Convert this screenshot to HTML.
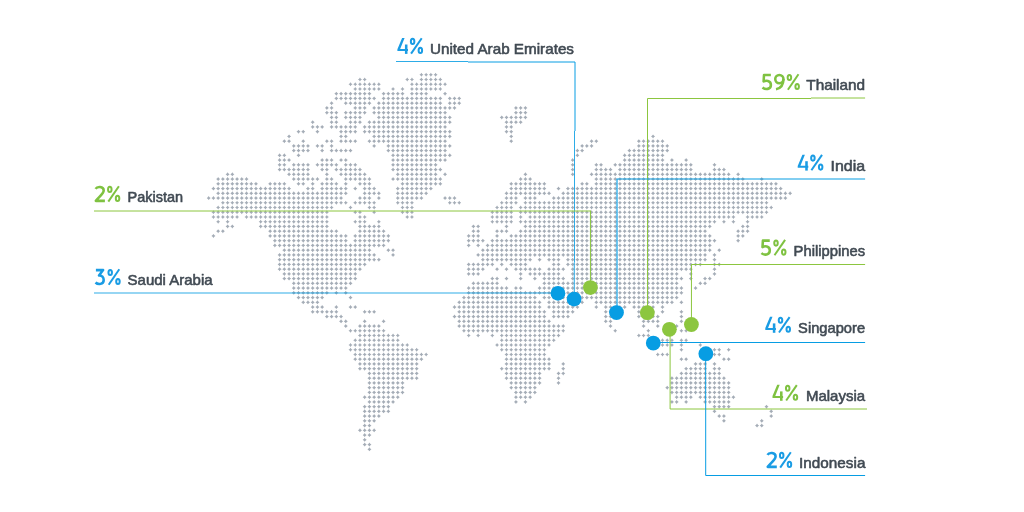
<!DOCTYPE html>
<html><head><meta charset="utf-8"><title>Map</title>
<style>
html,body{margin:0;padding:0;background:#fff;}
body{width:1024px;height:512px;overflow:hidden;font-family:"Liberation Sans",sans-serif;}
svg{display:block;font-family:"Liberation Sans",sans-serif;will-change:transform;}
</style></head><body>
<svg width="1024" height="512" viewBox="0 0 1024 512">
<rect width="1024" height="512" fill="#fff"/>
<path fill="#a5adb7" d="M421.41 74.76m-2 0 1.15-.85.85-1.15.85 1.15 1.15.85-1.15.85-.85 1.15-.85-1.15zM426.14 74.76m-2 0 1.15-.85.85-1.15.85 1.15 1.15.85-1.15.85-.85 1.15-.85-1.15zM430.87 74.76m-2 0 1.15-.85.85-1.15.85 1.15 1.15.85-1.15.85-.85 1.15-.85-1.15zM435.60 74.76m-2 0 1.15-.85.85-1.15.85 1.15 1.15.85-1.15.85-.85 1.15-.85-1.15zM359.96 79.50m-2 0 1.15-.85.85-1.15.85 1.15 1.15.85-1.15.85-.85 1.15-.85-1.15zM364.69 79.50m-2 0 1.15-.85.85-1.15.85 1.15 1.15.85-1.15.85-.85 1.15-.85-1.15zM407.23 79.50m-2 0 1.15-.85.85-1.15.85 1.15 1.15.85-1.15.85-.85 1.15-.85-1.15zM411.96 79.50m-2 0 1.15-.85.85-1.15.85 1.15 1.15.85-1.15.85-.85 1.15-.85-1.15zM421.41 79.50m-2 0 1.15-.85.85-1.15.85 1.15 1.15.85-1.15.85-.85 1.15-.85-1.15zM426.14 79.50m-2 0 1.15-.85.85-1.15.85 1.15 1.15.85-1.15.85-.85 1.15-.85-1.15zM430.87 79.50m-2 0 1.15-.85.85-1.15.85 1.15 1.15.85-1.15.85-.85 1.15-.85-1.15zM435.60 79.50m-2 0 1.15-.85.85-1.15.85 1.15 1.15.85-1.15.85-.85 1.15-.85-1.15zM440.32 79.50m-2 0 1.15-.85.85-1.15.85 1.15 1.15.85-1.15.85-.85 1.15-.85-1.15zM350.51 84.24m-2 0 1.15-.85.85-1.15.85 1.15 1.15.85-1.15.85-.85 1.15-.85-1.15zM355.24 84.24m-2 0 1.15-.85.85-1.15.85 1.15 1.15.85-1.15.85-.85 1.15-.85-1.15zM359.96 84.24m-2 0 1.15-.85.85-1.15.85 1.15 1.15.85-1.15.85-.85 1.15-.85-1.15zM364.69 84.24m-2 0 1.15-.85.85-1.15.85 1.15 1.15.85-1.15.85-.85 1.15-.85-1.15zM369.42 84.24m-2 0 1.15-.85.85-1.15.85 1.15 1.15.85-1.15.85-.85 1.15-.85-1.15zM374.14 84.24m-2 0 1.15-.85.85-1.15.85 1.15 1.15.85-1.15.85-.85 1.15-.85-1.15zM378.87 84.24m-2 0 1.15-.85.85-1.15.85 1.15 1.15.85-1.15.85-.85 1.15-.85-1.15zM411.96 84.24m-2 0 1.15-.85.85-1.15.85 1.15 1.15.85-1.15.85-.85 1.15-.85-1.15zM416.69 84.24m-2 0 1.15-.85.85-1.15.85 1.15 1.15.85-1.15.85-.85 1.15-.85-1.15zM421.41 84.24m-2 0 1.15-.85.85-1.15.85 1.15 1.15.85-1.15.85-.85 1.15-.85-1.15zM426.14 84.24m-2 0 1.15-.85.85-1.15.85 1.15 1.15.85-1.15.85-.85 1.15-.85-1.15zM430.87 84.24m-2 0 1.15-.85.85-1.15.85 1.15 1.15.85-1.15.85-.85 1.15-.85-1.15zM435.60 84.24m-2 0 1.15-.85.85-1.15.85 1.15 1.15.85-1.15.85-.85 1.15-.85-1.15zM440.32 84.24m-2 0 1.15-.85.85-1.15.85 1.15 1.15.85-1.15.85-.85 1.15-.85-1.15zM445.05 84.24m-2 0 1.15-.85.85-1.15.85 1.15 1.15.85-1.15.85-.85 1.15-.85-1.15zM355.24 88.98m-2 0 1.15-.85.85-1.15.85 1.15 1.15.85-1.15.85-.85 1.15-.85-1.15zM359.96 88.98m-2 0 1.15-.85.85-1.15.85 1.15 1.15.85-1.15.85-.85 1.15-.85-1.15zM364.69 88.98m-2 0 1.15-.85.85-1.15.85 1.15 1.15.85-1.15.85-.85 1.15-.85-1.15zM369.42 88.98m-2 0 1.15-.85.85-1.15.85 1.15 1.15.85-1.15.85-.85 1.15-.85-1.15zM374.14 88.98m-2 0 1.15-.85.85-1.15.85 1.15 1.15.85-1.15.85-.85 1.15-.85-1.15zM378.87 88.98m-2 0 1.15-.85.85-1.15.85 1.15 1.15.85-1.15.85-.85 1.15-.85-1.15zM393.05 88.98m-2 0 1.15-.85.85-1.15.85 1.15 1.15.85-1.15.85-.85 1.15-.85-1.15zM402.51 88.98m-2 0 1.15-.85.85-1.15.85 1.15 1.15.85-1.15.85-.85 1.15-.85-1.15zM411.96 88.98m-2 0 1.15-.85.85-1.15.85 1.15 1.15.85-1.15.85-.85 1.15-.85-1.15zM416.69 88.98m-2 0 1.15-.85.85-1.15.85 1.15 1.15.85-1.15.85-.85 1.15-.85-1.15zM421.41 88.98m-2 0 1.15-.85.85-1.15.85 1.15 1.15.85-1.15.85-.85 1.15-.85-1.15zM426.14 88.98m-2 0 1.15-.85.85-1.15.85 1.15 1.15.85-1.15.85-.85 1.15-.85-1.15zM430.87 88.98m-2 0 1.15-.85.85-1.15.85 1.15 1.15.85-1.15.85-.85 1.15-.85-1.15zM435.60 88.98m-2 0 1.15-.85.85-1.15.85 1.15 1.15.85-1.15.85-.85 1.15-.85-1.15zM440.32 88.98m-2 0 1.15-.85.85-1.15.85 1.15 1.15.85-1.15.85-.85 1.15-.85-1.15zM336.33 93.72m-2 0 1.15-.85.85-1.15.85 1.15 1.15.85-1.15.85-.85 1.15-.85-1.15zM341.06 93.72m-2 0 1.15-.85.85-1.15.85 1.15 1.15.85-1.15.85-.85 1.15-.85-1.15zM345.78 93.72m-2 0 1.15-.85.85-1.15.85 1.15 1.15.85-1.15.85-.85 1.15-.85-1.15zM350.51 93.72m-2 0 1.15-.85.85-1.15.85 1.15 1.15.85-1.15.85-.85 1.15-.85-1.15zM355.24 93.72m-2 0 1.15-.85.85-1.15.85 1.15 1.15.85-1.15.85-.85 1.15-.85-1.15zM359.96 93.72m-2 0 1.15-.85.85-1.15.85 1.15 1.15.85-1.15.85-.85 1.15-.85-1.15zM364.69 93.72m-2 0 1.15-.85.85-1.15.85 1.15 1.15.85-1.15.85-.85 1.15-.85-1.15zM369.42 93.72m-2 0 1.15-.85.85-1.15.85 1.15 1.15.85-1.15.85-.85 1.15-.85-1.15zM383.60 93.72m-2 0 1.15-.85.85-1.15.85 1.15 1.15.85-1.15.85-.85 1.15-.85-1.15zM388.33 93.72m-2 0 1.15-.85.85-1.15.85 1.15 1.15.85-1.15.85-.85 1.15-.85-1.15zM393.05 93.72m-2 0 1.15-.85.85-1.15.85 1.15 1.15.85-1.15.85-.85 1.15-.85-1.15zM397.78 93.72m-2 0 1.15-.85.85-1.15.85 1.15 1.15.85-1.15.85-.85 1.15-.85-1.15zM402.51 93.72m-2 0 1.15-.85.85-1.15.85 1.15 1.15.85-1.15.85-.85 1.15-.85-1.15zM411.96 93.72m-2 0 1.15-.85.85-1.15.85 1.15 1.15.85-1.15.85-.85 1.15-.85-1.15zM416.69 93.72m-2 0 1.15-.85.85-1.15.85 1.15 1.15.85-1.15.85-.85 1.15-.85-1.15zM421.41 93.72m-2 0 1.15-.85.85-1.15.85 1.15 1.15.85-1.15.85-.85 1.15-.85-1.15zM426.14 93.72m-2 0 1.15-.85.85-1.15.85 1.15 1.15.85-1.15.85-.85 1.15-.85-1.15zM445.05 93.72m-2 0 1.15-.85.85-1.15.85 1.15 1.15.85-1.15.85-.85 1.15-.85-1.15zM336.33 98.47m-2 0 1.15-.85.85-1.15.85 1.15 1.15.85-1.15.85-.85 1.15-.85-1.15zM341.06 98.47m-2 0 1.15-.85.85-1.15.85 1.15 1.15.85-1.15.85-.85 1.15-.85-1.15zM345.78 98.47m-2 0 1.15-.85.85-1.15.85 1.15 1.15.85-1.15.85-.85 1.15-.85-1.15zM350.51 98.47m-2 0 1.15-.85.85-1.15.85 1.15 1.15.85-1.15.85-.85 1.15-.85-1.15zM355.24 98.47m-2 0 1.15-.85.85-1.15.85 1.15 1.15.85-1.15.85-.85 1.15-.85-1.15zM359.96 98.47m-2 0 1.15-.85.85-1.15.85 1.15 1.15.85-1.15.85-.85 1.15-.85-1.15zM364.69 98.47m-2 0 1.15-.85.85-1.15.85 1.15 1.15.85-1.15.85-.85 1.15-.85-1.15zM369.42 98.47m-2 0 1.15-.85.85-1.15.85 1.15 1.15.85-1.15.85-.85 1.15-.85-1.15zM374.14 98.47m-2 0 1.15-.85.85-1.15.85 1.15 1.15.85-1.15.85-.85 1.15-.85-1.15zM383.60 98.47m-2 0 1.15-.85.85-1.15.85 1.15 1.15.85-1.15.85-.85 1.15-.85-1.15zM388.33 98.47m-2 0 1.15-.85.85-1.15.85 1.15 1.15.85-1.15.85-.85 1.15-.85-1.15zM393.05 98.47m-2 0 1.15-.85.85-1.15.85 1.15 1.15.85-1.15.85-.85 1.15-.85-1.15zM397.78 98.47m-2 0 1.15-.85.85-1.15.85 1.15 1.15.85-1.15.85-.85 1.15-.85-1.15zM402.51 98.47m-2 0 1.15-.85.85-1.15.85 1.15 1.15.85-1.15.85-.85 1.15-.85-1.15zM407.23 98.47m-2 0 1.15-.85.85-1.15.85 1.15 1.15.85-1.15.85-.85 1.15-.85-1.15zM411.96 98.47m-2 0 1.15-.85.85-1.15.85 1.15 1.15.85-1.15.85-.85 1.15-.85-1.15zM416.69 98.47m-2 0 1.15-.85.85-1.15.85 1.15 1.15.85-1.15.85-.85 1.15-.85-1.15zM421.41 98.47m-2 0 1.15-.85.85-1.15.85 1.15 1.15.85-1.15.85-.85 1.15-.85-1.15zM426.14 98.47m-2 0 1.15-.85.85-1.15.85 1.15 1.15.85-1.15.85-.85 1.15-.85-1.15zM430.87 98.47m-2 0 1.15-.85.85-1.15.85 1.15 1.15.85-1.15.85-.85 1.15-.85-1.15zM435.60 98.47m-2 0 1.15-.85.85-1.15.85 1.15 1.15.85-1.15.85-.85 1.15-.85-1.15zM440.32 98.47m-2 0 1.15-.85.85-1.15.85 1.15 1.15.85-1.15.85-.85 1.15-.85-1.15zM449.78 98.47m-2 0 1.15-.85.85-1.15.85 1.15 1.15.85-1.15.85-.85 1.15-.85-1.15zM454.50 98.47m-2 0 1.15-.85.85-1.15.85 1.15 1.15.85-1.15.85-.85 1.15-.85-1.15zM459.23 98.47m-2 0 1.15-.85.85-1.15.85 1.15 1.15.85-1.15.85-.85 1.15-.85-1.15zM331.60 103.21m-2 0 1.15-.85.85-1.15.85 1.15 1.15.85-1.15.85-.85 1.15-.85-1.15zM345.78 103.21m-2 0 1.15-.85.85-1.15.85 1.15 1.15.85-1.15.85-.85 1.15-.85-1.15zM350.51 103.21m-2 0 1.15-.85.85-1.15.85 1.15 1.15.85-1.15.85-.85 1.15-.85-1.15zM355.24 103.21m-2 0 1.15-.85.85-1.15.85 1.15 1.15.85-1.15.85-.85 1.15-.85-1.15zM359.96 103.21m-2 0 1.15-.85.85-1.15.85 1.15 1.15.85-1.15.85-.85 1.15-.85-1.15zM364.69 103.21m-2 0 1.15-.85.85-1.15.85 1.15 1.15.85-1.15.85-.85 1.15-.85-1.15zM369.42 103.21m-2 0 1.15-.85.85-1.15.85 1.15 1.15.85-1.15.85-.85 1.15-.85-1.15zM378.87 103.21m-2 0 1.15-.85.85-1.15.85 1.15 1.15.85-1.15.85-.85 1.15-.85-1.15zM383.60 103.21m-2 0 1.15-.85.85-1.15.85 1.15 1.15.85-1.15.85-.85 1.15-.85-1.15zM388.33 103.21m-2 0 1.15-.85.85-1.15.85 1.15 1.15.85-1.15.85-.85 1.15-.85-1.15zM393.05 103.21m-2 0 1.15-.85.85-1.15.85 1.15 1.15.85-1.15.85-.85 1.15-.85-1.15zM397.78 103.21m-2 0 1.15-.85.85-1.15.85 1.15 1.15.85-1.15.85-.85 1.15-.85-1.15zM402.51 103.21m-2 0 1.15-.85.85-1.15.85 1.15 1.15.85-1.15.85-.85 1.15-.85-1.15zM407.23 103.21m-2 0 1.15-.85.85-1.15.85 1.15 1.15.85-1.15.85-.85 1.15-.85-1.15zM411.96 103.21m-2 0 1.15-.85.85-1.15.85 1.15 1.15.85-1.15.85-.85 1.15-.85-1.15zM416.69 103.21m-2 0 1.15-.85.85-1.15.85 1.15 1.15.85-1.15.85-.85 1.15-.85-1.15zM421.41 103.21m-2 0 1.15-.85.85-1.15.85 1.15 1.15.85-1.15.85-.85 1.15-.85-1.15zM426.14 103.21m-2 0 1.15-.85.85-1.15.85 1.15 1.15.85-1.15.85-.85 1.15-.85-1.15zM430.87 103.21m-2 0 1.15-.85.85-1.15.85 1.15 1.15.85-1.15.85-.85 1.15-.85-1.15zM435.60 103.21m-2 0 1.15-.85.85-1.15.85 1.15 1.15.85-1.15.85-.85 1.15-.85-1.15zM440.32 103.21m-2 0 1.15-.85.85-1.15.85 1.15 1.15.85-1.15.85-.85 1.15-.85-1.15zM449.78 103.21m-2 0 1.15-.85.85-1.15.85 1.15 1.15.85-1.15.85-.85 1.15-.85-1.15zM454.50 103.21m-2 0 1.15-.85.85-1.15.85 1.15 1.15.85-1.15.85-.85 1.15-.85-1.15zM459.23 103.21m-2 0 1.15-.85.85-1.15.85 1.15 1.15.85-1.15.85-.85 1.15-.85-1.15zM326.88 107.95m-2 0 1.15-.85.85-1.15.85 1.15 1.15.85-1.15.85-.85 1.15-.85-1.15zM331.60 107.95m-2 0 1.15-.85.85-1.15.85 1.15 1.15.85-1.15.85-.85 1.15-.85-1.15zM355.24 107.95m-2 0 1.15-.85.85-1.15.85 1.15 1.15.85-1.15.85-.85 1.15-.85-1.15zM359.96 107.95m-2 0 1.15-.85.85-1.15.85 1.15 1.15.85-1.15.85-.85 1.15-.85-1.15zM364.69 107.95m-2 0 1.15-.85.85-1.15.85 1.15 1.15.85-1.15.85-.85 1.15-.85-1.15zM374.14 107.95m-2 0 1.15-.85.85-1.15.85 1.15 1.15.85-1.15.85-.85 1.15-.85-1.15zM378.87 107.95m-2 0 1.15-.85.85-1.15.85 1.15 1.15.85-1.15.85-.85 1.15-.85-1.15zM383.60 107.95m-2 0 1.15-.85.85-1.15.85 1.15 1.15.85-1.15.85-.85 1.15-.85-1.15zM388.33 107.95m-2 0 1.15-.85.85-1.15.85 1.15 1.15.85-1.15.85-.85 1.15-.85-1.15zM393.05 107.95m-2 0 1.15-.85.85-1.15.85 1.15 1.15.85-1.15.85-.85 1.15-.85-1.15zM397.78 107.95m-2 0 1.15-.85.85-1.15.85 1.15 1.15.85-1.15.85-.85 1.15-.85-1.15zM402.51 107.95m-2 0 1.15-.85.85-1.15.85 1.15 1.15.85-1.15.85-.85 1.15-.85-1.15zM407.23 107.95m-2 0 1.15-.85.85-1.15.85 1.15 1.15.85-1.15.85-.85 1.15-.85-1.15zM411.96 107.95m-2 0 1.15-.85.85-1.15.85 1.15 1.15.85-1.15.85-.85 1.15-.85-1.15zM416.69 107.95m-2 0 1.15-.85.85-1.15.85 1.15 1.15.85-1.15.85-.85 1.15-.85-1.15zM421.41 107.95m-2 0 1.15-.85.85-1.15.85 1.15 1.15.85-1.15.85-.85 1.15-.85-1.15zM426.14 107.95m-2 0 1.15-.85.85-1.15.85 1.15 1.15.85-1.15.85-.85 1.15-.85-1.15zM430.87 107.95m-2 0 1.15-.85.85-1.15.85 1.15 1.15.85-1.15.85-.85 1.15-.85-1.15zM435.60 107.95m-2 0 1.15-.85.85-1.15.85 1.15 1.15.85-1.15.85-.85 1.15-.85-1.15zM440.32 107.95m-2 0 1.15-.85.85-1.15.85 1.15 1.15.85-1.15.85-.85 1.15-.85-1.15zM445.05 107.95m-2 0 1.15-.85.85-1.15.85 1.15 1.15.85-1.15.85-.85 1.15-.85-1.15zM449.78 107.95m-2 0 1.15-.85.85-1.15.85 1.15 1.15.85-1.15.85-.85 1.15-.85-1.15zM454.50 107.95m-2 0 1.15-.85.85-1.15.85 1.15 1.15.85-1.15.85-.85 1.15-.85-1.15zM515.95 107.95m-2 0 1.15-.85.85-1.15.85 1.15 1.15.85-1.15.85-.85 1.15-.85-1.15zM520.68 107.95m-2 0 1.15-.85.85-1.15.85 1.15 1.15.85-1.15.85-.85 1.15-.85-1.15zM525.41 107.95m-2 0 1.15-.85.85-1.15.85 1.15 1.15.85-1.15.85-.85 1.15-.85-1.15zM326.88 112.69m-2 0 1.15-.85.85-1.15.85 1.15 1.15.85-1.15.85-.85 1.15-.85-1.15zM331.60 112.69m-2 0 1.15-.85.85-1.15.85 1.15 1.15.85-1.15.85-.85 1.15-.85-1.15zM336.33 112.69m-2 0 1.15-.85.85-1.15.85 1.15 1.15.85-1.15.85-.85 1.15-.85-1.15zM345.78 112.69m-2 0 1.15-.85.85-1.15.85 1.15 1.15.85-1.15.85-.85 1.15-.85-1.15zM350.51 112.69m-2 0 1.15-.85.85-1.15.85 1.15 1.15.85-1.15.85-.85 1.15-.85-1.15zM355.24 112.69m-2 0 1.15-.85.85-1.15.85 1.15 1.15.85-1.15.85-.85 1.15-.85-1.15zM359.96 112.69m-2 0 1.15-.85.85-1.15.85 1.15 1.15.85-1.15.85-.85 1.15-.85-1.15zM364.69 112.69m-2 0 1.15-.85.85-1.15.85 1.15 1.15.85-1.15.85-.85 1.15-.85-1.15zM374.14 112.69m-2 0 1.15-.85.85-1.15.85 1.15 1.15.85-1.15.85-.85 1.15-.85-1.15zM378.87 112.69m-2 0 1.15-.85.85-1.15.85 1.15 1.15.85-1.15.85-.85 1.15-.85-1.15zM383.60 112.69m-2 0 1.15-.85.85-1.15.85 1.15 1.15.85-1.15.85-.85 1.15-.85-1.15zM388.33 112.69m-2 0 1.15-.85.85-1.15.85 1.15 1.15.85-1.15.85-.85 1.15-.85-1.15zM393.05 112.69m-2 0 1.15-.85.85-1.15.85 1.15 1.15.85-1.15.85-.85 1.15-.85-1.15zM397.78 112.69m-2 0 1.15-.85.85-1.15.85 1.15 1.15.85-1.15.85-.85 1.15-.85-1.15zM402.51 112.69m-2 0 1.15-.85.85-1.15.85 1.15 1.15.85-1.15.85-.85 1.15-.85-1.15zM407.23 112.69m-2 0 1.15-.85.85-1.15.85 1.15 1.15.85-1.15.85-.85 1.15-.85-1.15zM411.96 112.69m-2 0 1.15-.85.85-1.15.85 1.15 1.15.85-1.15.85-.85 1.15-.85-1.15zM416.69 112.69m-2 0 1.15-.85.85-1.15.85 1.15 1.15.85-1.15.85-.85 1.15-.85-1.15zM421.41 112.69m-2 0 1.15-.85.85-1.15.85 1.15 1.15.85-1.15.85-.85 1.15-.85-1.15zM426.14 112.69m-2 0 1.15-.85.85-1.15.85 1.15 1.15.85-1.15.85-.85 1.15-.85-1.15zM430.87 112.69m-2 0 1.15-.85.85-1.15.85 1.15 1.15.85-1.15.85-.85 1.15-.85-1.15zM435.60 112.69m-2 0 1.15-.85.85-1.15.85 1.15 1.15.85-1.15.85-.85 1.15-.85-1.15zM440.32 112.69m-2 0 1.15-.85.85-1.15.85 1.15 1.15.85-1.15.85-.85 1.15-.85-1.15zM445.05 112.69m-2 0 1.15-.85.85-1.15.85 1.15 1.15.85-1.15.85-.85 1.15-.85-1.15zM515.95 112.69m-2 0 1.15-.85.85-1.15.85 1.15 1.15.85-1.15.85-.85 1.15-.85-1.15zM520.68 112.69m-2 0 1.15-.85.85-1.15.85 1.15 1.15.85-1.15.85-.85 1.15-.85-1.15zM525.41 112.69m-2 0 1.15-.85.85-1.15.85 1.15 1.15.85-1.15.85-.85 1.15-.85-1.15zM331.60 117.43m-2 0 1.15-.85.85-1.15.85 1.15 1.15.85-1.15.85-.85 1.15-.85-1.15zM336.33 117.43m-2 0 1.15-.85.85-1.15.85 1.15 1.15.85-1.15.85-.85 1.15-.85-1.15zM345.78 117.43m-2 0 1.15-.85.85-1.15.85 1.15 1.15.85-1.15.85-.85 1.15-.85-1.15zM350.51 117.43m-2 0 1.15-.85.85-1.15.85 1.15 1.15.85-1.15.85-.85 1.15-.85-1.15zM355.24 117.43m-2 0 1.15-.85.85-1.15.85 1.15 1.15.85-1.15.85-.85 1.15-.85-1.15zM359.96 117.43m-2 0 1.15-.85.85-1.15.85 1.15 1.15.85-1.15.85-.85 1.15-.85-1.15zM378.87 117.43m-2 0 1.15-.85.85-1.15.85 1.15 1.15.85-1.15.85-.85 1.15-.85-1.15zM383.60 117.43m-2 0 1.15-.85.85-1.15.85 1.15 1.15.85-1.15.85-.85 1.15-.85-1.15zM388.33 117.43m-2 0 1.15-.85.85-1.15.85 1.15 1.15.85-1.15.85-.85 1.15-.85-1.15zM393.05 117.43m-2 0 1.15-.85.85-1.15.85 1.15 1.15.85-1.15.85-.85 1.15-.85-1.15zM397.78 117.43m-2 0 1.15-.85.85-1.15.85 1.15 1.15.85-1.15.85-.85 1.15-.85-1.15zM402.51 117.43m-2 0 1.15-.85.85-1.15.85 1.15 1.15.85-1.15.85-.85 1.15-.85-1.15zM407.23 117.43m-2 0 1.15-.85.85-1.15.85 1.15 1.15.85-1.15.85-.85 1.15-.85-1.15zM411.96 117.43m-2 0 1.15-.85.85-1.15.85 1.15 1.15.85-1.15.85-.85 1.15-.85-1.15zM416.69 117.43m-2 0 1.15-.85.85-1.15.85 1.15 1.15.85-1.15.85-.85 1.15-.85-1.15zM421.41 117.43m-2 0 1.15-.85.85-1.15.85 1.15 1.15.85-1.15.85-.85 1.15-.85-1.15zM426.14 117.43m-2 0 1.15-.85.85-1.15.85 1.15 1.15.85-1.15.85-.85 1.15-.85-1.15zM430.87 117.43m-2 0 1.15-.85.85-1.15.85 1.15 1.15.85-1.15.85-.85 1.15-.85-1.15zM435.60 117.43m-2 0 1.15-.85.85-1.15.85 1.15 1.15.85-1.15.85-.85 1.15-.85-1.15zM440.32 117.43m-2 0 1.15-.85.85-1.15.85 1.15 1.15.85-1.15.85-.85 1.15-.85-1.15zM445.05 117.43m-2 0 1.15-.85.85-1.15.85 1.15 1.15.85-1.15.85-.85 1.15-.85-1.15zM449.78 117.43m-2 0 1.15-.85.85-1.15.85 1.15 1.15.85-1.15.85-.85 1.15-.85-1.15zM501.77 117.43m-2 0 1.15-.85.85-1.15.85 1.15 1.15.85-1.15.85-.85 1.15-.85-1.15zM506.50 117.43m-2 0 1.15-.85.85-1.15.85 1.15 1.15.85-1.15.85-.85 1.15-.85-1.15zM511.23 117.43m-2 0 1.15-.85.85-1.15.85 1.15 1.15.85-1.15.85-.85 1.15-.85-1.15zM515.95 117.43m-2 0 1.15-.85.85-1.15.85 1.15 1.15.85-1.15.85-.85 1.15-.85-1.15zM520.68 117.43m-2 0 1.15-.85.85-1.15.85 1.15 1.15.85-1.15.85-.85 1.15-.85-1.15zM525.41 117.43m-2 0 1.15-.85.85-1.15.85 1.15 1.15.85-1.15.85-.85 1.15-.85-1.15zM312.69 122.17m-2 0 1.15-.85.85-1.15.85 1.15 1.15.85-1.15.85-.85 1.15-.85-1.15zM331.60 122.17m-2 0 1.15-.85.85-1.15.85 1.15 1.15.85-1.15.85-.85 1.15-.85-1.15zM336.33 122.17m-2 0 1.15-.85.85-1.15.85 1.15 1.15.85-1.15.85-.85 1.15-.85-1.15zM350.51 122.17m-2 0 1.15-.85.85-1.15.85 1.15 1.15.85-1.15.85-.85 1.15-.85-1.15zM355.24 122.17m-2 0 1.15-.85.85-1.15.85 1.15 1.15.85-1.15.85-.85 1.15-.85-1.15zM359.96 122.17m-2 0 1.15-.85.85-1.15.85 1.15 1.15.85-1.15.85-.85 1.15-.85-1.15zM369.42 122.17m-2 0 1.15-.85.85-1.15.85 1.15 1.15.85-1.15.85-.85 1.15-.85-1.15zM374.14 122.17m-2 0 1.15-.85.85-1.15.85 1.15 1.15.85-1.15.85-.85 1.15-.85-1.15zM378.87 122.17m-2 0 1.15-.85.85-1.15.85 1.15 1.15.85-1.15.85-.85 1.15-.85-1.15zM383.60 122.17m-2 0 1.15-.85.85-1.15.85 1.15 1.15.85-1.15.85-.85 1.15-.85-1.15zM388.33 122.17m-2 0 1.15-.85.85-1.15.85 1.15 1.15.85-1.15.85-.85 1.15-.85-1.15zM393.05 122.17m-2 0 1.15-.85.85-1.15.85 1.15 1.15.85-1.15.85-.85 1.15-.85-1.15zM397.78 122.17m-2 0 1.15-.85.85-1.15.85 1.15 1.15.85-1.15.85-.85 1.15-.85-1.15zM402.51 122.17m-2 0 1.15-.85.85-1.15.85 1.15 1.15.85-1.15.85-.85 1.15-.85-1.15zM407.23 122.17m-2 0 1.15-.85.85-1.15.85 1.15 1.15.85-1.15.85-.85 1.15-.85-1.15zM411.96 122.17m-2 0 1.15-.85.85-1.15.85 1.15 1.15.85-1.15.85-.85 1.15-.85-1.15zM416.69 122.17m-2 0 1.15-.85.85-1.15.85 1.15 1.15.85-1.15.85-.85 1.15-.85-1.15zM421.41 122.17m-2 0 1.15-.85.85-1.15.85 1.15 1.15.85-1.15.85-.85 1.15-.85-1.15zM426.14 122.17m-2 0 1.15-.85.85-1.15.85 1.15 1.15.85-1.15.85-.85 1.15-.85-1.15zM430.87 122.17m-2 0 1.15-.85.85-1.15.85 1.15 1.15.85-1.15.85-.85 1.15-.85-1.15zM435.60 122.17m-2 0 1.15-.85.85-1.15.85 1.15 1.15.85-1.15.85-.85 1.15-.85-1.15zM440.32 122.17m-2 0 1.15-.85.85-1.15.85 1.15 1.15.85-1.15.85-.85 1.15-.85-1.15zM445.05 122.17m-2 0 1.15-.85.85-1.15.85 1.15 1.15.85-1.15.85-.85 1.15-.85-1.15zM449.78 122.17m-2 0 1.15-.85.85-1.15.85 1.15 1.15.85-1.15.85-.85 1.15-.85-1.15zM506.50 122.17m-2 0 1.15-.85.85-1.15.85 1.15 1.15.85-1.15.85-.85 1.15-.85-1.15zM511.23 122.17m-2 0 1.15-.85.85-1.15.85 1.15 1.15.85-1.15.85-.85 1.15-.85-1.15zM515.95 122.17m-2 0 1.15-.85.85-1.15.85 1.15 1.15.85-1.15.85-.85 1.15-.85-1.15zM520.68 122.17m-2 0 1.15-.85.85-1.15.85 1.15 1.15.85-1.15.85-.85 1.15-.85-1.15zM312.69 126.91m-2 0 1.15-.85.85-1.15.85 1.15 1.15.85-1.15.85-.85 1.15-.85-1.15zM317.42 126.91m-2 0 1.15-.85.85-1.15.85 1.15 1.15.85-1.15.85-.85 1.15-.85-1.15zM322.15 126.91m-2 0 1.15-.85.85-1.15.85 1.15 1.15.85-1.15.85-.85 1.15-.85-1.15zM331.60 126.91m-2 0 1.15-.85.85-1.15.85 1.15 1.15.85-1.15.85-.85 1.15-.85-1.15zM336.33 126.91m-2 0 1.15-.85.85-1.15.85 1.15 1.15.85-1.15.85-.85 1.15-.85-1.15zM341.06 126.91m-2 0 1.15-.85.85-1.15.85 1.15 1.15.85-1.15.85-.85 1.15-.85-1.15zM345.78 126.91m-2 0 1.15-.85.85-1.15.85 1.15 1.15.85-1.15.85-.85 1.15-.85-1.15zM350.51 126.91m-2 0 1.15-.85.85-1.15.85 1.15 1.15.85-1.15.85-.85 1.15-.85-1.15zM355.24 126.91m-2 0 1.15-.85.85-1.15.85 1.15 1.15.85-1.15.85-.85 1.15-.85-1.15zM364.69 126.91m-2 0 1.15-.85.85-1.15.85 1.15 1.15.85-1.15.85-.85 1.15-.85-1.15zM369.42 126.91m-2 0 1.15-.85.85-1.15.85 1.15 1.15.85-1.15.85-.85 1.15-.85-1.15zM374.14 126.91m-2 0 1.15-.85.85-1.15.85 1.15 1.15.85-1.15.85-.85 1.15-.85-1.15zM378.87 126.91m-2 0 1.15-.85.85-1.15.85 1.15 1.15.85-1.15.85-.85 1.15-.85-1.15zM383.60 126.91m-2 0 1.15-.85.85-1.15.85 1.15 1.15.85-1.15.85-.85 1.15-.85-1.15zM388.33 126.91m-2 0 1.15-.85.85-1.15.85 1.15 1.15.85-1.15.85-.85 1.15-.85-1.15zM393.05 126.91m-2 0 1.15-.85.85-1.15.85 1.15 1.15.85-1.15.85-.85 1.15-.85-1.15zM397.78 126.91m-2 0 1.15-.85.85-1.15.85 1.15 1.15.85-1.15.85-.85 1.15-.85-1.15zM402.51 126.91m-2 0 1.15-.85.85-1.15.85 1.15 1.15.85-1.15.85-.85 1.15-.85-1.15zM407.23 126.91m-2 0 1.15-.85.85-1.15.85 1.15 1.15.85-1.15.85-.85 1.15-.85-1.15zM411.96 126.91m-2 0 1.15-.85.85-1.15.85 1.15 1.15.85-1.15.85-.85 1.15-.85-1.15zM416.69 126.91m-2 0 1.15-.85.85-1.15.85 1.15 1.15.85-1.15.85-.85 1.15-.85-1.15zM421.41 126.91m-2 0 1.15-.85.85-1.15.85 1.15 1.15.85-1.15.85-.85 1.15-.85-1.15zM426.14 126.91m-2 0 1.15-.85.85-1.15.85 1.15 1.15.85-1.15.85-.85 1.15-.85-1.15zM430.87 126.91m-2 0 1.15-.85.85-1.15.85 1.15 1.15.85-1.15.85-.85 1.15-.85-1.15zM435.60 126.91m-2 0 1.15-.85.85-1.15.85 1.15 1.15.85-1.15.85-.85 1.15-.85-1.15zM440.32 126.91m-2 0 1.15-.85.85-1.15.85 1.15 1.15.85-1.15.85-.85 1.15-.85-1.15zM445.05 126.91m-2 0 1.15-.85.85-1.15.85 1.15 1.15.85-1.15.85-.85 1.15-.85-1.15zM506.50 126.91m-2 0 1.15-.85.85-1.15.85 1.15 1.15.85-1.15.85-.85 1.15-.85-1.15zM511.23 126.91m-2 0 1.15-.85.85-1.15.85 1.15 1.15.85-1.15.85-.85 1.15-.85-1.15zM298.51 131.65m-2 0 1.15-.85.85-1.15.85 1.15 1.15.85-1.15.85-.85 1.15-.85-1.15zM303.24 131.65m-2 0 1.15-.85.85-1.15.85 1.15 1.15.85-1.15.85-.85 1.15-.85-1.15zM317.42 131.65m-2 0 1.15-.85.85-1.15.85 1.15 1.15.85-1.15.85-.85 1.15-.85-1.15zM341.06 131.65m-2 0 1.15-.85.85-1.15.85 1.15 1.15.85-1.15.85-.85 1.15-.85-1.15zM345.78 131.65m-2 0 1.15-.85.85-1.15.85 1.15 1.15.85-1.15.85-.85 1.15-.85-1.15zM350.51 131.65m-2 0 1.15-.85.85-1.15.85 1.15 1.15.85-1.15.85-.85 1.15-.85-1.15zM355.24 131.65m-2 0 1.15-.85.85-1.15.85 1.15 1.15.85-1.15.85-.85 1.15-.85-1.15zM364.69 131.65m-2 0 1.15-.85.85-1.15.85 1.15 1.15.85-1.15.85-.85 1.15-.85-1.15zM369.42 131.65m-2 0 1.15-.85.85-1.15.85 1.15 1.15.85-1.15.85-.85 1.15-.85-1.15zM374.14 131.65m-2 0 1.15-.85.85-1.15.85 1.15 1.15.85-1.15.85-.85 1.15-.85-1.15zM378.87 131.65m-2 0 1.15-.85.85-1.15.85 1.15 1.15.85-1.15.85-.85 1.15-.85-1.15zM383.60 131.65m-2 0 1.15-.85.85-1.15.85 1.15 1.15.85-1.15.85-.85 1.15-.85-1.15zM388.33 131.65m-2 0 1.15-.85.85-1.15.85 1.15 1.15.85-1.15.85-.85 1.15-.85-1.15zM393.05 131.65m-2 0 1.15-.85.85-1.15.85 1.15 1.15.85-1.15.85-.85 1.15-.85-1.15zM397.78 131.65m-2 0 1.15-.85.85-1.15.85 1.15 1.15.85-1.15.85-.85 1.15-.85-1.15zM402.51 131.65m-2 0 1.15-.85.85-1.15.85 1.15 1.15.85-1.15.85-.85 1.15-.85-1.15zM407.23 131.65m-2 0 1.15-.85.85-1.15.85 1.15 1.15.85-1.15.85-.85 1.15-.85-1.15zM411.96 131.65m-2 0 1.15-.85.85-1.15.85 1.15 1.15.85-1.15.85-.85 1.15-.85-1.15zM416.69 131.65m-2 0 1.15-.85.85-1.15.85 1.15 1.15.85-1.15.85-.85 1.15-.85-1.15zM421.41 131.65m-2 0 1.15-.85.85-1.15.85 1.15 1.15.85-1.15.85-.85 1.15-.85-1.15zM426.14 131.65m-2 0 1.15-.85.85-1.15.85 1.15 1.15.85-1.15.85-.85 1.15-.85-1.15zM430.87 131.65m-2 0 1.15-.85.85-1.15.85 1.15 1.15.85-1.15.85-.85 1.15-.85-1.15zM435.60 131.65m-2 0 1.15-.85.85-1.15.85 1.15 1.15.85-1.15.85-.85 1.15-.85-1.15zM440.32 131.65m-2 0 1.15-.85.85-1.15.85 1.15 1.15.85-1.15.85-.85 1.15-.85-1.15zM445.05 131.65m-2 0 1.15-.85.85-1.15.85 1.15 1.15.85-1.15.85-.85 1.15-.85-1.15zM449.78 131.65m-2 0 1.15-.85.85-1.15.85 1.15 1.15.85-1.15.85-.85 1.15-.85-1.15zM506.50 131.65m-2 0 1.15-.85.85-1.15.85 1.15 1.15.85-1.15.85-.85 1.15-.85-1.15zM511.23 131.65m-2 0 1.15-.85.85-1.15.85 1.15 1.15.85-1.15.85-.85 1.15-.85-1.15zM289.06 136.39m-2 0 1.15-.85.85-1.15.85 1.15 1.15.85-1.15.85-.85 1.15-.85-1.15zM341.06 136.39m-2 0 1.15-.85.85-1.15.85 1.15 1.15.85-1.15.85-.85 1.15-.85-1.15zM345.78 136.39m-2 0 1.15-.85.85-1.15.85 1.15 1.15.85-1.15.85-.85 1.15-.85-1.15zM374.14 136.39m-2 0 1.15-.85.85-1.15.85 1.15 1.15.85-1.15.85-.85 1.15-.85-1.15zM378.87 136.39m-2 0 1.15-.85.85-1.15.85 1.15 1.15.85-1.15.85-.85 1.15-.85-1.15zM383.60 136.39m-2 0 1.15-.85.85-1.15.85 1.15 1.15.85-1.15.85-.85 1.15-.85-1.15zM388.33 136.39m-2 0 1.15-.85.85-1.15.85 1.15 1.15.85-1.15.85-.85 1.15-.85-1.15zM393.05 136.39m-2 0 1.15-.85.85-1.15.85 1.15 1.15.85-1.15.85-.85 1.15-.85-1.15zM397.78 136.39m-2 0 1.15-.85.85-1.15.85 1.15 1.15.85-1.15.85-.85 1.15-.85-1.15zM402.51 136.39m-2 0 1.15-.85.85-1.15.85 1.15 1.15.85-1.15.85-.85 1.15-.85-1.15zM407.23 136.39m-2 0 1.15-.85.85-1.15.85 1.15 1.15.85-1.15.85-.85 1.15-.85-1.15zM411.96 136.39m-2 0 1.15-.85.85-1.15.85 1.15 1.15.85-1.15.85-.85 1.15-.85-1.15zM416.69 136.39m-2 0 1.15-.85.85-1.15.85 1.15 1.15.85-1.15.85-.85 1.15-.85-1.15zM421.41 136.39m-2 0 1.15-.85.85-1.15.85 1.15 1.15.85-1.15.85-.85 1.15-.85-1.15zM426.14 136.39m-2 0 1.15-.85.85-1.15.85 1.15 1.15.85-1.15.85-.85 1.15-.85-1.15zM430.87 136.39m-2 0 1.15-.85.85-1.15.85 1.15 1.15.85-1.15.85-.85 1.15-.85-1.15zM435.60 136.39m-2 0 1.15-.85.85-1.15.85 1.15 1.15.85-1.15.85-.85 1.15-.85-1.15zM440.32 136.39m-2 0 1.15-.85.85-1.15.85 1.15 1.15.85-1.15.85-.85 1.15-.85-1.15zM445.05 136.39m-2 0 1.15-.85.85-1.15.85 1.15 1.15.85-1.15.85-.85 1.15-.85-1.15zM449.78 136.39m-2 0 1.15-.85.85-1.15.85 1.15 1.15.85-1.15.85-.85 1.15-.85-1.15zM511.23 136.39m-2 0 1.15-.85.85-1.15.85 1.15 1.15.85-1.15.85-.85 1.15-.85-1.15zM653.04 136.39m-2 0 1.15-.85.85-1.15.85 1.15 1.15.85-1.15.85-.85 1.15-.85-1.15zM284.33 141.13m-2 0 1.15-.85.85-1.15.85 1.15 1.15.85-1.15.85-.85 1.15-.85-1.15zM289.06 141.13m-2 0 1.15-.85.85-1.15.85 1.15 1.15.85-1.15.85-.85 1.15-.85-1.15zM303.24 141.13m-2 0 1.15-.85.85-1.15.85 1.15 1.15.85-1.15.85-.85 1.15-.85-1.15zM326.88 141.13m-2 0 1.15-.85.85-1.15.85 1.15 1.15.85-1.15.85-.85 1.15-.85-1.15zM331.60 141.13m-2 0 1.15-.85.85-1.15.85 1.15 1.15.85-1.15.85-.85 1.15-.85-1.15zM341.06 141.13m-2 0 1.15-.85.85-1.15.85 1.15 1.15.85-1.15.85-.85 1.15-.85-1.15zM345.78 141.13m-2 0 1.15-.85.85-1.15.85 1.15 1.15.85-1.15.85-.85 1.15-.85-1.15zM350.51 141.13m-2 0 1.15-.85.85-1.15.85 1.15 1.15.85-1.15.85-.85 1.15-.85-1.15zM355.24 141.13m-2 0 1.15-.85.85-1.15.85 1.15 1.15.85-1.15.85-.85 1.15-.85-1.15zM369.42 141.13m-2 0 1.15-.85.85-1.15.85 1.15 1.15.85-1.15.85-.85 1.15-.85-1.15zM374.14 141.13m-2 0 1.15-.85.85-1.15.85 1.15 1.15.85-1.15.85-.85 1.15-.85-1.15zM378.87 141.13m-2 0 1.15-.85.85-1.15.85 1.15 1.15.85-1.15.85-.85 1.15-.85-1.15zM383.60 141.13m-2 0 1.15-.85.85-1.15.85 1.15 1.15.85-1.15.85-.85 1.15-.85-1.15zM388.33 141.13m-2 0 1.15-.85.85-1.15.85 1.15 1.15.85-1.15.85-.85 1.15-.85-1.15zM393.05 141.13m-2 0 1.15-.85.85-1.15.85 1.15 1.15.85-1.15.85-.85 1.15-.85-1.15zM397.78 141.13m-2 0 1.15-.85.85-1.15.85 1.15 1.15.85-1.15.85-.85 1.15-.85-1.15zM402.51 141.13m-2 0 1.15-.85.85-1.15.85 1.15 1.15.85-1.15.85-.85 1.15-.85-1.15zM407.23 141.13m-2 0 1.15-.85.85-1.15.85 1.15 1.15.85-1.15.85-.85 1.15-.85-1.15zM411.96 141.13m-2 0 1.15-.85.85-1.15.85 1.15 1.15.85-1.15.85-.85 1.15-.85-1.15zM416.69 141.13m-2 0 1.15-.85.85-1.15.85 1.15 1.15.85-1.15.85-.85 1.15-.85-1.15zM421.41 141.13m-2 0 1.15-.85.85-1.15.85 1.15 1.15.85-1.15.85-.85 1.15-.85-1.15zM426.14 141.13m-2 0 1.15-.85.85-1.15.85 1.15 1.15.85-1.15.85-.85 1.15-.85-1.15zM430.87 141.13m-2 0 1.15-.85.85-1.15.85 1.15 1.15.85-1.15.85-.85 1.15-.85-1.15zM435.60 141.13m-2 0 1.15-.85.85-1.15.85 1.15 1.15.85-1.15.85-.85 1.15-.85-1.15zM440.32 141.13m-2 0 1.15-.85.85-1.15.85 1.15 1.15.85-1.15.85-.85 1.15-.85-1.15zM445.05 141.13m-2 0 1.15-.85.85-1.15.85 1.15 1.15.85-1.15.85-.85 1.15-.85-1.15zM511.23 141.13m-2 0 1.15-.85.85-1.15.85 1.15 1.15.85-1.15.85-.85 1.15-.85-1.15zM591.59 141.13m-2 0 1.15-.85.85-1.15.85 1.15 1.15.85-1.15.85-.85 1.15-.85-1.15zM596.31 141.13m-2 0 1.15-.85.85-1.15.85 1.15 1.15.85-1.15.85-.85 1.15-.85-1.15zM638.86 141.13m-2 0 1.15-.85.85-1.15.85 1.15 1.15.85-1.15.85-.85 1.15-.85-1.15zM643.58 141.13m-2 0 1.15-.85.85-1.15.85 1.15 1.15.85-1.15.85-.85 1.15-.85-1.15zM648.31 141.13m-2 0 1.15-.85.85-1.15.85 1.15 1.15.85-1.15.85-.85 1.15-.85-1.15zM653.04 141.13m-2 0 1.15-.85.85-1.15.85 1.15 1.15.85-1.15.85-.85 1.15-.85-1.15zM657.77 141.13m-2 0 1.15-.85.85-1.15.85 1.15 1.15.85-1.15.85-.85 1.15-.85-1.15zM662.49 141.13m-2 0 1.15-.85.85-1.15.85 1.15 1.15.85-1.15.85-.85 1.15-.85-1.15zM293.79 145.88m-2 0 1.15-.85.85-1.15.85 1.15 1.15.85-1.15.85-.85 1.15-.85-1.15zM298.51 145.88m-2 0 1.15-.85.85-1.15.85 1.15 1.15.85-1.15.85-.85 1.15-.85-1.15zM303.24 145.88m-2 0 1.15-.85.85-1.15.85 1.15 1.15.85-1.15.85-.85 1.15-.85-1.15zM307.97 145.88m-2 0 1.15-.85.85-1.15.85 1.15 1.15.85-1.15.85-.85 1.15-.85-1.15zM317.42 145.88m-2 0 1.15-.85.85-1.15.85 1.15 1.15.85-1.15.85-.85 1.15-.85-1.15zM322.15 145.88m-2 0 1.15-.85.85-1.15.85 1.15 1.15.85-1.15.85-.85 1.15-.85-1.15zM331.60 145.88m-2 0 1.15-.85.85-1.15.85 1.15 1.15.85-1.15.85-.85 1.15-.85-1.15zM374.14 145.88m-2 0 1.15-.85.85-1.15.85 1.15 1.15.85-1.15.85-.85 1.15-.85-1.15zM388.33 145.88m-2 0 1.15-.85.85-1.15.85 1.15 1.15.85-1.15.85-.85 1.15-.85-1.15zM393.05 145.88m-2 0 1.15-.85.85-1.15.85 1.15 1.15.85-1.15.85-.85 1.15-.85-1.15zM397.78 145.88m-2 0 1.15-.85.85-1.15.85 1.15 1.15.85-1.15.85-.85 1.15-.85-1.15zM402.51 145.88m-2 0 1.15-.85.85-1.15.85 1.15 1.15.85-1.15.85-.85 1.15-.85-1.15zM407.23 145.88m-2 0 1.15-.85.85-1.15.85 1.15 1.15.85-1.15.85-.85 1.15-.85-1.15zM411.96 145.88m-2 0 1.15-.85.85-1.15.85 1.15 1.15.85-1.15.85-.85 1.15-.85-1.15zM416.69 145.88m-2 0 1.15-.85.85-1.15.85 1.15 1.15.85-1.15.85-.85 1.15-.85-1.15zM421.41 145.88m-2 0 1.15-.85.85-1.15.85 1.15 1.15.85-1.15.85-.85 1.15-.85-1.15zM426.14 145.88m-2 0 1.15-.85.85-1.15.85 1.15 1.15.85-1.15.85-.85 1.15-.85-1.15zM430.87 145.88m-2 0 1.15-.85.85-1.15.85 1.15 1.15.85-1.15.85-.85 1.15-.85-1.15zM435.60 145.88m-2 0 1.15-.85.85-1.15.85 1.15 1.15.85-1.15.85-.85 1.15-.85-1.15zM440.32 145.88m-2 0 1.15-.85.85-1.15.85 1.15 1.15.85-1.15.85-.85 1.15-.85-1.15zM445.05 145.88m-2 0 1.15-.85.85-1.15.85 1.15 1.15.85-1.15.85-.85 1.15-.85-1.15zM449.78 145.88m-2 0 1.15-.85.85-1.15.85 1.15 1.15.85-1.15.85-.85 1.15-.85-1.15zM582.13 145.88m-2 0 1.15-.85.85-1.15.85 1.15 1.15.85-1.15.85-.85 1.15-.85-1.15zM586.86 145.88m-2 0 1.15-.85.85-1.15.85 1.15 1.15.85-1.15.85-.85 1.15-.85-1.15zM591.59 145.88m-2 0 1.15-.85.85-1.15.85 1.15 1.15.85-1.15.85-.85 1.15-.85-1.15zM638.86 145.88m-2 0 1.15-.85.85-1.15.85 1.15 1.15.85-1.15.85-.85 1.15-.85-1.15zM643.58 145.88m-2 0 1.15-.85.85-1.15.85 1.15 1.15.85-1.15.85-.85 1.15-.85-1.15zM648.31 145.88m-2 0 1.15-.85.85-1.15.85 1.15 1.15.85-1.15.85-.85 1.15-.85-1.15zM653.04 145.88m-2 0 1.15-.85.85-1.15.85 1.15 1.15.85-1.15.85-.85 1.15-.85-1.15zM657.77 145.88m-2 0 1.15-.85.85-1.15.85 1.15 1.15.85-1.15.85-.85 1.15-.85-1.15zM662.49 145.88m-2 0 1.15-.85.85-1.15.85 1.15 1.15.85-1.15.85-.85 1.15-.85-1.15zM667.22 145.88m-2 0 1.15-.85.85-1.15.85 1.15 1.15.85-1.15.85-.85 1.15-.85-1.15zM293.79 150.62m-2 0 1.15-.85.85-1.15.85 1.15 1.15.85-1.15.85-.85 1.15-.85-1.15zM298.51 150.62m-2 0 1.15-.85.85-1.15.85 1.15 1.15.85-1.15.85-.85 1.15-.85-1.15zM303.24 150.62m-2 0 1.15-.85.85-1.15.85 1.15 1.15.85-1.15.85-.85 1.15-.85-1.15zM307.97 150.62m-2 0 1.15-.85.85-1.15.85 1.15 1.15.85-1.15.85-.85 1.15-.85-1.15zM322.15 150.62m-2 0 1.15-.85.85-1.15.85 1.15 1.15.85-1.15.85-.85 1.15-.85-1.15zM331.60 150.62m-2 0 1.15-.85.85-1.15.85 1.15 1.15.85-1.15.85-.85 1.15-.85-1.15zM336.33 150.62m-2 0 1.15-.85.85-1.15.85 1.15 1.15.85-1.15.85-.85 1.15-.85-1.15zM341.06 150.62m-2 0 1.15-.85.85-1.15.85 1.15 1.15.85-1.15.85-.85 1.15-.85-1.15zM345.78 150.62m-2 0 1.15-.85.85-1.15.85 1.15 1.15.85-1.15.85-.85 1.15-.85-1.15zM350.51 150.62m-2 0 1.15-.85.85-1.15.85 1.15 1.15.85-1.15.85-.85 1.15-.85-1.15zM388.33 150.62m-2 0 1.15-.85.85-1.15.85 1.15 1.15.85-1.15.85-.85 1.15-.85-1.15zM393.05 150.62m-2 0 1.15-.85.85-1.15.85 1.15 1.15.85-1.15.85-.85 1.15-.85-1.15zM397.78 150.62m-2 0 1.15-.85.85-1.15.85 1.15 1.15.85-1.15.85-.85 1.15-.85-1.15zM402.51 150.62m-2 0 1.15-.85.85-1.15.85 1.15 1.15.85-1.15.85-.85 1.15-.85-1.15zM407.23 150.62m-2 0 1.15-.85.85-1.15.85 1.15 1.15.85-1.15.85-.85 1.15-.85-1.15zM411.96 150.62m-2 0 1.15-.85.85-1.15.85 1.15 1.15.85-1.15.85-.85 1.15-.85-1.15zM416.69 150.62m-2 0 1.15-.85.85-1.15.85 1.15 1.15.85-1.15.85-.85 1.15-.85-1.15zM421.41 150.62m-2 0 1.15-.85.85-1.15.85 1.15 1.15.85-1.15.85-.85 1.15-.85-1.15zM426.14 150.62m-2 0 1.15-.85.85-1.15.85 1.15 1.15.85-1.15.85-.85 1.15-.85-1.15zM430.87 150.62m-2 0 1.15-.85.85-1.15.85 1.15 1.15.85-1.15.85-.85 1.15-.85-1.15zM435.60 150.62m-2 0 1.15-.85.85-1.15.85 1.15 1.15.85-1.15.85-.85 1.15-.85-1.15zM440.32 150.62m-2 0 1.15-.85.85-1.15.85 1.15 1.15.85-1.15.85-.85 1.15-.85-1.15zM445.05 150.62m-2 0 1.15-.85.85-1.15.85 1.15 1.15.85-1.15.85-.85 1.15-.85-1.15zM577.41 150.62m-2 0 1.15-.85.85-1.15.85 1.15 1.15.85-1.15.85-.85 1.15-.85-1.15zM582.13 150.62m-2 0 1.15-.85.85-1.15.85 1.15 1.15.85-1.15.85-.85 1.15-.85-1.15zM629.40 150.62m-2 0 1.15-.85.85-1.15.85 1.15 1.15.85-1.15.85-.85 1.15-.85-1.15zM634.13 150.62m-2 0 1.15-.85.85-1.15.85 1.15 1.15.85-1.15.85-.85 1.15-.85-1.15zM638.86 150.62m-2 0 1.15-.85.85-1.15.85 1.15 1.15.85-1.15.85-.85 1.15-.85-1.15zM643.58 150.62m-2 0 1.15-.85.85-1.15.85 1.15 1.15.85-1.15.85-.85 1.15-.85-1.15zM648.31 150.62m-2 0 1.15-.85.85-1.15.85 1.15 1.15.85-1.15.85-.85 1.15-.85-1.15zM653.04 150.62m-2 0 1.15-.85.85-1.15.85 1.15 1.15.85-1.15.85-.85 1.15-.85-1.15zM657.77 150.62m-2 0 1.15-.85.85-1.15.85 1.15 1.15.85-1.15.85-.85 1.15-.85-1.15zM662.49 150.62m-2 0 1.15-.85.85-1.15.85 1.15 1.15.85-1.15.85-.85 1.15-.85-1.15zM667.22 150.62m-2 0 1.15-.85.85-1.15.85 1.15 1.15.85-1.15.85-.85 1.15-.85-1.15zM279.61 155.36m-2 0 1.15-.85.85-1.15.85 1.15 1.15.85-1.15.85-.85 1.15-.85-1.15zM284.33 155.36m-2 0 1.15-.85.85-1.15.85 1.15 1.15.85-1.15.85-.85 1.15-.85-1.15zM298.51 155.36m-2 0 1.15-.85.85-1.15.85 1.15 1.15.85-1.15.85-.85 1.15-.85-1.15zM393.05 155.36m-2 0 1.15-.85.85-1.15.85 1.15 1.15.85-1.15.85-.85 1.15-.85-1.15zM397.78 155.36m-2 0 1.15-.85.85-1.15.85 1.15 1.15.85-1.15.85-.85 1.15-.85-1.15zM402.51 155.36m-2 0 1.15-.85.85-1.15.85 1.15 1.15.85-1.15.85-.85 1.15-.85-1.15zM407.23 155.36m-2 0 1.15-.85.85-1.15.85 1.15 1.15.85-1.15.85-.85 1.15-.85-1.15zM411.96 155.36m-2 0 1.15-.85.85-1.15.85 1.15 1.15.85-1.15.85-.85 1.15-.85-1.15zM416.69 155.36m-2 0 1.15-.85.85-1.15.85 1.15 1.15.85-1.15.85-.85 1.15-.85-1.15zM421.41 155.36m-2 0 1.15-.85.85-1.15.85 1.15 1.15.85-1.15.85-.85 1.15-.85-1.15zM426.14 155.36m-2 0 1.15-.85.85-1.15.85 1.15 1.15.85-1.15.85-.85 1.15-.85-1.15zM430.87 155.36m-2 0 1.15-.85.85-1.15.85 1.15 1.15.85-1.15.85-.85 1.15-.85-1.15zM435.60 155.36m-2 0 1.15-.85.85-1.15.85 1.15 1.15.85-1.15.85-.85 1.15-.85-1.15zM440.32 155.36m-2 0 1.15-.85.85-1.15.85 1.15 1.15.85-1.15.85-.85 1.15-.85-1.15zM445.05 155.36m-2 0 1.15-.85.85-1.15.85 1.15 1.15.85-1.15.85-.85 1.15-.85-1.15zM449.78 155.36m-2 0 1.15-.85.85-1.15.85 1.15 1.15.85-1.15.85-.85 1.15-.85-1.15zM577.41 155.36m-2 0 1.15-.85.85-1.15.85 1.15 1.15.85-1.15.85-.85 1.15-.85-1.15zM624.68 155.36m-2 0 1.15-.85.85-1.15.85 1.15 1.15.85-1.15.85-.85 1.15-.85-1.15zM629.40 155.36m-2 0 1.15-.85.85-1.15.85 1.15 1.15.85-1.15.85-.85 1.15-.85-1.15zM634.13 155.36m-2 0 1.15-.85.85-1.15.85 1.15 1.15.85-1.15.85-.85 1.15-.85-1.15zM638.86 155.36m-2 0 1.15-.85.85-1.15.85 1.15 1.15.85-1.15.85-.85 1.15-.85-1.15zM643.58 155.36m-2 0 1.15-.85.85-1.15.85 1.15 1.15.85-1.15.85-.85 1.15-.85-1.15zM648.31 155.36m-2 0 1.15-.85.85-1.15.85 1.15 1.15.85-1.15.85-.85 1.15-.85-1.15zM653.04 155.36m-2 0 1.15-.85.85-1.15.85 1.15 1.15.85-1.15.85-.85 1.15-.85-1.15zM657.77 155.36m-2 0 1.15-.85.85-1.15.85 1.15 1.15.85-1.15.85-.85 1.15-.85-1.15zM662.49 155.36m-2 0 1.15-.85.85-1.15.85 1.15 1.15.85-1.15.85-.85 1.15-.85-1.15zM279.61 160.10m-2 0 1.15-.85.85-1.15.85 1.15 1.15.85-1.15.85-.85 1.15-.85-1.15zM284.33 160.10m-2 0 1.15-.85.85-1.15.85 1.15 1.15.85-1.15.85-.85 1.15-.85-1.15zM289.06 160.10m-2 0 1.15-.85.85-1.15.85 1.15 1.15.85-1.15.85-.85 1.15-.85-1.15zM322.15 160.10m-2 0 1.15-.85.85-1.15.85 1.15 1.15.85-1.15.85-.85 1.15-.85-1.15zM326.88 160.10m-2 0 1.15-.85.85-1.15.85 1.15 1.15.85-1.15.85-.85 1.15-.85-1.15zM331.60 160.10m-2 0 1.15-.85.85-1.15.85 1.15 1.15.85-1.15.85-.85 1.15-.85-1.15zM341.06 160.10m-2 0 1.15-.85.85-1.15.85 1.15 1.15.85-1.15.85-.85 1.15-.85-1.15zM345.78 160.10m-2 0 1.15-.85.85-1.15.85 1.15 1.15.85-1.15.85-.85 1.15-.85-1.15zM393.05 160.10m-2 0 1.15-.85.85-1.15.85 1.15 1.15.85-1.15.85-.85 1.15-.85-1.15zM397.78 160.10m-2 0 1.15-.85.85-1.15.85 1.15 1.15.85-1.15.85-.85 1.15-.85-1.15zM402.51 160.10m-2 0 1.15-.85.85-1.15.85 1.15 1.15.85-1.15.85-.85 1.15-.85-1.15zM407.23 160.10m-2 0 1.15-.85.85-1.15.85 1.15 1.15.85-1.15.85-.85 1.15-.85-1.15zM411.96 160.10m-2 0 1.15-.85.85-1.15.85 1.15 1.15.85-1.15.85-.85 1.15-.85-1.15zM416.69 160.10m-2 0 1.15-.85.85-1.15.85 1.15 1.15.85-1.15.85-.85 1.15-.85-1.15zM421.41 160.10m-2 0 1.15-.85.85-1.15.85 1.15 1.15.85-1.15.85-.85 1.15-.85-1.15zM426.14 160.10m-2 0 1.15-.85.85-1.15.85 1.15 1.15.85-1.15.85-.85 1.15-.85-1.15zM430.87 160.10m-2 0 1.15-.85.85-1.15.85 1.15 1.15.85-1.15.85-.85 1.15-.85-1.15zM435.60 160.10m-2 0 1.15-.85.85-1.15.85 1.15 1.15.85-1.15.85-.85 1.15-.85-1.15zM440.32 160.10m-2 0 1.15-.85.85-1.15.85 1.15 1.15.85-1.15.85-.85 1.15-.85-1.15zM445.05 160.10m-2 0 1.15-.85.85-1.15.85 1.15 1.15.85-1.15.85-.85 1.15-.85-1.15zM572.68 160.10m-2 0 1.15-.85.85-1.15.85 1.15 1.15.85-1.15.85-.85 1.15-.85-1.15zM624.68 160.10m-2 0 1.15-.85.85-1.15.85 1.15 1.15.85-1.15.85-.85 1.15-.85-1.15zM629.40 160.10m-2 0 1.15-.85.85-1.15.85 1.15 1.15.85-1.15.85-.85 1.15-.85-1.15zM634.13 160.10m-2 0 1.15-.85.85-1.15.85 1.15 1.15.85-1.15.85-.85 1.15-.85-1.15zM638.86 160.10m-2 0 1.15-.85.85-1.15.85 1.15 1.15.85-1.15.85-.85 1.15-.85-1.15zM643.58 160.10m-2 0 1.15-.85.85-1.15.85 1.15 1.15.85-1.15.85-.85 1.15-.85-1.15zM648.31 160.10m-2 0 1.15-.85.85-1.15.85 1.15 1.15.85-1.15.85-.85 1.15-.85-1.15zM653.04 160.10m-2 0 1.15-.85.85-1.15.85 1.15 1.15.85-1.15.85-.85 1.15-.85-1.15zM657.77 160.10m-2 0 1.15-.85.85-1.15.85 1.15 1.15.85-1.15.85-.85 1.15-.85-1.15zM662.49 160.10m-2 0 1.15-.85.85-1.15.85 1.15 1.15.85-1.15.85-.85 1.15-.85-1.15zM671.95 160.10m-2 0 1.15-.85.85-1.15.85 1.15 1.15.85-1.15.85-.85 1.15-.85-1.15zM686.13 160.10m-2 0 1.15-.85.85-1.15.85 1.15 1.15.85-1.15.85-.85 1.15-.85-1.15zM279.61 164.84m-2 0 1.15-.85.85-1.15.85 1.15 1.15.85-1.15.85-.85 1.15-.85-1.15zM284.33 164.84m-2 0 1.15-.85.85-1.15.85 1.15 1.15.85-1.15.85-.85 1.15-.85-1.15zM293.79 164.84m-2 0 1.15-.85.85-1.15.85 1.15 1.15.85-1.15.85-.85 1.15-.85-1.15zM298.51 164.84m-2 0 1.15-.85.85-1.15.85 1.15 1.15.85-1.15.85-.85 1.15-.85-1.15zM303.24 164.84m-2 0 1.15-.85.85-1.15.85 1.15 1.15.85-1.15.85-.85 1.15-.85-1.15zM307.97 164.84m-2 0 1.15-.85.85-1.15.85 1.15 1.15.85-1.15.85-.85 1.15-.85-1.15zM317.42 164.84m-2 0 1.15-.85.85-1.15.85 1.15 1.15.85-1.15.85-.85 1.15-.85-1.15zM322.15 164.84m-2 0 1.15-.85.85-1.15.85 1.15 1.15.85-1.15.85-.85 1.15-.85-1.15zM326.88 164.84m-2 0 1.15-.85.85-1.15.85 1.15 1.15.85-1.15.85-.85 1.15-.85-1.15zM331.60 164.84m-2 0 1.15-.85.85-1.15.85 1.15 1.15.85-1.15.85-.85 1.15-.85-1.15zM336.33 164.84m-2 0 1.15-.85.85-1.15.85 1.15 1.15.85-1.15.85-.85 1.15-.85-1.15zM345.78 164.84m-2 0 1.15-.85.85-1.15.85 1.15 1.15.85-1.15.85-.85 1.15-.85-1.15zM350.51 164.84m-2 0 1.15-.85.85-1.15.85 1.15 1.15.85-1.15.85-.85 1.15-.85-1.15zM355.24 164.84m-2 0 1.15-.85.85-1.15.85 1.15 1.15.85-1.15.85-.85 1.15-.85-1.15zM393.05 164.84m-2 0 1.15-.85.85-1.15.85 1.15 1.15.85-1.15.85-.85 1.15-.85-1.15zM397.78 164.84m-2 0 1.15-.85.85-1.15.85 1.15 1.15.85-1.15.85-.85 1.15-.85-1.15zM402.51 164.84m-2 0 1.15-.85.85-1.15.85 1.15 1.15.85-1.15.85-.85 1.15-.85-1.15zM407.23 164.84m-2 0 1.15-.85.85-1.15.85 1.15 1.15.85-1.15.85-.85 1.15-.85-1.15zM411.96 164.84m-2 0 1.15-.85.85-1.15.85 1.15 1.15.85-1.15.85-.85 1.15-.85-1.15zM416.69 164.84m-2 0 1.15-.85.85-1.15.85 1.15 1.15.85-1.15.85-.85 1.15-.85-1.15zM421.41 164.84m-2 0 1.15-.85.85-1.15.85 1.15 1.15.85-1.15.85-.85 1.15-.85-1.15zM426.14 164.84m-2 0 1.15-.85.85-1.15.85 1.15 1.15.85-1.15.85-.85 1.15-.85-1.15zM430.87 164.84m-2 0 1.15-.85.85-1.15.85 1.15 1.15.85-1.15.85-.85 1.15-.85-1.15zM435.60 164.84m-2 0 1.15-.85.85-1.15.85 1.15 1.15.85-1.15.85-.85 1.15-.85-1.15zM572.68 164.84m-2 0 1.15-.85.85-1.15.85 1.15 1.15.85-1.15.85-.85 1.15-.85-1.15zM596.31 164.84m-2 0 1.15-.85.85-1.15.85 1.15 1.15.85-1.15.85-.85 1.15-.85-1.15zM601.04 164.84m-2 0 1.15-.85.85-1.15.85 1.15 1.15.85-1.15.85-.85 1.15-.85-1.15zM615.22 164.84m-2 0 1.15-.85.85-1.15.85 1.15 1.15.85-1.15.85-.85 1.15-.85-1.15zM619.95 164.84m-2 0 1.15-.85.85-1.15.85 1.15 1.15.85-1.15.85-.85 1.15-.85-1.15zM624.68 164.84m-2 0 1.15-.85.85-1.15.85 1.15 1.15.85-1.15.85-.85 1.15-.85-1.15zM629.40 164.84m-2 0 1.15-.85.85-1.15.85 1.15 1.15.85-1.15.85-.85 1.15-.85-1.15zM634.13 164.84m-2 0 1.15-.85.85-1.15.85 1.15 1.15.85-1.15.85-.85 1.15-.85-1.15zM638.86 164.84m-2 0 1.15-.85.85-1.15.85 1.15 1.15.85-1.15.85-.85 1.15-.85-1.15zM643.58 164.84m-2 0 1.15-.85.85-1.15.85 1.15 1.15.85-1.15.85-.85 1.15-.85-1.15zM648.31 164.84m-2 0 1.15-.85.85-1.15.85 1.15 1.15.85-1.15.85-.85 1.15-.85-1.15zM653.04 164.84m-2 0 1.15-.85.85-1.15.85 1.15 1.15.85-1.15.85-.85 1.15-.85-1.15zM657.77 164.84m-2 0 1.15-.85.85-1.15.85 1.15 1.15.85-1.15.85-.85 1.15-.85-1.15zM662.49 164.84m-2 0 1.15-.85.85-1.15.85 1.15 1.15.85-1.15.85-.85 1.15-.85-1.15zM667.22 164.84m-2 0 1.15-.85.85-1.15.85 1.15 1.15.85-1.15.85-.85 1.15-.85-1.15zM671.95 164.84m-2 0 1.15-.85.85-1.15.85 1.15 1.15.85-1.15.85-.85 1.15-.85-1.15zM676.67 164.84m-2 0 1.15-.85.85-1.15.85 1.15 1.15.85-1.15.85-.85 1.15-.85-1.15zM681.40 164.84m-2 0 1.15-.85.85-1.15.85 1.15 1.15.85-1.15.85-.85 1.15-.85-1.15zM686.13 164.84m-2 0 1.15-.85.85-1.15.85 1.15 1.15.85-1.15.85-.85 1.15-.85-1.15zM690.85 164.84m-2 0 1.15-.85.85-1.15.85 1.15 1.15.85-1.15.85-.85 1.15-.85-1.15zM714.49 164.84m-2 0 1.15-.85.85-1.15.85 1.15 1.15.85-1.15.85-.85 1.15-.85-1.15zM279.61 169.58m-2 0 1.15-.85.85-1.15.85 1.15 1.15.85-1.15.85-.85 1.15-.85-1.15zM284.33 169.58m-2 0 1.15-.85.85-1.15.85 1.15 1.15.85-1.15.85-.85 1.15-.85-1.15zM289.06 169.58m-2 0 1.15-.85.85-1.15.85 1.15 1.15.85-1.15.85-.85 1.15-.85-1.15zM293.79 169.58m-2 0 1.15-.85.85-1.15.85 1.15 1.15.85-1.15.85-.85 1.15-.85-1.15zM298.51 169.58m-2 0 1.15-.85.85-1.15.85 1.15 1.15.85-1.15.85-.85 1.15-.85-1.15zM303.24 169.58m-2 0 1.15-.85.85-1.15.85 1.15 1.15.85-1.15.85-.85 1.15-.85-1.15zM307.97 169.58m-2 0 1.15-.85.85-1.15.85 1.15 1.15.85-1.15.85-.85 1.15-.85-1.15zM322.15 169.58m-2 0 1.15-.85.85-1.15.85 1.15 1.15.85-1.15.85-.85 1.15-.85-1.15zM326.88 169.58m-2 0 1.15-.85.85-1.15.85 1.15 1.15.85-1.15.85-.85 1.15-.85-1.15zM336.33 169.58m-2 0 1.15-.85.85-1.15.85 1.15 1.15.85-1.15.85-.85 1.15-.85-1.15zM341.06 169.58m-2 0 1.15-.85.85-1.15.85 1.15 1.15.85-1.15.85-.85 1.15-.85-1.15zM345.78 169.58m-2 0 1.15-.85.85-1.15.85 1.15 1.15.85-1.15.85-.85 1.15-.85-1.15zM350.51 169.58m-2 0 1.15-.85.85-1.15.85 1.15 1.15.85-1.15.85-.85 1.15-.85-1.15zM355.24 169.58m-2 0 1.15-.85.85-1.15.85 1.15 1.15.85-1.15.85-.85 1.15-.85-1.15zM359.96 169.58m-2 0 1.15-.85.85-1.15.85 1.15 1.15.85-1.15.85-.85 1.15-.85-1.15zM393.05 169.58m-2 0 1.15-.85.85-1.15.85 1.15 1.15.85-1.15.85-.85 1.15-.85-1.15zM397.78 169.58m-2 0 1.15-.85.85-1.15.85 1.15 1.15.85-1.15.85-.85 1.15-.85-1.15zM402.51 169.58m-2 0 1.15-.85.85-1.15.85 1.15 1.15.85-1.15.85-.85 1.15-.85-1.15zM407.23 169.58m-2 0 1.15-.85.85-1.15.85 1.15 1.15.85-1.15.85-.85 1.15-.85-1.15zM411.96 169.58m-2 0 1.15-.85.85-1.15.85 1.15 1.15.85-1.15.85-.85 1.15-.85-1.15zM416.69 169.58m-2 0 1.15-.85.85-1.15.85 1.15 1.15.85-1.15.85-.85 1.15-.85-1.15zM421.41 169.58m-2 0 1.15-.85.85-1.15.85 1.15 1.15.85-1.15.85-.85 1.15-.85-1.15zM426.14 169.58m-2 0 1.15-.85.85-1.15.85 1.15 1.15.85-1.15.85-.85 1.15-.85-1.15zM430.87 169.58m-2 0 1.15-.85.85-1.15.85 1.15 1.15.85-1.15.85-.85 1.15-.85-1.15zM435.60 169.58m-2 0 1.15-.85.85-1.15.85 1.15 1.15.85-1.15.85-.85 1.15-.85-1.15zM440.32 169.58m-2 0 1.15-.85.85-1.15.85 1.15 1.15.85-1.15.85-.85 1.15-.85-1.15zM572.68 169.58m-2 0 1.15-.85.85-1.15.85 1.15 1.15.85-1.15.85-.85 1.15-.85-1.15zM596.31 169.58m-2 0 1.15-.85.85-1.15.85 1.15 1.15.85-1.15.85-.85 1.15-.85-1.15zM601.04 169.58m-2 0 1.15-.85.85-1.15.85 1.15 1.15.85-1.15.85-.85 1.15-.85-1.15zM605.77 169.58m-2 0 1.15-.85.85-1.15.85 1.15 1.15.85-1.15.85-.85 1.15-.85-1.15zM610.50 169.58m-2 0 1.15-.85.85-1.15.85 1.15 1.15.85-1.15.85-.85 1.15-.85-1.15zM619.95 169.58m-2 0 1.15-.85.85-1.15.85 1.15 1.15.85-1.15.85-.85 1.15-.85-1.15zM624.68 169.58m-2 0 1.15-.85.85-1.15.85 1.15 1.15.85-1.15.85-.85 1.15-.85-1.15zM629.40 169.58m-2 0 1.15-.85.85-1.15.85 1.15 1.15.85-1.15.85-.85 1.15-.85-1.15zM634.13 169.58m-2 0 1.15-.85.85-1.15.85 1.15 1.15.85-1.15.85-.85 1.15-.85-1.15zM638.86 169.58m-2 0 1.15-.85.85-1.15.85 1.15 1.15.85-1.15.85-.85 1.15-.85-1.15zM643.58 169.58m-2 0 1.15-.85.85-1.15.85 1.15 1.15.85-1.15.85-.85 1.15-.85-1.15zM648.31 169.58m-2 0 1.15-.85.85-1.15.85 1.15 1.15.85-1.15.85-.85 1.15-.85-1.15zM653.04 169.58m-2 0 1.15-.85.85-1.15.85 1.15 1.15.85-1.15.85-.85 1.15-.85-1.15zM657.77 169.58m-2 0 1.15-.85.85-1.15.85 1.15 1.15.85-1.15.85-.85 1.15-.85-1.15zM662.49 169.58m-2 0 1.15-.85.85-1.15.85 1.15 1.15.85-1.15.85-.85 1.15-.85-1.15zM667.22 169.58m-2 0 1.15-.85.85-1.15.85 1.15 1.15.85-1.15.85-.85 1.15-.85-1.15zM671.95 169.58m-2 0 1.15-.85.85-1.15.85 1.15 1.15.85-1.15.85-.85 1.15-.85-1.15zM676.67 169.58m-2 0 1.15-.85.85-1.15.85 1.15 1.15.85-1.15.85-.85 1.15-.85-1.15zM681.40 169.58m-2 0 1.15-.85.85-1.15.85 1.15 1.15.85-1.15.85-.85 1.15-.85-1.15zM686.13 169.58m-2 0 1.15-.85.85-1.15.85 1.15 1.15.85-1.15.85-.85 1.15-.85-1.15zM690.85 169.58m-2 0 1.15-.85.85-1.15.85 1.15 1.15.85-1.15.85-.85 1.15-.85-1.15zM714.49 169.58m-2 0 1.15-.85.85-1.15.85 1.15 1.15.85-1.15.85-.85 1.15-.85-1.15zM719.22 169.58m-2 0 1.15-.85.85-1.15.85 1.15 1.15.85-1.15.85-.85 1.15-.85-1.15zM723.94 169.58m-2 0 1.15-.85.85-1.15.85 1.15 1.15.85-1.15.85-.85 1.15-.85-1.15zM227.61 174.32m-2 0 1.15-.85.85-1.15.85 1.15 1.15.85-1.15.85-.85 1.15-.85-1.15zM232.33 174.32m-2 0 1.15-.85.85-1.15.85 1.15 1.15.85-1.15.85-.85 1.15-.85-1.15zM289.06 174.32m-2 0 1.15-.85.85-1.15.85 1.15 1.15.85-1.15.85-.85 1.15-.85-1.15zM293.79 174.32m-2 0 1.15-.85.85-1.15.85 1.15 1.15.85-1.15.85-.85 1.15-.85-1.15zM298.51 174.32m-2 0 1.15-.85.85-1.15.85 1.15 1.15.85-1.15.85-.85 1.15-.85-1.15zM303.24 174.32m-2 0 1.15-.85.85-1.15.85 1.15 1.15.85-1.15.85-.85 1.15-.85-1.15zM307.97 174.32m-2 0 1.15-.85.85-1.15.85 1.15 1.15.85-1.15.85-.85 1.15-.85-1.15zM326.88 174.32m-2 0 1.15-.85.85-1.15.85 1.15 1.15.85-1.15.85-.85 1.15-.85-1.15zM341.06 174.32m-2 0 1.15-.85.85-1.15.85 1.15 1.15.85-1.15.85-.85 1.15-.85-1.15zM345.78 174.32m-2 0 1.15-.85.85-1.15.85 1.15 1.15.85-1.15.85-.85 1.15-.85-1.15zM350.51 174.32m-2 0 1.15-.85.85-1.15.85 1.15 1.15.85-1.15.85-.85 1.15-.85-1.15zM355.24 174.32m-2 0 1.15-.85.85-1.15.85 1.15 1.15.85-1.15.85-.85 1.15-.85-1.15zM359.96 174.32m-2 0 1.15-.85.85-1.15.85 1.15 1.15.85-1.15.85-.85 1.15-.85-1.15zM364.69 174.32m-2 0 1.15-.85.85-1.15.85 1.15 1.15.85-1.15.85-.85 1.15-.85-1.15zM397.78 174.32m-2 0 1.15-.85.85-1.15.85 1.15 1.15.85-1.15.85-.85 1.15-.85-1.15zM402.51 174.32m-2 0 1.15-.85.85-1.15.85 1.15 1.15.85-1.15.85-.85 1.15-.85-1.15zM407.23 174.32m-2 0 1.15-.85.85-1.15.85 1.15 1.15.85-1.15.85-.85 1.15-.85-1.15zM411.96 174.32m-2 0 1.15-.85.85-1.15.85 1.15 1.15.85-1.15.85-.85 1.15-.85-1.15zM416.69 174.32m-2 0 1.15-.85.85-1.15.85 1.15 1.15.85-1.15.85-.85 1.15-.85-1.15zM421.41 174.32m-2 0 1.15-.85.85-1.15.85 1.15 1.15.85-1.15.85-.85 1.15-.85-1.15zM426.14 174.32m-2 0 1.15-.85.85-1.15.85 1.15 1.15.85-1.15.85-.85 1.15-.85-1.15zM430.87 174.32m-2 0 1.15-.85.85-1.15.85 1.15 1.15.85-1.15.85-.85 1.15-.85-1.15zM435.60 174.32m-2 0 1.15-.85.85-1.15.85 1.15 1.15.85-1.15.85-.85 1.15-.85-1.15zM445.05 174.32m-2 0 1.15-.85.85-1.15.85 1.15 1.15.85-1.15.85-.85 1.15-.85-1.15zM525.41 174.32m-2 0 1.15-.85.85-1.15.85 1.15 1.15.85-1.15.85-.85 1.15-.85-1.15zM572.68 174.32m-2 0 1.15-.85.85-1.15.85 1.15 1.15.85-1.15.85-.85 1.15-.85-1.15zM591.59 174.32m-2 0 1.15-.85.85-1.15.85 1.15 1.15.85-1.15.85-.85 1.15-.85-1.15zM596.31 174.32m-2 0 1.15-.85.85-1.15.85 1.15 1.15.85-1.15.85-.85 1.15-.85-1.15zM601.04 174.32m-2 0 1.15-.85.85-1.15.85 1.15 1.15.85-1.15.85-.85 1.15-.85-1.15zM605.77 174.32m-2 0 1.15-.85.85-1.15.85 1.15 1.15.85-1.15.85-.85 1.15-.85-1.15zM610.50 174.32m-2 0 1.15-.85.85-1.15.85 1.15 1.15.85-1.15.85-.85 1.15-.85-1.15zM615.22 174.32m-2 0 1.15-.85.85-1.15.85 1.15 1.15.85-1.15.85-.85 1.15-.85-1.15zM619.95 174.32m-2 0 1.15-.85.85-1.15.85 1.15 1.15.85-1.15.85-.85 1.15-.85-1.15zM624.68 174.32m-2 0 1.15-.85.85-1.15.85 1.15 1.15.85-1.15.85-.85 1.15-.85-1.15zM629.40 174.32m-2 0 1.15-.85.85-1.15.85 1.15 1.15.85-1.15.85-.85 1.15-.85-1.15zM634.13 174.32m-2 0 1.15-.85.85-1.15.85 1.15 1.15.85-1.15.85-.85 1.15-.85-1.15zM638.86 174.32m-2 0 1.15-.85.85-1.15.85 1.15 1.15.85-1.15.85-.85 1.15-.85-1.15zM643.58 174.32m-2 0 1.15-.85.85-1.15.85 1.15 1.15.85-1.15.85-.85 1.15-.85-1.15zM648.31 174.32m-2 0 1.15-.85.85-1.15.85 1.15 1.15.85-1.15.85-.85 1.15-.85-1.15zM653.04 174.32m-2 0 1.15-.85.85-1.15.85 1.15 1.15.85-1.15.85-.85 1.15-.85-1.15zM657.77 174.32m-2 0 1.15-.85.85-1.15.85 1.15 1.15.85-1.15.85-.85 1.15-.85-1.15zM662.49 174.32m-2 0 1.15-.85.85-1.15.85 1.15 1.15.85-1.15.85-.85 1.15-.85-1.15zM667.22 174.32m-2 0 1.15-.85.85-1.15.85 1.15 1.15.85-1.15.85-.85 1.15-.85-1.15zM671.95 174.32m-2 0 1.15-.85.85-1.15.85 1.15 1.15.85-1.15.85-.85 1.15-.85-1.15zM676.67 174.32m-2 0 1.15-.85.85-1.15.85 1.15 1.15.85-1.15.85-.85 1.15-.85-1.15zM681.40 174.32m-2 0 1.15-.85.85-1.15.85 1.15 1.15.85-1.15.85-.85 1.15-.85-1.15zM686.13 174.32m-2 0 1.15-.85.85-1.15.85 1.15 1.15.85-1.15.85-.85 1.15-.85-1.15zM690.85 174.32m-2 0 1.15-.85.85-1.15.85 1.15 1.15.85-1.15.85-.85 1.15-.85-1.15zM695.58 174.32m-2 0 1.15-.85.85-1.15.85 1.15 1.15.85-1.15.85-.85 1.15-.85-1.15zM700.31 174.32m-2 0 1.15-.85.85-1.15.85 1.15 1.15.85-1.15.85-.85 1.15-.85-1.15zM705.04 174.32m-2 0 1.15-.85.85-1.15.85 1.15 1.15.85-1.15.85-.85 1.15-.85-1.15zM709.76 174.32m-2 0 1.15-.85.85-1.15.85 1.15 1.15.85-1.15.85-.85 1.15-.85-1.15zM714.49 174.32m-2 0 1.15-.85.85-1.15.85 1.15 1.15.85-1.15.85-.85 1.15-.85-1.15zM719.22 174.32m-2 0 1.15-.85.85-1.15.85 1.15 1.15.85-1.15.85-.85 1.15-.85-1.15zM723.94 174.32m-2 0 1.15-.85.85-1.15.85 1.15 1.15.85-1.15.85-.85 1.15-.85-1.15zM728.67 174.32m-2 0 1.15-.85.85-1.15.85 1.15 1.15.85-1.15.85-.85 1.15-.85-1.15zM738.12 174.32m-2 0 1.15-.85.85-1.15.85 1.15 1.15.85-1.15.85-.85 1.15-.85-1.15zM218.15 179.06m-2 0 1.15-.85.85-1.15.85 1.15 1.15.85-1.15.85-.85 1.15-.85-1.15zM222.88 179.06m-2 0 1.15-.85.85-1.15.85 1.15 1.15.85-1.15.85-.85 1.15-.85-1.15zM227.61 179.06m-2 0 1.15-.85.85-1.15.85 1.15 1.15.85-1.15.85-.85 1.15-.85-1.15zM232.33 179.06m-2 0 1.15-.85.85-1.15.85 1.15 1.15.85-1.15.85-.85 1.15-.85-1.15zM237.06 179.06m-2 0 1.15-.85.85-1.15.85 1.15 1.15.85-1.15.85-.85 1.15-.85-1.15zM241.79 179.06m-2 0 1.15-.85.85-1.15.85 1.15 1.15.85-1.15.85-.85 1.15-.85-1.15zM246.52 179.06m-2 0 1.15-.85.85-1.15.85 1.15 1.15.85-1.15.85-.85 1.15-.85-1.15zM293.79 179.06m-2 0 1.15-.85.85-1.15.85 1.15 1.15.85-1.15.85-.85 1.15-.85-1.15zM298.51 179.06m-2 0 1.15-.85.85-1.15.85 1.15 1.15.85-1.15.85-.85 1.15-.85-1.15zM303.24 179.06m-2 0 1.15-.85.85-1.15.85 1.15 1.15.85-1.15.85-.85 1.15-.85-1.15zM307.97 179.06m-2 0 1.15-.85.85-1.15.85 1.15 1.15.85-1.15.85-.85 1.15-.85-1.15zM312.69 179.06m-2 0 1.15-.85.85-1.15.85 1.15 1.15.85-1.15.85-.85 1.15-.85-1.15zM317.42 179.06m-2 0 1.15-.85.85-1.15.85 1.15 1.15.85-1.15.85-.85 1.15-.85-1.15zM326.88 179.06m-2 0 1.15-.85.85-1.15.85 1.15 1.15.85-1.15.85-.85 1.15-.85-1.15zM331.60 179.06m-2 0 1.15-.85.85-1.15.85 1.15 1.15.85-1.15.85-.85 1.15-.85-1.15zM345.78 179.06m-2 0 1.15-.85.85-1.15.85 1.15 1.15.85-1.15.85-.85 1.15-.85-1.15zM350.51 179.06m-2 0 1.15-.85.85-1.15.85 1.15 1.15.85-1.15.85-.85 1.15-.85-1.15zM355.24 179.06m-2 0 1.15-.85.85-1.15.85 1.15 1.15.85-1.15.85-.85 1.15-.85-1.15zM359.96 179.06m-2 0 1.15-.85.85-1.15.85 1.15 1.15.85-1.15.85-.85 1.15-.85-1.15zM364.69 179.06m-2 0 1.15-.85.85-1.15.85 1.15 1.15.85-1.15.85-.85 1.15-.85-1.15zM369.42 179.06m-2 0 1.15-.85.85-1.15.85 1.15 1.15.85-1.15.85-.85 1.15-.85-1.15zM393.05 179.06m-2 0 1.15-.85.85-1.15.85 1.15 1.15.85-1.15.85-.85 1.15-.85-1.15zM397.78 179.06m-2 0 1.15-.85.85-1.15.85 1.15 1.15.85-1.15.85-.85 1.15-.85-1.15zM402.51 179.06m-2 0 1.15-.85.85-1.15.85 1.15 1.15.85-1.15.85-.85 1.15-.85-1.15zM407.23 179.06m-2 0 1.15-.85.85-1.15.85 1.15 1.15.85-1.15.85-.85 1.15-.85-1.15zM411.96 179.06m-2 0 1.15-.85.85-1.15.85 1.15 1.15.85-1.15.85-.85 1.15-.85-1.15zM416.69 179.06m-2 0 1.15-.85.85-1.15.85 1.15 1.15.85-1.15.85-.85 1.15-.85-1.15zM421.41 179.06m-2 0 1.15-.85.85-1.15.85 1.15 1.15.85-1.15.85-.85 1.15-.85-1.15zM426.14 179.06m-2 0 1.15-.85.85-1.15.85 1.15 1.15.85-1.15.85-.85 1.15-.85-1.15zM430.87 179.06m-2 0 1.15-.85.85-1.15.85 1.15 1.15.85-1.15.85-.85 1.15-.85-1.15zM435.60 179.06m-2 0 1.15-.85.85-1.15.85 1.15 1.15.85-1.15.85-.85 1.15-.85-1.15zM440.32 179.06m-2 0 1.15-.85.85-1.15.85 1.15 1.15.85-1.15.85-.85 1.15-.85-1.15zM520.68 179.06m-2 0 1.15-.85.85-1.15.85 1.15 1.15.85-1.15.85-.85 1.15-.85-1.15zM525.41 179.06m-2 0 1.15-.85.85-1.15.85 1.15 1.15.85-1.15.85-.85 1.15-.85-1.15zM530.14 179.06m-2 0 1.15-.85.85-1.15.85 1.15 1.15.85-1.15.85-.85 1.15-.85-1.15zM596.31 179.06m-2 0 1.15-.85.85-1.15.85 1.15 1.15.85-1.15.85-.85 1.15-.85-1.15zM601.04 179.06m-2 0 1.15-.85.85-1.15.85 1.15 1.15.85-1.15.85-.85 1.15-.85-1.15zM605.77 179.06m-2 0 1.15-.85.85-1.15.85 1.15 1.15.85-1.15.85-.85 1.15-.85-1.15zM610.50 179.06m-2 0 1.15-.85.85-1.15.85 1.15 1.15.85-1.15.85-.85 1.15-.85-1.15zM615.22 179.06m-2 0 1.15-.85.85-1.15.85 1.15 1.15.85-1.15.85-.85 1.15-.85-1.15zM619.95 179.06m-2 0 1.15-.85.85-1.15.85 1.15 1.15.85-1.15.85-.85 1.15-.85-1.15zM624.68 179.06m-2 0 1.15-.85.85-1.15.85 1.15 1.15.85-1.15.85-.85 1.15-.85-1.15zM629.40 179.06m-2 0 1.15-.85.85-1.15.85 1.15 1.15.85-1.15.85-.85 1.15-.85-1.15zM634.13 179.06m-2 0 1.15-.85.85-1.15.85 1.15 1.15.85-1.15.85-.85 1.15-.85-1.15zM638.86 179.06m-2 0 1.15-.85.85-1.15.85 1.15 1.15.85-1.15.85-.85 1.15-.85-1.15zM643.58 179.06m-2 0 1.15-.85.85-1.15.85 1.15 1.15.85-1.15.85-.85 1.15-.85-1.15zM648.31 179.06m-2 0 1.15-.85.85-1.15.85 1.15 1.15.85-1.15.85-.85 1.15-.85-1.15zM653.04 179.06m-2 0 1.15-.85.85-1.15.85 1.15 1.15.85-1.15.85-.85 1.15-.85-1.15zM657.77 179.06m-2 0 1.15-.85.85-1.15.85 1.15 1.15.85-1.15.85-.85 1.15-.85-1.15zM662.49 179.06m-2 0 1.15-.85.85-1.15.85 1.15 1.15.85-1.15.85-.85 1.15-.85-1.15zM667.22 179.06m-2 0 1.15-.85.85-1.15.85 1.15 1.15.85-1.15.85-.85 1.15-.85-1.15zM671.95 179.06m-2 0 1.15-.85.85-1.15.85 1.15 1.15.85-1.15.85-.85 1.15-.85-1.15zM676.67 179.06m-2 0 1.15-.85.85-1.15.85 1.15 1.15.85-1.15.85-.85 1.15-.85-1.15zM681.40 179.06m-2 0 1.15-.85.85-1.15.85 1.15 1.15.85-1.15.85-.85 1.15-.85-1.15zM686.13 179.06m-2 0 1.15-.85.85-1.15.85 1.15 1.15.85-1.15.85-.85 1.15-.85-1.15zM690.85 179.06m-2 0 1.15-.85.85-1.15.85 1.15 1.15.85-1.15.85-.85 1.15-.85-1.15zM695.58 179.06m-2 0 1.15-.85.85-1.15.85 1.15 1.15.85-1.15.85-.85 1.15-.85-1.15zM700.31 179.06m-2 0 1.15-.85.85-1.15.85 1.15 1.15.85-1.15.85-.85 1.15-.85-1.15zM705.04 179.06m-2 0 1.15-.85.85-1.15.85 1.15 1.15.85-1.15.85-.85 1.15-.85-1.15zM709.76 179.06m-2 0 1.15-.85.85-1.15.85 1.15 1.15.85-1.15.85-.85 1.15-.85-1.15zM714.49 179.06m-2 0 1.15-.85.85-1.15.85 1.15 1.15.85-1.15.85-.85 1.15-.85-1.15zM719.22 179.06m-2 0 1.15-.85.85-1.15.85 1.15 1.15.85-1.15.85-.85 1.15-.85-1.15zM723.94 179.06m-2 0 1.15-.85.85-1.15.85 1.15 1.15.85-1.15.85-.85 1.15-.85-1.15zM728.67 179.06m-2 0 1.15-.85.85-1.15.85 1.15 1.15.85-1.15.85-.85 1.15-.85-1.15zM733.40 179.06m-2 0 1.15-.85.85-1.15.85 1.15 1.15.85-1.15.85-.85 1.15-.85-1.15zM738.12 179.06m-2 0 1.15-.85.85-1.15.85 1.15 1.15.85-1.15.85-.85 1.15-.85-1.15zM742.85 179.06m-2 0 1.15-.85.85-1.15.85 1.15 1.15.85-1.15.85-.85 1.15-.85-1.15zM761.76 179.06m-2 0 1.15-.85.85-1.15.85 1.15 1.15.85-1.15.85-.85 1.15-.85-1.15zM218.15 183.80m-2 0 1.15-.85.85-1.15.85 1.15 1.15.85-1.15.85-.85 1.15-.85-1.15zM222.88 183.80m-2 0 1.15-.85.85-1.15.85 1.15 1.15.85-1.15.85-.85 1.15-.85-1.15zM227.61 183.80m-2 0 1.15-.85.85-1.15.85 1.15 1.15.85-1.15.85-.85 1.15-.85-1.15zM232.33 183.80m-2 0 1.15-.85.85-1.15.85 1.15 1.15.85-1.15.85-.85 1.15-.85-1.15zM237.06 183.80m-2 0 1.15-.85.85-1.15.85 1.15 1.15.85-1.15.85-.85 1.15-.85-1.15zM241.79 183.80m-2 0 1.15-.85.85-1.15.85 1.15 1.15.85-1.15.85-.85 1.15-.85-1.15zM246.52 183.80m-2 0 1.15-.85.85-1.15.85 1.15 1.15.85-1.15.85-.85 1.15-.85-1.15zM251.24 183.80m-2 0 1.15-.85.85-1.15.85 1.15 1.15.85-1.15.85-.85 1.15-.85-1.15zM255.97 183.80m-2 0 1.15-.85.85-1.15.85 1.15 1.15.85-1.15.85-.85 1.15-.85-1.15zM270.15 183.80m-2 0 1.15-.85.85-1.15.85 1.15 1.15.85-1.15.85-.85 1.15-.85-1.15zM274.88 183.80m-2 0 1.15-.85.85-1.15.85 1.15 1.15.85-1.15.85-.85 1.15-.85-1.15zM279.61 183.80m-2 0 1.15-.85.85-1.15.85 1.15 1.15.85-1.15.85-.85 1.15-.85-1.15zM284.33 183.80m-2 0 1.15-.85.85-1.15.85 1.15 1.15.85-1.15.85-.85 1.15-.85-1.15zM298.51 183.80m-2 0 1.15-.85.85-1.15.85 1.15 1.15.85-1.15.85-.85 1.15-.85-1.15zM303.24 183.80m-2 0 1.15-.85.85-1.15.85 1.15 1.15.85-1.15.85-.85 1.15-.85-1.15zM312.69 183.80m-2 0 1.15-.85.85-1.15.85 1.15 1.15.85-1.15.85-.85 1.15-.85-1.15zM322.15 183.80m-2 0 1.15-.85.85-1.15.85 1.15 1.15.85-1.15.85-.85 1.15-.85-1.15zM326.88 183.80m-2 0 1.15-.85.85-1.15.85 1.15 1.15.85-1.15.85-.85 1.15-.85-1.15zM331.60 183.80m-2 0 1.15-.85.85-1.15.85 1.15 1.15.85-1.15.85-.85 1.15-.85-1.15zM336.33 183.80m-2 0 1.15-.85.85-1.15.85 1.15 1.15.85-1.15.85-.85 1.15-.85-1.15zM345.78 183.80m-2 0 1.15-.85.85-1.15.85 1.15 1.15.85-1.15.85-.85 1.15-.85-1.15zM359.96 183.80m-2 0 1.15-.85.85-1.15.85 1.15 1.15.85-1.15.85-.85 1.15-.85-1.15zM364.69 183.80m-2 0 1.15-.85.85-1.15.85 1.15 1.15.85-1.15.85-.85 1.15-.85-1.15zM369.42 183.80m-2 0 1.15-.85.85-1.15.85 1.15 1.15.85-1.15.85-.85 1.15-.85-1.15zM402.51 183.80m-2 0 1.15-.85.85-1.15.85 1.15 1.15.85-1.15.85-.85 1.15-.85-1.15zM407.23 183.80m-2 0 1.15-.85.85-1.15.85 1.15 1.15.85-1.15.85-.85 1.15-.85-1.15zM411.96 183.80m-2 0 1.15-.85.85-1.15.85 1.15 1.15.85-1.15.85-.85 1.15-.85-1.15zM416.69 183.80m-2 0 1.15-.85.85-1.15.85 1.15 1.15.85-1.15.85-.85 1.15-.85-1.15zM421.41 183.80m-2 0 1.15-.85.85-1.15.85 1.15 1.15.85-1.15.85-.85 1.15-.85-1.15zM426.14 183.80m-2 0 1.15-.85.85-1.15.85 1.15 1.15.85-1.15.85-.85 1.15-.85-1.15zM430.87 183.80m-2 0 1.15-.85.85-1.15.85 1.15 1.15.85-1.15.85-.85 1.15-.85-1.15zM435.60 183.80m-2 0 1.15-.85.85-1.15.85 1.15 1.15.85-1.15.85-.85 1.15-.85-1.15zM440.32 183.80m-2 0 1.15-.85.85-1.15.85 1.15 1.15.85-1.15.85-.85 1.15-.85-1.15zM511.23 183.80m-2 0 1.15-.85.85-1.15.85 1.15 1.15.85-1.15.85-.85 1.15-.85-1.15zM515.95 183.80m-2 0 1.15-.85.85-1.15.85 1.15 1.15.85-1.15.85-.85 1.15-.85-1.15zM520.68 183.80m-2 0 1.15-.85.85-1.15.85 1.15 1.15.85-1.15.85-.85 1.15-.85-1.15zM525.41 183.80m-2 0 1.15-.85.85-1.15.85 1.15 1.15.85-1.15.85-.85 1.15-.85-1.15zM530.14 183.80m-2 0 1.15-.85.85-1.15.85 1.15 1.15.85-1.15.85-.85 1.15-.85-1.15zM534.86 183.80m-2 0 1.15-.85.85-1.15.85 1.15 1.15.85-1.15.85-.85 1.15-.85-1.15zM539.59 183.80m-2 0 1.15-.85.85-1.15.85 1.15 1.15.85-1.15.85-.85 1.15-.85-1.15zM544.32 183.80m-2 0 1.15-.85.85-1.15.85 1.15 1.15.85-1.15.85-.85 1.15-.85-1.15zM582.13 183.80m-2 0 1.15-.85.85-1.15.85 1.15 1.15.85-1.15.85-.85 1.15-.85-1.15zM586.86 183.80m-2 0 1.15-.85.85-1.15.85 1.15 1.15.85-1.15.85-.85 1.15-.85-1.15zM596.31 183.80m-2 0 1.15-.85.85-1.15.85 1.15 1.15.85-1.15.85-.85 1.15-.85-1.15zM601.04 183.80m-2 0 1.15-.85.85-1.15.85 1.15 1.15.85-1.15.85-.85 1.15-.85-1.15zM605.77 183.80m-2 0 1.15-.85.85-1.15.85 1.15 1.15.85-1.15.85-.85 1.15-.85-1.15zM610.50 183.80m-2 0 1.15-.85.85-1.15.85 1.15 1.15.85-1.15.85-.85 1.15-.85-1.15zM615.22 183.80m-2 0 1.15-.85.85-1.15.85 1.15 1.15.85-1.15.85-.85 1.15-.85-1.15zM619.95 183.80m-2 0 1.15-.85.85-1.15.85 1.15 1.15.85-1.15.85-.85 1.15-.85-1.15zM624.68 183.80m-2 0 1.15-.85.85-1.15.85 1.15 1.15.85-1.15.85-.85 1.15-.85-1.15zM629.40 183.80m-2 0 1.15-.85.85-1.15.85 1.15 1.15.85-1.15.85-.85 1.15-.85-1.15zM634.13 183.80m-2 0 1.15-.85.85-1.15.85 1.15 1.15.85-1.15.85-.85 1.15-.85-1.15zM638.86 183.80m-2 0 1.15-.85.85-1.15.85 1.15 1.15.85-1.15.85-.85 1.15-.85-1.15zM643.58 183.80m-2 0 1.15-.85.85-1.15.85 1.15 1.15.85-1.15.85-.85 1.15-.85-1.15zM648.31 183.80m-2 0 1.15-.85.85-1.15.85 1.15 1.15.85-1.15.85-.85 1.15-.85-1.15zM653.04 183.80m-2 0 1.15-.85.85-1.15.85 1.15 1.15.85-1.15.85-.85 1.15-.85-1.15zM657.77 183.80m-2 0 1.15-.85.85-1.15.85 1.15 1.15.85-1.15.85-.85 1.15-.85-1.15zM662.49 183.80m-2 0 1.15-.85.85-1.15.85 1.15 1.15.85-1.15.85-.85 1.15-.85-1.15zM667.22 183.80m-2 0 1.15-.85.85-1.15.85 1.15 1.15.85-1.15.85-.85 1.15-.85-1.15zM671.95 183.80m-2 0 1.15-.85.85-1.15.85 1.15 1.15.85-1.15.85-.85 1.15-.85-1.15zM676.67 183.80m-2 0 1.15-.85.85-1.15.85 1.15 1.15.85-1.15.85-.85 1.15-.85-1.15zM681.40 183.80m-2 0 1.15-.85.85-1.15.85 1.15 1.15.85-1.15.85-.85 1.15-.85-1.15zM686.13 183.80m-2 0 1.15-.85.85-1.15.85 1.15 1.15.85-1.15.85-.85 1.15-.85-1.15zM690.85 183.80m-2 0 1.15-.85.85-1.15.85 1.15 1.15.85-1.15.85-.85 1.15-.85-1.15zM695.58 183.80m-2 0 1.15-.85.85-1.15.85 1.15 1.15.85-1.15.85-.85 1.15-.85-1.15zM700.31 183.80m-2 0 1.15-.85.85-1.15.85 1.15 1.15.85-1.15.85-.85 1.15-.85-1.15zM705.04 183.80m-2 0 1.15-.85.85-1.15.85 1.15 1.15.85-1.15.85-.85 1.15-.85-1.15zM709.76 183.80m-2 0 1.15-.85.85-1.15.85 1.15 1.15.85-1.15.85-.85 1.15-.85-1.15zM714.49 183.80m-2 0 1.15-.85.85-1.15.85 1.15 1.15.85-1.15.85-.85 1.15-.85-1.15zM719.22 183.80m-2 0 1.15-.85.85-1.15.85 1.15 1.15.85-1.15.85-.85 1.15-.85-1.15zM723.94 183.80m-2 0 1.15-.85.85-1.15.85 1.15 1.15.85-1.15.85-.85 1.15-.85-1.15zM728.67 183.80m-2 0 1.15-.85.85-1.15.85 1.15 1.15.85-1.15.85-.85 1.15-.85-1.15zM733.40 183.80m-2 0 1.15-.85.85-1.15.85 1.15 1.15.85-1.15.85-.85 1.15-.85-1.15zM738.12 183.80m-2 0 1.15-.85.85-1.15.85 1.15 1.15.85-1.15.85-.85 1.15-.85-1.15zM742.85 183.80m-2 0 1.15-.85.85-1.15.85 1.15 1.15.85-1.15.85-.85 1.15-.85-1.15zM747.58 183.80m-2 0 1.15-.85.85-1.15.85 1.15 1.15.85-1.15.85-.85 1.15-.85-1.15zM752.31 183.80m-2 0 1.15-.85.85-1.15.85 1.15 1.15.85-1.15.85-.85 1.15-.85-1.15zM757.03 183.80m-2 0 1.15-.85.85-1.15.85 1.15 1.15.85-1.15.85-.85 1.15-.85-1.15zM761.76 183.80m-2 0 1.15-.85.85-1.15.85 1.15 1.15.85-1.15.85-.85 1.15-.85-1.15zM766.49 183.80m-2 0 1.15-.85.85-1.15.85 1.15 1.15.85-1.15.85-.85 1.15-.85-1.15zM771.21 183.80m-2 0 1.15-.85.85-1.15.85 1.15 1.15.85-1.15.85-.85 1.15-.85-1.15zM775.94 183.80m-2 0 1.15-.85.85-1.15.85 1.15 1.15.85-1.15.85-.85 1.15-.85-1.15zM213.43 188.54m-2 0 1.15-.85.85-1.15.85 1.15 1.15.85-1.15.85-.85 1.15-.85-1.15zM218.15 188.54m-2 0 1.15-.85.85-1.15.85 1.15 1.15.85-1.15.85-.85 1.15-.85-1.15zM222.88 188.54m-2 0 1.15-.85.85-1.15.85 1.15 1.15.85-1.15.85-.85 1.15-.85-1.15zM227.61 188.54m-2 0 1.15-.85.85-1.15.85 1.15 1.15.85-1.15.85-.85 1.15-.85-1.15zM232.33 188.54m-2 0 1.15-.85.85-1.15.85 1.15 1.15.85-1.15.85-.85 1.15-.85-1.15zM237.06 188.54m-2 0 1.15-.85.85-1.15.85 1.15 1.15.85-1.15.85-.85 1.15-.85-1.15zM241.79 188.54m-2 0 1.15-.85.85-1.15.85 1.15 1.15.85-1.15.85-.85 1.15-.85-1.15zM246.52 188.54m-2 0 1.15-.85.85-1.15.85 1.15 1.15.85-1.15.85-.85 1.15-.85-1.15zM251.24 188.54m-2 0 1.15-.85.85-1.15.85 1.15 1.15.85-1.15.85-.85 1.15-.85-1.15zM255.97 188.54m-2 0 1.15-.85.85-1.15.85 1.15 1.15.85-1.15.85-.85 1.15-.85-1.15zM260.70 188.54m-2 0 1.15-.85.85-1.15.85 1.15 1.15.85-1.15.85-.85 1.15-.85-1.15zM265.42 188.54m-2 0 1.15-.85.85-1.15.85 1.15 1.15.85-1.15.85-.85 1.15-.85-1.15zM270.15 188.54m-2 0 1.15-.85.85-1.15.85 1.15 1.15.85-1.15.85-.85 1.15-.85-1.15zM274.88 188.54m-2 0 1.15-.85.85-1.15.85 1.15 1.15.85-1.15.85-.85 1.15-.85-1.15zM279.61 188.54m-2 0 1.15-.85.85-1.15.85 1.15 1.15.85-1.15.85-.85 1.15-.85-1.15zM284.33 188.54m-2 0 1.15-.85.85-1.15.85 1.15 1.15.85-1.15.85-.85 1.15-.85-1.15zM289.06 188.54m-2 0 1.15-.85.85-1.15.85 1.15 1.15.85-1.15.85-.85 1.15-.85-1.15zM307.97 188.54m-2 0 1.15-.85.85-1.15.85 1.15 1.15.85-1.15.85-.85 1.15-.85-1.15zM312.69 188.54m-2 0 1.15-.85.85-1.15.85 1.15 1.15.85-1.15.85-.85 1.15-.85-1.15zM322.15 188.54m-2 0 1.15-.85.85-1.15.85 1.15 1.15.85-1.15.85-.85 1.15-.85-1.15zM326.88 188.54m-2 0 1.15-.85.85-1.15.85 1.15 1.15.85-1.15.85-.85 1.15-.85-1.15zM331.60 188.54m-2 0 1.15-.85.85-1.15.85 1.15 1.15.85-1.15.85-.85 1.15-.85-1.15zM336.33 188.54m-2 0 1.15-.85.85-1.15.85 1.15 1.15.85-1.15.85-.85 1.15-.85-1.15zM341.06 188.54m-2 0 1.15-.85.85-1.15.85 1.15 1.15.85-1.15.85-.85 1.15-.85-1.15zM345.78 188.54m-2 0 1.15-.85.85-1.15.85 1.15 1.15.85-1.15.85-.85 1.15-.85-1.15zM355.24 188.54m-2 0 1.15-.85.85-1.15.85 1.15 1.15.85-1.15.85-.85 1.15-.85-1.15zM364.69 188.54m-2 0 1.15-.85.85-1.15.85 1.15 1.15.85-1.15.85-.85 1.15-.85-1.15zM369.42 188.54m-2 0 1.15-.85.85-1.15.85 1.15 1.15.85-1.15.85-.85 1.15-.85-1.15zM374.14 188.54m-2 0 1.15-.85.85-1.15.85 1.15 1.15.85-1.15.85-.85 1.15-.85-1.15zM397.78 188.54m-2 0 1.15-.85.85-1.15.85 1.15 1.15.85-1.15.85-.85 1.15-.85-1.15zM402.51 188.54m-2 0 1.15-.85.85-1.15.85 1.15 1.15.85-1.15.85-.85 1.15-.85-1.15zM407.23 188.54m-2 0 1.15-.85.85-1.15.85 1.15 1.15.85-1.15.85-.85 1.15-.85-1.15zM411.96 188.54m-2 0 1.15-.85.85-1.15.85 1.15 1.15.85-1.15.85-.85 1.15-.85-1.15zM416.69 188.54m-2 0 1.15-.85.85-1.15.85 1.15 1.15.85-1.15.85-.85 1.15-.85-1.15zM421.41 188.54m-2 0 1.15-.85.85-1.15.85 1.15 1.15.85-1.15.85-.85 1.15-.85-1.15zM426.14 188.54m-2 0 1.15-.85.85-1.15.85 1.15 1.15.85-1.15.85-.85 1.15-.85-1.15zM430.87 188.54m-2 0 1.15-.85.85-1.15.85 1.15 1.15.85-1.15.85-.85 1.15-.85-1.15zM511.23 188.54m-2 0 1.15-.85.85-1.15.85 1.15 1.15.85-1.15.85-.85 1.15-.85-1.15zM515.95 188.54m-2 0 1.15-.85.85-1.15.85 1.15 1.15.85-1.15.85-.85 1.15-.85-1.15zM520.68 188.54m-2 0 1.15-.85.85-1.15.85 1.15 1.15.85-1.15.85-.85 1.15-.85-1.15zM525.41 188.54m-2 0 1.15-.85.85-1.15.85 1.15 1.15.85-1.15.85-.85 1.15-.85-1.15zM530.14 188.54m-2 0 1.15-.85.85-1.15.85 1.15 1.15.85-1.15.85-.85 1.15-.85-1.15zM534.86 188.54m-2 0 1.15-.85.85-1.15.85 1.15 1.15.85-1.15.85-.85 1.15-.85-1.15zM539.59 188.54m-2 0 1.15-.85.85-1.15.85 1.15 1.15.85-1.15.85-.85 1.15-.85-1.15zM544.32 188.54m-2 0 1.15-.85.85-1.15.85 1.15 1.15.85-1.15.85-.85 1.15-.85-1.15zM558.50 188.54m-2 0 1.15-.85.85-1.15.85 1.15 1.15.85-1.15.85-.85 1.15-.85-1.15zM567.95 188.54m-2 0 1.15-.85.85-1.15.85 1.15 1.15.85-1.15.85-.85 1.15-.85-1.15zM572.68 188.54m-2 0 1.15-.85.85-1.15.85 1.15 1.15.85-1.15.85-.85 1.15-.85-1.15zM577.41 188.54m-2 0 1.15-.85.85-1.15.85 1.15 1.15.85-1.15.85-.85 1.15-.85-1.15zM582.13 188.54m-2 0 1.15-.85.85-1.15.85 1.15 1.15.85-1.15.85-.85 1.15-.85-1.15zM586.86 188.54m-2 0 1.15-.85.85-1.15.85 1.15 1.15.85-1.15.85-.85 1.15-.85-1.15zM591.59 188.54m-2 0 1.15-.85.85-1.15.85 1.15 1.15.85-1.15.85-.85 1.15-.85-1.15zM596.31 188.54m-2 0 1.15-.85.85-1.15.85 1.15 1.15.85-1.15.85-.85 1.15-.85-1.15zM601.04 188.54m-2 0 1.15-.85.85-1.15.85 1.15 1.15.85-1.15.85-.85 1.15-.85-1.15zM605.77 188.54m-2 0 1.15-.85.85-1.15.85 1.15 1.15.85-1.15.85-.85 1.15-.85-1.15zM610.50 188.54m-2 0 1.15-.85.85-1.15.85 1.15 1.15.85-1.15.85-.85 1.15-.85-1.15zM615.22 188.54m-2 0 1.15-.85.85-1.15.85 1.15 1.15.85-1.15.85-.85 1.15-.85-1.15zM619.95 188.54m-2 0 1.15-.85.85-1.15.85 1.15 1.15.85-1.15.85-.85 1.15-.85-1.15zM624.68 188.54m-2 0 1.15-.85.85-1.15.85 1.15 1.15.85-1.15.85-.85 1.15-.85-1.15zM629.40 188.54m-2 0 1.15-.85.85-1.15.85 1.15 1.15.85-1.15.85-.85 1.15-.85-1.15zM634.13 188.54m-2 0 1.15-.85.85-1.15.85 1.15 1.15.85-1.15.85-.85 1.15-.85-1.15zM638.86 188.54m-2 0 1.15-.85.85-1.15.85 1.15 1.15.85-1.15.85-.85 1.15-.85-1.15zM643.58 188.54m-2 0 1.15-.85.85-1.15.85 1.15 1.15.85-1.15.85-.85 1.15-.85-1.15zM648.31 188.54m-2 0 1.15-.85.85-1.15.85 1.15 1.15.85-1.15.85-.85 1.15-.85-1.15zM653.04 188.54m-2 0 1.15-.85.85-1.15.85 1.15 1.15.85-1.15.85-.85 1.15-.85-1.15zM657.77 188.54m-2 0 1.15-.85.85-1.15.85 1.15 1.15.85-1.15.85-.85 1.15-.85-1.15zM662.49 188.54m-2 0 1.15-.85.85-1.15.85 1.15 1.15.85-1.15.85-.85 1.15-.85-1.15zM667.22 188.54m-2 0 1.15-.85.85-1.15.85 1.15 1.15.85-1.15.85-.85 1.15-.85-1.15zM671.95 188.54m-2 0 1.15-.85.85-1.15.85 1.15 1.15.85-1.15.85-.85 1.15-.85-1.15zM676.67 188.54m-2 0 1.15-.85.85-1.15.85 1.15 1.15.85-1.15.85-.85 1.15-.85-1.15zM681.40 188.54m-2 0 1.15-.85.85-1.15.85 1.15 1.15.85-1.15.85-.85 1.15-.85-1.15zM686.13 188.54m-2 0 1.15-.85.85-1.15.85 1.15 1.15.85-1.15.85-.85 1.15-.85-1.15zM690.85 188.54m-2 0 1.15-.85.85-1.15.85 1.15 1.15.85-1.15.85-.85 1.15-.85-1.15zM695.58 188.54m-2 0 1.15-.85.85-1.15.85 1.15 1.15.85-1.15.85-.85 1.15-.85-1.15zM700.31 188.54m-2 0 1.15-.85.85-1.15.85 1.15 1.15.85-1.15.85-.85 1.15-.85-1.15zM705.04 188.54m-2 0 1.15-.85.85-1.15.85 1.15 1.15.85-1.15.85-.85 1.15-.85-1.15zM709.76 188.54m-2 0 1.15-.85.85-1.15.85 1.15 1.15.85-1.15.85-.85 1.15-.85-1.15zM714.49 188.54m-2 0 1.15-.85.85-1.15.85 1.15 1.15.85-1.15.85-.85 1.15-.85-1.15zM719.22 188.54m-2 0 1.15-.85.85-1.15.85 1.15 1.15.85-1.15.85-.85 1.15-.85-1.15zM723.94 188.54m-2 0 1.15-.85.85-1.15.85 1.15 1.15.85-1.15.85-.85 1.15-.85-1.15zM728.67 188.54m-2 0 1.15-.85.85-1.15.85 1.15 1.15.85-1.15.85-.85 1.15-.85-1.15zM733.40 188.54m-2 0 1.15-.85.85-1.15.85 1.15 1.15.85-1.15.85-.85 1.15-.85-1.15zM738.12 188.54m-2 0 1.15-.85.85-1.15.85 1.15 1.15.85-1.15.85-.85 1.15-.85-1.15zM742.85 188.54m-2 0 1.15-.85.85-1.15.85 1.15 1.15.85-1.15.85-.85 1.15-.85-1.15zM747.58 188.54m-2 0 1.15-.85.85-1.15.85 1.15 1.15.85-1.15.85-.85 1.15-.85-1.15zM752.31 188.54m-2 0 1.15-.85.85-1.15.85 1.15 1.15.85-1.15.85-.85 1.15-.85-1.15zM757.03 188.54m-2 0 1.15-.85.85-1.15.85 1.15 1.15.85-1.15.85-.85 1.15-.85-1.15zM761.76 188.54m-2 0 1.15-.85.85-1.15.85 1.15 1.15.85-1.15.85-.85 1.15-.85-1.15zM766.49 188.54m-2 0 1.15-.85.85-1.15.85 1.15 1.15.85-1.15.85-.85 1.15-.85-1.15zM771.21 188.54m-2 0 1.15-.85.85-1.15.85 1.15 1.15.85-1.15.85-.85 1.15-.85-1.15zM775.94 188.54m-2 0 1.15-.85.85-1.15.85 1.15 1.15.85-1.15.85-.85 1.15-.85-1.15zM780.67 188.54m-2 0 1.15-.85.85-1.15.85 1.15 1.15.85-1.15.85-.85 1.15-.85-1.15zM218.15 193.28m-2 0 1.15-.85.85-1.15.85 1.15 1.15.85-1.15.85-.85 1.15-.85-1.15zM222.88 193.28m-2 0 1.15-.85.85-1.15.85 1.15 1.15.85-1.15.85-.85 1.15-.85-1.15zM227.61 193.28m-2 0 1.15-.85.85-1.15.85 1.15 1.15.85-1.15.85-.85 1.15-.85-1.15zM232.33 193.28m-2 0 1.15-.85.85-1.15.85 1.15 1.15.85-1.15.85-.85 1.15-.85-1.15zM237.06 193.28m-2 0 1.15-.85.85-1.15.85 1.15 1.15.85-1.15.85-.85 1.15-.85-1.15zM241.79 193.28m-2 0 1.15-.85.85-1.15.85 1.15 1.15.85-1.15.85-.85 1.15-.85-1.15zM246.52 193.28m-2 0 1.15-.85.85-1.15.85 1.15 1.15.85-1.15.85-.85 1.15-.85-1.15zM251.24 193.28m-2 0 1.15-.85.85-1.15.85 1.15 1.15.85-1.15.85-.85 1.15-.85-1.15zM255.97 193.28m-2 0 1.15-.85.85-1.15.85 1.15 1.15.85-1.15.85-.85 1.15-.85-1.15zM260.70 193.28m-2 0 1.15-.85.85-1.15.85 1.15 1.15.85-1.15.85-.85 1.15-.85-1.15zM265.42 193.28m-2 0 1.15-.85.85-1.15.85 1.15 1.15.85-1.15.85-.85 1.15-.85-1.15zM270.15 193.28m-2 0 1.15-.85.85-1.15.85 1.15 1.15.85-1.15.85-.85 1.15-.85-1.15zM274.88 193.28m-2 0 1.15-.85.85-1.15.85 1.15 1.15.85-1.15.85-.85 1.15-.85-1.15zM279.61 193.28m-2 0 1.15-.85.85-1.15.85 1.15 1.15.85-1.15.85-.85 1.15-.85-1.15zM284.33 193.28m-2 0 1.15-.85.85-1.15.85 1.15 1.15.85-1.15.85-.85 1.15-.85-1.15zM289.06 193.28m-2 0 1.15-.85.85-1.15.85 1.15 1.15.85-1.15.85-.85 1.15-.85-1.15zM293.79 193.28m-2 0 1.15-.85.85-1.15.85 1.15 1.15.85-1.15.85-.85 1.15-.85-1.15zM298.51 193.28m-2 0 1.15-.85.85-1.15.85 1.15 1.15.85-1.15.85-.85 1.15-.85-1.15zM303.24 193.28m-2 0 1.15-.85.85-1.15.85 1.15 1.15.85-1.15.85-.85 1.15-.85-1.15zM307.97 193.28m-2 0 1.15-.85.85-1.15.85 1.15 1.15.85-1.15.85-.85 1.15-.85-1.15zM312.69 193.28m-2 0 1.15-.85.85-1.15.85 1.15 1.15.85-1.15.85-.85 1.15-.85-1.15zM317.42 193.28m-2 0 1.15-.85.85-1.15.85 1.15 1.15.85-1.15.85-.85 1.15-.85-1.15zM322.15 193.28m-2 0 1.15-.85.85-1.15.85 1.15 1.15.85-1.15.85-.85 1.15-.85-1.15zM326.88 193.28m-2 0 1.15-.85.85-1.15.85 1.15 1.15.85-1.15.85-.85 1.15-.85-1.15zM331.60 193.28m-2 0 1.15-.85.85-1.15.85 1.15 1.15.85-1.15.85-.85 1.15-.85-1.15zM336.33 193.28m-2 0 1.15-.85.85-1.15.85 1.15 1.15.85-1.15.85-.85 1.15-.85-1.15zM341.06 193.28m-2 0 1.15-.85.85-1.15.85 1.15 1.15.85-1.15.85-.85 1.15-.85-1.15zM345.78 193.28m-2 0 1.15-.85.85-1.15.85 1.15 1.15.85-1.15.85-.85 1.15-.85-1.15zM364.69 193.28m-2 0 1.15-.85.85-1.15.85 1.15 1.15.85-1.15.85-.85 1.15-.85-1.15zM369.42 193.28m-2 0 1.15-.85.85-1.15.85 1.15 1.15.85-1.15.85-.85 1.15-.85-1.15zM374.14 193.28m-2 0 1.15-.85.85-1.15.85 1.15 1.15.85-1.15.85-.85 1.15-.85-1.15zM378.87 193.28m-2 0 1.15-.85.85-1.15.85 1.15 1.15.85-1.15.85-.85 1.15-.85-1.15zM397.78 193.28m-2 0 1.15-.85.85-1.15.85 1.15 1.15.85-1.15.85-.85 1.15-.85-1.15zM402.51 193.28m-2 0 1.15-.85.85-1.15.85 1.15 1.15.85-1.15.85-.85 1.15-.85-1.15zM407.23 193.28m-2 0 1.15-.85.85-1.15.85 1.15 1.15.85-1.15.85-.85 1.15-.85-1.15zM411.96 193.28m-2 0 1.15-.85.85-1.15.85 1.15 1.15.85-1.15.85-.85 1.15-.85-1.15zM416.69 193.28m-2 0 1.15-.85.85-1.15.85 1.15 1.15.85-1.15.85-.85 1.15-.85-1.15zM421.41 193.28m-2 0 1.15-.85.85-1.15.85 1.15 1.15.85-1.15.85-.85 1.15-.85-1.15zM426.14 193.28m-2 0 1.15-.85.85-1.15.85 1.15 1.15.85-1.15.85-.85 1.15-.85-1.15zM506.50 193.28m-2 0 1.15-.85.85-1.15.85 1.15 1.15.85-1.15.85-.85 1.15-.85-1.15zM511.23 193.28m-2 0 1.15-.85.85-1.15.85 1.15 1.15.85-1.15.85-.85 1.15-.85-1.15zM515.95 193.28m-2 0 1.15-.85.85-1.15.85 1.15 1.15.85-1.15.85-.85 1.15-.85-1.15zM520.68 193.28m-2 0 1.15-.85.85-1.15.85 1.15 1.15.85-1.15.85-.85 1.15-.85-1.15zM525.41 193.28m-2 0 1.15-.85.85-1.15.85 1.15 1.15.85-1.15.85-.85 1.15-.85-1.15zM530.14 193.28m-2 0 1.15-.85.85-1.15.85 1.15 1.15.85-1.15.85-.85 1.15-.85-1.15zM534.86 193.28m-2 0 1.15-.85.85-1.15.85 1.15 1.15.85-1.15.85-.85 1.15-.85-1.15zM539.59 193.28m-2 0 1.15-.85.85-1.15.85 1.15 1.15.85-1.15.85-.85 1.15-.85-1.15zM544.32 193.28m-2 0 1.15-.85.85-1.15.85 1.15 1.15.85-1.15.85-.85 1.15-.85-1.15zM549.04 193.28m-2 0 1.15-.85.85-1.15.85 1.15 1.15.85-1.15.85-.85 1.15-.85-1.15zM563.23 193.28m-2 0 1.15-.85.85-1.15.85 1.15 1.15.85-1.15.85-.85 1.15-.85-1.15zM567.95 193.28m-2 0 1.15-.85.85-1.15.85 1.15 1.15.85-1.15.85-.85 1.15-.85-1.15zM572.68 193.28m-2 0 1.15-.85.85-1.15.85 1.15 1.15.85-1.15.85-.85 1.15-.85-1.15zM577.41 193.28m-2 0 1.15-.85.85-1.15.85 1.15 1.15.85-1.15.85-.85 1.15-.85-1.15zM582.13 193.28m-2 0 1.15-.85.85-1.15.85 1.15 1.15.85-1.15.85-.85 1.15-.85-1.15zM586.86 193.28m-2 0 1.15-.85.85-1.15.85 1.15 1.15.85-1.15.85-.85 1.15-.85-1.15zM591.59 193.28m-2 0 1.15-.85.85-1.15.85 1.15 1.15.85-1.15.85-.85 1.15-.85-1.15zM596.31 193.28m-2 0 1.15-.85.85-1.15.85 1.15 1.15.85-1.15.85-.85 1.15-.85-1.15zM601.04 193.28m-2 0 1.15-.85.85-1.15.85 1.15 1.15.85-1.15.85-.85 1.15-.85-1.15zM605.77 193.28m-2 0 1.15-.85.85-1.15.85 1.15 1.15.85-1.15.85-.85 1.15-.85-1.15zM610.50 193.28m-2 0 1.15-.85.85-1.15.85 1.15 1.15.85-1.15.85-.85 1.15-.85-1.15zM615.22 193.28m-2 0 1.15-.85.85-1.15.85 1.15 1.15.85-1.15.85-.85 1.15-.85-1.15zM619.95 193.28m-2 0 1.15-.85.85-1.15.85 1.15 1.15.85-1.15.85-.85 1.15-.85-1.15zM624.68 193.28m-2 0 1.15-.85.85-1.15.85 1.15 1.15.85-1.15.85-.85 1.15-.85-1.15zM629.40 193.28m-2 0 1.15-.85.85-1.15.85 1.15 1.15.85-1.15.85-.85 1.15-.85-1.15zM634.13 193.28m-2 0 1.15-.85.85-1.15.85 1.15 1.15.85-1.15.85-.85 1.15-.85-1.15zM638.86 193.28m-2 0 1.15-.85.85-1.15.85 1.15 1.15.85-1.15.85-.85 1.15-.85-1.15zM643.58 193.28m-2 0 1.15-.85.85-1.15.85 1.15 1.15.85-1.15.85-.85 1.15-.85-1.15zM648.31 193.28m-2 0 1.15-.85.85-1.15.85 1.15 1.15.85-1.15.85-.85 1.15-.85-1.15zM653.04 193.28m-2 0 1.15-.85.85-1.15.85 1.15 1.15.85-1.15.85-.85 1.15-.85-1.15zM657.77 193.28m-2 0 1.15-.85.85-1.15.85 1.15 1.15.85-1.15.85-.85 1.15-.85-1.15zM662.49 193.28m-2 0 1.15-.85.85-1.15.85 1.15 1.15.85-1.15.85-.85 1.15-.85-1.15zM667.22 193.28m-2 0 1.15-.85.85-1.15.85 1.15 1.15.85-1.15.85-.85 1.15-.85-1.15zM671.95 193.28m-2 0 1.15-.85.85-1.15.85 1.15 1.15.85-1.15.85-.85 1.15-.85-1.15zM676.67 193.28m-2 0 1.15-.85.85-1.15.85 1.15 1.15.85-1.15.85-.85 1.15-.85-1.15zM681.40 193.28m-2 0 1.15-.85.85-1.15.85 1.15 1.15.85-1.15.85-.85 1.15-.85-1.15zM686.13 193.28m-2 0 1.15-.85.85-1.15.85 1.15 1.15.85-1.15.85-.85 1.15-.85-1.15zM690.85 193.28m-2 0 1.15-.85.85-1.15.85 1.15 1.15.85-1.15.85-.85 1.15-.85-1.15zM695.58 193.28m-2 0 1.15-.85.85-1.15.85 1.15 1.15.85-1.15.85-.85 1.15-.85-1.15zM700.31 193.28m-2 0 1.15-.85.85-1.15.85 1.15 1.15.85-1.15.85-.85 1.15-.85-1.15zM705.04 193.28m-2 0 1.15-.85.85-1.15.85 1.15 1.15.85-1.15.85-.85 1.15-.85-1.15zM709.76 193.28m-2 0 1.15-.85.85-1.15.85 1.15 1.15.85-1.15.85-.85 1.15-.85-1.15zM714.49 193.28m-2 0 1.15-.85.85-1.15.85 1.15 1.15.85-1.15.85-.85 1.15-.85-1.15zM719.22 193.28m-2 0 1.15-.85.85-1.15.85 1.15 1.15.85-1.15.85-.85 1.15-.85-1.15zM723.94 193.28m-2 0 1.15-.85.85-1.15.85 1.15 1.15.85-1.15.85-.85 1.15-.85-1.15zM728.67 193.28m-2 0 1.15-.85.85-1.15.85 1.15 1.15.85-1.15.85-.85 1.15-.85-1.15zM733.40 193.28m-2 0 1.15-.85.85-1.15.85 1.15 1.15.85-1.15.85-.85 1.15-.85-1.15zM738.12 193.28m-2 0 1.15-.85.85-1.15.85 1.15 1.15.85-1.15.85-.85 1.15-.85-1.15zM742.85 193.28m-2 0 1.15-.85.85-1.15.85 1.15 1.15.85-1.15.85-.85 1.15-.85-1.15zM747.58 193.28m-2 0 1.15-.85.85-1.15.85 1.15 1.15.85-1.15.85-.85 1.15-.85-1.15zM752.31 193.28m-2 0 1.15-.85.85-1.15.85 1.15 1.15.85-1.15.85-.85 1.15-.85-1.15zM757.03 193.28m-2 0 1.15-.85.85-1.15.85 1.15 1.15.85-1.15.85-.85 1.15-.85-1.15zM761.76 193.28m-2 0 1.15-.85.85-1.15.85 1.15 1.15.85-1.15.85-.85 1.15-.85-1.15zM766.49 193.28m-2 0 1.15-.85.85-1.15.85 1.15 1.15.85-1.15.85-.85 1.15-.85-1.15zM771.21 193.28m-2 0 1.15-.85.85-1.15.85 1.15 1.15.85-1.15.85-.85 1.15-.85-1.15zM775.94 193.28m-2 0 1.15-.85.85-1.15.85 1.15 1.15.85-1.15.85-.85 1.15-.85-1.15zM780.67 193.28m-2 0 1.15-.85.85-1.15.85 1.15 1.15.85-1.15.85-.85 1.15-.85-1.15zM785.39 193.28m-2 0 1.15-.85.85-1.15.85 1.15 1.15.85-1.15.85-.85 1.15-.85-1.15zM790.12 193.28m-2 0 1.15-.85.85-1.15.85 1.15 1.15.85-1.15.85-.85 1.15-.85-1.15zM208.70 198.03m-2 0 1.15-.85.85-1.15.85 1.15 1.15.85-1.15.85-.85 1.15-.85-1.15zM213.43 198.03m-2 0 1.15-.85.85-1.15.85 1.15 1.15.85-1.15.85-.85 1.15-.85-1.15zM218.15 198.03m-2 0 1.15-.85.85-1.15.85 1.15 1.15.85-1.15.85-.85 1.15-.85-1.15zM222.88 198.03m-2 0 1.15-.85.85-1.15.85 1.15 1.15.85-1.15.85-.85 1.15-.85-1.15zM227.61 198.03m-2 0 1.15-.85.85-1.15.85 1.15 1.15.85-1.15.85-.85 1.15-.85-1.15zM232.33 198.03m-2 0 1.15-.85.85-1.15.85 1.15 1.15.85-1.15.85-.85 1.15-.85-1.15zM237.06 198.03m-2 0 1.15-.85.85-1.15.85 1.15 1.15.85-1.15.85-.85 1.15-.85-1.15zM241.79 198.03m-2 0 1.15-.85.85-1.15.85 1.15 1.15.85-1.15.85-.85 1.15-.85-1.15zM246.52 198.03m-2 0 1.15-.85.85-1.15.85 1.15 1.15.85-1.15.85-.85 1.15-.85-1.15zM251.24 198.03m-2 0 1.15-.85.85-1.15.85 1.15 1.15.85-1.15.85-.85 1.15-.85-1.15zM255.97 198.03m-2 0 1.15-.85.85-1.15.85 1.15 1.15.85-1.15.85-.85 1.15-.85-1.15zM260.70 198.03m-2 0 1.15-.85.85-1.15.85 1.15 1.15.85-1.15.85-.85 1.15-.85-1.15zM265.42 198.03m-2 0 1.15-.85.85-1.15.85 1.15 1.15.85-1.15.85-.85 1.15-.85-1.15zM270.15 198.03m-2 0 1.15-.85.85-1.15.85 1.15 1.15.85-1.15.85-.85 1.15-.85-1.15zM274.88 198.03m-2 0 1.15-.85.85-1.15.85 1.15 1.15.85-1.15.85-.85 1.15-.85-1.15zM279.61 198.03m-2 0 1.15-.85.85-1.15.85 1.15 1.15.85-1.15.85-.85 1.15-.85-1.15zM284.33 198.03m-2 0 1.15-.85.85-1.15.85 1.15 1.15.85-1.15.85-.85 1.15-.85-1.15zM289.06 198.03m-2 0 1.15-.85.85-1.15.85 1.15 1.15.85-1.15.85-.85 1.15-.85-1.15zM293.79 198.03m-2 0 1.15-.85.85-1.15.85 1.15 1.15.85-1.15.85-.85 1.15-.85-1.15zM298.51 198.03m-2 0 1.15-.85.85-1.15.85 1.15 1.15.85-1.15.85-.85 1.15-.85-1.15zM303.24 198.03m-2 0 1.15-.85.85-1.15.85 1.15 1.15.85-1.15.85-.85 1.15-.85-1.15zM307.97 198.03m-2 0 1.15-.85.85-1.15.85 1.15 1.15.85-1.15.85-.85 1.15-.85-1.15zM312.69 198.03m-2 0 1.15-.85.85-1.15.85 1.15 1.15.85-1.15.85-.85 1.15-.85-1.15zM317.42 198.03m-2 0 1.15-.85.85-1.15.85 1.15 1.15.85-1.15.85-.85 1.15-.85-1.15zM322.15 198.03m-2 0 1.15-.85.85-1.15.85 1.15 1.15.85-1.15.85-.85 1.15-.85-1.15zM326.88 198.03m-2 0 1.15-.85.85-1.15.85 1.15 1.15.85-1.15.85-.85 1.15-.85-1.15zM331.60 198.03m-2 0 1.15-.85.85-1.15.85 1.15 1.15.85-1.15.85-.85 1.15-.85-1.15zM336.33 198.03m-2 0 1.15-.85.85-1.15.85 1.15 1.15.85-1.15.85-.85 1.15-.85-1.15zM341.06 198.03m-2 0 1.15-.85.85-1.15.85 1.15 1.15.85-1.15.85-.85 1.15-.85-1.15zM359.96 198.03m-2 0 1.15-.85.85-1.15.85 1.15 1.15.85-1.15.85-.85 1.15-.85-1.15zM364.69 198.03m-2 0 1.15-.85.85-1.15.85 1.15 1.15.85-1.15.85-.85 1.15-.85-1.15zM369.42 198.03m-2 0 1.15-.85.85-1.15.85 1.15 1.15.85-1.15.85-.85 1.15-.85-1.15zM378.87 198.03m-2 0 1.15-.85.85-1.15.85 1.15 1.15.85-1.15.85-.85 1.15-.85-1.15zM397.78 198.03m-2 0 1.15-.85.85-1.15.85 1.15 1.15.85-1.15.85-.85 1.15-.85-1.15zM402.51 198.03m-2 0 1.15-.85.85-1.15.85 1.15 1.15.85-1.15.85-.85 1.15-.85-1.15zM407.23 198.03m-2 0 1.15-.85.85-1.15.85 1.15 1.15.85-1.15.85-.85 1.15-.85-1.15zM411.96 198.03m-2 0 1.15-.85.85-1.15.85 1.15 1.15.85-1.15.85-.85 1.15-.85-1.15zM416.69 198.03m-2 0 1.15-.85.85-1.15.85 1.15 1.15.85-1.15.85-.85 1.15-.85-1.15zM421.41 198.03m-2 0 1.15-.85.85-1.15.85 1.15 1.15.85-1.15.85-.85 1.15-.85-1.15zM445.05 198.03m-2 0 1.15-.85.85-1.15.85 1.15 1.15.85-1.15.85-.85 1.15-.85-1.15zM449.78 198.03m-2 0 1.15-.85.85-1.15.85 1.15 1.15.85-1.15.85-.85 1.15-.85-1.15zM454.50 198.03m-2 0 1.15-.85.85-1.15.85 1.15 1.15.85-1.15.85-.85 1.15-.85-1.15zM506.50 198.03m-2 0 1.15-.85.85-1.15.85 1.15 1.15.85-1.15.85-.85 1.15-.85-1.15zM511.23 198.03m-2 0 1.15-.85.85-1.15.85 1.15 1.15.85-1.15.85-.85 1.15-.85-1.15zM515.95 198.03m-2 0 1.15-.85.85-1.15.85 1.15 1.15.85-1.15.85-.85 1.15-.85-1.15zM525.41 198.03m-2 0 1.15-.85.85-1.15.85 1.15 1.15.85-1.15.85-.85 1.15-.85-1.15zM530.14 198.03m-2 0 1.15-.85.85-1.15.85 1.15 1.15.85-1.15.85-.85 1.15-.85-1.15zM534.86 198.03m-2 0 1.15-.85.85-1.15.85 1.15 1.15.85-1.15.85-.85 1.15-.85-1.15zM553.77 198.03m-2 0 1.15-.85.85-1.15.85 1.15 1.15.85-1.15.85-.85 1.15-.85-1.15zM558.50 198.03m-2 0 1.15-.85.85-1.15.85 1.15 1.15.85-1.15.85-.85 1.15-.85-1.15zM563.23 198.03m-2 0 1.15-.85.85-1.15.85 1.15 1.15.85-1.15.85-.85 1.15-.85-1.15zM567.95 198.03m-2 0 1.15-.85.85-1.15.85 1.15 1.15.85-1.15.85-.85 1.15-.85-1.15zM572.68 198.03m-2 0 1.15-.85.85-1.15.85 1.15 1.15.85-1.15.85-.85 1.15-.85-1.15zM577.41 198.03m-2 0 1.15-.85.85-1.15.85 1.15 1.15.85-1.15.85-.85 1.15-.85-1.15zM582.13 198.03m-2 0 1.15-.85.85-1.15.85 1.15 1.15.85-1.15.85-.85 1.15-.85-1.15zM586.86 198.03m-2 0 1.15-.85.85-1.15.85 1.15 1.15.85-1.15.85-.85 1.15-.85-1.15zM591.59 198.03m-2 0 1.15-.85.85-1.15.85 1.15 1.15.85-1.15.85-.85 1.15-.85-1.15zM596.31 198.03m-2 0 1.15-.85.85-1.15.85 1.15 1.15.85-1.15.85-.85 1.15-.85-1.15zM601.04 198.03m-2 0 1.15-.85.85-1.15.85 1.15 1.15.85-1.15.85-.85 1.15-.85-1.15zM605.77 198.03m-2 0 1.15-.85.85-1.15.85 1.15 1.15.85-1.15.85-.85 1.15-.85-1.15zM610.50 198.03m-2 0 1.15-.85.85-1.15.85 1.15 1.15.85-1.15.85-.85 1.15-.85-1.15zM615.22 198.03m-2 0 1.15-.85.85-1.15.85 1.15 1.15.85-1.15.85-.85 1.15-.85-1.15zM619.95 198.03m-2 0 1.15-.85.85-1.15.85 1.15 1.15.85-1.15.85-.85 1.15-.85-1.15zM624.68 198.03m-2 0 1.15-.85.85-1.15.85 1.15 1.15.85-1.15.85-.85 1.15-.85-1.15zM629.40 198.03m-2 0 1.15-.85.85-1.15.85 1.15 1.15.85-1.15.85-.85 1.15-.85-1.15zM634.13 198.03m-2 0 1.15-.85.85-1.15.85 1.15 1.15.85-1.15.85-.85 1.15-.85-1.15zM638.86 198.03m-2 0 1.15-.85.85-1.15.85 1.15 1.15.85-1.15.85-.85 1.15-.85-1.15zM643.58 198.03m-2 0 1.15-.85.85-1.15.85 1.15 1.15.85-1.15.85-.85 1.15-.85-1.15zM648.31 198.03m-2 0 1.15-.85.85-1.15.85 1.15 1.15.85-1.15.85-.85 1.15-.85-1.15zM653.04 198.03m-2 0 1.15-.85.85-1.15.85 1.15 1.15.85-1.15.85-.85 1.15-.85-1.15zM657.77 198.03m-2 0 1.15-.85.85-1.15.85 1.15 1.15.85-1.15.85-.85 1.15-.85-1.15zM662.49 198.03m-2 0 1.15-.85.85-1.15.85 1.15 1.15.85-1.15.85-.85 1.15-.85-1.15zM667.22 198.03m-2 0 1.15-.85.85-1.15.85 1.15 1.15.85-1.15.85-.85 1.15-.85-1.15zM671.95 198.03m-2 0 1.15-.85.85-1.15.85 1.15 1.15.85-1.15.85-.85 1.15-.85-1.15zM676.67 198.03m-2 0 1.15-.85.85-1.15.85 1.15 1.15.85-1.15.85-.85 1.15-.85-1.15zM681.40 198.03m-2 0 1.15-.85.85-1.15.85 1.15 1.15.85-1.15.85-.85 1.15-.85-1.15zM686.13 198.03m-2 0 1.15-.85.85-1.15.85 1.15 1.15.85-1.15.85-.85 1.15-.85-1.15zM690.85 198.03m-2 0 1.15-.85.85-1.15.85 1.15 1.15.85-1.15.85-.85 1.15-.85-1.15zM695.58 198.03m-2 0 1.15-.85.85-1.15.85 1.15 1.15.85-1.15.85-.85 1.15-.85-1.15zM700.31 198.03m-2 0 1.15-.85.85-1.15.85 1.15 1.15.85-1.15.85-.85 1.15-.85-1.15zM705.04 198.03m-2 0 1.15-.85.85-1.15.85 1.15 1.15.85-1.15.85-.85 1.15-.85-1.15zM709.76 198.03m-2 0 1.15-.85.85-1.15.85 1.15 1.15.85-1.15.85-.85 1.15-.85-1.15zM714.49 198.03m-2 0 1.15-.85.85-1.15.85 1.15 1.15.85-1.15.85-.85 1.15-.85-1.15zM719.22 198.03m-2 0 1.15-.85.85-1.15.85 1.15 1.15.85-1.15.85-.85 1.15-.85-1.15zM723.94 198.03m-2 0 1.15-.85.85-1.15.85 1.15 1.15.85-1.15.85-.85 1.15-.85-1.15zM728.67 198.03m-2 0 1.15-.85.85-1.15.85 1.15 1.15.85-1.15.85-.85 1.15-.85-1.15zM733.40 198.03m-2 0 1.15-.85.85-1.15.85 1.15 1.15.85-1.15.85-.85 1.15-.85-1.15zM738.12 198.03m-2 0 1.15-.85.85-1.15.85 1.15 1.15.85-1.15.85-.85 1.15-.85-1.15zM742.85 198.03m-2 0 1.15-.85.85-1.15.85 1.15 1.15.85-1.15.85-.85 1.15-.85-1.15zM747.58 198.03m-2 0 1.15-.85.85-1.15.85 1.15 1.15.85-1.15.85-.85 1.15-.85-1.15zM752.31 198.03m-2 0 1.15-.85.85-1.15.85 1.15 1.15.85-1.15.85-.85 1.15-.85-1.15zM757.03 198.03m-2 0 1.15-.85.85-1.15.85 1.15 1.15.85-1.15.85-.85 1.15-.85-1.15zM761.76 198.03m-2 0 1.15-.85.85-1.15.85 1.15 1.15.85-1.15.85-.85 1.15-.85-1.15zM766.49 198.03m-2 0 1.15-.85.85-1.15.85 1.15 1.15.85-1.15.85-.85 1.15-.85-1.15zM771.21 198.03m-2 0 1.15-.85.85-1.15.85 1.15 1.15.85-1.15.85-.85 1.15-.85-1.15zM775.94 198.03m-2 0 1.15-.85.85-1.15.85 1.15 1.15.85-1.15.85-.85 1.15-.85-1.15zM780.67 198.03m-2 0 1.15-.85.85-1.15.85 1.15 1.15.85-1.15.85-.85 1.15-.85-1.15zM785.39 198.03m-2 0 1.15-.85.85-1.15.85 1.15 1.15.85-1.15.85-.85 1.15-.85-1.15zM222.88 202.77m-2 0 1.15-.85.85-1.15.85 1.15 1.15.85-1.15.85-.85 1.15-.85-1.15zM227.61 202.77m-2 0 1.15-.85.85-1.15.85 1.15 1.15.85-1.15.85-.85 1.15-.85-1.15zM232.33 202.77m-2 0 1.15-.85.85-1.15.85 1.15 1.15.85-1.15.85-.85 1.15-.85-1.15zM237.06 202.77m-2 0 1.15-.85.85-1.15.85 1.15 1.15.85-1.15.85-.85 1.15-.85-1.15zM241.79 202.77m-2 0 1.15-.85.85-1.15.85 1.15 1.15.85-1.15.85-.85 1.15-.85-1.15zM246.52 202.77m-2 0 1.15-.85.85-1.15.85 1.15 1.15.85-1.15.85-.85 1.15-.85-1.15zM251.24 202.77m-2 0 1.15-.85.85-1.15.85 1.15 1.15.85-1.15.85-.85 1.15-.85-1.15zM255.97 202.77m-2 0 1.15-.85.85-1.15.85 1.15 1.15.85-1.15.85-.85 1.15-.85-1.15zM260.70 202.77m-2 0 1.15-.85.85-1.15.85 1.15 1.15.85-1.15.85-.85 1.15-.85-1.15zM265.42 202.77m-2 0 1.15-.85.85-1.15.85 1.15 1.15.85-1.15.85-.85 1.15-.85-1.15zM270.15 202.77m-2 0 1.15-.85.85-1.15.85 1.15 1.15.85-1.15.85-.85 1.15-.85-1.15zM274.88 202.77m-2 0 1.15-.85.85-1.15.85 1.15 1.15.85-1.15.85-.85 1.15-.85-1.15zM279.61 202.77m-2 0 1.15-.85.85-1.15.85 1.15 1.15.85-1.15.85-.85 1.15-.85-1.15zM284.33 202.77m-2 0 1.15-.85.85-1.15.85 1.15 1.15.85-1.15.85-.85 1.15-.85-1.15zM289.06 202.77m-2 0 1.15-.85.85-1.15.85 1.15 1.15.85-1.15.85-.85 1.15-.85-1.15zM293.79 202.77m-2 0 1.15-.85.85-1.15.85 1.15 1.15.85-1.15.85-.85 1.15-.85-1.15zM298.51 202.77m-2 0 1.15-.85.85-1.15.85 1.15 1.15.85-1.15.85-.85 1.15-.85-1.15zM303.24 202.77m-2 0 1.15-.85.85-1.15.85 1.15 1.15.85-1.15.85-.85 1.15-.85-1.15zM307.97 202.77m-2 0 1.15-.85.85-1.15.85 1.15 1.15.85-1.15.85-.85 1.15-.85-1.15zM312.69 202.77m-2 0 1.15-.85.85-1.15.85 1.15 1.15.85-1.15.85-.85 1.15-.85-1.15zM317.42 202.77m-2 0 1.15-.85.85-1.15.85 1.15 1.15.85-1.15.85-.85 1.15-.85-1.15zM322.15 202.77m-2 0 1.15-.85.85-1.15.85 1.15 1.15.85-1.15.85-.85 1.15-.85-1.15zM326.88 202.77m-2 0 1.15-.85.85-1.15.85 1.15 1.15.85-1.15.85-.85 1.15-.85-1.15zM331.60 202.77m-2 0 1.15-.85.85-1.15.85 1.15 1.15.85-1.15.85-.85 1.15-.85-1.15zM336.33 202.77m-2 0 1.15-.85.85-1.15.85 1.15 1.15.85-1.15.85-.85 1.15-.85-1.15zM341.06 202.77m-2 0 1.15-.85.85-1.15.85 1.15 1.15.85-1.15.85-.85 1.15-.85-1.15zM345.78 202.77m-2 0 1.15-.85.85-1.15.85 1.15 1.15.85-1.15.85-.85 1.15-.85-1.15zM355.24 202.77m-2 0 1.15-.85.85-1.15.85 1.15 1.15.85-1.15.85-.85 1.15-.85-1.15zM359.96 202.77m-2 0 1.15-.85.85-1.15.85 1.15 1.15.85-1.15.85-.85 1.15-.85-1.15zM364.69 202.77m-2 0 1.15-.85.85-1.15.85 1.15 1.15.85-1.15.85-.85 1.15-.85-1.15zM369.42 202.77m-2 0 1.15-.85.85-1.15.85 1.15 1.15.85-1.15.85-.85 1.15-.85-1.15zM374.14 202.77m-2 0 1.15-.85.85-1.15.85 1.15 1.15.85-1.15.85-.85 1.15-.85-1.15zM397.78 202.77m-2 0 1.15-.85.85-1.15.85 1.15 1.15.85-1.15.85-.85 1.15-.85-1.15zM402.51 202.77m-2 0 1.15-.85.85-1.15.85 1.15 1.15.85-1.15.85-.85 1.15-.85-1.15zM407.23 202.77m-2 0 1.15-.85.85-1.15.85 1.15 1.15.85-1.15.85-.85 1.15-.85-1.15zM411.96 202.77m-2 0 1.15-.85.85-1.15.85 1.15 1.15.85-1.15.85-.85 1.15-.85-1.15zM449.78 202.77m-2 0 1.15-.85.85-1.15.85 1.15 1.15.85-1.15.85-.85 1.15-.85-1.15zM454.50 202.77m-2 0 1.15-.85.85-1.15.85 1.15 1.15.85-1.15.85-.85 1.15-.85-1.15zM459.23 202.77m-2 0 1.15-.85.85-1.15.85 1.15 1.15.85-1.15.85-.85 1.15-.85-1.15zM501.77 202.77m-2 0 1.15-.85.85-1.15.85 1.15 1.15.85-1.15.85-.85 1.15-.85-1.15zM506.50 202.77m-2 0 1.15-.85.85-1.15.85 1.15 1.15.85-1.15.85-.85 1.15-.85-1.15zM511.23 202.77m-2 0 1.15-.85.85-1.15.85 1.15 1.15.85-1.15.85-.85 1.15-.85-1.15zM515.95 202.77m-2 0 1.15-.85.85-1.15.85 1.15 1.15.85-1.15.85-.85 1.15-.85-1.15zM525.41 202.77m-2 0 1.15-.85.85-1.15.85 1.15 1.15.85-1.15.85-.85 1.15-.85-1.15zM530.14 202.77m-2 0 1.15-.85.85-1.15.85 1.15 1.15.85-1.15.85-.85 1.15-.85-1.15zM534.86 202.77m-2 0 1.15-.85.85-1.15.85 1.15 1.15.85-1.15.85-.85 1.15-.85-1.15zM539.59 202.77m-2 0 1.15-.85.85-1.15.85 1.15 1.15.85-1.15.85-.85 1.15-.85-1.15zM544.32 202.77m-2 0 1.15-.85.85-1.15.85 1.15 1.15.85-1.15.85-.85 1.15-.85-1.15zM549.04 202.77m-2 0 1.15-.85.85-1.15.85 1.15 1.15.85-1.15.85-.85 1.15-.85-1.15zM553.77 202.77m-2 0 1.15-.85.85-1.15.85 1.15 1.15.85-1.15.85-.85 1.15-.85-1.15zM558.50 202.77m-2 0 1.15-.85.85-1.15.85 1.15 1.15.85-1.15.85-.85 1.15-.85-1.15zM563.23 202.77m-2 0 1.15-.85.85-1.15.85 1.15 1.15.85-1.15.85-.85 1.15-.85-1.15zM567.95 202.77m-2 0 1.15-.85.85-1.15.85 1.15 1.15.85-1.15.85-.85 1.15-.85-1.15zM572.68 202.77m-2 0 1.15-.85.85-1.15.85 1.15 1.15.85-1.15.85-.85 1.15-.85-1.15zM577.41 202.77m-2 0 1.15-.85.85-1.15.85 1.15 1.15.85-1.15.85-.85 1.15-.85-1.15zM582.13 202.77m-2 0 1.15-.85.85-1.15.85 1.15 1.15.85-1.15.85-.85 1.15-.85-1.15zM586.86 202.77m-2 0 1.15-.85.85-1.15.85 1.15 1.15.85-1.15.85-.85 1.15-.85-1.15zM591.59 202.77m-2 0 1.15-.85.85-1.15.85 1.15 1.15.85-1.15.85-.85 1.15-.85-1.15zM596.31 202.77m-2 0 1.15-.85.85-1.15.85 1.15 1.15.85-1.15.85-.85 1.15-.85-1.15zM601.04 202.77m-2 0 1.15-.85.85-1.15.85 1.15 1.15.85-1.15.85-.85 1.15-.85-1.15zM605.77 202.77m-2 0 1.15-.85.85-1.15.85 1.15 1.15.85-1.15.85-.85 1.15-.85-1.15zM610.50 202.77m-2 0 1.15-.85.85-1.15.85 1.15 1.15.85-1.15.85-.85 1.15-.85-1.15zM615.22 202.77m-2 0 1.15-.85.85-1.15.85 1.15 1.15.85-1.15.85-.85 1.15-.85-1.15zM619.95 202.77m-2 0 1.15-.85.85-1.15.85 1.15 1.15.85-1.15.85-.85 1.15-.85-1.15zM624.68 202.77m-2 0 1.15-.85.85-1.15.85 1.15 1.15.85-1.15.85-.85 1.15-.85-1.15zM629.40 202.77m-2 0 1.15-.85.85-1.15.85 1.15 1.15.85-1.15.85-.85 1.15-.85-1.15zM634.13 202.77m-2 0 1.15-.85.85-1.15.85 1.15 1.15.85-1.15.85-.85 1.15-.85-1.15zM638.86 202.77m-2 0 1.15-.85.85-1.15.85 1.15 1.15.85-1.15.85-.85 1.15-.85-1.15zM643.58 202.77m-2 0 1.15-.85.85-1.15.85 1.15 1.15.85-1.15.85-.85 1.15-.85-1.15zM648.31 202.77m-2 0 1.15-.85.85-1.15.85 1.15 1.15.85-1.15.85-.85 1.15-.85-1.15zM653.04 202.77m-2 0 1.15-.85.85-1.15.85 1.15 1.15.85-1.15.85-.85 1.15-.85-1.15zM657.77 202.77m-2 0 1.15-.85.85-1.15.85 1.15 1.15.85-1.15.85-.85 1.15-.85-1.15zM662.49 202.77m-2 0 1.15-.85.85-1.15.85 1.15 1.15.85-1.15.85-.85 1.15-.85-1.15zM667.22 202.77m-2 0 1.15-.85.85-1.15.85 1.15 1.15.85-1.15.85-.85 1.15-.85-1.15zM671.95 202.77m-2 0 1.15-.85.85-1.15.85 1.15 1.15.85-1.15.85-.85 1.15-.85-1.15zM676.67 202.77m-2 0 1.15-.85.85-1.15.85 1.15 1.15.85-1.15.85-.85 1.15-.85-1.15zM681.40 202.77m-2 0 1.15-.85.85-1.15.85 1.15 1.15.85-1.15.85-.85 1.15-.85-1.15zM686.13 202.77m-2 0 1.15-.85.85-1.15.85 1.15 1.15.85-1.15.85-.85 1.15-.85-1.15zM690.85 202.77m-2 0 1.15-.85.85-1.15.85 1.15 1.15.85-1.15.85-.85 1.15-.85-1.15zM695.58 202.77m-2 0 1.15-.85.85-1.15.85 1.15 1.15.85-1.15.85-.85 1.15-.85-1.15zM700.31 202.77m-2 0 1.15-.85.85-1.15.85 1.15 1.15.85-1.15.85-.85 1.15-.85-1.15zM705.04 202.77m-2 0 1.15-.85.85-1.15.85 1.15 1.15.85-1.15.85-.85 1.15-.85-1.15zM709.76 202.77m-2 0 1.15-.85.85-1.15.85 1.15 1.15.85-1.15.85-.85 1.15-.85-1.15zM714.49 202.77m-2 0 1.15-.85.85-1.15.85 1.15 1.15.85-1.15.85-.85 1.15-.85-1.15zM719.22 202.77m-2 0 1.15-.85.85-1.15.85 1.15 1.15.85-1.15.85-.85 1.15-.85-1.15zM723.94 202.77m-2 0 1.15-.85.85-1.15.85 1.15 1.15.85-1.15.85-.85 1.15-.85-1.15zM728.67 202.77m-2 0 1.15-.85.85-1.15.85 1.15 1.15.85-1.15.85-.85 1.15-.85-1.15zM733.40 202.77m-2 0 1.15-.85.85-1.15.85 1.15 1.15.85-1.15.85-.85 1.15-.85-1.15zM738.12 202.77m-2 0 1.15-.85.85-1.15.85 1.15 1.15.85-1.15.85-.85 1.15-.85-1.15zM742.85 202.77m-2 0 1.15-.85.85-1.15.85 1.15 1.15.85-1.15.85-.85 1.15-.85-1.15zM747.58 202.77m-2 0 1.15-.85.85-1.15.85 1.15 1.15.85-1.15.85-.85 1.15-.85-1.15zM752.31 202.77m-2 0 1.15-.85.85-1.15.85 1.15 1.15.85-1.15.85-.85 1.15-.85-1.15zM757.03 202.77m-2 0 1.15-.85.85-1.15.85 1.15 1.15.85-1.15.85-.85 1.15-.85-1.15zM761.76 202.77m-2 0 1.15-.85.85-1.15.85 1.15 1.15.85-1.15.85-.85 1.15-.85-1.15zM766.49 202.77m-2 0 1.15-.85.85-1.15.85 1.15 1.15.85-1.15.85-.85 1.15-.85-1.15zM218.15 207.51m-2 0 1.15-.85.85-1.15.85 1.15 1.15.85-1.15.85-.85 1.15-.85-1.15zM222.88 207.51m-2 0 1.15-.85.85-1.15.85 1.15 1.15.85-1.15.85-.85 1.15-.85-1.15zM227.61 207.51m-2 0 1.15-.85.85-1.15.85 1.15 1.15.85-1.15.85-.85 1.15-.85-1.15zM232.33 207.51m-2 0 1.15-.85.85-1.15.85 1.15 1.15.85-1.15.85-.85 1.15-.85-1.15zM237.06 207.51m-2 0 1.15-.85.85-1.15.85 1.15 1.15.85-1.15.85-.85 1.15-.85-1.15zM241.79 207.51m-2 0 1.15-.85.85-1.15.85 1.15 1.15.85-1.15.85-.85 1.15-.85-1.15zM246.52 207.51m-2 0 1.15-.85.85-1.15.85 1.15 1.15.85-1.15.85-.85 1.15-.85-1.15zM251.24 207.51m-2 0 1.15-.85.85-1.15.85 1.15 1.15.85-1.15.85-.85 1.15-.85-1.15zM255.97 207.51m-2 0 1.15-.85.85-1.15.85 1.15 1.15.85-1.15.85-.85 1.15-.85-1.15zM260.70 207.51m-2 0 1.15-.85.85-1.15.85 1.15 1.15.85-1.15.85-.85 1.15-.85-1.15zM265.42 207.51m-2 0 1.15-.85.85-1.15.85 1.15 1.15.85-1.15.85-.85 1.15-.85-1.15zM270.15 207.51m-2 0 1.15-.85.85-1.15.85 1.15 1.15.85-1.15.85-.85 1.15-.85-1.15zM274.88 207.51m-2 0 1.15-.85.85-1.15.85 1.15 1.15.85-1.15.85-.85 1.15-.85-1.15zM279.61 207.51m-2 0 1.15-.85.85-1.15.85 1.15 1.15.85-1.15.85-.85 1.15-.85-1.15zM284.33 207.51m-2 0 1.15-.85.85-1.15.85 1.15 1.15.85-1.15.85-.85 1.15-.85-1.15zM289.06 207.51m-2 0 1.15-.85.85-1.15.85 1.15 1.15.85-1.15.85-.85 1.15-.85-1.15zM293.79 207.51m-2 0 1.15-.85.85-1.15.85 1.15 1.15.85-1.15.85-.85 1.15-.85-1.15zM298.51 207.51m-2 0 1.15-.85.85-1.15.85 1.15 1.15.85-1.15.85-.85 1.15-.85-1.15zM303.24 207.51m-2 0 1.15-.85.85-1.15.85 1.15 1.15.85-1.15.85-.85 1.15-.85-1.15zM307.97 207.51m-2 0 1.15-.85.85-1.15.85 1.15 1.15.85-1.15.85-.85 1.15-.85-1.15zM312.69 207.51m-2 0 1.15-.85.85-1.15.85 1.15 1.15.85-1.15.85-.85 1.15-.85-1.15zM317.42 207.51m-2 0 1.15-.85.85-1.15.85 1.15 1.15.85-1.15.85-.85 1.15-.85-1.15zM322.15 207.51m-2 0 1.15-.85.85-1.15.85 1.15 1.15.85-1.15.85-.85 1.15-.85-1.15zM326.88 207.51m-2 0 1.15-.85.85-1.15.85 1.15 1.15.85-1.15.85-.85 1.15-.85-1.15zM331.60 207.51m-2 0 1.15-.85.85-1.15.85 1.15 1.15.85-1.15.85-.85 1.15-.85-1.15zM350.51 207.51m-2 0 1.15-.85.85-1.15.85 1.15 1.15.85-1.15.85-.85 1.15-.85-1.15zM369.42 207.51m-2 0 1.15-.85.85-1.15.85 1.15 1.15.85-1.15.85-.85 1.15-.85-1.15zM374.14 207.51m-2 0 1.15-.85.85-1.15.85 1.15 1.15.85-1.15.85-.85 1.15-.85-1.15zM402.51 207.51m-2 0 1.15-.85.85-1.15.85 1.15 1.15.85-1.15.85-.85 1.15-.85-1.15zM407.23 207.51m-2 0 1.15-.85.85-1.15.85 1.15 1.15.85-1.15.85-.85 1.15-.85-1.15zM411.96 207.51m-2 0 1.15-.85.85-1.15.85 1.15 1.15.85-1.15.85-.85 1.15-.85-1.15zM497.05 207.51m-2 0 1.15-.85.85-1.15.85 1.15 1.15.85-1.15.85-.85 1.15-.85-1.15zM501.77 207.51m-2 0 1.15-.85.85-1.15.85 1.15 1.15.85-1.15.85-.85 1.15-.85-1.15zM506.50 207.51m-2 0 1.15-.85.85-1.15.85 1.15 1.15.85-1.15.85-.85 1.15-.85-1.15zM511.23 207.51m-2 0 1.15-.85.85-1.15.85 1.15 1.15.85-1.15.85-.85 1.15-.85-1.15zM520.68 207.51m-2 0 1.15-.85.85-1.15.85 1.15 1.15.85-1.15.85-.85 1.15-.85-1.15zM525.41 207.51m-2 0 1.15-.85.85-1.15.85 1.15 1.15.85-1.15.85-.85 1.15-.85-1.15zM530.14 207.51m-2 0 1.15-.85.85-1.15.85 1.15 1.15.85-1.15.85-.85 1.15-.85-1.15zM534.86 207.51m-2 0 1.15-.85.85-1.15.85 1.15 1.15.85-1.15.85-.85 1.15-.85-1.15zM539.59 207.51m-2 0 1.15-.85.85-1.15.85 1.15 1.15.85-1.15.85-.85 1.15-.85-1.15zM544.32 207.51m-2 0 1.15-.85.85-1.15.85 1.15 1.15.85-1.15.85-.85 1.15-.85-1.15zM549.04 207.51m-2 0 1.15-.85.85-1.15.85 1.15 1.15.85-1.15.85-.85 1.15-.85-1.15zM553.77 207.51m-2 0 1.15-.85.85-1.15.85 1.15 1.15.85-1.15.85-.85 1.15-.85-1.15zM558.50 207.51m-2 0 1.15-.85.85-1.15.85 1.15 1.15.85-1.15.85-.85 1.15-.85-1.15zM563.23 207.51m-2 0 1.15-.85.85-1.15.85 1.15 1.15.85-1.15.85-.85 1.15-.85-1.15zM567.95 207.51m-2 0 1.15-.85.85-1.15.85 1.15 1.15.85-1.15.85-.85 1.15-.85-1.15zM572.68 207.51m-2 0 1.15-.85.85-1.15.85 1.15 1.15.85-1.15.85-.85 1.15-.85-1.15zM577.41 207.51m-2 0 1.15-.85.85-1.15.85 1.15 1.15.85-1.15.85-.85 1.15-.85-1.15zM582.13 207.51m-2 0 1.15-.85.85-1.15.85 1.15 1.15.85-1.15.85-.85 1.15-.85-1.15zM586.86 207.51m-2 0 1.15-.85.85-1.15.85 1.15 1.15.85-1.15.85-.85 1.15-.85-1.15zM591.59 207.51m-2 0 1.15-.85.85-1.15.85 1.15 1.15.85-1.15.85-.85 1.15-.85-1.15zM596.31 207.51m-2 0 1.15-.85.85-1.15.85 1.15 1.15.85-1.15.85-.85 1.15-.85-1.15zM601.04 207.51m-2 0 1.15-.85.85-1.15.85 1.15 1.15.85-1.15.85-.85 1.15-.85-1.15zM605.77 207.51m-2 0 1.15-.85.85-1.15.85 1.15 1.15.85-1.15.85-.85 1.15-.85-1.15zM610.50 207.51m-2 0 1.15-.85.85-1.15.85 1.15 1.15.85-1.15.85-.85 1.15-.85-1.15zM615.22 207.51m-2 0 1.15-.85.85-1.15.85 1.15 1.15.85-1.15.85-.85 1.15-.85-1.15zM619.95 207.51m-2 0 1.15-.85.85-1.15.85 1.15 1.15.85-1.15.85-.85 1.15-.85-1.15zM624.68 207.51m-2 0 1.15-.85.85-1.15.85 1.15 1.15.85-1.15.85-.85 1.15-.85-1.15zM629.40 207.51m-2 0 1.15-.85.85-1.15.85 1.15 1.15.85-1.15.85-.85 1.15-.85-1.15zM634.13 207.51m-2 0 1.15-.85.85-1.15.85 1.15 1.15.85-1.15.85-.85 1.15-.85-1.15zM638.86 207.51m-2 0 1.15-.85.85-1.15.85 1.15 1.15.85-1.15.85-.85 1.15-.85-1.15zM643.58 207.51m-2 0 1.15-.85.85-1.15.85 1.15 1.15.85-1.15.85-.85 1.15-.85-1.15zM648.31 207.51m-2 0 1.15-.85.85-1.15.85 1.15 1.15.85-1.15.85-.85 1.15-.85-1.15zM653.04 207.51m-2 0 1.15-.85.85-1.15.85 1.15 1.15.85-1.15.85-.85 1.15-.85-1.15zM657.77 207.51m-2 0 1.15-.85.85-1.15.85 1.15 1.15.85-1.15.85-.85 1.15-.85-1.15zM662.49 207.51m-2 0 1.15-.85.85-1.15.85 1.15 1.15.85-1.15.85-.85 1.15-.85-1.15zM667.22 207.51m-2 0 1.15-.85.85-1.15.85 1.15 1.15.85-1.15.85-.85 1.15-.85-1.15zM671.95 207.51m-2 0 1.15-.85.85-1.15.85 1.15 1.15.85-1.15.85-.85 1.15-.85-1.15zM676.67 207.51m-2 0 1.15-.85.85-1.15.85 1.15 1.15.85-1.15.85-.85 1.15-.85-1.15zM681.40 207.51m-2 0 1.15-.85.85-1.15.85 1.15 1.15.85-1.15.85-.85 1.15-.85-1.15zM686.13 207.51m-2 0 1.15-.85.85-1.15.85 1.15 1.15.85-1.15.85-.85 1.15-.85-1.15zM690.85 207.51m-2 0 1.15-.85.85-1.15.85 1.15 1.15.85-1.15.85-.85 1.15-.85-1.15zM695.58 207.51m-2 0 1.15-.85.85-1.15.85 1.15 1.15.85-1.15.85-.85 1.15-.85-1.15zM700.31 207.51m-2 0 1.15-.85.85-1.15.85 1.15 1.15.85-1.15.85-.85 1.15-.85-1.15zM705.04 207.51m-2 0 1.15-.85.85-1.15.85 1.15 1.15.85-1.15.85-.85 1.15-.85-1.15zM709.76 207.51m-2 0 1.15-.85.85-1.15.85 1.15 1.15.85-1.15.85-.85 1.15-.85-1.15zM714.49 207.51m-2 0 1.15-.85.85-1.15.85 1.15 1.15.85-1.15.85-.85 1.15-.85-1.15zM719.22 207.51m-2 0 1.15-.85.85-1.15.85 1.15 1.15.85-1.15.85-.85 1.15-.85-1.15zM723.94 207.51m-2 0 1.15-.85.85-1.15.85 1.15 1.15.85-1.15.85-.85 1.15-.85-1.15zM728.67 207.51m-2 0 1.15-.85.85-1.15.85 1.15 1.15.85-1.15.85-.85 1.15-.85-1.15zM733.40 207.51m-2 0 1.15-.85.85-1.15.85 1.15 1.15.85-1.15.85-.85 1.15-.85-1.15zM738.12 207.51m-2 0 1.15-.85.85-1.15.85 1.15 1.15.85-1.15.85-.85 1.15-.85-1.15zM742.85 207.51m-2 0 1.15-.85.85-1.15.85 1.15 1.15.85-1.15.85-.85 1.15-.85-1.15zM747.58 207.51m-2 0 1.15-.85.85-1.15.85 1.15 1.15.85-1.15.85-.85 1.15-.85-1.15zM752.31 207.51m-2 0 1.15-.85.85-1.15.85 1.15 1.15.85-1.15.85-.85 1.15-.85-1.15zM757.03 207.51m-2 0 1.15-.85.85-1.15.85 1.15 1.15.85-1.15.85-.85 1.15-.85-1.15zM761.76 207.51m-2 0 1.15-.85.85-1.15.85 1.15 1.15.85-1.15.85-.85 1.15-.85-1.15zM766.49 207.51m-2 0 1.15-.85.85-1.15.85 1.15 1.15.85-1.15.85-.85 1.15-.85-1.15zM771.21 207.51m-2 0 1.15-.85.85-1.15.85 1.15 1.15.85-1.15.85-.85 1.15-.85-1.15zM213.43 212.25m-2 0 1.15-.85.85-1.15.85 1.15 1.15.85-1.15.85-.85 1.15-.85-1.15zM218.15 212.25m-2 0 1.15-.85.85-1.15.85 1.15 1.15.85-1.15.85-.85 1.15-.85-1.15zM222.88 212.25m-2 0 1.15-.85.85-1.15.85 1.15 1.15.85-1.15.85-.85 1.15-.85-1.15zM227.61 212.25m-2 0 1.15-.85.85-1.15.85 1.15 1.15.85-1.15.85-.85 1.15-.85-1.15zM232.33 212.25m-2 0 1.15-.85.85-1.15.85 1.15 1.15.85-1.15.85-.85 1.15-.85-1.15zM237.06 212.25m-2 0 1.15-.85.85-1.15.85 1.15 1.15.85-1.15.85-.85 1.15-.85-1.15zM241.79 212.25m-2 0 1.15-.85.85-1.15.85 1.15 1.15.85-1.15.85-.85 1.15-.85-1.15zM246.52 212.25m-2 0 1.15-.85.85-1.15.85 1.15 1.15.85-1.15.85-.85 1.15-.85-1.15zM251.24 212.25m-2 0 1.15-.85.85-1.15.85 1.15 1.15.85-1.15.85-.85 1.15-.85-1.15zM255.97 212.25m-2 0 1.15-.85.85-1.15.85 1.15 1.15.85-1.15.85-.85 1.15-.85-1.15zM260.70 212.25m-2 0 1.15-.85.85-1.15.85 1.15 1.15.85-1.15.85-.85 1.15-.85-1.15zM265.42 212.25m-2 0 1.15-.85.85-1.15.85 1.15 1.15.85-1.15.85-.85 1.15-.85-1.15zM270.15 212.25m-2 0 1.15-.85.85-1.15.85 1.15 1.15.85-1.15.85-.85 1.15-.85-1.15zM274.88 212.25m-2 0 1.15-.85.85-1.15.85 1.15 1.15.85-1.15.85-.85 1.15-.85-1.15zM279.61 212.25m-2 0 1.15-.85.85-1.15.85 1.15 1.15.85-1.15.85-.85 1.15-.85-1.15zM284.33 212.25m-2 0 1.15-.85.85-1.15.85 1.15 1.15.85-1.15.85-.85 1.15-.85-1.15zM289.06 212.25m-2 0 1.15-.85.85-1.15.85 1.15 1.15.85-1.15.85-.85 1.15-.85-1.15zM293.79 212.25m-2 0 1.15-.85.85-1.15.85 1.15 1.15.85-1.15.85-.85 1.15-.85-1.15zM298.51 212.25m-2 0 1.15-.85.85-1.15.85 1.15 1.15.85-1.15.85-.85 1.15-.85-1.15zM303.24 212.25m-2 0 1.15-.85.85-1.15.85 1.15 1.15.85-1.15.85-.85 1.15-.85-1.15zM307.97 212.25m-2 0 1.15-.85.85-1.15.85 1.15 1.15.85-1.15.85-.85 1.15-.85-1.15zM312.69 212.25m-2 0 1.15-.85.85-1.15.85 1.15 1.15.85-1.15.85-.85 1.15-.85-1.15zM317.42 212.25m-2 0 1.15-.85.85-1.15.85 1.15 1.15.85-1.15.85-.85 1.15-.85-1.15zM322.15 212.25m-2 0 1.15-.85.85-1.15.85 1.15 1.15.85-1.15.85-.85 1.15-.85-1.15zM326.88 212.25m-2 0 1.15-.85.85-1.15.85 1.15 1.15.85-1.15.85-.85 1.15-.85-1.15zM355.24 212.25m-2 0 1.15-.85.85-1.15.85 1.15 1.15.85-1.15.85-.85 1.15-.85-1.15zM359.96 212.25m-2 0 1.15-.85.85-1.15.85 1.15 1.15.85-1.15.85-.85 1.15-.85-1.15zM374.14 212.25m-2 0 1.15-.85.85-1.15.85 1.15 1.15.85-1.15.85-.85 1.15-.85-1.15zM402.51 212.25m-2 0 1.15-.85.85-1.15.85 1.15 1.15.85-1.15.85-.85 1.15-.85-1.15zM407.23 212.25m-2 0 1.15-.85.85-1.15.85 1.15 1.15.85-1.15.85-.85 1.15-.85-1.15zM411.96 212.25m-2 0 1.15-.85.85-1.15.85 1.15 1.15.85-1.15.85-.85 1.15-.85-1.15zM492.32 212.25m-2 0 1.15-.85.85-1.15.85 1.15 1.15.85-1.15.85-.85 1.15-.85-1.15zM497.05 212.25m-2 0 1.15-.85.85-1.15.85 1.15 1.15.85-1.15.85-.85 1.15-.85-1.15zM501.77 212.25m-2 0 1.15-.85.85-1.15.85 1.15 1.15.85-1.15.85-.85 1.15-.85-1.15zM506.50 212.25m-2 0 1.15-.85.85-1.15.85 1.15 1.15.85-1.15.85-.85 1.15-.85-1.15zM511.23 212.25m-2 0 1.15-.85.85-1.15.85 1.15 1.15.85-1.15.85-.85 1.15-.85-1.15zM520.68 212.25m-2 0 1.15-.85.85-1.15.85 1.15 1.15.85-1.15.85-.85 1.15-.85-1.15zM525.41 212.25m-2 0 1.15-.85.85-1.15.85 1.15 1.15.85-1.15.85-.85 1.15-.85-1.15zM530.14 212.25m-2 0 1.15-.85.85-1.15.85 1.15 1.15.85-1.15.85-.85 1.15-.85-1.15zM534.86 212.25m-2 0 1.15-.85.85-1.15.85 1.15 1.15.85-1.15.85-.85 1.15-.85-1.15zM539.59 212.25m-2 0 1.15-.85.85-1.15.85 1.15 1.15.85-1.15.85-.85 1.15-.85-1.15zM544.32 212.25m-2 0 1.15-.85.85-1.15.85 1.15 1.15.85-1.15.85-.85 1.15-.85-1.15zM549.04 212.25m-2 0 1.15-.85.85-1.15.85 1.15 1.15.85-1.15.85-.85 1.15-.85-1.15zM553.77 212.25m-2 0 1.15-.85.85-1.15.85 1.15 1.15.85-1.15.85-.85 1.15-.85-1.15zM558.50 212.25m-2 0 1.15-.85.85-1.15.85 1.15 1.15.85-1.15.85-.85 1.15-.85-1.15zM563.23 212.25m-2 0 1.15-.85.85-1.15.85 1.15 1.15.85-1.15.85-.85 1.15-.85-1.15zM567.95 212.25m-2 0 1.15-.85.85-1.15.85 1.15 1.15.85-1.15.85-.85 1.15-.85-1.15zM572.68 212.25m-2 0 1.15-.85.85-1.15.85 1.15 1.15.85-1.15.85-.85 1.15-.85-1.15zM577.41 212.25m-2 0 1.15-.85.85-1.15.85 1.15 1.15.85-1.15.85-.85 1.15-.85-1.15zM582.13 212.25m-2 0 1.15-.85.85-1.15.85 1.15 1.15.85-1.15.85-.85 1.15-.85-1.15zM586.86 212.25m-2 0 1.15-.85.85-1.15.85 1.15 1.15.85-1.15.85-.85 1.15-.85-1.15zM591.59 212.25m-2 0 1.15-.85.85-1.15.85 1.15 1.15.85-1.15.85-.85 1.15-.85-1.15zM596.31 212.25m-2 0 1.15-.85.85-1.15.85 1.15 1.15.85-1.15.85-.85 1.15-.85-1.15zM601.04 212.25m-2 0 1.15-.85.85-1.15.85 1.15 1.15.85-1.15.85-.85 1.15-.85-1.15zM605.77 212.25m-2 0 1.15-.85.85-1.15.85 1.15 1.15.85-1.15.85-.85 1.15-.85-1.15zM610.50 212.25m-2 0 1.15-.85.85-1.15.85 1.15 1.15.85-1.15.85-.85 1.15-.85-1.15zM615.22 212.25m-2 0 1.15-.85.85-1.15.85 1.15 1.15.85-1.15.85-.85 1.15-.85-1.15zM619.95 212.25m-2 0 1.15-.85.85-1.15.85 1.15 1.15.85-1.15.85-.85 1.15-.85-1.15zM624.68 212.25m-2 0 1.15-.85.85-1.15.85 1.15 1.15.85-1.15.85-.85 1.15-.85-1.15zM629.40 212.25m-2 0 1.15-.85.85-1.15.85 1.15 1.15.85-1.15.85-.85 1.15-.85-1.15zM634.13 212.25m-2 0 1.15-.85.85-1.15.85 1.15 1.15.85-1.15.85-.85 1.15-.85-1.15zM638.86 212.25m-2 0 1.15-.85.85-1.15.85 1.15 1.15.85-1.15.85-.85 1.15-.85-1.15zM643.58 212.25m-2 0 1.15-.85.85-1.15.85 1.15 1.15.85-1.15.85-.85 1.15-.85-1.15zM648.31 212.25m-2 0 1.15-.85.85-1.15.85 1.15 1.15.85-1.15.85-.85 1.15-.85-1.15zM653.04 212.25m-2 0 1.15-.85.85-1.15.85 1.15 1.15.85-1.15.85-.85 1.15-.85-1.15zM657.77 212.25m-2 0 1.15-.85.85-1.15.85 1.15 1.15.85-1.15.85-.85 1.15-.85-1.15zM662.49 212.25m-2 0 1.15-.85.85-1.15.85 1.15 1.15.85-1.15.85-.85 1.15-.85-1.15zM667.22 212.25m-2 0 1.15-.85.85-1.15.85 1.15 1.15.85-1.15.85-.85 1.15-.85-1.15zM671.95 212.25m-2 0 1.15-.85.85-1.15.85 1.15 1.15.85-1.15.85-.85 1.15-.85-1.15zM676.67 212.25m-2 0 1.15-.85.85-1.15.85 1.15 1.15.85-1.15.85-.85 1.15-.85-1.15zM681.40 212.25m-2 0 1.15-.85.85-1.15.85 1.15 1.15.85-1.15.85-.85 1.15-.85-1.15zM686.13 212.25m-2 0 1.15-.85.85-1.15.85 1.15 1.15.85-1.15.85-.85 1.15-.85-1.15zM690.85 212.25m-2 0 1.15-.85.85-1.15.85 1.15 1.15.85-1.15.85-.85 1.15-.85-1.15zM695.58 212.25m-2 0 1.15-.85.85-1.15.85 1.15 1.15.85-1.15.85-.85 1.15-.85-1.15zM700.31 212.25m-2 0 1.15-.85.85-1.15.85 1.15 1.15.85-1.15.85-.85 1.15-.85-1.15zM705.04 212.25m-2 0 1.15-.85.85-1.15.85 1.15 1.15.85-1.15.85-.85 1.15-.85-1.15zM709.76 212.25m-2 0 1.15-.85.85-1.15.85 1.15 1.15.85-1.15.85-.85 1.15-.85-1.15zM714.49 212.25m-2 0 1.15-.85.85-1.15.85 1.15 1.15.85-1.15.85-.85 1.15-.85-1.15zM719.22 212.25m-2 0 1.15-.85.85-1.15.85 1.15 1.15.85-1.15.85-.85 1.15-.85-1.15zM723.94 212.25m-2 0 1.15-.85.85-1.15.85 1.15 1.15.85-1.15.85-.85 1.15-.85-1.15zM728.67 212.25m-2 0 1.15-.85.85-1.15.85 1.15 1.15.85-1.15.85-.85 1.15-.85-1.15zM733.40 212.25m-2 0 1.15-.85.85-1.15.85 1.15 1.15.85-1.15.85-.85 1.15-.85-1.15zM738.12 212.25m-2 0 1.15-.85.85-1.15.85 1.15 1.15.85-1.15.85-.85 1.15-.85-1.15zM742.85 212.25m-2 0 1.15-.85.85-1.15.85 1.15 1.15.85-1.15.85-.85 1.15-.85-1.15zM747.58 212.25m-2 0 1.15-.85.85-1.15.85 1.15 1.15.85-1.15.85-.85 1.15-.85-1.15zM752.31 212.25m-2 0 1.15-.85.85-1.15.85 1.15 1.15.85-1.15.85-.85 1.15-.85-1.15zM757.03 212.25m-2 0 1.15-.85.85-1.15.85 1.15 1.15.85-1.15.85-.85 1.15-.85-1.15zM761.76 212.25m-2 0 1.15-.85.85-1.15.85 1.15 1.15.85-1.15.85-.85 1.15-.85-1.15zM766.49 212.25m-2 0 1.15-.85.85-1.15.85 1.15 1.15.85-1.15.85-.85 1.15-.85-1.15zM213.43 216.99m-2 0 1.15-.85.85-1.15.85 1.15 1.15.85-1.15.85-.85 1.15-.85-1.15zM218.15 216.99m-2 0 1.15-.85.85-1.15.85 1.15 1.15.85-1.15.85-.85 1.15-.85-1.15zM222.88 216.99m-2 0 1.15-.85.85-1.15.85 1.15 1.15.85-1.15.85-.85 1.15-.85-1.15zM227.61 216.99m-2 0 1.15-.85.85-1.15.85 1.15 1.15.85-1.15.85-.85 1.15-.85-1.15zM232.33 216.99m-2 0 1.15-.85.85-1.15.85 1.15 1.15.85-1.15.85-.85 1.15-.85-1.15zM237.06 216.99m-2 0 1.15-.85.85-1.15.85 1.15 1.15.85-1.15.85-.85 1.15-.85-1.15zM246.52 216.99m-2 0 1.15-.85.85-1.15.85 1.15 1.15.85-1.15.85-.85 1.15-.85-1.15zM251.24 216.99m-2 0 1.15-.85.85-1.15.85 1.15 1.15.85-1.15.85-.85 1.15-.85-1.15zM255.97 216.99m-2 0 1.15-.85.85-1.15.85 1.15 1.15.85-1.15.85-.85 1.15-.85-1.15zM260.70 216.99m-2 0 1.15-.85.85-1.15.85 1.15 1.15.85-1.15.85-.85 1.15-.85-1.15zM265.42 216.99m-2 0 1.15-.85.85-1.15.85 1.15 1.15.85-1.15.85-.85 1.15-.85-1.15zM270.15 216.99m-2 0 1.15-.85.85-1.15.85 1.15 1.15.85-1.15.85-.85 1.15-.85-1.15zM274.88 216.99m-2 0 1.15-.85.85-1.15.85 1.15 1.15.85-1.15.85-.85 1.15-.85-1.15zM279.61 216.99m-2 0 1.15-.85.85-1.15.85 1.15 1.15.85-1.15.85-.85 1.15-.85-1.15zM284.33 216.99m-2 0 1.15-.85.85-1.15.85 1.15 1.15.85-1.15.85-.85 1.15-.85-1.15zM289.06 216.99m-2 0 1.15-.85.85-1.15.85 1.15 1.15.85-1.15.85-.85 1.15-.85-1.15zM293.79 216.99m-2 0 1.15-.85.85-1.15.85 1.15 1.15.85-1.15.85-.85 1.15-.85-1.15zM298.51 216.99m-2 0 1.15-.85.85-1.15.85 1.15 1.15.85-1.15.85-.85 1.15-.85-1.15zM303.24 216.99m-2 0 1.15-.85.85-1.15.85 1.15 1.15.85-1.15.85-.85 1.15-.85-1.15zM307.97 216.99m-2 0 1.15-.85.85-1.15.85 1.15 1.15.85-1.15.85-.85 1.15-.85-1.15zM312.69 216.99m-2 0 1.15-.85.85-1.15.85 1.15 1.15.85-1.15.85-.85 1.15-.85-1.15zM317.42 216.99m-2 0 1.15-.85.85-1.15.85 1.15 1.15.85-1.15.85-.85 1.15-.85-1.15zM322.15 216.99m-2 0 1.15-.85.85-1.15.85 1.15 1.15.85-1.15.85-.85 1.15-.85-1.15zM326.88 216.99m-2 0 1.15-.85.85-1.15.85 1.15 1.15.85-1.15.85-.85 1.15-.85-1.15zM359.96 216.99m-2 0 1.15-.85.85-1.15.85 1.15 1.15.85-1.15.85-.85 1.15-.85-1.15zM364.69 216.99m-2 0 1.15-.85.85-1.15.85 1.15 1.15.85-1.15.85-.85 1.15-.85-1.15zM407.23 216.99m-2 0 1.15-.85.85-1.15.85 1.15 1.15.85-1.15.85-.85 1.15-.85-1.15zM411.96 216.99m-2 0 1.15-.85.85-1.15.85 1.15 1.15.85-1.15.85-.85 1.15-.85-1.15zM492.32 216.99m-2 0 1.15-.85.85-1.15.85 1.15 1.15.85-1.15.85-.85 1.15-.85-1.15zM497.05 216.99m-2 0 1.15-.85.85-1.15.85 1.15 1.15.85-1.15.85-.85 1.15-.85-1.15zM501.77 216.99m-2 0 1.15-.85.85-1.15.85 1.15 1.15.85-1.15.85-.85 1.15-.85-1.15zM506.50 216.99m-2 0 1.15-.85.85-1.15.85 1.15 1.15.85-1.15.85-.85 1.15-.85-1.15zM511.23 216.99m-2 0 1.15-.85.85-1.15.85 1.15 1.15.85-1.15.85-.85 1.15-.85-1.15zM520.68 216.99m-2 0 1.15-.85.85-1.15.85 1.15 1.15.85-1.15.85-.85 1.15-.85-1.15zM530.14 216.99m-2 0 1.15-.85.85-1.15.85 1.15 1.15.85-1.15.85-.85 1.15-.85-1.15zM534.86 216.99m-2 0 1.15-.85.85-1.15.85 1.15 1.15.85-1.15.85-.85 1.15-.85-1.15zM539.59 216.99m-2 0 1.15-.85.85-1.15.85 1.15 1.15.85-1.15.85-.85 1.15-.85-1.15zM544.32 216.99m-2 0 1.15-.85.85-1.15.85 1.15 1.15.85-1.15.85-.85 1.15-.85-1.15zM549.04 216.99m-2 0 1.15-.85.85-1.15.85 1.15 1.15.85-1.15.85-.85 1.15-.85-1.15zM553.77 216.99m-2 0 1.15-.85.85-1.15.85 1.15 1.15.85-1.15.85-.85 1.15-.85-1.15zM558.50 216.99m-2 0 1.15-.85.85-1.15.85 1.15 1.15.85-1.15.85-.85 1.15-.85-1.15zM563.23 216.99m-2 0 1.15-.85.85-1.15.85 1.15 1.15.85-1.15.85-.85 1.15-.85-1.15zM567.95 216.99m-2 0 1.15-.85.85-1.15.85 1.15 1.15.85-1.15.85-.85 1.15-.85-1.15zM572.68 216.99m-2 0 1.15-.85.85-1.15.85 1.15 1.15.85-1.15.85-.85 1.15-.85-1.15zM577.41 216.99m-2 0 1.15-.85.85-1.15.85 1.15 1.15.85-1.15.85-.85 1.15-.85-1.15zM582.13 216.99m-2 0 1.15-.85.85-1.15.85 1.15 1.15.85-1.15.85-.85 1.15-.85-1.15zM586.86 216.99m-2 0 1.15-.85.85-1.15.85 1.15 1.15.85-1.15.85-.85 1.15-.85-1.15zM591.59 216.99m-2 0 1.15-.85.85-1.15.85 1.15 1.15.85-1.15.85-.85 1.15-.85-1.15zM596.31 216.99m-2 0 1.15-.85.85-1.15.85 1.15 1.15.85-1.15.85-.85 1.15-.85-1.15zM601.04 216.99m-2 0 1.15-.85.85-1.15.85 1.15 1.15.85-1.15.85-.85 1.15-.85-1.15zM605.77 216.99m-2 0 1.15-.85.85-1.15.85 1.15 1.15.85-1.15.85-.85 1.15-.85-1.15zM610.50 216.99m-2 0 1.15-.85.85-1.15.85 1.15 1.15.85-1.15.85-.85 1.15-.85-1.15zM615.22 216.99m-2 0 1.15-.85.85-1.15.85 1.15 1.15.85-1.15.85-.85 1.15-.85-1.15zM619.95 216.99m-2 0 1.15-.85.85-1.15.85 1.15 1.15.85-1.15.85-.85 1.15-.85-1.15zM624.68 216.99m-2 0 1.15-.85.85-1.15.85 1.15 1.15.85-1.15.85-.85 1.15-.85-1.15zM629.40 216.99m-2 0 1.15-.85.85-1.15.85 1.15 1.15.85-1.15.85-.85 1.15-.85-1.15zM634.13 216.99m-2 0 1.15-.85.85-1.15.85 1.15 1.15.85-1.15.85-.85 1.15-.85-1.15zM638.86 216.99m-2 0 1.15-.85.85-1.15.85 1.15 1.15.85-1.15.85-.85 1.15-.85-1.15zM643.58 216.99m-2 0 1.15-.85.85-1.15.85 1.15 1.15.85-1.15.85-.85 1.15-.85-1.15zM648.31 216.99m-2 0 1.15-.85.85-1.15.85 1.15 1.15.85-1.15.85-.85 1.15-.85-1.15zM653.04 216.99m-2 0 1.15-.85.85-1.15.85 1.15 1.15.85-1.15.85-.85 1.15-.85-1.15zM657.77 216.99m-2 0 1.15-.85.85-1.15.85 1.15 1.15.85-1.15.85-.85 1.15-.85-1.15zM662.49 216.99m-2 0 1.15-.85.85-1.15.85 1.15 1.15.85-1.15.85-.85 1.15-.85-1.15zM667.22 216.99m-2 0 1.15-.85.85-1.15.85 1.15 1.15.85-1.15.85-.85 1.15-.85-1.15zM671.95 216.99m-2 0 1.15-.85.85-1.15.85 1.15 1.15.85-1.15.85-.85 1.15-.85-1.15zM676.67 216.99m-2 0 1.15-.85.85-1.15.85 1.15 1.15.85-1.15.85-.85 1.15-.85-1.15zM681.40 216.99m-2 0 1.15-.85.85-1.15.85 1.15 1.15.85-1.15.85-.85 1.15-.85-1.15zM686.13 216.99m-2 0 1.15-.85.85-1.15.85 1.15 1.15.85-1.15.85-.85 1.15-.85-1.15zM690.85 216.99m-2 0 1.15-.85.85-1.15.85 1.15 1.15.85-1.15.85-.85 1.15-.85-1.15zM695.58 216.99m-2 0 1.15-.85.85-1.15.85 1.15 1.15.85-1.15.85-.85 1.15-.85-1.15zM700.31 216.99m-2 0 1.15-.85.85-1.15.85 1.15 1.15.85-1.15.85-.85 1.15-.85-1.15zM705.04 216.99m-2 0 1.15-.85.85-1.15.85 1.15 1.15.85-1.15.85-.85 1.15-.85-1.15zM709.76 216.99m-2 0 1.15-.85.85-1.15.85 1.15 1.15.85-1.15.85-.85 1.15-.85-1.15zM714.49 216.99m-2 0 1.15-.85.85-1.15.85 1.15 1.15.85-1.15.85-.85 1.15-.85-1.15zM719.22 216.99m-2 0 1.15-.85.85-1.15.85 1.15 1.15.85-1.15.85-.85 1.15-.85-1.15zM723.94 216.99m-2 0 1.15-.85.85-1.15.85 1.15 1.15.85-1.15.85-.85 1.15-.85-1.15zM728.67 216.99m-2 0 1.15-.85.85-1.15.85 1.15 1.15.85-1.15.85-.85 1.15-.85-1.15zM733.40 216.99m-2 0 1.15-.85.85-1.15.85 1.15 1.15.85-1.15.85-.85 1.15-.85-1.15zM747.58 216.99m-2 0 1.15-.85.85-1.15.85 1.15 1.15.85-1.15.85-.85 1.15-.85-1.15zM752.31 216.99m-2 0 1.15-.85.85-1.15.85 1.15 1.15.85-1.15.85-.85 1.15-.85-1.15zM757.03 216.99m-2 0 1.15-.85.85-1.15.85 1.15 1.15.85-1.15.85-.85 1.15-.85-1.15zM761.76 216.99m-2 0 1.15-.85.85-1.15.85 1.15 1.15.85-1.15.85-.85 1.15-.85-1.15zM218.15 221.73m-2 0 1.15-.85.85-1.15.85 1.15 1.15.85-1.15.85-.85 1.15-.85-1.15zM227.61 221.73m-2 0 1.15-.85.85-1.15.85 1.15 1.15.85-1.15.85-.85 1.15-.85-1.15zM260.70 221.73m-2 0 1.15-.85.85-1.15.85 1.15 1.15.85-1.15.85-.85 1.15-.85-1.15zM265.42 221.73m-2 0 1.15-.85.85-1.15.85 1.15 1.15.85-1.15.85-.85 1.15-.85-1.15zM270.15 221.73m-2 0 1.15-.85.85-1.15.85 1.15 1.15.85-1.15.85-.85 1.15-.85-1.15zM274.88 221.73m-2 0 1.15-.85.85-1.15.85 1.15 1.15.85-1.15.85-.85 1.15-.85-1.15zM279.61 221.73m-2 0 1.15-.85.85-1.15.85 1.15 1.15.85-1.15.85-.85 1.15-.85-1.15zM284.33 221.73m-2 0 1.15-.85.85-1.15.85 1.15 1.15.85-1.15.85-.85 1.15-.85-1.15zM289.06 221.73m-2 0 1.15-.85.85-1.15.85 1.15 1.15.85-1.15.85-.85 1.15-.85-1.15zM293.79 221.73m-2 0 1.15-.85.85-1.15.85 1.15 1.15.85-1.15.85-.85 1.15-.85-1.15zM298.51 221.73m-2 0 1.15-.85.85-1.15.85 1.15 1.15.85-1.15.85-.85 1.15-.85-1.15zM303.24 221.73m-2 0 1.15-.85.85-1.15.85 1.15 1.15.85-1.15.85-.85 1.15-.85-1.15zM307.97 221.73m-2 0 1.15-.85.85-1.15.85 1.15 1.15.85-1.15.85-.85 1.15-.85-1.15zM312.69 221.73m-2 0 1.15-.85.85-1.15.85 1.15 1.15.85-1.15.85-.85 1.15-.85-1.15zM317.42 221.73m-2 0 1.15-.85.85-1.15.85 1.15 1.15.85-1.15.85-.85 1.15-.85-1.15zM322.15 221.73m-2 0 1.15-.85.85-1.15.85 1.15 1.15.85-1.15.85-.85 1.15-.85-1.15zM326.88 221.73m-2 0 1.15-.85.85-1.15.85 1.15 1.15.85-1.15.85-.85 1.15-.85-1.15zM355.24 221.73m-2 0 1.15-.85.85-1.15.85 1.15 1.15.85-1.15.85-.85 1.15-.85-1.15zM359.96 221.73m-2 0 1.15-.85.85-1.15.85 1.15 1.15.85-1.15.85-.85 1.15-.85-1.15zM364.69 221.73m-2 0 1.15-.85.85-1.15.85 1.15 1.15.85-1.15.85-.85 1.15-.85-1.15zM378.87 221.73m-2 0 1.15-.85.85-1.15.85 1.15 1.15.85-1.15.85-.85 1.15-.85-1.15zM492.32 221.73m-2 0 1.15-.85.85-1.15.85 1.15 1.15.85-1.15.85-.85 1.15-.85-1.15zM497.05 221.73m-2 0 1.15-.85.85-1.15.85 1.15 1.15.85-1.15.85-.85 1.15-.85-1.15zM501.77 221.73m-2 0 1.15-.85.85-1.15.85 1.15 1.15.85-1.15.85-.85 1.15-.85-1.15zM506.50 221.73m-2 0 1.15-.85.85-1.15.85 1.15 1.15.85-1.15.85-.85 1.15-.85-1.15zM511.23 221.73m-2 0 1.15-.85.85-1.15.85 1.15 1.15.85-1.15.85-.85 1.15-.85-1.15zM520.68 221.73m-2 0 1.15-.85.85-1.15.85 1.15 1.15.85-1.15.85-.85 1.15-.85-1.15zM525.41 221.73m-2 0 1.15-.85.85-1.15.85 1.15 1.15.85-1.15.85-.85 1.15-.85-1.15zM530.14 221.73m-2 0 1.15-.85.85-1.15.85 1.15 1.15.85-1.15.85-.85 1.15-.85-1.15zM534.86 221.73m-2 0 1.15-.85.85-1.15.85 1.15 1.15.85-1.15.85-.85 1.15-.85-1.15zM539.59 221.73m-2 0 1.15-.85.85-1.15.85 1.15 1.15.85-1.15.85-.85 1.15-.85-1.15zM544.32 221.73m-2 0 1.15-.85.85-1.15.85 1.15 1.15.85-1.15.85-.85 1.15-.85-1.15zM549.04 221.73m-2 0 1.15-.85.85-1.15.85 1.15 1.15.85-1.15.85-.85 1.15-.85-1.15zM553.77 221.73m-2 0 1.15-.85.85-1.15.85 1.15 1.15.85-1.15.85-.85 1.15-.85-1.15zM558.50 221.73m-2 0 1.15-.85.85-1.15.85 1.15 1.15.85-1.15.85-.85 1.15-.85-1.15zM563.23 221.73m-2 0 1.15-.85.85-1.15.85 1.15 1.15.85-1.15.85-.85 1.15-.85-1.15zM567.95 221.73m-2 0 1.15-.85.85-1.15.85 1.15 1.15.85-1.15.85-.85 1.15-.85-1.15zM572.68 221.73m-2 0 1.15-.85.85-1.15.85 1.15 1.15.85-1.15.85-.85 1.15-.85-1.15zM577.41 221.73m-2 0 1.15-.85.85-1.15.85 1.15 1.15.85-1.15.85-.85 1.15-.85-1.15zM582.13 221.73m-2 0 1.15-.85.85-1.15.85 1.15 1.15.85-1.15.85-.85 1.15-.85-1.15zM586.86 221.73m-2 0 1.15-.85.85-1.15.85 1.15 1.15.85-1.15.85-.85 1.15-.85-1.15zM591.59 221.73m-2 0 1.15-.85.85-1.15.85 1.15 1.15.85-1.15.85-.85 1.15-.85-1.15zM596.31 221.73m-2 0 1.15-.85.85-1.15.85 1.15 1.15.85-1.15.85-.85 1.15-.85-1.15zM601.04 221.73m-2 0 1.15-.85.85-1.15.85 1.15 1.15.85-1.15.85-.85 1.15-.85-1.15zM605.77 221.73m-2 0 1.15-.85.85-1.15.85 1.15 1.15.85-1.15.85-.85 1.15-.85-1.15zM610.50 221.73m-2 0 1.15-.85.85-1.15.85 1.15 1.15.85-1.15.85-.85 1.15-.85-1.15zM615.22 221.73m-2 0 1.15-.85.85-1.15.85 1.15 1.15.85-1.15.85-.85 1.15-.85-1.15zM619.95 221.73m-2 0 1.15-.85.85-1.15.85 1.15 1.15.85-1.15.85-.85 1.15-.85-1.15zM624.68 221.73m-2 0 1.15-.85.85-1.15.85 1.15 1.15.85-1.15.85-.85 1.15-.85-1.15zM629.40 221.73m-2 0 1.15-.85.85-1.15.85 1.15 1.15.85-1.15.85-.85 1.15-.85-1.15zM634.13 221.73m-2 0 1.15-.85.85-1.15.85 1.15 1.15.85-1.15.85-.85 1.15-.85-1.15zM638.86 221.73m-2 0 1.15-.85.85-1.15.85 1.15 1.15.85-1.15.85-.85 1.15-.85-1.15zM643.58 221.73m-2 0 1.15-.85.85-1.15.85 1.15 1.15.85-1.15.85-.85 1.15-.85-1.15zM648.31 221.73m-2 0 1.15-.85.85-1.15.85 1.15 1.15.85-1.15.85-.85 1.15-.85-1.15zM653.04 221.73m-2 0 1.15-.85.85-1.15.85 1.15 1.15.85-1.15.85-.85 1.15-.85-1.15zM657.77 221.73m-2 0 1.15-.85.85-1.15.85 1.15 1.15.85-1.15.85-.85 1.15-.85-1.15zM662.49 221.73m-2 0 1.15-.85.85-1.15.85 1.15 1.15.85-1.15.85-.85 1.15-.85-1.15zM667.22 221.73m-2 0 1.15-.85.85-1.15.85 1.15 1.15.85-1.15.85-.85 1.15-.85-1.15zM671.95 221.73m-2 0 1.15-.85.85-1.15.85 1.15 1.15.85-1.15.85-.85 1.15-.85-1.15zM676.67 221.73m-2 0 1.15-.85.85-1.15.85 1.15 1.15.85-1.15.85-.85 1.15-.85-1.15zM681.40 221.73m-2 0 1.15-.85.85-1.15.85 1.15 1.15.85-1.15.85-.85 1.15-.85-1.15zM686.13 221.73m-2 0 1.15-.85.85-1.15.85 1.15 1.15.85-1.15.85-.85 1.15-.85-1.15zM690.85 221.73m-2 0 1.15-.85.85-1.15.85 1.15 1.15.85-1.15.85-.85 1.15-.85-1.15zM695.58 221.73m-2 0 1.15-.85.85-1.15.85 1.15 1.15.85-1.15.85-.85 1.15-.85-1.15zM700.31 221.73m-2 0 1.15-.85.85-1.15.85 1.15 1.15.85-1.15.85-.85 1.15-.85-1.15zM705.04 221.73m-2 0 1.15-.85.85-1.15.85 1.15 1.15.85-1.15.85-.85 1.15-.85-1.15zM709.76 221.73m-2 0 1.15-.85.85-1.15.85 1.15 1.15.85-1.15.85-.85 1.15-.85-1.15zM714.49 221.73m-2 0 1.15-.85.85-1.15.85 1.15 1.15.85-1.15.85-.85 1.15-.85-1.15zM723.94 221.73m-2 0 1.15-.85.85-1.15.85 1.15 1.15.85-1.15.85-.85 1.15-.85-1.15zM733.40 221.73m-2 0 1.15-.85.85-1.15.85 1.15 1.15.85-1.15.85-.85 1.15-.85-1.15zM747.58 221.73m-2 0 1.15-.85.85-1.15.85 1.15 1.15.85-1.15.85-.85 1.15-.85-1.15zM227.61 226.47m-2 0 1.15-.85.85-1.15.85 1.15 1.15.85-1.15.85-.85 1.15-.85-1.15zM232.33 226.47m-2 0 1.15-.85.85-1.15.85 1.15 1.15.85-1.15.85-.85 1.15-.85-1.15zM260.70 226.47m-2 0 1.15-.85.85-1.15.85 1.15 1.15.85-1.15.85-.85 1.15-.85-1.15zM265.42 226.47m-2 0 1.15-.85.85-1.15.85 1.15 1.15.85-1.15.85-.85 1.15-.85-1.15zM270.15 226.47m-2 0 1.15-.85.85-1.15.85 1.15 1.15.85-1.15.85-.85 1.15-.85-1.15zM274.88 226.47m-2 0 1.15-.85.85-1.15.85 1.15 1.15.85-1.15.85-.85 1.15-.85-1.15zM279.61 226.47m-2 0 1.15-.85.85-1.15.85 1.15 1.15.85-1.15.85-.85 1.15-.85-1.15zM284.33 226.47m-2 0 1.15-.85.85-1.15.85 1.15 1.15.85-1.15.85-.85 1.15-.85-1.15zM289.06 226.47m-2 0 1.15-.85.85-1.15.85 1.15 1.15.85-1.15.85-.85 1.15-.85-1.15zM293.79 226.47m-2 0 1.15-.85.85-1.15.85 1.15 1.15.85-1.15.85-.85 1.15-.85-1.15zM298.51 226.47m-2 0 1.15-.85.85-1.15.85 1.15 1.15.85-1.15.85-.85 1.15-.85-1.15zM303.24 226.47m-2 0 1.15-.85.85-1.15.85 1.15 1.15.85-1.15.85-.85 1.15-.85-1.15zM307.97 226.47m-2 0 1.15-.85.85-1.15.85 1.15 1.15.85-1.15.85-.85 1.15-.85-1.15zM312.69 226.47m-2 0 1.15-.85.85-1.15.85 1.15 1.15.85-1.15.85-.85 1.15-.85-1.15zM317.42 226.47m-2 0 1.15-.85.85-1.15.85 1.15 1.15.85-1.15.85-.85 1.15-.85-1.15zM322.15 226.47m-2 0 1.15-.85.85-1.15.85 1.15 1.15.85-1.15.85-.85 1.15-.85-1.15zM326.88 226.47m-2 0 1.15-.85.85-1.15.85 1.15 1.15.85-1.15.85-.85 1.15-.85-1.15zM359.96 226.47m-2 0 1.15-.85.85-1.15.85 1.15 1.15.85-1.15.85-.85 1.15-.85-1.15zM364.69 226.47m-2 0 1.15-.85.85-1.15.85 1.15 1.15.85-1.15.85-.85 1.15-.85-1.15zM369.42 226.47m-2 0 1.15-.85.85-1.15.85 1.15 1.15.85-1.15.85-.85 1.15-.85-1.15zM374.14 226.47m-2 0 1.15-.85.85-1.15.85 1.15 1.15.85-1.15.85-.85 1.15-.85-1.15zM378.87 226.47m-2 0 1.15-.85.85-1.15.85 1.15 1.15.85-1.15.85-.85 1.15-.85-1.15zM473.41 226.47m-2 0 1.15-.85.85-1.15.85 1.15 1.15.85-1.15.85-.85 1.15-.85-1.15zM478.14 226.47m-2 0 1.15-.85.85-1.15.85 1.15 1.15.85-1.15.85-.85 1.15-.85-1.15zM506.50 226.47m-2 0 1.15-.85.85-1.15.85 1.15 1.15.85-1.15.85-.85 1.15-.85-1.15zM525.41 226.47m-2 0 1.15-.85.85-1.15.85 1.15 1.15.85-1.15.85-.85 1.15-.85-1.15zM530.14 226.47m-2 0 1.15-.85.85-1.15.85 1.15 1.15.85-1.15.85-.85 1.15-.85-1.15zM534.86 226.47m-2 0 1.15-.85.85-1.15.85 1.15 1.15.85-1.15.85-.85 1.15-.85-1.15zM539.59 226.47m-2 0 1.15-.85.85-1.15.85 1.15 1.15.85-1.15.85-.85 1.15-.85-1.15zM544.32 226.47m-2 0 1.15-.85.85-1.15.85 1.15 1.15.85-1.15.85-.85 1.15-.85-1.15zM549.04 226.47m-2 0 1.15-.85.85-1.15.85 1.15 1.15.85-1.15.85-.85 1.15-.85-1.15zM553.77 226.47m-2 0 1.15-.85.85-1.15.85 1.15 1.15.85-1.15.85-.85 1.15-.85-1.15zM558.50 226.47m-2 0 1.15-.85.85-1.15.85 1.15 1.15.85-1.15.85-.85 1.15-.85-1.15zM563.23 226.47m-2 0 1.15-.85.85-1.15.85 1.15 1.15.85-1.15.85-.85 1.15-.85-1.15zM567.95 226.47m-2 0 1.15-.85.85-1.15.85 1.15 1.15.85-1.15.85-.85 1.15-.85-1.15zM572.68 226.47m-2 0 1.15-.85.85-1.15.85 1.15 1.15.85-1.15.85-.85 1.15-.85-1.15zM577.41 226.47m-2 0 1.15-.85.85-1.15.85 1.15 1.15.85-1.15.85-.85 1.15-.85-1.15zM582.13 226.47m-2 0 1.15-.85.85-1.15.85 1.15 1.15.85-1.15.85-.85 1.15-.85-1.15zM586.86 226.47m-2 0 1.15-.85.85-1.15.85 1.15 1.15.85-1.15.85-.85 1.15-.85-1.15zM591.59 226.47m-2 0 1.15-.85.85-1.15.85 1.15 1.15.85-1.15.85-.85 1.15-.85-1.15zM596.31 226.47m-2 0 1.15-.85.85-1.15.85 1.15 1.15.85-1.15.85-.85 1.15-.85-1.15zM601.04 226.47m-2 0 1.15-.85.85-1.15.85 1.15 1.15.85-1.15.85-.85 1.15-.85-1.15zM605.77 226.47m-2 0 1.15-.85.85-1.15.85 1.15 1.15.85-1.15.85-.85 1.15-.85-1.15zM610.50 226.47m-2 0 1.15-.85.85-1.15.85 1.15 1.15.85-1.15.85-.85 1.15-.85-1.15zM615.22 226.47m-2 0 1.15-.85.85-1.15.85 1.15 1.15.85-1.15.85-.85 1.15-.85-1.15zM619.95 226.47m-2 0 1.15-.85.85-1.15.85 1.15 1.15.85-1.15.85-.85 1.15-.85-1.15zM624.68 226.47m-2 0 1.15-.85.85-1.15.85 1.15 1.15.85-1.15.85-.85 1.15-.85-1.15zM629.40 226.47m-2 0 1.15-.85.85-1.15.85 1.15 1.15.85-1.15.85-.85 1.15-.85-1.15zM634.13 226.47m-2 0 1.15-.85.85-1.15.85 1.15 1.15.85-1.15.85-.85 1.15-.85-1.15zM638.86 226.47m-2 0 1.15-.85.85-1.15.85 1.15 1.15.85-1.15.85-.85 1.15-.85-1.15zM643.58 226.47m-2 0 1.15-.85.85-1.15.85 1.15 1.15.85-1.15.85-.85 1.15-.85-1.15zM648.31 226.47m-2 0 1.15-.85.85-1.15.85 1.15 1.15.85-1.15.85-.85 1.15-.85-1.15zM653.04 226.47m-2 0 1.15-.85.85-1.15.85 1.15 1.15.85-1.15.85-.85 1.15-.85-1.15zM657.77 226.47m-2 0 1.15-.85.85-1.15.85 1.15 1.15.85-1.15.85-.85 1.15-.85-1.15zM662.49 226.47m-2 0 1.15-.85.85-1.15.85 1.15 1.15.85-1.15.85-.85 1.15-.85-1.15zM667.22 226.47m-2 0 1.15-.85.85-1.15.85 1.15 1.15.85-1.15.85-.85 1.15-.85-1.15zM671.95 226.47m-2 0 1.15-.85.85-1.15.85 1.15 1.15.85-1.15.85-.85 1.15-.85-1.15zM676.67 226.47m-2 0 1.15-.85.85-1.15.85 1.15 1.15.85-1.15.85-.85 1.15-.85-1.15zM681.40 226.47m-2 0 1.15-.85.85-1.15.85 1.15 1.15.85-1.15.85-.85 1.15-.85-1.15zM686.13 226.47m-2 0 1.15-.85.85-1.15.85 1.15 1.15.85-1.15.85-.85 1.15-.85-1.15zM690.85 226.47m-2 0 1.15-.85.85-1.15.85 1.15 1.15.85-1.15.85-.85 1.15-.85-1.15zM695.58 226.47m-2 0 1.15-.85.85-1.15.85 1.15 1.15.85-1.15.85-.85 1.15-.85-1.15zM700.31 226.47m-2 0 1.15-.85.85-1.15.85 1.15 1.15.85-1.15.85-.85 1.15-.85-1.15zM705.04 226.47m-2 0 1.15-.85.85-1.15.85 1.15 1.15.85-1.15.85-.85 1.15-.85-1.15zM709.76 226.47m-2 0 1.15-.85.85-1.15.85 1.15 1.15.85-1.15.85-.85 1.15-.85-1.15zM742.85 226.47m-2 0 1.15-.85.85-1.15.85 1.15 1.15.85-1.15.85-.85 1.15-.85-1.15zM747.58 226.47m-2 0 1.15-.85.85-1.15.85 1.15 1.15.85-1.15.85-.85 1.15-.85-1.15zM218.15 231.21m-2 0 1.15-.85.85-1.15.85 1.15 1.15.85-1.15.85-.85 1.15-.85-1.15zM222.88 231.21m-2 0 1.15-.85.85-1.15.85 1.15 1.15.85-1.15.85-.85 1.15-.85-1.15zM270.15 231.21m-2 0 1.15-.85.85-1.15.85 1.15 1.15.85-1.15.85-.85 1.15-.85-1.15zM274.88 231.21m-2 0 1.15-.85.85-1.15.85 1.15 1.15.85-1.15.85-.85 1.15-.85-1.15zM279.61 231.21m-2 0 1.15-.85.85-1.15.85 1.15 1.15.85-1.15.85-.85 1.15-.85-1.15zM284.33 231.21m-2 0 1.15-.85.85-1.15.85 1.15 1.15.85-1.15.85-.85 1.15-.85-1.15zM289.06 231.21m-2 0 1.15-.85.85-1.15.85 1.15 1.15.85-1.15.85-.85 1.15-.85-1.15zM293.79 231.21m-2 0 1.15-.85.85-1.15.85 1.15 1.15.85-1.15.85-.85 1.15-.85-1.15zM298.51 231.21m-2 0 1.15-.85.85-1.15.85 1.15 1.15.85-1.15.85-.85 1.15-.85-1.15zM303.24 231.21m-2 0 1.15-.85.85-1.15.85 1.15 1.15.85-1.15.85-.85 1.15-.85-1.15zM307.97 231.21m-2 0 1.15-.85.85-1.15.85 1.15 1.15.85-1.15.85-.85 1.15-.85-1.15zM312.69 231.21m-2 0 1.15-.85.85-1.15.85 1.15 1.15.85-1.15.85-.85 1.15-.85-1.15zM317.42 231.21m-2 0 1.15-.85.85-1.15.85 1.15 1.15.85-1.15.85-.85 1.15-.85-1.15zM322.15 231.21m-2 0 1.15-.85.85-1.15.85 1.15 1.15.85-1.15.85-.85 1.15-.85-1.15zM326.88 231.21m-2 0 1.15-.85.85-1.15.85 1.15 1.15.85-1.15.85-.85 1.15-.85-1.15zM331.60 231.21m-2 0 1.15-.85.85-1.15.85 1.15 1.15.85-1.15.85-.85 1.15-.85-1.15zM336.33 231.21m-2 0 1.15-.85.85-1.15.85 1.15 1.15.85-1.15.85-.85 1.15-.85-1.15zM359.96 231.21m-2 0 1.15-.85.85-1.15.85 1.15 1.15.85-1.15.85-.85 1.15-.85-1.15zM364.69 231.21m-2 0 1.15-.85.85-1.15.85 1.15 1.15.85-1.15.85-.85 1.15-.85-1.15zM369.42 231.21m-2 0 1.15-.85.85-1.15.85 1.15 1.15.85-1.15.85-.85 1.15-.85-1.15zM374.14 231.21m-2 0 1.15-.85.85-1.15.85 1.15 1.15.85-1.15.85-.85 1.15-.85-1.15zM378.87 231.21m-2 0 1.15-.85.85-1.15.85 1.15 1.15.85-1.15.85-.85 1.15-.85-1.15zM383.60 231.21m-2 0 1.15-.85.85-1.15.85 1.15 1.15.85-1.15.85-.85 1.15-.85-1.15zM473.41 231.21m-2 0 1.15-.85.85-1.15.85 1.15 1.15.85-1.15.85-.85 1.15-.85-1.15zM478.14 231.21m-2 0 1.15-.85.85-1.15.85 1.15 1.15.85-1.15.85-.85 1.15-.85-1.15zM497.05 231.21m-2 0 1.15-.85.85-1.15.85 1.15 1.15.85-1.15.85-.85 1.15-.85-1.15zM501.77 231.21m-2 0 1.15-.85.85-1.15.85 1.15 1.15.85-1.15.85-.85 1.15-.85-1.15zM506.50 231.21m-2 0 1.15-.85.85-1.15.85 1.15 1.15.85-1.15.85-.85 1.15-.85-1.15zM520.68 231.21m-2 0 1.15-.85.85-1.15.85 1.15 1.15.85-1.15.85-.85 1.15-.85-1.15zM525.41 231.21m-2 0 1.15-.85.85-1.15.85 1.15 1.15.85-1.15.85-.85 1.15-.85-1.15zM530.14 231.21m-2 0 1.15-.85.85-1.15.85 1.15 1.15.85-1.15.85-.85 1.15-.85-1.15zM534.86 231.21m-2 0 1.15-.85.85-1.15.85 1.15 1.15.85-1.15.85-.85 1.15-.85-1.15zM539.59 231.21m-2 0 1.15-.85.85-1.15.85 1.15 1.15.85-1.15.85-.85 1.15-.85-1.15zM544.32 231.21m-2 0 1.15-.85.85-1.15.85 1.15 1.15.85-1.15.85-.85 1.15-.85-1.15zM549.04 231.21m-2 0 1.15-.85.85-1.15.85 1.15 1.15.85-1.15.85-.85 1.15-.85-1.15zM553.77 231.21m-2 0 1.15-.85.85-1.15.85 1.15 1.15.85-1.15.85-.85 1.15-.85-1.15zM558.50 231.21m-2 0 1.15-.85.85-1.15.85 1.15 1.15.85-1.15.85-.85 1.15-.85-1.15zM563.23 231.21m-2 0 1.15-.85.85-1.15.85 1.15 1.15.85-1.15.85-.85 1.15-.85-1.15zM567.95 231.21m-2 0 1.15-.85.85-1.15.85 1.15 1.15.85-1.15.85-.85 1.15-.85-1.15zM572.68 231.21m-2 0 1.15-.85.85-1.15.85 1.15 1.15.85-1.15.85-.85 1.15-.85-1.15zM577.41 231.21m-2 0 1.15-.85.85-1.15.85 1.15 1.15.85-1.15.85-.85 1.15-.85-1.15zM582.13 231.21m-2 0 1.15-.85.85-1.15.85 1.15 1.15.85-1.15.85-.85 1.15-.85-1.15zM586.86 231.21m-2 0 1.15-.85.85-1.15.85 1.15 1.15.85-1.15.85-.85 1.15-.85-1.15zM591.59 231.21m-2 0 1.15-.85.85-1.15.85 1.15 1.15.85-1.15.85-.85 1.15-.85-1.15zM596.31 231.21m-2 0 1.15-.85.85-1.15.85 1.15 1.15.85-1.15.85-.85 1.15-.85-1.15zM601.04 231.21m-2 0 1.15-.85.85-1.15.85 1.15 1.15.85-1.15.85-.85 1.15-.85-1.15zM605.77 231.21m-2 0 1.15-.85.85-1.15.85 1.15 1.15.85-1.15.85-.85 1.15-.85-1.15zM610.50 231.21m-2 0 1.15-.85.85-1.15.85 1.15 1.15.85-1.15.85-.85 1.15-.85-1.15zM615.22 231.21m-2 0 1.15-.85.85-1.15.85 1.15 1.15.85-1.15.85-.85 1.15-.85-1.15zM619.95 231.21m-2 0 1.15-.85.85-1.15.85 1.15 1.15.85-1.15.85-.85 1.15-.85-1.15zM624.68 231.21m-2 0 1.15-.85.85-1.15.85 1.15 1.15.85-1.15.85-.85 1.15-.85-1.15zM629.40 231.21m-2 0 1.15-.85.85-1.15.85 1.15 1.15.85-1.15.85-.85 1.15-.85-1.15zM634.13 231.21m-2 0 1.15-.85.85-1.15.85 1.15 1.15.85-1.15.85-.85 1.15-.85-1.15zM638.86 231.21m-2 0 1.15-.85.85-1.15.85 1.15 1.15.85-1.15.85-.85 1.15-.85-1.15zM643.58 231.21m-2 0 1.15-.85.85-1.15.85 1.15 1.15.85-1.15.85-.85 1.15-.85-1.15zM648.31 231.21m-2 0 1.15-.85.85-1.15.85 1.15 1.15.85-1.15.85-.85 1.15-.85-1.15zM653.04 231.21m-2 0 1.15-.85.85-1.15.85 1.15 1.15.85-1.15.85-.85 1.15-.85-1.15zM657.77 231.21m-2 0 1.15-.85.85-1.15.85 1.15 1.15.85-1.15.85-.85 1.15-.85-1.15zM662.49 231.21m-2 0 1.15-.85.85-1.15.85 1.15 1.15.85-1.15.85-.85 1.15-.85-1.15zM667.22 231.21m-2 0 1.15-.85.85-1.15.85 1.15 1.15.85-1.15.85-.85 1.15-.85-1.15zM671.95 231.21m-2 0 1.15-.85.85-1.15.85 1.15 1.15.85-1.15.85-.85 1.15-.85-1.15zM676.67 231.21m-2 0 1.15-.85.85-1.15.85 1.15 1.15.85-1.15.85-.85 1.15-.85-1.15zM681.40 231.21m-2 0 1.15-.85.85-1.15.85 1.15 1.15.85-1.15.85-.85 1.15-.85-1.15zM686.13 231.21m-2 0 1.15-.85.85-1.15.85 1.15 1.15.85-1.15.85-.85 1.15-.85-1.15zM690.85 231.21m-2 0 1.15-.85.85-1.15.85 1.15 1.15.85-1.15.85-.85 1.15-.85-1.15zM695.58 231.21m-2 0 1.15-.85.85-1.15.85 1.15 1.15.85-1.15.85-.85 1.15-.85-1.15zM700.31 231.21m-2 0 1.15-.85.85-1.15.85 1.15 1.15.85-1.15.85-.85 1.15-.85-1.15zM705.04 231.21m-2 0 1.15-.85.85-1.15.85 1.15 1.15.85-1.15.85-.85 1.15-.85-1.15zM738.12 231.21m-2 0 1.15-.85.85-1.15.85 1.15 1.15.85-1.15.85-.85 1.15-.85-1.15zM742.85 231.21m-2 0 1.15-.85.85-1.15.85 1.15 1.15.85-1.15.85-.85 1.15-.85-1.15zM747.58 231.21m-2 0 1.15-.85.85-1.15.85 1.15 1.15.85-1.15.85-.85 1.15-.85-1.15zM213.43 235.95m-2 0 1.15-.85.85-1.15.85 1.15 1.15.85-1.15.85-.85 1.15-.85-1.15zM270.15 235.95m-2 0 1.15-.85.85-1.15.85 1.15 1.15.85-1.15.85-.85 1.15-.85-1.15zM274.88 235.95m-2 0 1.15-.85.85-1.15.85 1.15 1.15.85-1.15.85-.85 1.15-.85-1.15zM279.61 235.95m-2 0 1.15-.85.85-1.15.85 1.15 1.15.85-1.15.85-.85 1.15-.85-1.15zM284.33 235.95m-2 0 1.15-.85.85-1.15.85 1.15 1.15.85-1.15.85-.85 1.15-.85-1.15zM289.06 235.95m-2 0 1.15-.85.85-1.15.85 1.15 1.15.85-1.15.85-.85 1.15-.85-1.15zM293.79 235.95m-2 0 1.15-.85.85-1.15.85 1.15 1.15.85-1.15.85-.85 1.15-.85-1.15zM298.51 235.95m-2 0 1.15-.85.85-1.15.85 1.15 1.15.85-1.15.85-.85 1.15-.85-1.15zM303.24 235.95m-2 0 1.15-.85.85-1.15.85 1.15 1.15.85-1.15.85-.85 1.15-.85-1.15zM307.97 235.95m-2 0 1.15-.85.85-1.15.85 1.15 1.15.85-1.15.85-.85 1.15-.85-1.15zM312.69 235.95m-2 0 1.15-.85.85-1.15.85 1.15 1.15.85-1.15.85-.85 1.15-.85-1.15zM317.42 235.95m-2 0 1.15-.85.85-1.15.85 1.15 1.15.85-1.15.85-.85 1.15-.85-1.15zM322.15 235.95m-2 0 1.15-.85.85-1.15.85 1.15 1.15.85-1.15.85-.85 1.15-.85-1.15zM326.88 235.95m-2 0 1.15-.85.85-1.15.85 1.15 1.15.85-1.15.85-.85 1.15-.85-1.15zM331.60 235.95m-2 0 1.15-.85.85-1.15.85 1.15 1.15.85-1.15.85-.85 1.15-.85-1.15zM336.33 235.95m-2 0 1.15-.85.85-1.15.85 1.15 1.15.85-1.15.85-.85 1.15-.85-1.15zM341.06 235.95m-2 0 1.15-.85.85-1.15.85 1.15 1.15.85-1.15.85-.85 1.15-.85-1.15zM345.78 235.95m-2 0 1.15-.85.85-1.15.85 1.15 1.15.85-1.15.85-.85 1.15-.85-1.15zM355.24 235.95m-2 0 1.15-.85.85-1.15.85 1.15 1.15.85-1.15.85-.85 1.15-.85-1.15zM359.96 235.95m-2 0 1.15-.85.85-1.15.85 1.15 1.15.85-1.15.85-.85 1.15-.85-1.15zM364.69 235.95m-2 0 1.15-.85.85-1.15.85 1.15 1.15.85-1.15.85-.85 1.15-.85-1.15zM369.42 235.95m-2 0 1.15-.85.85-1.15.85 1.15 1.15.85-1.15.85-.85 1.15-.85-1.15zM374.14 235.95m-2 0 1.15-.85.85-1.15.85 1.15 1.15.85-1.15.85-.85 1.15-.85-1.15zM378.87 235.95m-2 0 1.15-.85.85-1.15.85 1.15 1.15.85-1.15.85-.85 1.15-.85-1.15zM383.60 235.95m-2 0 1.15-.85.85-1.15.85 1.15 1.15.85-1.15.85-.85 1.15-.85-1.15zM388.33 235.95m-2 0 1.15-.85.85-1.15.85 1.15 1.15.85-1.15.85-.85 1.15-.85-1.15zM468.69 235.95m-2 0 1.15-.85.85-1.15.85 1.15 1.15.85-1.15.85-.85 1.15-.85-1.15zM473.41 235.95m-2 0 1.15-.85.85-1.15.85 1.15 1.15.85-1.15.85-.85 1.15-.85-1.15zM478.14 235.95m-2 0 1.15-.85.85-1.15.85 1.15 1.15.85-1.15.85-.85 1.15-.85-1.15zM497.05 235.95m-2 0 1.15-.85.85-1.15.85 1.15 1.15.85-1.15.85-.85 1.15-.85-1.15zM511.23 235.95m-2 0 1.15-.85.85-1.15.85 1.15 1.15.85-1.15.85-.85 1.15-.85-1.15zM515.95 235.95m-2 0 1.15-.85.85-1.15.85 1.15 1.15.85-1.15.85-.85 1.15-.85-1.15zM520.68 235.95m-2 0 1.15-.85.85-1.15.85 1.15 1.15.85-1.15.85-.85 1.15-.85-1.15zM525.41 235.95m-2 0 1.15-.85.85-1.15.85 1.15 1.15.85-1.15.85-.85 1.15-.85-1.15zM530.14 235.95m-2 0 1.15-.85.85-1.15.85 1.15 1.15.85-1.15.85-.85 1.15-.85-1.15zM534.86 235.95m-2 0 1.15-.85.85-1.15.85 1.15 1.15.85-1.15.85-.85 1.15-.85-1.15zM539.59 235.95m-2 0 1.15-.85.85-1.15.85 1.15 1.15.85-1.15.85-.85 1.15-.85-1.15zM544.32 235.95m-2 0 1.15-.85.85-1.15.85 1.15 1.15.85-1.15.85-.85 1.15-.85-1.15zM549.04 235.95m-2 0 1.15-.85.85-1.15.85 1.15 1.15.85-1.15.85-.85 1.15-.85-1.15zM553.77 235.95m-2 0 1.15-.85.85-1.15.85 1.15 1.15.85-1.15.85-.85 1.15-.85-1.15zM558.50 235.95m-2 0 1.15-.85.85-1.15.85 1.15 1.15.85-1.15.85-.85 1.15-.85-1.15zM563.23 235.95m-2 0 1.15-.85.85-1.15.85 1.15 1.15.85-1.15.85-.85 1.15-.85-1.15zM567.95 235.95m-2 0 1.15-.85.85-1.15.85 1.15 1.15.85-1.15.85-.85 1.15-.85-1.15zM572.68 235.95m-2 0 1.15-.85.85-1.15.85 1.15 1.15.85-1.15.85-.85 1.15-.85-1.15zM577.41 235.95m-2 0 1.15-.85.85-1.15.85 1.15 1.15.85-1.15.85-.85 1.15-.85-1.15zM582.13 235.95m-2 0 1.15-.85.85-1.15.85 1.15 1.15.85-1.15.85-.85 1.15-.85-1.15zM586.86 235.95m-2 0 1.15-.85.85-1.15.85 1.15 1.15.85-1.15.85-.85 1.15-.85-1.15zM591.59 235.95m-2 0 1.15-.85.85-1.15.85 1.15 1.15.85-1.15.85-.85 1.15-.85-1.15zM596.31 235.95m-2 0 1.15-.85.85-1.15.85 1.15 1.15.85-1.15.85-.85 1.15-.85-1.15zM601.04 235.95m-2 0 1.15-.85.85-1.15.85 1.15 1.15.85-1.15.85-.85 1.15-.85-1.15zM605.77 235.95m-2 0 1.15-.85.85-1.15.85 1.15 1.15.85-1.15.85-.85 1.15-.85-1.15zM610.50 235.95m-2 0 1.15-.85.85-1.15.85 1.15 1.15.85-1.15.85-.85 1.15-.85-1.15zM615.22 235.95m-2 0 1.15-.85.85-1.15.85 1.15 1.15.85-1.15.85-.85 1.15-.85-1.15zM619.95 235.95m-2 0 1.15-.85.85-1.15.85 1.15 1.15.85-1.15.85-.85 1.15-.85-1.15zM624.68 235.95m-2 0 1.15-.85.85-1.15.85 1.15 1.15.85-1.15.85-.85 1.15-.85-1.15zM629.40 235.95m-2 0 1.15-.85.85-1.15.85 1.15 1.15.85-1.15.85-.85 1.15-.85-1.15zM634.13 235.95m-2 0 1.15-.85.85-1.15.85 1.15 1.15.85-1.15.85-.85 1.15-.85-1.15zM638.86 235.95m-2 0 1.15-.85.85-1.15.85 1.15 1.15.85-1.15.85-.85 1.15-.85-1.15zM643.58 235.95m-2 0 1.15-.85.85-1.15.85 1.15 1.15.85-1.15.85-.85 1.15-.85-1.15zM648.31 235.95m-2 0 1.15-.85.85-1.15.85 1.15 1.15.85-1.15.85-.85 1.15-.85-1.15zM653.04 235.95m-2 0 1.15-.85.85-1.15.85 1.15 1.15.85-1.15.85-.85 1.15-.85-1.15zM657.77 235.95m-2 0 1.15-.85.85-1.15.85 1.15 1.15.85-1.15.85-.85 1.15-.85-1.15zM662.49 235.95m-2 0 1.15-.85.85-1.15.85 1.15 1.15.85-1.15.85-.85 1.15-.85-1.15zM667.22 235.95m-2 0 1.15-.85.85-1.15.85 1.15 1.15.85-1.15.85-.85 1.15-.85-1.15zM671.95 235.95m-2 0 1.15-.85.85-1.15.85 1.15 1.15.85-1.15.85-.85 1.15-.85-1.15zM676.67 235.95m-2 0 1.15-.85.85-1.15.85 1.15 1.15.85-1.15.85-.85 1.15-.85-1.15zM681.40 235.95m-2 0 1.15-.85.85-1.15.85 1.15 1.15.85-1.15.85-.85 1.15-.85-1.15zM686.13 235.95m-2 0 1.15-.85.85-1.15.85 1.15 1.15.85-1.15.85-.85 1.15-.85-1.15zM690.85 235.95m-2 0 1.15-.85.85-1.15.85 1.15 1.15.85-1.15.85-.85 1.15-.85-1.15zM695.58 235.95m-2 0 1.15-.85.85-1.15.85 1.15 1.15.85-1.15.85-.85 1.15-.85-1.15zM700.31 235.95m-2 0 1.15-.85.85-1.15.85 1.15 1.15.85-1.15.85-.85 1.15-.85-1.15zM705.04 235.95m-2 0 1.15-.85.85-1.15.85 1.15 1.15.85-1.15.85-.85 1.15-.85-1.15zM709.76 235.95m-2 0 1.15-.85.85-1.15.85 1.15 1.15.85-1.15.85-.85 1.15-.85-1.15zM738.12 235.95m-2 0 1.15-.85.85-1.15.85 1.15 1.15.85-1.15.85-.85 1.15-.85-1.15zM742.85 235.95m-2 0 1.15-.85.85-1.15.85 1.15 1.15.85-1.15.85-.85 1.15-.85-1.15zM274.88 240.69m-2 0 1.15-.85.85-1.15.85 1.15 1.15.85-1.15.85-.85 1.15-.85-1.15zM279.61 240.69m-2 0 1.15-.85.85-1.15.85 1.15 1.15.85-1.15.85-.85 1.15-.85-1.15zM284.33 240.69m-2 0 1.15-.85.85-1.15.85 1.15 1.15.85-1.15.85-.85 1.15-.85-1.15zM289.06 240.69m-2 0 1.15-.85.85-1.15.85 1.15 1.15.85-1.15.85-.85 1.15-.85-1.15zM293.79 240.69m-2 0 1.15-.85.85-1.15.85 1.15 1.15.85-1.15.85-.85 1.15-.85-1.15zM298.51 240.69m-2 0 1.15-.85.85-1.15.85 1.15 1.15.85-1.15.85-.85 1.15-.85-1.15zM303.24 240.69m-2 0 1.15-.85.85-1.15.85 1.15 1.15.85-1.15.85-.85 1.15-.85-1.15zM307.97 240.69m-2 0 1.15-.85.85-1.15.85 1.15 1.15.85-1.15.85-.85 1.15-.85-1.15zM312.69 240.69m-2 0 1.15-.85.85-1.15.85 1.15 1.15.85-1.15.85-.85 1.15-.85-1.15zM317.42 240.69m-2 0 1.15-.85.85-1.15.85 1.15 1.15.85-1.15.85-.85 1.15-.85-1.15zM322.15 240.69m-2 0 1.15-.85.85-1.15.85 1.15 1.15.85-1.15.85-.85 1.15-.85-1.15zM326.88 240.69m-2 0 1.15-.85.85-1.15.85 1.15 1.15.85-1.15.85-.85 1.15-.85-1.15zM331.60 240.69m-2 0 1.15-.85.85-1.15.85 1.15 1.15.85-1.15.85-.85 1.15-.85-1.15zM336.33 240.69m-2 0 1.15-.85.85-1.15.85 1.15 1.15.85-1.15.85-.85 1.15-.85-1.15zM341.06 240.69m-2 0 1.15-.85.85-1.15.85 1.15 1.15.85-1.15.85-.85 1.15-.85-1.15zM345.78 240.69m-2 0 1.15-.85.85-1.15.85 1.15 1.15.85-1.15.85-.85 1.15-.85-1.15zM355.24 240.69m-2 0 1.15-.85.85-1.15.85 1.15 1.15.85-1.15.85-.85 1.15-.85-1.15zM359.96 240.69m-2 0 1.15-.85.85-1.15.85 1.15 1.15.85-1.15.85-.85 1.15-.85-1.15zM364.69 240.69m-2 0 1.15-.85.85-1.15.85 1.15 1.15.85-1.15.85-.85 1.15-.85-1.15zM369.42 240.69m-2 0 1.15-.85.85-1.15.85 1.15 1.15.85-1.15.85-.85 1.15-.85-1.15zM374.14 240.69m-2 0 1.15-.85.85-1.15.85 1.15 1.15.85-1.15.85-.85 1.15-.85-1.15zM378.87 240.69m-2 0 1.15-.85.85-1.15.85 1.15 1.15.85-1.15.85-.85 1.15-.85-1.15zM383.60 240.69m-2 0 1.15-.85.85-1.15.85 1.15 1.15.85-1.15.85-.85 1.15-.85-1.15zM388.33 240.69m-2 0 1.15-.85.85-1.15.85 1.15 1.15.85-1.15.85-.85 1.15-.85-1.15zM468.69 240.69m-2 0 1.15-.85.85-1.15.85 1.15 1.15.85-1.15.85-.85 1.15-.85-1.15zM473.41 240.69m-2 0 1.15-.85.85-1.15.85 1.15 1.15.85-1.15.85-.85 1.15-.85-1.15zM478.14 240.69m-2 0 1.15-.85.85-1.15.85 1.15 1.15.85-1.15.85-.85 1.15-.85-1.15zM482.87 240.69m-2 0 1.15-.85.85-1.15.85 1.15 1.15.85-1.15.85-.85 1.15-.85-1.15zM492.32 240.69m-2 0 1.15-.85.85-1.15.85 1.15 1.15.85-1.15.85-.85 1.15-.85-1.15zM497.05 240.69m-2 0 1.15-.85.85-1.15.85 1.15 1.15.85-1.15.85-.85 1.15-.85-1.15zM501.77 240.69m-2 0 1.15-.85.85-1.15.85 1.15 1.15.85-1.15.85-.85 1.15-.85-1.15zM506.50 240.69m-2 0 1.15-.85.85-1.15.85 1.15 1.15.85-1.15.85-.85 1.15-.85-1.15zM511.23 240.69m-2 0 1.15-.85.85-1.15.85 1.15 1.15.85-1.15.85-.85 1.15-.85-1.15zM515.95 240.69m-2 0 1.15-.85.85-1.15.85 1.15 1.15.85-1.15.85-.85 1.15-.85-1.15zM520.68 240.69m-2 0 1.15-.85.85-1.15.85 1.15 1.15.85-1.15.85-.85 1.15-.85-1.15zM525.41 240.69m-2 0 1.15-.85.85-1.15.85 1.15 1.15.85-1.15.85-.85 1.15-.85-1.15zM530.14 240.69m-2 0 1.15-.85.85-1.15.85 1.15 1.15.85-1.15.85-.85 1.15-.85-1.15zM534.86 240.69m-2 0 1.15-.85.85-1.15.85 1.15 1.15.85-1.15.85-.85 1.15-.85-1.15zM539.59 240.69m-2 0 1.15-.85.85-1.15.85 1.15 1.15.85-1.15.85-.85 1.15-.85-1.15zM544.32 240.69m-2 0 1.15-.85.85-1.15.85 1.15 1.15.85-1.15.85-.85 1.15-.85-1.15zM549.04 240.69m-2 0 1.15-.85.85-1.15.85 1.15 1.15.85-1.15.85-.85 1.15-.85-1.15zM553.77 240.69m-2 0 1.15-.85.85-1.15.85 1.15 1.15.85-1.15.85-.85 1.15-.85-1.15zM558.50 240.69m-2 0 1.15-.85.85-1.15.85 1.15 1.15.85-1.15.85-.85 1.15-.85-1.15zM563.23 240.69m-2 0 1.15-.85.85-1.15.85 1.15 1.15.85-1.15.85-.85 1.15-.85-1.15zM567.95 240.69m-2 0 1.15-.85.85-1.15.85 1.15 1.15.85-1.15.85-.85 1.15-.85-1.15zM572.68 240.69m-2 0 1.15-.85.85-1.15.85 1.15 1.15.85-1.15.85-.85 1.15-.85-1.15zM577.41 240.69m-2 0 1.15-.85.85-1.15.85 1.15 1.15.85-1.15.85-.85 1.15-.85-1.15zM582.13 240.69m-2 0 1.15-.85.85-1.15.85 1.15 1.15.85-1.15.85-.85 1.15-.85-1.15zM586.86 240.69m-2 0 1.15-.85.85-1.15.85 1.15 1.15.85-1.15.85-.85 1.15-.85-1.15zM591.59 240.69m-2 0 1.15-.85.85-1.15.85 1.15 1.15.85-1.15.85-.85 1.15-.85-1.15zM596.31 240.69m-2 0 1.15-.85.85-1.15.85 1.15 1.15.85-1.15.85-.85 1.15-.85-1.15zM601.04 240.69m-2 0 1.15-.85.85-1.15.85 1.15 1.15.85-1.15.85-.85 1.15-.85-1.15zM605.77 240.69m-2 0 1.15-.85.85-1.15.85 1.15 1.15.85-1.15.85-.85 1.15-.85-1.15zM610.50 240.69m-2 0 1.15-.85.85-1.15.85 1.15 1.15.85-1.15.85-.85 1.15-.85-1.15zM615.22 240.69m-2 0 1.15-.85.85-1.15.85 1.15 1.15.85-1.15.85-.85 1.15-.85-1.15zM619.95 240.69m-2 0 1.15-.85.85-1.15.85 1.15 1.15.85-1.15.85-.85 1.15-.85-1.15zM624.68 240.69m-2 0 1.15-.85.85-1.15.85 1.15 1.15.85-1.15.85-.85 1.15-.85-1.15zM629.40 240.69m-2 0 1.15-.85.85-1.15.85 1.15 1.15.85-1.15.85-.85 1.15-.85-1.15zM634.13 240.69m-2 0 1.15-.85.85-1.15.85 1.15 1.15.85-1.15.85-.85 1.15-.85-1.15zM638.86 240.69m-2 0 1.15-.85.85-1.15.85 1.15 1.15.85-1.15.85-.85 1.15-.85-1.15zM643.58 240.69m-2 0 1.15-.85.85-1.15.85 1.15 1.15.85-1.15.85-.85 1.15-.85-1.15zM648.31 240.69m-2 0 1.15-.85.85-1.15.85 1.15 1.15.85-1.15.85-.85 1.15-.85-1.15zM653.04 240.69m-2 0 1.15-.85.85-1.15.85 1.15 1.15.85-1.15.85-.85 1.15-.85-1.15zM657.77 240.69m-2 0 1.15-.85.85-1.15.85 1.15 1.15.85-1.15.85-.85 1.15-.85-1.15zM662.49 240.69m-2 0 1.15-.85.85-1.15.85 1.15 1.15.85-1.15.85-.85 1.15-.85-1.15zM667.22 240.69m-2 0 1.15-.85.85-1.15.85 1.15 1.15.85-1.15.85-.85 1.15-.85-1.15zM671.95 240.69m-2 0 1.15-.85.85-1.15.85 1.15 1.15.85-1.15.85-.85 1.15-.85-1.15zM676.67 240.69m-2 0 1.15-.85.85-1.15.85 1.15 1.15.85-1.15.85-.85 1.15-.85-1.15zM681.40 240.69m-2 0 1.15-.85.85-1.15.85 1.15 1.15.85-1.15.85-.85 1.15-.85-1.15zM686.13 240.69m-2 0 1.15-.85.85-1.15.85 1.15 1.15.85-1.15.85-.85 1.15-.85-1.15zM690.85 240.69m-2 0 1.15-.85.85-1.15.85 1.15 1.15.85-1.15.85-.85 1.15-.85-1.15zM695.58 240.69m-2 0 1.15-.85.85-1.15.85 1.15 1.15.85-1.15.85-.85 1.15-.85-1.15zM700.31 240.69m-2 0 1.15-.85.85-1.15.85 1.15 1.15.85-1.15.85-.85 1.15-.85-1.15zM705.04 240.69m-2 0 1.15-.85.85-1.15.85 1.15 1.15.85-1.15.85-.85 1.15-.85-1.15zM709.76 240.69m-2 0 1.15-.85.85-1.15.85 1.15 1.15.85-1.15.85-.85 1.15-.85-1.15zM714.49 240.69m-2 0 1.15-.85.85-1.15.85 1.15 1.15.85-1.15.85-.85 1.15-.85-1.15zM738.12 240.69m-2 0 1.15-.85.85-1.15.85 1.15 1.15.85-1.15.85-.85 1.15-.85-1.15zM274.88 245.44m-2 0 1.15-.85.85-1.15.85 1.15 1.15.85-1.15.85-.85 1.15-.85-1.15zM279.61 245.44m-2 0 1.15-.85.85-1.15.85 1.15 1.15.85-1.15.85-.85 1.15-.85-1.15zM284.33 245.44m-2 0 1.15-.85.85-1.15.85 1.15 1.15.85-1.15.85-.85 1.15-.85-1.15zM289.06 245.44m-2 0 1.15-.85.85-1.15.85 1.15 1.15.85-1.15.85-.85 1.15-.85-1.15zM293.79 245.44m-2 0 1.15-.85.85-1.15.85 1.15 1.15.85-1.15.85-.85 1.15-.85-1.15zM298.51 245.44m-2 0 1.15-.85.85-1.15.85 1.15 1.15.85-1.15.85-.85 1.15-.85-1.15zM303.24 245.44m-2 0 1.15-.85.85-1.15.85 1.15 1.15.85-1.15.85-.85 1.15-.85-1.15zM307.97 245.44m-2 0 1.15-.85.85-1.15.85 1.15 1.15.85-1.15.85-.85 1.15-.85-1.15zM312.69 245.44m-2 0 1.15-.85.85-1.15.85 1.15 1.15.85-1.15.85-.85 1.15-.85-1.15zM317.42 245.44m-2 0 1.15-.85.85-1.15.85 1.15 1.15.85-1.15.85-.85 1.15-.85-1.15zM322.15 245.44m-2 0 1.15-.85.85-1.15.85 1.15 1.15.85-1.15.85-.85 1.15-.85-1.15zM326.88 245.44m-2 0 1.15-.85.85-1.15.85 1.15 1.15.85-1.15.85-.85 1.15-.85-1.15zM331.60 245.44m-2 0 1.15-.85.85-1.15.85 1.15 1.15.85-1.15.85-.85 1.15-.85-1.15zM336.33 245.44m-2 0 1.15-.85.85-1.15.85 1.15 1.15.85-1.15.85-.85 1.15-.85-1.15zM341.06 245.44m-2 0 1.15-.85.85-1.15.85 1.15 1.15.85-1.15.85-.85 1.15-.85-1.15zM345.78 245.44m-2 0 1.15-.85.85-1.15.85 1.15 1.15.85-1.15.85-.85 1.15-.85-1.15zM350.51 245.44m-2 0 1.15-.85.85-1.15.85 1.15 1.15.85-1.15.85-.85 1.15-.85-1.15zM355.24 245.44m-2 0 1.15-.85.85-1.15.85 1.15 1.15.85-1.15.85-.85 1.15-.85-1.15zM359.96 245.44m-2 0 1.15-.85.85-1.15.85 1.15 1.15.85-1.15.85-.85 1.15-.85-1.15zM364.69 245.44m-2 0 1.15-.85.85-1.15.85 1.15 1.15.85-1.15.85-.85 1.15-.85-1.15zM369.42 245.44m-2 0 1.15-.85.85-1.15.85 1.15 1.15.85-1.15.85-.85 1.15-.85-1.15zM374.14 245.44m-2 0 1.15-.85.85-1.15.85 1.15 1.15.85-1.15.85-.85 1.15-.85-1.15zM378.87 245.44m-2 0 1.15-.85.85-1.15.85 1.15 1.15.85-1.15.85-.85 1.15-.85-1.15zM383.60 245.44m-2 0 1.15-.85.85-1.15.85 1.15 1.15.85-1.15.85-.85 1.15-.85-1.15zM468.69 245.44m-2 0 1.15-.85.85-1.15.85 1.15 1.15.85-1.15.85-.85 1.15-.85-1.15zM478.14 245.44m-2 0 1.15-.85.85-1.15.85 1.15 1.15.85-1.15.85-.85 1.15-.85-1.15zM487.59 245.44m-2 0 1.15-.85.85-1.15.85 1.15 1.15.85-1.15.85-.85 1.15-.85-1.15zM492.32 245.44m-2 0 1.15-.85.85-1.15.85 1.15 1.15.85-1.15.85-.85 1.15-.85-1.15zM497.05 245.44m-2 0 1.15-.85.85-1.15.85 1.15 1.15.85-1.15.85-.85 1.15-.85-1.15zM501.77 245.44m-2 0 1.15-.85.85-1.15.85 1.15 1.15.85-1.15.85-.85 1.15-.85-1.15zM506.50 245.44m-2 0 1.15-.85.85-1.15.85 1.15 1.15.85-1.15.85-.85 1.15-.85-1.15zM511.23 245.44m-2 0 1.15-.85.85-1.15.85 1.15 1.15.85-1.15.85-.85 1.15-.85-1.15zM515.95 245.44m-2 0 1.15-.85.85-1.15.85 1.15 1.15.85-1.15.85-.85 1.15-.85-1.15zM520.68 245.44m-2 0 1.15-.85.85-1.15.85 1.15 1.15.85-1.15.85-.85 1.15-.85-1.15zM525.41 245.44m-2 0 1.15-.85.85-1.15.85 1.15 1.15.85-1.15.85-.85 1.15-.85-1.15zM530.14 245.44m-2 0 1.15-.85.85-1.15.85 1.15 1.15.85-1.15.85-.85 1.15-.85-1.15zM534.86 245.44m-2 0 1.15-.85.85-1.15.85 1.15 1.15.85-1.15.85-.85 1.15-.85-1.15zM539.59 245.44m-2 0 1.15-.85.85-1.15.85 1.15 1.15.85-1.15.85-.85 1.15-.85-1.15zM544.32 245.44m-2 0 1.15-.85.85-1.15.85 1.15 1.15.85-1.15.85-.85 1.15-.85-1.15zM549.04 245.44m-2 0 1.15-.85.85-1.15.85 1.15 1.15.85-1.15.85-.85 1.15-.85-1.15zM553.77 245.44m-2 0 1.15-.85.85-1.15.85 1.15 1.15.85-1.15.85-.85 1.15-.85-1.15zM558.50 245.44m-2 0 1.15-.85.85-1.15.85 1.15 1.15.85-1.15.85-.85 1.15-.85-1.15zM563.23 245.44m-2 0 1.15-.85.85-1.15.85 1.15 1.15.85-1.15.85-.85 1.15-.85-1.15zM567.95 245.44m-2 0 1.15-.85.85-1.15.85 1.15 1.15.85-1.15.85-.85 1.15-.85-1.15zM572.68 245.44m-2 0 1.15-.85.85-1.15.85 1.15 1.15.85-1.15.85-.85 1.15-.85-1.15zM577.41 245.44m-2 0 1.15-.85.85-1.15.85 1.15 1.15.85-1.15.85-.85 1.15-.85-1.15zM582.13 245.44m-2 0 1.15-.85.85-1.15.85 1.15 1.15.85-1.15.85-.85 1.15-.85-1.15zM586.86 245.44m-2 0 1.15-.85.85-1.15.85 1.15 1.15.85-1.15.85-.85 1.15-.85-1.15zM591.59 245.44m-2 0 1.15-.85.85-1.15.85 1.15 1.15.85-1.15.85-.85 1.15-.85-1.15zM596.31 245.44m-2 0 1.15-.85.85-1.15.85 1.15 1.15.85-1.15.85-.85 1.15-.85-1.15zM601.04 245.44m-2 0 1.15-.85.85-1.15.85 1.15 1.15.85-1.15.85-.85 1.15-.85-1.15zM605.77 245.44m-2 0 1.15-.85.85-1.15.85 1.15 1.15.85-1.15.85-.85 1.15-.85-1.15zM610.50 245.44m-2 0 1.15-.85.85-1.15.85 1.15 1.15.85-1.15.85-.85 1.15-.85-1.15zM615.22 245.44m-2 0 1.15-.85.85-1.15.85 1.15 1.15.85-1.15.85-.85 1.15-.85-1.15zM619.95 245.44m-2 0 1.15-.85.85-1.15.85 1.15 1.15.85-1.15.85-.85 1.15-.85-1.15zM624.68 245.44m-2 0 1.15-.85.85-1.15.85 1.15 1.15.85-1.15.85-.85 1.15-.85-1.15zM629.40 245.44m-2 0 1.15-.85.85-1.15.85 1.15 1.15.85-1.15.85-.85 1.15-.85-1.15zM634.13 245.44m-2 0 1.15-.85.85-1.15.85 1.15 1.15.85-1.15.85-.85 1.15-.85-1.15zM638.86 245.44m-2 0 1.15-.85.85-1.15.85 1.15 1.15.85-1.15.85-.85 1.15-.85-1.15zM643.58 245.44m-2 0 1.15-.85.85-1.15.85 1.15 1.15.85-1.15.85-.85 1.15-.85-1.15zM648.31 245.44m-2 0 1.15-.85.85-1.15.85 1.15 1.15.85-1.15.85-.85 1.15-.85-1.15zM653.04 245.44m-2 0 1.15-.85.85-1.15.85 1.15 1.15.85-1.15.85-.85 1.15-.85-1.15zM657.77 245.44m-2 0 1.15-.85.85-1.15.85 1.15 1.15.85-1.15.85-.85 1.15-.85-1.15zM662.49 245.44m-2 0 1.15-.85.85-1.15.85 1.15 1.15.85-1.15.85-.85 1.15-.85-1.15zM667.22 245.44m-2 0 1.15-.85.85-1.15.85 1.15 1.15.85-1.15.85-.85 1.15-.85-1.15zM671.95 245.44m-2 0 1.15-.85.85-1.15.85 1.15 1.15.85-1.15.85-.85 1.15-.85-1.15zM676.67 245.44m-2 0 1.15-.85.85-1.15.85 1.15 1.15.85-1.15.85-.85 1.15-.85-1.15zM681.40 245.44m-2 0 1.15-.85.85-1.15.85 1.15 1.15.85-1.15.85-.85 1.15-.85-1.15zM686.13 245.44m-2 0 1.15-.85.85-1.15.85 1.15 1.15.85-1.15.85-.85 1.15-.85-1.15zM690.85 245.44m-2 0 1.15-.85.85-1.15.85 1.15 1.15.85-1.15.85-.85 1.15-.85-1.15zM695.58 245.44m-2 0 1.15-.85.85-1.15.85 1.15 1.15.85-1.15.85-.85 1.15-.85-1.15zM700.31 245.44m-2 0 1.15-.85.85-1.15.85 1.15 1.15.85-1.15.85-.85 1.15-.85-1.15zM705.04 245.44m-2 0 1.15-.85.85-1.15.85 1.15 1.15.85-1.15.85-.85 1.15-.85-1.15zM709.76 245.44m-2 0 1.15-.85.85-1.15.85 1.15 1.15.85-1.15.85-.85 1.15-.85-1.15zM284.33 250.18m-2 0 1.15-.85.85-1.15.85 1.15 1.15.85-1.15.85-.85 1.15-.85-1.15zM289.06 250.18m-2 0 1.15-.85.85-1.15.85 1.15 1.15.85-1.15.85-.85 1.15-.85-1.15zM293.79 250.18m-2 0 1.15-.85.85-1.15.85 1.15 1.15.85-1.15.85-.85 1.15-.85-1.15zM298.51 250.18m-2 0 1.15-.85.85-1.15.85 1.15 1.15.85-1.15.85-.85 1.15-.85-1.15zM303.24 250.18m-2 0 1.15-.85.85-1.15.85 1.15 1.15.85-1.15.85-.85 1.15-.85-1.15zM307.97 250.18m-2 0 1.15-.85.85-1.15.85 1.15 1.15.85-1.15.85-.85 1.15-.85-1.15zM312.69 250.18m-2 0 1.15-.85.85-1.15.85 1.15 1.15.85-1.15.85-.85 1.15-.85-1.15zM317.42 250.18m-2 0 1.15-.85.85-1.15.85 1.15 1.15.85-1.15.85-.85 1.15-.85-1.15zM322.15 250.18m-2 0 1.15-.85.85-1.15.85 1.15 1.15.85-1.15.85-.85 1.15-.85-1.15zM326.88 250.18m-2 0 1.15-.85.85-1.15.85 1.15 1.15.85-1.15.85-.85 1.15-.85-1.15zM331.60 250.18m-2 0 1.15-.85.85-1.15.85 1.15 1.15.85-1.15.85-.85 1.15-.85-1.15zM336.33 250.18m-2 0 1.15-.85.85-1.15.85 1.15 1.15.85-1.15.85-.85 1.15-.85-1.15zM341.06 250.18m-2 0 1.15-.85.85-1.15.85 1.15 1.15.85-1.15.85-.85 1.15-.85-1.15zM345.78 250.18m-2 0 1.15-.85.85-1.15.85 1.15 1.15.85-1.15.85-.85 1.15-.85-1.15zM350.51 250.18m-2 0 1.15-.85.85-1.15.85 1.15 1.15.85-1.15.85-.85 1.15-.85-1.15zM355.24 250.18m-2 0 1.15-.85.85-1.15.85 1.15 1.15.85-1.15.85-.85 1.15-.85-1.15zM359.96 250.18m-2 0 1.15-.85.85-1.15.85 1.15 1.15.85-1.15.85-.85 1.15-.85-1.15zM364.69 250.18m-2 0 1.15-.85.85-1.15.85 1.15 1.15.85-1.15.85-.85 1.15-.85-1.15zM369.42 250.18m-2 0 1.15-.85.85-1.15.85 1.15 1.15.85-1.15.85-.85 1.15-.85-1.15zM388.33 250.18m-2 0 1.15-.85.85-1.15.85 1.15 1.15.85-1.15.85-.85 1.15-.85-1.15zM393.05 250.18m-2 0 1.15-.85.85-1.15.85 1.15 1.15.85-1.15.85-.85 1.15-.85-1.15zM482.87 250.18m-2 0 1.15-.85.85-1.15.85 1.15 1.15.85-1.15.85-.85 1.15-.85-1.15zM487.59 250.18m-2 0 1.15-.85.85-1.15.85 1.15 1.15.85-1.15.85-.85 1.15-.85-1.15zM492.32 250.18m-2 0 1.15-.85.85-1.15.85 1.15 1.15.85-1.15.85-.85 1.15-.85-1.15zM497.05 250.18m-2 0 1.15-.85.85-1.15.85 1.15 1.15.85-1.15.85-.85 1.15-.85-1.15zM501.77 250.18m-2 0 1.15-.85.85-1.15.85 1.15 1.15.85-1.15.85-.85 1.15-.85-1.15zM506.50 250.18m-2 0 1.15-.85.85-1.15.85 1.15 1.15.85-1.15.85-.85 1.15-.85-1.15zM511.23 250.18m-2 0 1.15-.85.85-1.15.85 1.15 1.15.85-1.15.85-.85 1.15-.85-1.15zM515.95 250.18m-2 0 1.15-.85.85-1.15.85 1.15 1.15.85-1.15.85-.85 1.15-.85-1.15zM520.68 250.18m-2 0 1.15-.85.85-1.15.85 1.15 1.15.85-1.15.85-.85 1.15-.85-1.15zM525.41 250.18m-2 0 1.15-.85.85-1.15.85 1.15 1.15.85-1.15.85-.85 1.15-.85-1.15zM530.14 250.18m-2 0 1.15-.85.85-1.15.85 1.15 1.15.85-1.15.85-.85 1.15-.85-1.15zM534.86 250.18m-2 0 1.15-.85.85-1.15.85 1.15 1.15.85-1.15.85-.85 1.15-.85-1.15zM539.59 250.18m-2 0 1.15-.85.85-1.15.85 1.15 1.15.85-1.15.85-.85 1.15-.85-1.15zM544.32 250.18m-2 0 1.15-.85.85-1.15.85 1.15 1.15.85-1.15.85-.85 1.15-.85-1.15zM549.04 250.18m-2 0 1.15-.85.85-1.15.85 1.15 1.15.85-1.15.85-.85 1.15-.85-1.15zM553.77 250.18m-2 0 1.15-.85.85-1.15.85 1.15 1.15.85-1.15.85-.85 1.15-.85-1.15zM558.50 250.18m-2 0 1.15-.85.85-1.15.85 1.15 1.15.85-1.15.85-.85 1.15-.85-1.15zM563.23 250.18m-2 0 1.15-.85.85-1.15.85 1.15 1.15.85-1.15.85-.85 1.15-.85-1.15zM567.95 250.18m-2 0 1.15-.85.85-1.15.85 1.15 1.15.85-1.15.85-.85 1.15-.85-1.15zM572.68 250.18m-2 0 1.15-.85.85-1.15.85 1.15 1.15.85-1.15.85-.85 1.15-.85-1.15zM577.41 250.18m-2 0 1.15-.85.85-1.15.85 1.15 1.15.85-1.15.85-.85 1.15-.85-1.15zM582.13 250.18m-2 0 1.15-.85.85-1.15.85 1.15 1.15.85-1.15.85-.85 1.15-.85-1.15zM586.86 250.18m-2 0 1.15-.85.85-1.15.85 1.15 1.15.85-1.15.85-.85 1.15-.85-1.15zM591.59 250.18m-2 0 1.15-.85.85-1.15.85 1.15 1.15.85-1.15.85-.85 1.15-.85-1.15zM596.31 250.18m-2 0 1.15-.85.85-1.15.85 1.15 1.15.85-1.15.85-.85 1.15-.85-1.15zM601.04 250.18m-2 0 1.15-.85.85-1.15.85 1.15 1.15.85-1.15.85-.85 1.15-.85-1.15zM605.77 250.18m-2 0 1.15-.85.85-1.15.85 1.15 1.15.85-1.15.85-.85 1.15-.85-1.15zM610.50 250.18m-2 0 1.15-.85.85-1.15.85 1.15 1.15.85-1.15.85-.85 1.15-.85-1.15zM615.22 250.18m-2 0 1.15-.85.85-1.15.85 1.15 1.15.85-1.15.85-.85 1.15-.85-1.15zM619.95 250.18m-2 0 1.15-.85.85-1.15.85 1.15 1.15.85-1.15.85-.85 1.15-.85-1.15zM624.68 250.18m-2 0 1.15-.85.85-1.15.85 1.15 1.15.85-1.15.85-.85 1.15-.85-1.15zM629.40 250.18m-2 0 1.15-.85.85-1.15.85 1.15 1.15.85-1.15.85-.85 1.15-.85-1.15zM634.13 250.18m-2 0 1.15-.85.85-1.15.85 1.15 1.15.85-1.15.85-.85 1.15-.85-1.15zM638.86 250.18m-2 0 1.15-.85.85-1.15.85 1.15 1.15.85-1.15.85-.85 1.15-.85-1.15zM643.58 250.18m-2 0 1.15-.85.85-1.15.85 1.15 1.15.85-1.15.85-.85 1.15-.85-1.15zM648.31 250.18m-2 0 1.15-.85.85-1.15.85 1.15 1.15.85-1.15.85-.85 1.15-.85-1.15zM653.04 250.18m-2 0 1.15-.85.85-1.15.85 1.15 1.15.85-1.15.85-.85 1.15-.85-1.15zM657.77 250.18m-2 0 1.15-.85.85-1.15.85 1.15 1.15.85-1.15.85-.85 1.15-.85-1.15zM662.49 250.18m-2 0 1.15-.85.85-1.15.85 1.15 1.15.85-1.15.85-.85 1.15-.85-1.15zM667.22 250.18m-2 0 1.15-.85.85-1.15.85 1.15 1.15.85-1.15.85-.85 1.15-.85-1.15zM671.95 250.18m-2 0 1.15-.85.85-1.15.85 1.15 1.15.85-1.15.85-.85 1.15-.85-1.15zM676.67 250.18m-2 0 1.15-.85.85-1.15.85 1.15 1.15.85-1.15.85-.85 1.15-.85-1.15zM681.40 250.18m-2 0 1.15-.85.85-1.15.85 1.15 1.15.85-1.15.85-.85 1.15-.85-1.15zM686.13 250.18m-2 0 1.15-.85.85-1.15.85 1.15 1.15.85-1.15.85-.85 1.15-.85-1.15zM690.85 250.18m-2 0 1.15-.85.85-1.15.85 1.15 1.15.85-1.15.85-.85 1.15-.85-1.15zM695.58 250.18m-2 0 1.15-.85.85-1.15.85 1.15 1.15.85-1.15.85-.85 1.15-.85-1.15zM700.31 250.18m-2 0 1.15-.85.85-1.15.85 1.15 1.15.85-1.15.85-.85 1.15-.85-1.15zM705.04 250.18m-2 0 1.15-.85.85-1.15.85 1.15 1.15.85-1.15.85-.85 1.15-.85-1.15zM709.76 250.18m-2 0 1.15-.85.85-1.15.85 1.15 1.15.85-1.15.85-.85 1.15-.85-1.15zM719.22 250.18m-2 0 1.15-.85.85-1.15.85 1.15 1.15.85-1.15.85-.85 1.15-.85-1.15zM279.61 254.92m-2 0 1.15-.85.85-1.15.85 1.15 1.15.85-1.15.85-.85 1.15-.85-1.15zM284.33 254.92m-2 0 1.15-.85.85-1.15.85 1.15 1.15.85-1.15.85-.85 1.15-.85-1.15zM289.06 254.92m-2 0 1.15-.85.85-1.15.85 1.15 1.15.85-1.15.85-.85 1.15-.85-1.15zM293.79 254.92m-2 0 1.15-.85.85-1.15.85 1.15 1.15.85-1.15.85-.85 1.15-.85-1.15zM298.51 254.92m-2 0 1.15-.85.85-1.15.85 1.15 1.15.85-1.15.85-.85 1.15-.85-1.15zM303.24 254.92m-2 0 1.15-.85.85-1.15.85 1.15 1.15.85-1.15.85-.85 1.15-.85-1.15zM307.97 254.92m-2 0 1.15-.85.85-1.15.85 1.15 1.15.85-1.15.85-.85 1.15-.85-1.15zM312.69 254.92m-2 0 1.15-.85.85-1.15.85 1.15 1.15.85-1.15.85-.85 1.15-.85-1.15zM317.42 254.92m-2 0 1.15-.85.85-1.15.85 1.15 1.15.85-1.15.85-.85 1.15-.85-1.15zM322.15 254.92m-2 0 1.15-.85.85-1.15.85 1.15 1.15.85-1.15.85-.85 1.15-.85-1.15zM326.88 254.92m-2 0 1.15-.85.85-1.15.85 1.15 1.15.85-1.15.85-.85 1.15-.85-1.15zM331.60 254.92m-2 0 1.15-.85.85-1.15.85 1.15 1.15.85-1.15.85-.85 1.15-.85-1.15zM336.33 254.92m-2 0 1.15-.85.85-1.15.85 1.15 1.15.85-1.15.85-.85 1.15-.85-1.15zM341.06 254.92m-2 0 1.15-.85.85-1.15.85 1.15 1.15.85-1.15.85-.85 1.15-.85-1.15zM345.78 254.92m-2 0 1.15-.85.85-1.15.85 1.15 1.15.85-1.15.85-.85 1.15-.85-1.15zM350.51 254.92m-2 0 1.15-.85.85-1.15.85 1.15 1.15.85-1.15.85-.85 1.15-.85-1.15zM355.24 254.92m-2 0 1.15-.85.85-1.15.85 1.15 1.15.85-1.15.85-.85 1.15-.85-1.15zM359.96 254.92m-2 0 1.15-.85.85-1.15.85 1.15 1.15.85-1.15.85-.85 1.15-.85-1.15zM364.69 254.92m-2 0 1.15-.85.85-1.15.85 1.15 1.15.85-1.15.85-.85 1.15-.85-1.15zM369.42 254.92m-2 0 1.15-.85.85-1.15.85 1.15 1.15.85-1.15.85-.85 1.15-.85-1.15zM374.14 254.92m-2 0 1.15-.85.85-1.15.85 1.15 1.15.85-1.15.85-.85 1.15-.85-1.15zM393.05 254.92m-2 0 1.15-.85.85-1.15.85 1.15 1.15.85-1.15.85-.85 1.15-.85-1.15zM478.14 254.92m-2 0 1.15-.85.85-1.15.85 1.15 1.15.85-1.15.85-.85 1.15-.85-1.15zM482.87 254.92m-2 0 1.15-.85.85-1.15.85 1.15 1.15.85-1.15.85-.85 1.15-.85-1.15zM487.59 254.92m-2 0 1.15-.85.85-1.15.85 1.15 1.15.85-1.15.85-.85 1.15-.85-1.15zM492.32 254.92m-2 0 1.15-.85.85-1.15.85 1.15 1.15.85-1.15.85-.85 1.15-.85-1.15zM497.05 254.92m-2 0 1.15-.85.85-1.15.85 1.15 1.15.85-1.15.85-.85 1.15-.85-1.15zM501.77 254.92m-2 0 1.15-.85.85-1.15.85 1.15 1.15.85-1.15.85-.85 1.15-.85-1.15zM506.50 254.92m-2 0 1.15-.85.85-1.15.85 1.15 1.15.85-1.15.85-.85 1.15-.85-1.15zM511.23 254.92m-2 0 1.15-.85.85-1.15.85 1.15 1.15.85-1.15.85-.85 1.15-.85-1.15zM515.95 254.92m-2 0 1.15-.85.85-1.15.85 1.15 1.15.85-1.15.85-.85 1.15-.85-1.15zM520.68 254.92m-2 0 1.15-.85.85-1.15.85 1.15 1.15.85-1.15.85-.85 1.15-.85-1.15zM525.41 254.92m-2 0 1.15-.85.85-1.15.85 1.15 1.15.85-1.15.85-.85 1.15-.85-1.15zM530.14 254.92m-2 0 1.15-.85.85-1.15.85 1.15 1.15.85-1.15.85-.85 1.15-.85-1.15zM534.86 254.92m-2 0 1.15-.85.85-1.15.85 1.15 1.15.85-1.15.85-.85 1.15-.85-1.15zM539.59 254.92m-2 0 1.15-.85.85-1.15.85 1.15 1.15.85-1.15.85-.85 1.15-.85-1.15zM544.32 254.92m-2 0 1.15-.85.85-1.15.85 1.15 1.15.85-1.15.85-.85 1.15-.85-1.15zM549.04 254.92m-2 0 1.15-.85.85-1.15.85 1.15 1.15.85-1.15.85-.85 1.15-.85-1.15zM553.77 254.92m-2 0 1.15-.85.85-1.15.85 1.15 1.15.85-1.15.85-.85 1.15-.85-1.15zM558.50 254.92m-2 0 1.15-.85.85-1.15.85 1.15 1.15.85-1.15.85-.85 1.15-.85-1.15zM563.23 254.92m-2 0 1.15-.85.85-1.15.85 1.15 1.15.85-1.15.85-.85 1.15-.85-1.15zM567.95 254.92m-2 0 1.15-.85.85-1.15.85 1.15 1.15.85-1.15.85-.85 1.15-.85-1.15zM572.68 254.92m-2 0 1.15-.85.85-1.15.85 1.15 1.15.85-1.15.85-.85 1.15-.85-1.15zM577.41 254.92m-2 0 1.15-.85.85-1.15.85 1.15 1.15.85-1.15.85-.85 1.15-.85-1.15zM582.13 254.92m-2 0 1.15-.85.85-1.15.85 1.15 1.15.85-1.15.85-.85 1.15-.85-1.15zM586.86 254.92m-2 0 1.15-.85.85-1.15.85 1.15 1.15.85-1.15.85-.85 1.15-.85-1.15zM591.59 254.92m-2 0 1.15-.85.85-1.15.85 1.15 1.15.85-1.15.85-.85 1.15-.85-1.15zM596.31 254.92m-2 0 1.15-.85.85-1.15.85 1.15 1.15.85-1.15.85-.85 1.15-.85-1.15zM601.04 254.92m-2 0 1.15-.85.85-1.15.85 1.15 1.15.85-1.15.85-.85 1.15-.85-1.15zM605.77 254.92m-2 0 1.15-.85.85-1.15.85 1.15 1.15.85-1.15.85-.85 1.15-.85-1.15zM610.50 254.92m-2 0 1.15-.85.85-1.15.85 1.15 1.15.85-1.15.85-.85 1.15-.85-1.15zM615.22 254.92m-2 0 1.15-.85.85-1.15.85 1.15 1.15.85-1.15.85-.85 1.15-.85-1.15zM619.95 254.92m-2 0 1.15-.85.85-1.15.85 1.15 1.15.85-1.15.85-.85 1.15-.85-1.15zM624.68 254.92m-2 0 1.15-.85.85-1.15.85 1.15 1.15.85-1.15.85-.85 1.15-.85-1.15zM629.40 254.92m-2 0 1.15-.85.85-1.15.85 1.15 1.15.85-1.15.85-.85 1.15-.85-1.15zM634.13 254.92m-2 0 1.15-.85.85-1.15.85 1.15 1.15.85-1.15.85-.85 1.15-.85-1.15zM638.86 254.92m-2 0 1.15-.85.85-1.15.85 1.15 1.15.85-1.15.85-.85 1.15-.85-1.15zM643.58 254.92m-2 0 1.15-.85.85-1.15.85 1.15 1.15.85-1.15.85-.85 1.15-.85-1.15zM648.31 254.92m-2 0 1.15-.85.85-1.15.85 1.15 1.15.85-1.15.85-.85 1.15-.85-1.15zM653.04 254.92m-2 0 1.15-.85.85-1.15.85 1.15 1.15.85-1.15.85-.85 1.15-.85-1.15zM657.77 254.92m-2 0 1.15-.85.85-1.15.85 1.15 1.15.85-1.15.85-.85 1.15-.85-1.15zM662.49 254.92m-2 0 1.15-.85.85-1.15.85 1.15 1.15.85-1.15.85-.85 1.15-.85-1.15zM667.22 254.92m-2 0 1.15-.85.85-1.15.85 1.15 1.15.85-1.15.85-.85 1.15-.85-1.15zM671.95 254.92m-2 0 1.15-.85.85-1.15.85 1.15 1.15.85-1.15.85-.85 1.15-.85-1.15zM676.67 254.92m-2 0 1.15-.85.85-1.15.85 1.15 1.15.85-1.15.85-.85 1.15-.85-1.15zM681.40 254.92m-2 0 1.15-.85.85-1.15.85 1.15 1.15.85-1.15.85-.85 1.15-.85-1.15zM686.13 254.92m-2 0 1.15-.85.85-1.15.85 1.15 1.15.85-1.15.85-.85 1.15-.85-1.15zM690.85 254.92m-2 0 1.15-.85.85-1.15.85 1.15 1.15.85-1.15.85-.85 1.15-.85-1.15zM695.58 254.92m-2 0 1.15-.85.85-1.15.85 1.15 1.15.85-1.15.85-.85 1.15-.85-1.15zM700.31 254.92m-2 0 1.15-.85.85-1.15.85 1.15 1.15.85-1.15.85-.85 1.15-.85-1.15zM705.04 254.92m-2 0 1.15-.85.85-1.15.85 1.15 1.15.85-1.15.85-.85 1.15-.85-1.15zM714.49 254.92m-2 0 1.15-.85.85-1.15.85 1.15 1.15.85-1.15.85-.85 1.15-.85-1.15zM279.61 259.66m-2 0 1.15-.85.85-1.15.85 1.15 1.15.85-1.15.85-.85 1.15-.85-1.15zM284.33 259.66m-2 0 1.15-.85.85-1.15.85 1.15 1.15.85-1.15.85-.85 1.15-.85-1.15zM289.06 259.66m-2 0 1.15-.85.85-1.15.85 1.15 1.15.85-1.15.85-.85 1.15-.85-1.15zM293.79 259.66m-2 0 1.15-.85.85-1.15.85 1.15 1.15.85-1.15.85-.85 1.15-.85-1.15zM298.51 259.66m-2 0 1.15-.85.85-1.15.85 1.15 1.15.85-1.15.85-.85 1.15-.85-1.15zM303.24 259.66m-2 0 1.15-.85.85-1.15.85 1.15 1.15.85-1.15.85-.85 1.15-.85-1.15zM307.97 259.66m-2 0 1.15-.85.85-1.15.85 1.15 1.15.85-1.15.85-.85 1.15-.85-1.15zM312.69 259.66m-2 0 1.15-.85.85-1.15.85 1.15 1.15.85-1.15.85-.85 1.15-.85-1.15zM317.42 259.66m-2 0 1.15-.85.85-1.15.85 1.15 1.15.85-1.15.85-.85 1.15-.85-1.15zM322.15 259.66m-2 0 1.15-.85.85-1.15.85 1.15 1.15.85-1.15.85-.85 1.15-.85-1.15zM326.88 259.66m-2 0 1.15-.85.85-1.15.85 1.15 1.15.85-1.15.85-.85 1.15-.85-1.15zM331.60 259.66m-2 0 1.15-.85.85-1.15.85 1.15 1.15.85-1.15.85-.85 1.15-.85-1.15zM336.33 259.66m-2 0 1.15-.85.85-1.15.85 1.15 1.15.85-1.15.85-.85 1.15-.85-1.15zM341.06 259.66m-2 0 1.15-.85.85-1.15.85 1.15 1.15.85-1.15.85-.85 1.15-.85-1.15zM345.78 259.66m-2 0 1.15-.85.85-1.15.85 1.15 1.15.85-1.15.85-.85 1.15-.85-1.15zM350.51 259.66m-2 0 1.15-.85.85-1.15.85 1.15 1.15.85-1.15.85-.85 1.15-.85-1.15zM355.24 259.66m-2 0 1.15-.85.85-1.15.85 1.15 1.15.85-1.15.85-.85 1.15-.85-1.15zM359.96 259.66m-2 0 1.15-.85.85-1.15.85 1.15 1.15.85-1.15.85-.85 1.15-.85-1.15zM364.69 259.66m-2 0 1.15-.85.85-1.15.85 1.15 1.15.85-1.15.85-.85 1.15-.85-1.15zM369.42 259.66m-2 0 1.15-.85.85-1.15.85 1.15 1.15.85-1.15.85-.85 1.15-.85-1.15zM374.14 259.66m-2 0 1.15-.85.85-1.15.85 1.15 1.15.85-1.15.85-.85 1.15-.85-1.15zM378.87 259.66m-2 0 1.15-.85.85-1.15.85 1.15 1.15.85-1.15.85-.85 1.15-.85-1.15zM482.87 259.66m-2 0 1.15-.85.85-1.15.85 1.15 1.15.85-1.15.85-.85 1.15-.85-1.15zM487.59 259.66m-2 0 1.15-.85.85-1.15.85 1.15 1.15.85-1.15.85-.85 1.15-.85-1.15zM492.32 259.66m-2 0 1.15-.85.85-1.15.85 1.15 1.15.85-1.15.85-.85 1.15-.85-1.15zM497.05 259.66m-2 0 1.15-.85.85-1.15.85 1.15 1.15.85-1.15.85-.85 1.15-.85-1.15zM501.77 259.66m-2 0 1.15-.85.85-1.15.85 1.15 1.15.85-1.15.85-.85 1.15-.85-1.15zM506.50 259.66m-2 0 1.15-.85.85-1.15.85 1.15 1.15.85-1.15.85-.85 1.15-.85-1.15zM511.23 259.66m-2 0 1.15-.85.85-1.15.85 1.15 1.15.85-1.15.85-.85 1.15-.85-1.15zM515.95 259.66m-2 0 1.15-.85.85-1.15.85 1.15 1.15.85-1.15.85-.85 1.15-.85-1.15zM520.68 259.66m-2 0 1.15-.85.85-1.15.85 1.15 1.15.85-1.15.85-.85 1.15-.85-1.15zM525.41 259.66m-2 0 1.15-.85.85-1.15.85 1.15 1.15.85-1.15.85-.85 1.15-.85-1.15zM530.14 259.66m-2 0 1.15-.85.85-1.15.85 1.15 1.15.85-1.15.85-.85 1.15-.85-1.15zM539.59 259.66m-2 0 1.15-.85.85-1.15.85 1.15 1.15.85-1.15.85-.85 1.15-.85-1.15zM549.04 259.66m-2 0 1.15-.85.85-1.15.85 1.15 1.15.85-1.15.85-.85 1.15-.85-1.15zM553.77 259.66m-2 0 1.15-.85.85-1.15.85 1.15 1.15.85-1.15.85-.85 1.15-.85-1.15zM558.50 259.66m-2 0 1.15-.85.85-1.15.85 1.15 1.15.85-1.15.85-.85 1.15-.85-1.15zM567.95 259.66m-2 0 1.15-.85.85-1.15.85 1.15 1.15.85-1.15.85-.85 1.15-.85-1.15zM572.68 259.66m-2 0 1.15-.85.85-1.15.85 1.15 1.15.85-1.15.85-.85 1.15-.85-1.15zM577.41 259.66m-2 0 1.15-.85.85-1.15.85 1.15 1.15.85-1.15.85-.85 1.15-.85-1.15zM582.13 259.66m-2 0 1.15-.85.85-1.15.85 1.15 1.15.85-1.15.85-.85 1.15-.85-1.15zM586.86 259.66m-2 0 1.15-.85.85-1.15.85 1.15 1.15.85-1.15.85-.85 1.15-.85-1.15zM591.59 259.66m-2 0 1.15-.85.85-1.15.85 1.15 1.15.85-1.15.85-.85 1.15-.85-1.15zM596.31 259.66m-2 0 1.15-.85.85-1.15.85 1.15 1.15.85-1.15.85-.85 1.15-.85-1.15zM601.04 259.66m-2 0 1.15-.85.85-1.15.85 1.15 1.15.85-1.15.85-.85 1.15-.85-1.15zM605.77 259.66m-2 0 1.15-.85.85-1.15.85 1.15 1.15.85-1.15.85-.85 1.15-.85-1.15zM610.50 259.66m-2 0 1.15-.85.85-1.15.85 1.15 1.15.85-1.15.85-.85 1.15-.85-1.15zM615.22 259.66m-2 0 1.15-.85.85-1.15.85 1.15 1.15.85-1.15.85-.85 1.15-.85-1.15zM619.95 259.66m-2 0 1.15-.85.85-1.15.85 1.15 1.15.85-1.15.85-.85 1.15-.85-1.15zM624.68 259.66m-2 0 1.15-.85.85-1.15.85 1.15 1.15.85-1.15.85-.85 1.15-.85-1.15zM629.40 259.66m-2 0 1.15-.85.85-1.15.85 1.15 1.15.85-1.15.85-.85 1.15-.85-1.15zM634.13 259.66m-2 0 1.15-.85.85-1.15.85 1.15 1.15.85-1.15.85-.85 1.15-.85-1.15zM638.86 259.66m-2 0 1.15-.85.85-1.15.85 1.15 1.15.85-1.15.85-.85 1.15-.85-1.15zM643.58 259.66m-2 0 1.15-.85.85-1.15.85 1.15 1.15.85-1.15.85-.85 1.15-.85-1.15zM648.31 259.66m-2 0 1.15-.85.85-1.15.85 1.15 1.15.85-1.15.85-.85 1.15-.85-1.15zM653.04 259.66m-2 0 1.15-.85.85-1.15.85 1.15 1.15.85-1.15.85-.85 1.15-.85-1.15zM657.77 259.66m-2 0 1.15-.85.85-1.15.85 1.15 1.15.85-1.15.85-.85 1.15-.85-1.15zM662.49 259.66m-2 0 1.15-.85.85-1.15.85 1.15 1.15.85-1.15.85-.85 1.15-.85-1.15zM667.22 259.66m-2 0 1.15-.85.85-1.15.85 1.15 1.15.85-1.15.85-.85 1.15-.85-1.15zM671.95 259.66m-2 0 1.15-.85.85-1.15.85 1.15 1.15.85-1.15.85-.85 1.15-.85-1.15zM676.67 259.66m-2 0 1.15-.85.85-1.15.85 1.15 1.15.85-1.15.85-.85 1.15-.85-1.15zM681.40 259.66m-2 0 1.15-.85.85-1.15.85 1.15 1.15.85-1.15.85-.85 1.15-.85-1.15zM686.13 259.66m-2 0 1.15-.85.85-1.15.85 1.15 1.15.85-1.15.85-.85 1.15-.85-1.15zM690.85 259.66m-2 0 1.15-.85.85-1.15.85 1.15 1.15.85-1.15.85-.85 1.15-.85-1.15zM695.58 259.66m-2 0 1.15-.85.85-1.15.85 1.15 1.15.85-1.15.85-.85 1.15-.85-1.15zM700.31 259.66m-2 0 1.15-.85.85-1.15.85 1.15 1.15.85-1.15.85-.85 1.15-.85-1.15zM705.04 259.66m-2 0 1.15-.85.85-1.15.85 1.15 1.15.85-1.15.85-.85 1.15-.85-1.15zM714.49 259.66m-2 0 1.15-.85.85-1.15.85 1.15 1.15.85-1.15.85-.85 1.15-.85-1.15zM279.61 264.40m-2 0 1.15-.85.85-1.15.85 1.15 1.15.85-1.15.85-.85 1.15-.85-1.15zM284.33 264.40m-2 0 1.15-.85.85-1.15.85 1.15 1.15.85-1.15.85-.85 1.15-.85-1.15zM289.06 264.40m-2 0 1.15-.85.85-1.15.85 1.15 1.15.85-1.15.85-.85 1.15-.85-1.15zM293.79 264.40m-2 0 1.15-.85.85-1.15.85 1.15 1.15.85-1.15.85-.85 1.15-.85-1.15zM298.51 264.40m-2 0 1.15-.85.85-1.15.85 1.15 1.15.85-1.15.85-.85 1.15-.85-1.15zM303.24 264.40m-2 0 1.15-.85.85-1.15.85 1.15 1.15.85-1.15.85-.85 1.15-.85-1.15zM307.97 264.40m-2 0 1.15-.85.85-1.15.85 1.15 1.15.85-1.15.85-.85 1.15-.85-1.15zM312.69 264.40m-2 0 1.15-.85.85-1.15.85 1.15 1.15.85-1.15.85-.85 1.15-.85-1.15zM317.42 264.40m-2 0 1.15-.85.85-1.15.85 1.15 1.15.85-1.15.85-.85 1.15-.85-1.15zM322.15 264.40m-2 0 1.15-.85.85-1.15.85 1.15 1.15.85-1.15.85-.85 1.15-.85-1.15zM326.88 264.40m-2 0 1.15-.85.85-1.15.85 1.15 1.15.85-1.15.85-.85 1.15-.85-1.15zM331.60 264.40m-2 0 1.15-.85.85-1.15.85 1.15 1.15.85-1.15.85-.85 1.15-.85-1.15zM336.33 264.40m-2 0 1.15-.85.85-1.15.85 1.15 1.15.85-1.15.85-.85 1.15-.85-1.15zM341.06 264.40m-2 0 1.15-.85.85-1.15.85 1.15 1.15.85-1.15.85-.85 1.15-.85-1.15zM345.78 264.40m-2 0 1.15-.85.85-1.15.85 1.15 1.15.85-1.15.85-.85 1.15-.85-1.15zM350.51 264.40m-2 0 1.15-.85.85-1.15.85 1.15 1.15.85-1.15.85-.85 1.15-.85-1.15zM355.24 264.40m-2 0 1.15-.85.85-1.15.85 1.15 1.15.85-1.15.85-.85 1.15-.85-1.15zM359.96 264.40m-2 0 1.15-.85.85-1.15.85 1.15 1.15.85-1.15.85-.85 1.15-.85-1.15zM364.69 264.40m-2 0 1.15-.85.85-1.15.85 1.15 1.15.85-1.15.85-.85 1.15-.85-1.15zM468.69 264.40m-2 0 1.15-.85.85-1.15.85 1.15 1.15.85-1.15.85-.85 1.15-.85-1.15zM473.41 264.40m-2 0 1.15-.85.85-1.15.85 1.15 1.15.85-1.15.85-.85 1.15-.85-1.15zM478.14 264.40m-2 0 1.15-.85.85-1.15.85 1.15 1.15.85-1.15.85-.85 1.15-.85-1.15zM482.87 264.40m-2 0 1.15-.85.85-1.15.85 1.15 1.15.85-1.15.85-.85 1.15-.85-1.15zM487.59 264.40m-2 0 1.15-.85.85-1.15.85 1.15 1.15.85-1.15.85-.85 1.15-.85-1.15zM492.32 264.40m-2 0 1.15-.85.85-1.15.85 1.15 1.15.85-1.15.85-.85 1.15-.85-1.15zM501.77 264.40m-2 0 1.15-.85.85-1.15.85 1.15 1.15.85-1.15.85-.85 1.15-.85-1.15zM511.23 264.40m-2 0 1.15-.85.85-1.15.85 1.15 1.15.85-1.15.85-.85 1.15-.85-1.15zM515.95 264.40m-2 0 1.15-.85.85-1.15.85 1.15 1.15.85-1.15.85-.85 1.15-.85-1.15zM520.68 264.40m-2 0 1.15-.85.85-1.15.85 1.15 1.15.85-1.15.85-.85 1.15-.85-1.15zM525.41 264.40m-2 0 1.15-.85.85-1.15.85 1.15 1.15.85-1.15.85-.85 1.15-.85-1.15zM553.77 264.40m-2 0 1.15-.85.85-1.15.85 1.15 1.15.85-1.15.85-.85 1.15-.85-1.15zM558.50 264.40m-2 0 1.15-.85.85-1.15.85 1.15 1.15.85-1.15.85-.85 1.15-.85-1.15zM567.95 264.40m-2 0 1.15-.85.85-1.15.85 1.15 1.15.85-1.15.85-.85 1.15-.85-1.15zM572.68 264.40m-2 0 1.15-.85.85-1.15.85 1.15 1.15.85-1.15.85-.85 1.15-.85-1.15zM577.41 264.40m-2 0 1.15-.85.85-1.15.85 1.15 1.15.85-1.15.85-.85 1.15-.85-1.15zM582.13 264.40m-2 0 1.15-.85.85-1.15.85 1.15 1.15.85-1.15.85-.85 1.15-.85-1.15zM586.86 264.40m-2 0 1.15-.85.85-1.15.85 1.15 1.15.85-1.15.85-.85 1.15-.85-1.15zM591.59 264.40m-2 0 1.15-.85.85-1.15.85 1.15 1.15.85-1.15.85-.85 1.15-.85-1.15zM596.31 264.40m-2 0 1.15-.85.85-1.15.85 1.15 1.15.85-1.15.85-.85 1.15-.85-1.15zM601.04 264.40m-2 0 1.15-.85.85-1.15.85 1.15 1.15.85-1.15.85-.85 1.15-.85-1.15zM605.77 264.40m-2 0 1.15-.85.85-1.15.85 1.15 1.15.85-1.15.85-.85 1.15-.85-1.15zM610.50 264.40m-2 0 1.15-.85.85-1.15.85 1.15 1.15.85-1.15.85-.85 1.15-.85-1.15zM615.22 264.40m-2 0 1.15-.85.85-1.15.85 1.15 1.15.85-1.15.85-.85 1.15-.85-1.15zM619.95 264.40m-2 0 1.15-.85.85-1.15.85 1.15 1.15.85-1.15.85-.85 1.15-.85-1.15zM624.68 264.40m-2 0 1.15-.85.85-1.15.85 1.15 1.15.85-1.15.85-.85 1.15-.85-1.15zM629.40 264.40m-2 0 1.15-.85.85-1.15.85 1.15 1.15.85-1.15.85-.85 1.15-.85-1.15zM634.13 264.40m-2 0 1.15-.85.85-1.15.85 1.15 1.15.85-1.15.85-.85 1.15-.85-1.15zM638.86 264.40m-2 0 1.15-.85.85-1.15.85 1.15 1.15.85-1.15.85-.85 1.15-.85-1.15zM643.58 264.40m-2 0 1.15-.85.85-1.15.85 1.15 1.15.85-1.15.85-.85 1.15-.85-1.15zM648.31 264.40m-2 0 1.15-.85.85-1.15.85 1.15 1.15.85-1.15.85-.85 1.15-.85-1.15zM653.04 264.40m-2 0 1.15-.85.85-1.15.85 1.15 1.15.85-1.15.85-.85 1.15-.85-1.15zM657.77 264.40m-2 0 1.15-.85.85-1.15.85 1.15 1.15.85-1.15.85-.85 1.15-.85-1.15zM662.49 264.40m-2 0 1.15-.85.85-1.15.85 1.15 1.15.85-1.15.85-.85 1.15-.85-1.15zM667.22 264.40m-2 0 1.15-.85.85-1.15.85 1.15 1.15.85-1.15.85-.85 1.15-.85-1.15zM671.95 264.40m-2 0 1.15-.85.85-1.15.85 1.15 1.15.85-1.15.85-.85 1.15-.85-1.15zM676.67 264.40m-2 0 1.15-.85.85-1.15.85 1.15 1.15.85-1.15.85-.85 1.15-.85-1.15zM681.40 264.40m-2 0 1.15-.85.85-1.15.85 1.15 1.15.85-1.15.85-.85 1.15-.85-1.15zM686.13 264.40m-2 0 1.15-.85.85-1.15.85 1.15 1.15.85-1.15.85-.85 1.15-.85-1.15zM690.85 264.40m-2 0 1.15-.85.85-1.15.85 1.15 1.15.85-1.15.85-.85 1.15-.85-1.15zM695.58 264.40m-2 0 1.15-.85.85-1.15.85 1.15 1.15.85-1.15.85-.85 1.15-.85-1.15zM700.31 264.40m-2 0 1.15-.85.85-1.15.85 1.15 1.15.85-1.15.85-.85 1.15-.85-1.15zM714.49 264.40m-2 0 1.15-.85.85-1.15.85 1.15 1.15.85-1.15.85-.85 1.15-.85-1.15zM719.22 264.40m-2 0 1.15-.85.85-1.15.85 1.15 1.15.85-1.15.85-.85 1.15-.85-1.15zM279.61 269.14m-2 0 1.15-.85.85-1.15.85 1.15 1.15.85-1.15.85-.85 1.15-.85-1.15zM284.33 269.14m-2 0 1.15-.85.85-1.15.85 1.15 1.15.85-1.15.85-.85 1.15-.85-1.15zM289.06 269.14m-2 0 1.15-.85.85-1.15.85 1.15 1.15.85-1.15.85-.85 1.15-.85-1.15zM293.79 269.14m-2 0 1.15-.85.85-1.15.85 1.15 1.15.85-1.15.85-.85 1.15-.85-1.15zM298.51 269.14m-2 0 1.15-.85.85-1.15.85 1.15 1.15.85-1.15.85-.85 1.15-.85-1.15zM303.24 269.14m-2 0 1.15-.85.85-1.15.85 1.15 1.15.85-1.15.85-.85 1.15-.85-1.15zM307.97 269.14m-2 0 1.15-.85.85-1.15.85 1.15 1.15.85-1.15.85-.85 1.15-.85-1.15zM312.69 269.14m-2 0 1.15-.85.85-1.15.85 1.15 1.15.85-1.15.85-.85 1.15-.85-1.15zM317.42 269.14m-2 0 1.15-.85.85-1.15.85 1.15 1.15.85-1.15.85-.85 1.15-.85-1.15zM322.15 269.14m-2 0 1.15-.85.85-1.15.85 1.15 1.15.85-1.15.85-.85 1.15-.85-1.15zM326.88 269.14m-2 0 1.15-.85.85-1.15.85 1.15 1.15.85-1.15.85-.85 1.15-.85-1.15zM331.60 269.14m-2 0 1.15-.85.85-1.15.85 1.15 1.15.85-1.15.85-.85 1.15-.85-1.15zM336.33 269.14m-2 0 1.15-.85.85-1.15.85 1.15 1.15.85-1.15.85-.85 1.15-.85-1.15zM341.06 269.14m-2 0 1.15-.85.85-1.15.85 1.15 1.15.85-1.15.85-.85 1.15-.85-1.15zM345.78 269.14m-2 0 1.15-.85.85-1.15.85 1.15 1.15.85-1.15.85-.85 1.15-.85-1.15zM350.51 269.14m-2 0 1.15-.85.85-1.15.85 1.15 1.15.85-1.15.85-.85 1.15-.85-1.15zM355.24 269.14m-2 0 1.15-.85.85-1.15.85 1.15 1.15.85-1.15.85-.85 1.15-.85-1.15zM359.96 269.14m-2 0 1.15-.85.85-1.15.85 1.15 1.15.85-1.15.85-.85 1.15-.85-1.15zM468.69 269.14m-2 0 1.15-.85.85-1.15.85 1.15 1.15.85-1.15.85-.85 1.15-.85-1.15zM473.41 269.14m-2 0 1.15-.85.85-1.15.85 1.15 1.15.85-1.15.85-.85 1.15-.85-1.15zM478.14 269.14m-2 0 1.15-.85.85-1.15.85 1.15 1.15.85-1.15.85-.85 1.15-.85-1.15zM482.87 269.14m-2 0 1.15-.85.85-1.15.85 1.15 1.15.85-1.15.85-.85 1.15-.85-1.15zM497.05 269.14m-2 0 1.15-.85.85-1.15.85 1.15 1.15.85-1.15.85-.85 1.15-.85-1.15zM506.50 269.14m-2 0 1.15-.85.85-1.15.85 1.15 1.15.85-1.15.85-.85 1.15-.85-1.15zM515.95 269.14m-2 0 1.15-.85.85-1.15.85 1.15 1.15.85-1.15.85-.85 1.15-.85-1.15zM520.68 269.14m-2 0 1.15-.85.85-1.15.85 1.15 1.15.85-1.15.85-.85 1.15-.85-1.15zM525.41 269.14m-2 0 1.15-.85.85-1.15.85 1.15 1.15.85-1.15.85-.85 1.15-.85-1.15zM530.14 269.14m-2 0 1.15-.85.85-1.15.85 1.15 1.15.85-1.15.85-.85 1.15-.85-1.15zM534.86 269.14m-2 0 1.15-.85.85-1.15.85 1.15 1.15.85-1.15.85-.85 1.15-.85-1.15zM539.59 269.14m-2 0 1.15-.85.85-1.15.85 1.15 1.15.85-1.15.85-.85 1.15-.85-1.15zM549.04 269.14m-2 0 1.15-.85.85-1.15.85 1.15 1.15.85-1.15.85-.85 1.15-.85-1.15zM553.77 269.14m-2 0 1.15-.85.85-1.15.85 1.15 1.15.85-1.15.85-.85 1.15-.85-1.15zM558.50 269.14m-2 0 1.15-.85.85-1.15.85 1.15 1.15.85-1.15.85-.85 1.15-.85-1.15zM563.23 269.14m-2 0 1.15-.85.85-1.15.85 1.15 1.15.85-1.15.85-.85 1.15-.85-1.15zM572.68 269.14m-2 0 1.15-.85.85-1.15.85 1.15 1.15.85-1.15.85-.85 1.15-.85-1.15zM577.41 269.14m-2 0 1.15-.85.85-1.15.85 1.15 1.15.85-1.15.85-.85 1.15-.85-1.15zM582.13 269.14m-2 0 1.15-.85.85-1.15.85 1.15 1.15.85-1.15.85-.85 1.15-.85-1.15zM586.86 269.14m-2 0 1.15-.85.85-1.15.85 1.15 1.15.85-1.15.85-.85 1.15-.85-1.15zM591.59 269.14m-2 0 1.15-.85.85-1.15.85 1.15 1.15.85-1.15.85-.85 1.15-.85-1.15zM596.31 269.14m-2 0 1.15-.85.85-1.15.85 1.15 1.15.85-1.15.85-.85 1.15-.85-1.15zM601.04 269.14m-2 0 1.15-.85.85-1.15.85 1.15 1.15.85-1.15.85-.85 1.15-.85-1.15zM605.77 269.14m-2 0 1.15-.85.85-1.15.85 1.15 1.15.85-1.15.85-.85 1.15-.85-1.15zM610.50 269.14m-2 0 1.15-.85.85-1.15.85 1.15 1.15.85-1.15.85-.85 1.15-.85-1.15zM615.22 269.14m-2 0 1.15-.85.85-1.15.85 1.15 1.15.85-1.15.85-.85 1.15-.85-1.15zM619.95 269.14m-2 0 1.15-.85.85-1.15.85 1.15 1.15.85-1.15.85-.85 1.15-.85-1.15zM624.68 269.14m-2 0 1.15-.85.85-1.15.85 1.15 1.15.85-1.15.85-.85 1.15-.85-1.15zM629.40 269.14m-2 0 1.15-.85.85-1.15.85 1.15 1.15.85-1.15.85-.85 1.15-.85-1.15zM634.13 269.14m-2 0 1.15-.85.85-1.15.85 1.15 1.15.85-1.15.85-.85 1.15-.85-1.15zM638.86 269.14m-2 0 1.15-.85.85-1.15.85 1.15 1.15.85-1.15.85-.85 1.15-.85-1.15zM643.58 269.14m-2 0 1.15-.85.85-1.15.85 1.15 1.15.85-1.15.85-.85 1.15-.85-1.15zM648.31 269.14m-2 0 1.15-.85.85-1.15.85 1.15 1.15.85-1.15.85-.85 1.15-.85-1.15zM653.04 269.14m-2 0 1.15-.85.85-1.15.85 1.15 1.15.85-1.15.85-.85 1.15-.85-1.15zM657.77 269.14m-2 0 1.15-.85.85-1.15.85 1.15 1.15.85-1.15.85-.85 1.15-.85-1.15zM662.49 269.14m-2 0 1.15-.85.85-1.15.85 1.15 1.15.85-1.15.85-.85 1.15-.85-1.15zM667.22 269.14m-2 0 1.15-.85.85-1.15.85 1.15 1.15.85-1.15.85-.85 1.15-.85-1.15zM671.95 269.14m-2 0 1.15-.85.85-1.15.85 1.15 1.15.85-1.15.85-.85 1.15-.85-1.15zM676.67 269.14m-2 0 1.15-.85.85-1.15.85 1.15 1.15.85-1.15.85-.85 1.15-.85-1.15zM681.40 269.14m-2 0 1.15-.85.85-1.15.85 1.15 1.15.85-1.15.85-.85 1.15-.85-1.15zM686.13 269.14m-2 0 1.15-.85.85-1.15.85 1.15 1.15.85-1.15.85-.85 1.15-.85-1.15zM690.85 269.14m-2 0 1.15-.85.85-1.15.85 1.15 1.15.85-1.15.85-.85 1.15-.85-1.15zM714.49 269.14m-2 0 1.15-.85.85-1.15.85 1.15 1.15.85-1.15.85-.85 1.15-.85-1.15zM284.33 273.88m-2 0 1.15-.85.85-1.15.85 1.15 1.15.85-1.15.85-.85 1.15-.85-1.15zM289.06 273.88m-2 0 1.15-.85.85-1.15.85 1.15 1.15.85-1.15.85-.85 1.15-.85-1.15zM293.79 273.88m-2 0 1.15-.85.85-1.15.85 1.15 1.15.85-1.15.85-.85 1.15-.85-1.15zM298.51 273.88m-2 0 1.15-.85.85-1.15.85 1.15 1.15.85-1.15.85-.85 1.15-.85-1.15zM303.24 273.88m-2 0 1.15-.85.85-1.15.85 1.15 1.15.85-1.15.85-.85 1.15-.85-1.15zM307.97 273.88m-2 0 1.15-.85.85-1.15.85 1.15 1.15.85-1.15.85-.85 1.15-.85-1.15zM312.69 273.88m-2 0 1.15-.85.85-1.15.85 1.15 1.15.85-1.15.85-.85 1.15-.85-1.15zM317.42 273.88m-2 0 1.15-.85.85-1.15.85 1.15 1.15.85-1.15.85-.85 1.15-.85-1.15zM322.15 273.88m-2 0 1.15-.85.85-1.15.85 1.15 1.15.85-1.15.85-.85 1.15-.85-1.15zM326.88 273.88m-2 0 1.15-.85.85-1.15.85 1.15 1.15.85-1.15.85-.85 1.15-.85-1.15zM331.60 273.88m-2 0 1.15-.85.85-1.15.85 1.15 1.15.85-1.15.85-.85 1.15-.85-1.15zM336.33 273.88m-2 0 1.15-.85.85-1.15.85 1.15 1.15.85-1.15.85-.85 1.15-.85-1.15zM341.06 273.88m-2 0 1.15-.85.85-1.15.85 1.15 1.15.85-1.15.85-.85 1.15-.85-1.15zM345.78 273.88m-2 0 1.15-.85.85-1.15.85 1.15 1.15.85-1.15.85-.85 1.15-.85-1.15zM350.51 273.88m-2 0 1.15-.85.85-1.15.85 1.15 1.15.85-1.15.85-.85 1.15-.85-1.15zM355.24 273.88m-2 0 1.15-.85.85-1.15.85 1.15 1.15.85-1.15.85-.85 1.15-.85-1.15zM468.69 273.88m-2 0 1.15-.85.85-1.15.85 1.15 1.15.85-1.15.85-.85 1.15-.85-1.15zM473.41 273.88m-2 0 1.15-.85.85-1.15.85 1.15 1.15.85-1.15.85-.85 1.15-.85-1.15zM478.14 273.88m-2 0 1.15-.85.85-1.15.85 1.15 1.15.85-1.15.85-.85 1.15-.85-1.15zM520.68 273.88m-2 0 1.15-.85.85-1.15.85 1.15 1.15.85-1.15.85-.85 1.15-.85-1.15zM530.14 273.88m-2 0 1.15-.85.85-1.15.85 1.15 1.15.85-1.15.85-.85 1.15-.85-1.15zM534.86 273.88m-2 0 1.15-.85.85-1.15.85 1.15 1.15.85-1.15.85-.85 1.15-.85-1.15zM539.59 273.88m-2 0 1.15-.85.85-1.15.85 1.15 1.15.85-1.15.85-.85 1.15-.85-1.15zM544.32 273.88m-2 0 1.15-.85.85-1.15.85 1.15 1.15.85-1.15.85-.85 1.15-.85-1.15zM549.04 273.88m-2 0 1.15-.85.85-1.15.85 1.15 1.15.85-1.15.85-.85 1.15-.85-1.15zM553.77 273.88m-2 0 1.15-.85.85-1.15.85 1.15 1.15.85-1.15.85-.85 1.15-.85-1.15zM558.50 273.88m-2 0 1.15-.85.85-1.15.85 1.15 1.15.85-1.15.85-.85 1.15-.85-1.15zM572.68 273.88m-2 0 1.15-.85.85-1.15.85 1.15 1.15.85-1.15.85-.85 1.15-.85-1.15zM577.41 273.88m-2 0 1.15-.85.85-1.15.85 1.15 1.15.85-1.15.85-.85 1.15-.85-1.15zM582.13 273.88m-2 0 1.15-.85.85-1.15.85 1.15 1.15.85-1.15.85-.85 1.15-.85-1.15zM586.86 273.88m-2 0 1.15-.85.85-1.15.85 1.15 1.15.85-1.15.85-.85 1.15-.85-1.15zM591.59 273.88m-2 0 1.15-.85.85-1.15.85 1.15 1.15.85-1.15.85-.85 1.15-.85-1.15zM596.31 273.88m-2 0 1.15-.85.85-1.15.85 1.15 1.15.85-1.15.85-.85 1.15-.85-1.15zM601.04 273.88m-2 0 1.15-.85.85-1.15.85 1.15 1.15.85-1.15.85-.85 1.15-.85-1.15zM605.77 273.88m-2 0 1.15-.85.85-1.15.85 1.15 1.15.85-1.15.85-.85 1.15-.85-1.15zM610.50 273.88m-2 0 1.15-.85.85-1.15.85 1.15 1.15.85-1.15.85-.85 1.15-.85-1.15zM615.22 273.88m-2 0 1.15-.85.85-1.15.85 1.15 1.15.85-1.15.85-.85 1.15-.85-1.15zM619.95 273.88m-2 0 1.15-.85.85-1.15.85 1.15 1.15.85-1.15.85-.85 1.15-.85-1.15zM624.68 273.88m-2 0 1.15-.85.85-1.15.85 1.15 1.15.85-1.15.85-.85 1.15-.85-1.15zM629.40 273.88m-2 0 1.15-.85.85-1.15.85 1.15 1.15.85-1.15.85-.85 1.15-.85-1.15zM634.13 273.88m-2 0 1.15-.85.85-1.15.85 1.15 1.15.85-1.15.85-.85 1.15-.85-1.15zM638.86 273.88m-2 0 1.15-.85.85-1.15.85 1.15 1.15.85-1.15.85-.85 1.15-.85-1.15zM643.58 273.88m-2 0 1.15-.85.85-1.15.85 1.15 1.15.85-1.15.85-.85 1.15-.85-1.15zM648.31 273.88m-2 0 1.15-.85.85-1.15.85 1.15 1.15.85-1.15.85-.85 1.15-.85-1.15zM653.04 273.88m-2 0 1.15-.85.85-1.15.85 1.15 1.15.85-1.15.85-.85 1.15-.85-1.15zM657.77 273.88m-2 0 1.15-.85.85-1.15.85 1.15 1.15.85-1.15.85-.85 1.15-.85-1.15zM662.49 273.88m-2 0 1.15-.85.85-1.15.85 1.15 1.15.85-1.15.85-.85 1.15-.85-1.15zM667.22 273.88m-2 0 1.15-.85.85-1.15.85 1.15 1.15.85-1.15.85-.85 1.15-.85-1.15zM671.95 273.88m-2 0 1.15-.85.85-1.15.85 1.15 1.15.85-1.15.85-.85 1.15-.85-1.15zM676.67 273.88m-2 0 1.15-.85.85-1.15.85 1.15 1.15.85-1.15.85-.85 1.15-.85-1.15zM690.85 273.88m-2 0 1.15-.85.85-1.15.85 1.15 1.15.85-1.15.85-.85 1.15-.85-1.15zM714.49 273.88m-2 0 1.15-.85.85-1.15.85 1.15 1.15.85-1.15.85-.85 1.15-.85-1.15zM284.33 278.62m-2 0 1.15-.85.85-1.15.85 1.15 1.15.85-1.15.85-.85 1.15-.85-1.15zM289.06 278.62m-2 0 1.15-.85.85-1.15.85 1.15 1.15.85-1.15.85-.85 1.15-.85-1.15zM293.79 278.62m-2 0 1.15-.85.85-1.15.85 1.15 1.15.85-1.15.85-.85 1.15-.85-1.15zM298.51 278.62m-2 0 1.15-.85.85-1.15.85 1.15 1.15.85-1.15.85-.85 1.15-.85-1.15zM303.24 278.62m-2 0 1.15-.85.85-1.15.85 1.15 1.15.85-1.15.85-.85 1.15-.85-1.15zM307.97 278.62m-2 0 1.15-.85.85-1.15.85 1.15 1.15.85-1.15.85-.85 1.15-.85-1.15zM312.69 278.62m-2 0 1.15-.85.85-1.15.85 1.15 1.15.85-1.15.85-.85 1.15-.85-1.15zM317.42 278.62m-2 0 1.15-.85.85-1.15.85 1.15 1.15.85-1.15.85-.85 1.15-.85-1.15zM322.15 278.62m-2 0 1.15-.85.85-1.15.85 1.15 1.15.85-1.15.85-.85 1.15-.85-1.15zM326.88 278.62m-2 0 1.15-.85.85-1.15.85 1.15 1.15.85-1.15.85-.85 1.15-.85-1.15zM331.60 278.62m-2 0 1.15-.85.85-1.15.85 1.15 1.15.85-1.15.85-.85 1.15-.85-1.15zM336.33 278.62m-2 0 1.15-.85.85-1.15.85 1.15 1.15.85-1.15.85-.85 1.15-.85-1.15zM341.06 278.62m-2 0 1.15-.85.85-1.15.85 1.15 1.15.85-1.15.85-.85 1.15-.85-1.15zM345.78 278.62m-2 0 1.15-.85.85-1.15.85 1.15 1.15.85-1.15.85-.85 1.15-.85-1.15zM350.51 278.62m-2 0 1.15-.85.85-1.15.85 1.15 1.15.85-1.15.85-.85 1.15-.85-1.15zM355.24 278.62m-2 0 1.15-.85.85-1.15.85 1.15 1.15.85-1.15.85-.85 1.15-.85-1.15zM492.32 278.62m-2 0 1.15-.85.85-1.15.85 1.15 1.15.85-1.15.85-.85 1.15-.85-1.15zM497.05 278.62m-2 0 1.15-.85.85-1.15.85 1.15 1.15.85-1.15.85-.85 1.15-.85-1.15zM506.50 278.62m-2 0 1.15-.85.85-1.15.85 1.15 1.15.85-1.15.85-.85 1.15-.85-1.15zM520.68 278.62m-2 0 1.15-.85.85-1.15.85 1.15 1.15.85-1.15.85-.85 1.15-.85-1.15zM534.86 278.62m-2 0 1.15-.85.85-1.15.85 1.15 1.15.85-1.15.85-.85 1.15-.85-1.15zM544.32 278.62m-2 0 1.15-.85.85-1.15.85 1.15 1.15.85-1.15.85-.85 1.15-.85-1.15zM549.04 278.62m-2 0 1.15-.85.85-1.15.85 1.15 1.15.85-1.15.85-.85 1.15-.85-1.15zM553.77 278.62m-2 0 1.15-.85.85-1.15.85 1.15 1.15.85-1.15.85-.85 1.15-.85-1.15zM558.50 278.62m-2 0 1.15-.85.85-1.15.85 1.15 1.15.85-1.15.85-.85 1.15-.85-1.15zM563.23 278.62m-2 0 1.15-.85.85-1.15.85 1.15 1.15.85-1.15.85-.85 1.15-.85-1.15zM572.68 278.62m-2 0 1.15-.85.85-1.15.85 1.15 1.15.85-1.15.85-.85 1.15-.85-1.15zM577.41 278.62m-2 0 1.15-.85.85-1.15.85 1.15 1.15.85-1.15.85-.85 1.15-.85-1.15zM582.13 278.62m-2 0 1.15-.85.85-1.15.85 1.15 1.15.85-1.15.85-.85 1.15-.85-1.15zM586.86 278.62m-2 0 1.15-.85.85-1.15.85 1.15 1.15.85-1.15.85-.85 1.15-.85-1.15zM591.59 278.62m-2 0 1.15-.85.85-1.15.85 1.15 1.15.85-1.15.85-.85 1.15-.85-1.15zM596.31 278.62m-2 0 1.15-.85.85-1.15.85 1.15 1.15.85-1.15.85-.85 1.15-.85-1.15zM601.04 278.62m-2 0 1.15-.85.85-1.15.85 1.15 1.15.85-1.15.85-.85 1.15-.85-1.15zM605.77 278.62m-2 0 1.15-.85.85-1.15.85 1.15 1.15.85-1.15.85-.85 1.15-.85-1.15zM610.50 278.62m-2 0 1.15-.85.85-1.15.85 1.15 1.15.85-1.15.85-.85 1.15-.85-1.15zM615.22 278.62m-2 0 1.15-.85.85-1.15.85 1.15 1.15.85-1.15.85-.85 1.15-.85-1.15zM619.95 278.62m-2 0 1.15-.85.85-1.15.85 1.15 1.15.85-1.15.85-.85 1.15-.85-1.15zM624.68 278.62m-2 0 1.15-.85.85-1.15.85 1.15 1.15.85-1.15.85-.85 1.15-.85-1.15zM629.40 278.62m-2 0 1.15-.85.85-1.15.85 1.15 1.15.85-1.15.85-.85 1.15-.85-1.15zM634.13 278.62m-2 0 1.15-.85.85-1.15.85 1.15 1.15.85-1.15.85-.85 1.15-.85-1.15zM638.86 278.62m-2 0 1.15-.85.85-1.15.85 1.15 1.15.85-1.15.85-.85 1.15-.85-1.15zM643.58 278.62m-2 0 1.15-.85.85-1.15.85 1.15 1.15.85-1.15.85-.85 1.15-.85-1.15zM648.31 278.62m-2 0 1.15-.85.85-1.15.85 1.15 1.15.85-1.15.85-.85 1.15-.85-1.15zM653.04 278.62m-2 0 1.15-.85.85-1.15.85 1.15 1.15.85-1.15.85-.85 1.15-.85-1.15zM657.77 278.62m-2 0 1.15-.85.85-1.15.85 1.15 1.15.85-1.15.85-.85 1.15-.85-1.15zM662.49 278.62m-2 0 1.15-.85.85-1.15.85 1.15 1.15.85-1.15.85-.85 1.15-.85-1.15zM667.22 278.62m-2 0 1.15-.85.85-1.15.85 1.15 1.15.85-1.15.85-.85 1.15-.85-1.15zM671.95 278.62m-2 0 1.15-.85.85-1.15.85 1.15 1.15.85-1.15.85-.85 1.15-.85-1.15zM676.67 278.62m-2 0 1.15-.85.85-1.15.85 1.15 1.15.85-1.15.85-.85 1.15-.85-1.15zM681.40 278.62m-2 0 1.15-.85.85-1.15.85 1.15 1.15.85-1.15.85-.85 1.15-.85-1.15zM690.85 278.62m-2 0 1.15-.85.85-1.15.85 1.15 1.15.85-1.15.85-.85 1.15-.85-1.15zM705.04 278.62m-2 0 1.15-.85.85-1.15.85 1.15 1.15.85-1.15.85-.85 1.15-.85-1.15zM709.76 278.62m-2 0 1.15-.85.85-1.15.85 1.15 1.15.85-1.15.85-.85 1.15-.85-1.15zM293.79 283.36m-2 0 1.15-.85.85-1.15.85 1.15 1.15.85-1.15.85-.85 1.15-.85-1.15zM298.51 283.36m-2 0 1.15-.85.85-1.15.85 1.15 1.15.85-1.15.85-.85 1.15-.85-1.15zM303.24 283.36m-2 0 1.15-.85.85-1.15.85 1.15 1.15.85-1.15.85-.85 1.15-.85-1.15zM307.97 283.36m-2 0 1.15-.85.85-1.15.85 1.15 1.15.85-1.15.85-.85 1.15-.85-1.15zM312.69 283.36m-2 0 1.15-.85.85-1.15.85 1.15 1.15.85-1.15.85-.85 1.15-.85-1.15zM317.42 283.36m-2 0 1.15-.85.85-1.15.85 1.15 1.15.85-1.15.85-.85 1.15-.85-1.15zM322.15 283.36m-2 0 1.15-.85.85-1.15.85 1.15 1.15.85-1.15.85-.85 1.15-.85-1.15zM326.88 283.36m-2 0 1.15-.85.85-1.15.85 1.15 1.15.85-1.15.85-.85 1.15-.85-1.15zM331.60 283.36m-2 0 1.15-.85.85-1.15.85 1.15 1.15.85-1.15.85-.85 1.15-.85-1.15zM336.33 283.36m-2 0 1.15-.85.85-1.15.85 1.15 1.15.85-1.15.85-.85 1.15-.85-1.15zM341.06 283.36m-2 0 1.15-.85.85-1.15.85 1.15 1.15.85-1.15.85-.85 1.15-.85-1.15zM345.78 283.36m-2 0 1.15-.85.85-1.15.85 1.15 1.15.85-1.15.85-.85 1.15-.85-1.15zM350.51 283.36m-2 0 1.15-.85.85-1.15.85 1.15 1.15.85-1.15.85-.85 1.15-.85-1.15zM473.41 283.36m-2 0 1.15-.85.85-1.15.85 1.15 1.15.85-1.15.85-.85 1.15-.85-1.15zM478.14 283.36m-2 0 1.15-.85.85-1.15.85 1.15 1.15.85-1.15.85-.85 1.15-.85-1.15zM482.87 283.36m-2 0 1.15-.85.85-1.15.85 1.15 1.15.85-1.15.85-.85 1.15-.85-1.15zM487.59 283.36m-2 0 1.15-.85.85-1.15.85 1.15 1.15.85-1.15.85-.85 1.15-.85-1.15zM492.32 283.36m-2 0 1.15-.85.85-1.15.85 1.15 1.15.85-1.15.85-.85 1.15-.85-1.15zM497.05 283.36m-2 0 1.15-.85.85-1.15.85 1.15 1.15.85-1.15.85-.85 1.15-.85-1.15zM544.32 283.36m-2 0 1.15-.85.85-1.15.85 1.15 1.15.85-1.15.85-.85 1.15-.85-1.15zM549.04 283.36m-2 0 1.15-.85.85-1.15.85 1.15 1.15.85-1.15.85-.85 1.15-.85-1.15zM553.77 283.36m-2 0 1.15-.85.85-1.15.85 1.15 1.15.85-1.15.85-.85 1.15-.85-1.15zM558.50 283.36m-2 0 1.15-.85.85-1.15.85 1.15 1.15.85-1.15.85-.85 1.15-.85-1.15zM563.23 283.36m-2 0 1.15-.85.85-1.15.85 1.15 1.15.85-1.15.85-.85 1.15-.85-1.15zM567.95 283.36m-2 0 1.15-.85.85-1.15.85 1.15 1.15.85-1.15.85-.85 1.15-.85-1.15zM572.68 283.36m-2 0 1.15-.85.85-1.15.85 1.15 1.15.85-1.15.85-.85 1.15-.85-1.15zM577.41 283.36m-2 0 1.15-.85.85-1.15.85 1.15 1.15.85-1.15.85-.85 1.15-.85-1.15zM582.13 283.36m-2 0 1.15-.85.85-1.15.85 1.15 1.15.85-1.15.85-.85 1.15-.85-1.15zM586.86 283.36m-2 0 1.15-.85.85-1.15.85 1.15 1.15.85-1.15.85-.85 1.15-.85-1.15zM591.59 283.36m-2 0 1.15-.85.85-1.15.85 1.15 1.15.85-1.15.85-.85 1.15-.85-1.15zM596.31 283.36m-2 0 1.15-.85.85-1.15.85 1.15 1.15.85-1.15.85-.85 1.15-.85-1.15zM601.04 283.36m-2 0 1.15-.85.85-1.15.85 1.15 1.15.85-1.15.85-.85 1.15-.85-1.15zM605.77 283.36m-2 0 1.15-.85.85-1.15.85 1.15 1.15.85-1.15.85-.85 1.15-.85-1.15zM610.50 283.36m-2 0 1.15-.85.85-1.15.85 1.15 1.15.85-1.15.85-.85 1.15-.85-1.15zM615.22 283.36m-2 0 1.15-.85.85-1.15.85 1.15 1.15.85-1.15.85-.85 1.15-.85-1.15zM619.95 283.36m-2 0 1.15-.85.85-1.15.85 1.15 1.15.85-1.15.85-.85 1.15-.85-1.15zM624.68 283.36m-2 0 1.15-.85.85-1.15.85 1.15 1.15.85-1.15.85-.85 1.15-.85-1.15zM629.40 283.36m-2 0 1.15-.85.85-1.15.85 1.15 1.15.85-1.15.85-.85 1.15-.85-1.15zM634.13 283.36m-2 0 1.15-.85.85-1.15.85 1.15 1.15.85-1.15.85-.85 1.15-.85-1.15zM638.86 283.36m-2 0 1.15-.85.85-1.15.85 1.15 1.15.85-1.15.85-.85 1.15-.85-1.15zM643.58 283.36m-2 0 1.15-.85.85-1.15.85 1.15 1.15.85-1.15.85-.85 1.15-.85-1.15zM648.31 283.36m-2 0 1.15-.85.85-1.15.85 1.15 1.15.85-1.15.85-.85 1.15-.85-1.15zM653.04 283.36m-2 0 1.15-.85.85-1.15.85 1.15 1.15.85-1.15.85-.85 1.15-.85-1.15zM657.77 283.36m-2 0 1.15-.85.85-1.15.85 1.15 1.15.85-1.15.85-.85 1.15-.85-1.15zM662.49 283.36m-2 0 1.15-.85.85-1.15.85 1.15 1.15.85-1.15.85-.85 1.15-.85-1.15zM667.22 283.36m-2 0 1.15-.85.85-1.15.85 1.15 1.15.85-1.15.85-.85 1.15-.85-1.15zM671.95 283.36m-2 0 1.15-.85.85-1.15.85 1.15 1.15.85-1.15.85-.85 1.15-.85-1.15zM676.67 283.36m-2 0 1.15-.85.85-1.15.85 1.15 1.15.85-1.15.85-.85 1.15-.85-1.15zM700.31 283.36m-2 0 1.15-.85.85-1.15.85 1.15 1.15.85-1.15.85-.85 1.15-.85-1.15zM705.04 283.36m-2 0 1.15-.85.85-1.15.85 1.15 1.15.85-1.15.85-.85 1.15-.85-1.15zM293.79 288.10m-2 0 1.15-.85.85-1.15.85 1.15 1.15.85-1.15.85-.85 1.15-.85-1.15zM298.51 288.10m-2 0 1.15-.85.85-1.15.85 1.15 1.15.85-1.15.85-.85 1.15-.85-1.15zM303.24 288.10m-2 0 1.15-.85.85-1.15.85 1.15 1.15.85-1.15.85-.85 1.15-.85-1.15zM307.97 288.10m-2 0 1.15-.85.85-1.15.85 1.15 1.15.85-1.15.85-.85 1.15-.85-1.15zM312.69 288.10m-2 0 1.15-.85.85-1.15.85 1.15 1.15.85-1.15.85-.85 1.15-.85-1.15zM317.42 288.10m-2 0 1.15-.85.85-1.15.85 1.15 1.15.85-1.15.85-.85 1.15-.85-1.15zM322.15 288.10m-2 0 1.15-.85.85-1.15.85 1.15 1.15.85-1.15.85-.85 1.15-.85-1.15zM326.88 288.10m-2 0 1.15-.85.85-1.15.85 1.15 1.15.85-1.15.85-.85 1.15-.85-1.15zM331.60 288.10m-2 0 1.15-.85.85-1.15.85 1.15 1.15.85-1.15.85-.85 1.15-.85-1.15zM336.33 288.10m-2 0 1.15-.85.85-1.15.85 1.15 1.15.85-1.15.85-.85 1.15-.85-1.15zM341.06 288.10m-2 0 1.15-.85.85-1.15.85 1.15 1.15.85-1.15.85-.85 1.15-.85-1.15zM345.78 288.10m-2 0 1.15-.85.85-1.15.85 1.15 1.15.85-1.15.85-.85 1.15-.85-1.15zM468.69 288.10m-2 0 1.15-.85.85-1.15.85 1.15 1.15.85-1.15.85-.85 1.15-.85-1.15zM473.41 288.10m-2 0 1.15-.85.85-1.15.85 1.15 1.15.85-1.15.85-.85 1.15-.85-1.15zM478.14 288.10m-2 0 1.15-.85.85-1.15.85 1.15 1.15.85-1.15.85-.85 1.15-.85-1.15zM482.87 288.10m-2 0 1.15-.85.85-1.15.85 1.15 1.15.85-1.15.85-.85 1.15-.85-1.15zM487.59 288.10m-2 0 1.15-.85.85-1.15.85 1.15 1.15.85-1.15.85-.85 1.15-.85-1.15zM492.32 288.10m-2 0 1.15-.85.85-1.15.85 1.15 1.15.85-1.15.85-.85 1.15-.85-1.15zM497.05 288.10m-2 0 1.15-.85.85-1.15.85 1.15 1.15.85-1.15.85-.85 1.15-.85-1.15zM501.77 288.10m-2 0 1.15-.85.85-1.15.85 1.15 1.15.85-1.15.85-.85 1.15-.85-1.15zM506.50 288.10m-2 0 1.15-.85.85-1.15.85 1.15 1.15.85-1.15.85-.85 1.15-.85-1.15zM515.95 288.10m-2 0 1.15-.85.85-1.15.85 1.15 1.15.85-1.15.85-.85 1.15-.85-1.15zM520.68 288.10m-2 0 1.15-.85.85-1.15.85 1.15 1.15.85-1.15.85-.85 1.15-.85-1.15zM539.59 288.10m-2 0 1.15-.85.85-1.15.85 1.15 1.15.85-1.15.85-.85 1.15-.85-1.15zM544.32 288.10m-2 0 1.15-.85.85-1.15.85 1.15 1.15.85-1.15.85-.85 1.15-.85-1.15zM549.04 288.10m-2 0 1.15-.85.85-1.15.85 1.15 1.15.85-1.15.85-.85 1.15-.85-1.15zM553.77 288.10m-2 0 1.15-.85.85-1.15.85 1.15 1.15.85-1.15.85-.85 1.15-.85-1.15zM558.50 288.10m-2 0 1.15-.85.85-1.15.85 1.15 1.15.85-1.15.85-.85 1.15-.85-1.15zM563.23 288.10m-2 0 1.15-.85.85-1.15.85 1.15 1.15.85-1.15.85-.85 1.15-.85-1.15zM567.95 288.10m-2 0 1.15-.85.85-1.15.85 1.15 1.15.85-1.15.85-.85 1.15-.85-1.15zM572.68 288.10m-2 0 1.15-.85.85-1.15.85 1.15 1.15.85-1.15.85-.85 1.15-.85-1.15zM577.41 288.10m-2 0 1.15-.85.85-1.15.85 1.15 1.15.85-1.15.85-.85 1.15-.85-1.15zM582.13 288.10m-2 0 1.15-.85.85-1.15.85 1.15 1.15.85-1.15.85-.85 1.15-.85-1.15zM586.86 288.10m-2 0 1.15-.85.85-1.15.85 1.15 1.15.85-1.15.85-.85 1.15-.85-1.15zM591.59 288.10m-2 0 1.15-.85.85-1.15.85 1.15 1.15.85-1.15.85-.85 1.15-.85-1.15zM596.31 288.10m-2 0 1.15-.85.85-1.15.85 1.15 1.15.85-1.15.85-.85 1.15-.85-1.15zM601.04 288.10m-2 0 1.15-.85.85-1.15.85 1.15 1.15.85-1.15.85-.85 1.15-.85-1.15zM605.77 288.10m-2 0 1.15-.85.85-1.15.85 1.15 1.15.85-1.15.85-.85 1.15-.85-1.15zM610.50 288.10m-2 0 1.15-.85.85-1.15.85 1.15 1.15.85-1.15.85-.85 1.15-.85-1.15zM615.22 288.10m-2 0 1.15-.85.85-1.15.85 1.15 1.15.85-1.15.85-.85 1.15-.85-1.15zM619.95 288.10m-2 0 1.15-.85.85-1.15.85 1.15 1.15.85-1.15.85-.85 1.15-.85-1.15zM624.68 288.10m-2 0 1.15-.85.85-1.15.85 1.15 1.15.85-1.15.85-.85 1.15-.85-1.15zM629.40 288.10m-2 0 1.15-.85.85-1.15.85 1.15 1.15.85-1.15.85-.85 1.15-.85-1.15zM634.13 288.10m-2 0 1.15-.85.85-1.15.85 1.15 1.15.85-1.15.85-.85 1.15-.85-1.15zM638.86 288.10m-2 0 1.15-.85.85-1.15.85 1.15 1.15.85-1.15.85-.85 1.15-.85-1.15zM643.58 288.10m-2 0 1.15-.85.85-1.15.85 1.15 1.15.85-1.15.85-.85 1.15-.85-1.15zM648.31 288.10m-2 0 1.15-.85.85-1.15.85 1.15 1.15.85-1.15.85-.85 1.15-.85-1.15zM653.04 288.10m-2 0 1.15-.85.85-1.15.85 1.15 1.15.85-1.15.85-.85 1.15-.85-1.15zM657.77 288.10m-2 0 1.15-.85.85-1.15.85 1.15 1.15.85-1.15.85-.85 1.15-.85-1.15zM662.49 288.10m-2 0 1.15-.85.85-1.15.85 1.15 1.15.85-1.15.85-.85 1.15-.85-1.15zM667.22 288.10m-2 0 1.15-.85.85-1.15.85 1.15 1.15.85-1.15.85-.85 1.15-.85-1.15zM671.95 288.10m-2 0 1.15-.85.85-1.15.85 1.15 1.15.85-1.15.85-.85 1.15-.85-1.15zM676.67 288.10m-2 0 1.15-.85.85-1.15.85 1.15 1.15.85-1.15.85-.85 1.15-.85-1.15zM681.40 288.10m-2 0 1.15-.85.85-1.15.85 1.15 1.15.85-1.15.85-.85 1.15-.85-1.15zM695.58 288.10m-2 0 1.15-.85.85-1.15.85 1.15 1.15.85-1.15.85-.85 1.15-.85-1.15zM293.79 292.85m-2 0 1.15-.85.85-1.15.85 1.15 1.15.85-1.15.85-.85 1.15-.85-1.15zM298.51 292.85m-2 0 1.15-.85.85-1.15.85 1.15 1.15.85-1.15.85-.85 1.15-.85-1.15zM303.24 292.85m-2 0 1.15-.85.85-1.15.85 1.15 1.15.85-1.15.85-.85 1.15-.85-1.15zM307.97 292.85m-2 0 1.15-.85.85-1.15.85 1.15 1.15.85-1.15.85-.85 1.15-.85-1.15zM312.69 292.85m-2 0 1.15-.85.85-1.15.85 1.15 1.15.85-1.15.85-.85 1.15-.85-1.15zM317.42 292.85m-2 0 1.15-.85.85-1.15.85 1.15 1.15.85-1.15.85-.85 1.15-.85-1.15zM322.15 292.85m-2 0 1.15-.85.85-1.15.85 1.15 1.15.85-1.15.85-.85 1.15-.85-1.15zM326.88 292.85m-2 0 1.15-.85.85-1.15.85 1.15 1.15.85-1.15.85-.85 1.15-.85-1.15zM336.33 292.85m-2 0 1.15-.85.85-1.15.85 1.15 1.15.85-1.15.85-.85 1.15-.85-1.15zM345.78 292.85m-2 0 1.15-.85.85-1.15.85 1.15 1.15.85-1.15.85-.85 1.15-.85-1.15zM468.69 292.85m-2 0 1.15-.85.85-1.15.85 1.15 1.15.85-1.15.85-.85 1.15-.85-1.15zM473.41 292.85m-2 0 1.15-.85.85-1.15.85 1.15 1.15.85-1.15.85-.85 1.15-.85-1.15zM478.14 292.85m-2 0 1.15-.85.85-1.15.85 1.15 1.15.85-1.15.85-.85 1.15-.85-1.15zM482.87 292.85m-2 0 1.15-.85.85-1.15.85 1.15 1.15.85-1.15.85-.85 1.15-.85-1.15zM487.59 292.85m-2 0 1.15-.85.85-1.15.85 1.15 1.15.85-1.15.85-.85 1.15-.85-1.15zM492.32 292.85m-2 0 1.15-.85.85-1.15.85 1.15 1.15.85-1.15.85-.85 1.15-.85-1.15zM497.05 292.85m-2 0 1.15-.85.85-1.15.85 1.15 1.15.85-1.15.85-.85 1.15-.85-1.15zM501.77 292.85m-2 0 1.15-.85.85-1.15.85 1.15 1.15.85-1.15.85-.85 1.15-.85-1.15zM506.50 292.85m-2 0 1.15-.85.85-1.15.85 1.15 1.15.85-1.15.85-.85 1.15-.85-1.15zM511.23 292.85m-2 0 1.15-.85.85-1.15.85 1.15 1.15.85-1.15.85-.85 1.15-.85-1.15zM515.95 292.85m-2 0 1.15-.85.85-1.15.85 1.15 1.15.85-1.15.85-.85 1.15-.85-1.15zM520.68 292.85m-2 0 1.15-.85.85-1.15.85 1.15 1.15.85-1.15.85-.85 1.15-.85-1.15zM525.41 292.85m-2 0 1.15-.85.85-1.15.85 1.15 1.15.85-1.15.85-.85 1.15-.85-1.15zM530.14 292.85m-2 0 1.15-.85.85-1.15.85 1.15 1.15.85-1.15.85-.85 1.15-.85-1.15zM534.86 292.85m-2 0 1.15-.85.85-1.15.85 1.15 1.15.85-1.15.85-.85 1.15-.85-1.15zM539.59 292.85m-2 0 1.15-.85.85-1.15.85 1.15 1.15.85-1.15.85-.85 1.15-.85-1.15zM544.32 292.85m-2 0 1.15-.85.85-1.15.85 1.15 1.15.85-1.15.85-.85 1.15-.85-1.15zM549.04 292.85m-2 0 1.15-.85.85-1.15.85 1.15 1.15.85-1.15.85-.85 1.15-.85-1.15zM553.77 292.85m-2 0 1.15-.85.85-1.15.85 1.15 1.15.85-1.15.85-.85 1.15-.85-1.15zM558.50 292.85m-2 0 1.15-.85.85-1.15.85 1.15 1.15.85-1.15.85-.85 1.15-.85-1.15zM563.23 292.85m-2 0 1.15-.85.85-1.15.85 1.15 1.15.85-1.15.85-.85 1.15-.85-1.15zM567.95 292.85m-2 0 1.15-.85.85-1.15.85 1.15 1.15.85-1.15.85-.85 1.15-.85-1.15zM572.68 292.85m-2 0 1.15-.85.85-1.15.85 1.15 1.15.85-1.15.85-.85 1.15-.85-1.15zM577.41 292.85m-2 0 1.15-.85.85-1.15.85 1.15 1.15.85-1.15.85-.85 1.15-.85-1.15zM582.13 292.85m-2 0 1.15-.85.85-1.15.85 1.15 1.15.85-1.15.85-.85 1.15-.85-1.15zM586.86 292.85m-2 0 1.15-.85.85-1.15.85 1.15 1.15.85-1.15.85-.85 1.15-.85-1.15zM591.59 292.85m-2 0 1.15-.85.85-1.15.85 1.15 1.15.85-1.15.85-.85 1.15-.85-1.15zM596.31 292.85m-2 0 1.15-.85.85-1.15.85 1.15 1.15.85-1.15.85-.85 1.15-.85-1.15zM601.04 292.85m-2 0 1.15-.85.85-1.15.85 1.15 1.15.85-1.15.85-.85 1.15-.85-1.15zM605.77 292.85m-2 0 1.15-.85.85-1.15.85 1.15 1.15.85-1.15.85-.85 1.15-.85-1.15zM610.50 292.85m-2 0 1.15-.85.85-1.15.85 1.15 1.15.85-1.15.85-.85 1.15-.85-1.15zM615.22 292.85m-2 0 1.15-.85.85-1.15.85 1.15 1.15.85-1.15.85-.85 1.15-.85-1.15zM619.95 292.85m-2 0 1.15-.85.85-1.15.85 1.15 1.15.85-1.15.85-.85 1.15-.85-1.15zM624.68 292.85m-2 0 1.15-.85.85-1.15.85 1.15 1.15.85-1.15.85-.85 1.15-.85-1.15zM629.40 292.85m-2 0 1.15-.85.85-1.15.85 1.15 1.15.85-1.15.85-.85 1.15-.85-1.15zM634.13 292.85m-2 0 1.15-.85.85-1.15.85 1.15 1.15.85-1.15.85-.85 1.15-.85-1.15zM638.86 292.85m-2 0 1.15-.85.85-1.15.85 1.15 1.15.85-1.15.85-.85 1.15-.85-1.15zM643.58 292.85m-2 0 1.15-.85.85-1.15.85 1.15 1.15.85-1.15.85-.85 1.15-.85-1.15zM648.31 292.85m-2 0 1.15-.85.85-1.15.85 1.15 1.15.85-1.15.85-.85 1.15-.85-1.15zM653.04 292.85m-2 0 1.15-.85.85-1.15.85 1.15 1.15.85-1.15.85-.85 1.15-.85-1.15zM657.77 292.85m-2 0 1.15-.85.85-1.15.85 1.15 1.15.85-1.15.85-.85 1.15-.85-1.15zM662.49 292.85m-2 0 1.15-.85.85-1.15.85 1.15 1.15.85-1.15.85-.85 1.15-.85-1.15zM667.22 292.85m-2 0 1.15-.85.85-1.15.85 1.15 1.15.85-1.15.85-.85 1.15-.85-1.15zM671.95 292.85m-2 0 1.15-.85.85-1.15.85 1.15 1.15.85-1.15.85-.85 1.15-.85-1.15zM676.67 292.85m-2 0 1.15-.85.85-1.15.85 1.15 1.15.85-1.15.85-.85 1.15-.85-1.15zM681.40 292.85m-2 0 1.15-.85.85-1.15.85 1.15 1.15.85-1.15.85-.85 1.15-.85-1.15zM298.51 297.59m-2 0 1.15-.85.85-1.15.85 1.15 1.15.85-1.15.85-.85 1.15-.85-1.15zM303.24 297.59m-2 0 1.15-.85.85-1.15.85 1.15 1.15.85-1.15.85-.85 1.15-.85-1.15zM307.97 297.59m-2 0 1.15-.85.85-1.15.85 1.15 1.15.85-1.15.85-.85 1.15-.85-1.15zM312.69 297.59m-2 0 1.15-.85.85-1.15.85 1.15 1.15.85-1.15.85-.85 1.15-.85-1.15zM317.42 297.59m-2 0 1.15-.85.85-1.15.85 1.15 1.15.85-1.15.85-.85 1.15-.85-1.15zM322.15 297.59m-2 0 1.15-.85.85-1.15.85 1.15 1.15.85-1.15.85-.85 1.15-.85-1.15zM350.51 297.59m-2 0 1.15-.85.85-1.15.85 1.15 1.15.85-1.15.85-.85 1.15-.85-1.15zM463.96 297.59m-2 0 1.15-.85.85-1.15.85 1.15 1.15.85-1.15.85-.85 1.15-.85-1.15zM468.69 297.59m-2 0 1.15-.85.85-1.15.85 1.15 1.15.85-1.15.85-.85 1.15-.85-1.15zM473.41 297.59m-2 0 1.15-.85.85-1.15.85 1.15 1.15.85-1.15.85-.85 1.15-.85-1.15zM478.14 297.59m-2 0 1.15-.85.85-1.15.85 1.15 1.15.85-1.15.85-.85 1.15-.85-1.15zM482.87 297.59m-2 0 1.15-.85.85-1.15.85 1.15 1.15.85-1.15.85-.85 1.15-.85-1.15zM487.59 297.59m-2 0 1.15-.85.85-1.15.85 1.15 1.15.85-1.15.85-.85 1.15-.85-1.15zM492.32 297.59m-2 0 1.15-.85.85-1.15.85 1.15 1.15.85-1.15.85-.85 1.15-.85-1.15zM497.05 297.59m-2 0 1.15-.85.85-1.15.85 1.15 1.15.85-1.15.85-.85 1.15-.85-1.15zM501.77 297.59m-2 0 1.15-.85.85-1.15.85 1.15 1.15.85-1.15.85-.85 1.15-.85-1.15zM506.50 297.59m-2 0 1.15-.85.85-1.15.85 1.15 1.15.85-1.15.85-.85 1.15-.85-1.15zM511.23 297.59m-2 0 1.15-.85.85-1.15.85 1.15 1.15.85-1.15.85-.85 1.15-.85-1.15zM515.95 297.59m-2 0 1.15-.85.85-1.15.85 1.15 1.15.85-1.15.85-.85 1.15-.85-1.15zM520.68 297.59m-2 0 1.15-.85.85-1.15.85 1.15 1.15.85-1.15.85-.85 1.15-.85-1.15zM525.41 297.59m-2 0 1.15-.85.85-1.15.85 1.15 1.15.85-1.15.85-.85 1.15-.85-1.15zM530.14 297.59m-2 0 1.15-.85.85-1.15.85 1.15 1.15.85-1.15.85-.85 1.15-.85-1.15zM534.86 297.59m-2 0 1.15-.85.85-1.15.85 1.15 1.15.85-1.15.85-.85 1.15-.85-1.15zM544.32 297.59m-2 0 1.15-.85.85-1.15.85 1.15 1.15.85-1.15.85-.85 1.15-.85-1.15zM549.04 297.59m-2 0 1.15-.85.85-1.15.85 1.15 1.15.85-1.15.85-.85 1.15-.85-1.15zM553.77 297.59m-2 0 1.15-.85.85-1.15.85 1.15 1.15.85-1.15.85-.85 1.15-.85-1.15zM558.50 297.59m-2 0 1.15-.85.85-1.15.85 1.15 1.15.85-1.15.85-.85 1.15-.85-1.15zM563.23 297.59m-2 0 1.15-.85.85-1.15.85 1.15 1.15.85-1.15.85-.85 1.15-.85-1.15zM567.95 297.59m-2 0 1.15-.85.85-1.15.85 1.15 1.15.85-1.15.85-.85 1.15-.85-1.15zM572.68 297.59m-2 0 1.15-.85.85-1.15.85 1.15 1.15.85-1.15.85-.85 1.15-.85-1.15zM577.41 297.59m-2 0 1.15-.85.85-1.15.85 1.15 1.15.85-1.15.85-.85 1.15-.85-1.15zM582.13 297.59m-2 0 1.15-.85.85-1.15.85 1.15 1.15.85-1.15.85-.85 1.15-.85-1.15zM586.86 297.59m-2 0 1.15-.85.85-1.15.85 1.15 1.15.85-1.15.85-.85 1.15-.85-1.15zM591.59 297.59m-2 0 1.15-.85.85-1.15.85 1.15 1.15.85-1.15.85-.85 1.15-.85-1.15zM596.31 297.59m-2 0 1.15-.85.85-1.15.85 1.15 1.15.85-1.15.85-.85 1.15-.85-1.15zM601.04 297.59m-2 0 1.15-.85.85-1.15.85 1.15 1.15.85-1.15.85-.85 1.15-.85-1.15zM605.77 297.59m-2 0 1.15-.85.85-1.15.85 1.15 1.15.85-1.15.85-.85 1.15-.85-1.15zM610.50 297.59m-2 0 1.15-.85.85-1.15.85 1.15 1.15.85-1.15.85-.85 1.15-.85-1.15zM615.22 297.59m-2 0 1.15-.85.85-1.15.85 1.15 1.15.85-1.15.85-.85 1.15-.85-1.15zM619.95 297.59m-2 0 1.15-.85.85-1.15.85 1.15 1.15.85-1.15.85-.85 1.15-.85-1.15zM624.68 297.59m-2 0 1.15-.85.85-1.15.85 1.15 1.15.85-1.15.85-.85 1.15-.85-1.15zM629.40 297.59m-2 0 1.15-.85.85-1.15.85 1.15 1.15.85-1.15.85-.85 1.15-.85-1.15zM634.13 297.59m-2 0 1.15-.85.85-1.15.85 1.15 1.15.85-1.15.85-.85 1.15-.85-1.15zM638.86 297.59m-2 0 1.15-.85.85-1.15.85 1.15 1.15.85-1.15.85-.85 1.15-.85-1.15zM643.58 297.59m-2 0 1.15-.85.85-1.15.85 1.15 1.15.85-1.15.85-.85 1.15-.85-1.15zM648.31 297.59m-2 0 1.15-.85.85-1.15.85 1.15 1.15.85-1.15.85-.85 1.15-.85-1.15zM653.04 297.59m-2 0 1.15-.85.85-1.15.85 1.15 1.15.85-1.15.85-.85 1.15-.85-1.15zM657.77 297.59m-2 0 1.15-.85.85-1.15.85 1.15 1.15.85-1.15.85-.85 1.15-.85-1.15zM662.49 297.59m-2 0 1.15-.85.85-1.15.85 1.15 1.15.85-1.15.85-.85 1.15-.85-1.15zM667.22 297.59m-2 0 1.15-.85.85-1.15.85 1.15 1.15.85-1.15.85-.85 1.15-.85-1.15zM671.95 297.59m-2 0 1.15-.85.85-1.15.85 1.15 1.15.85-1.15.85-.85 1.15-.85-1.15zM676.67 297.59m-2 0 1.15-.85.85-1.15.85 1.15 1.15.85-1.15.85-.85 1.15-.85-1.15zM303.24 302.33m-2 0 1.15-.85.85-1.15.85 1.15 1.15.85-1.15.85-.85 1.15-.85-1.15zM307.97 302.33m-2 0 1.15-.85.85-1.15.85 1.15 1.15.85-1.15.85-.85 1.15-.85-1.15zM312.69 302.33m-2 0 1.15-.85.85-1.15.85 1.15 1.15.85-1.15.85-.85 1.15-.85-1.15zM317.42 302.33m-2 0 1.15-.85.85-1.15.85 1.15 1.15.85-1.15.85-.85 1.15-.85-1.15zM459.23 302.33m-2 0 1.15-.85.85-1.15.85 1.15 1.15.85-1.15.85-.85 1.15-.85-1.15zM463.96 302.33m-2 0 1.15-.85.85-1.15.85 1.15 1.15.85-1.15.85-.85 1.15-.85-1.15zM468.69 302.33m-2 0 1.15-.85.85-1.15.85 1.15 1.15.85-1.15.85-.85 1.15-.85-1.15zM473.41 302.33m-2 0 1.15-.85.85-1.15.85 1.15 1.15.85-1.15.85-.85 1.15-.85-1.15zM478.14 302.33m-2 0 1.15-.85.85-1.15.85 1.15 1.15.85-1.15.85-.85 1.15-.85-1.15zM482.87 302.33m-2 0 1.15-.85.85-1.15.85 1.15 1.15.85-1.15.85-.85 1.15-.85-1.15zM487.59 302.33m-2 0 1.15-.85.85-1.15.85 1.15 1.15.85-1.15.85-.85 1.15-.85-1.15zM492.32 302.33m-2 0 1.15-.85.85-1.15.85 1.15 1.15.85-1.15.85-.85 1.15-.85-1.15zM497.05 302.33m-2 0 1.15-.85.85-1.15.85 1.15 1.15.85-1.15.85-.85 1.15-.85-1.15zM501.77 302.33m-2 0 1.15-.85.85-1.15.85 1.15 1.15.85-1.15.85-.85 1.15-.85-1.15zM506.50 302.33m-2 0 1.15-.85.85-1.15.85 1.15 1.15.85-1.15.85-.85 1.15-.85-1.15zM511.23 302.33m-2 0 1.15-.85.85-1.15.85 1.15 1.15.85-1.15.85-.85 1.15-.85-1.15zM515.95 302.33m-2 0 1.15-.85.85-1.15.85 1.15 1.15.85-1.15.85-.85 1.15-.85-1.15zM520.68 302.33m-2 0 1.15-.85.85-1.15.85 1.15 1.15.85-1.15.85-.85 1.15-.85-1.15zM525.41 302.33m-2 0 1.15-.85.85-1.15.85 1.15 1.15.85-1.15.85-.85 1.15-.85-1.15zM530.14 302.33m-2 0 1.15-.85.85-1.15.85 1.15 1.15.85-1.15.85-.85 1.15-.85-1.15zM534.86 302.33m-2 0 1.15-.85.85-1.15.85 1.15 1.15.85-1.15.85-.85 1.15-.85-1.15zM539.59 302.33m-2 0 1.15-.85.85-1.15.85 1.15 1.15.85-1.15.85-.85 1.15-.85-1.15zM549.04 302.33m-2 0 1.15-.85.85-1.15.85 1.15 1.15.85-1.15.85-.85 1.15-.85-1.15zM553.77 302.33m-2 0 1.15-.85.85-1.15.85 1.15 1.15.85-1.15.85-.85 1.15-.85-1.15zM558.50 302.33m-2 0 1.15-.85.85-1.15.85 1.15 1.15.85-1.15.85-.85 1.15-.85-1.15zM563.23 302.33m-2 0 1.15-.85.85-1.15.85 1.15 1.15.85-1.15.85-.85 1.15-.85-1.15zM567.95 302.33m-2 0 1.15-.85.85-1.15.85 1.15 1.15.85-1.15.85-.85 1.15-.85-1.15zM572.68 302.33m-2 0 1.15-.85.85-1.15.85 1.15 1.15.85-1.15.85-.85 1.15-.85-1.15zM577.41 302.33m-2 0 1.15-.85.85-1.15.85 1.15 1.15.85-1.15.85-.85 1.15-.85-1.15zM582.13 302.33m-2 0 1.15-.85.85-1.15.85 1.15 1.15.85-1.15.85-.85 1.15-.85-1.15zM596.31 302.33m-2 0 1.15-.85.85-1.15.85 1.15 1.15.85-1.15.85-.85 1.15-.85-1.15zM601.04 302.33m-2 0 1.15-.85.85-1.15.85 1.15 1.15.85-1.15.85-.85 1.15-.85-1.15zM605.77 302.33m-2 0 1.15-.85.85-1.15.85 1.15 1.15.85-1.15.85-.85 1.15-.85-1.15zM610.50 302.33m-2 0 1.15-.85.85-1.15.85 1.15 1.15.85-1.15.85-.85 1.15-.85-1.15zM615.22 302.33m-2 0 1.15-.85.85-1.15.85 1.15 1.15.85-1.15.85-.85 1.15-.85-1.15zM619.95 302.33m-2 0 1.15-.85.85-1.15.85 1.15 1.15.85-1.15.85-.85 1.15-.85-1.15zM624.68 302.33m-2 0 1.15-.85.85-1.15.85 1.15 1.15.85-1.15.85-.85 1.15-.85-1.15zM629.40 302.33m-2 0 1.15-.85.85-1.15.85 1.15 1.15.85-1.15.85-.85 1.15-.85-1.15zM634.13 302.33m-2 0 1.15-.85.85-1.15.85 1.15 1.15.85-1.15.85-.85 1.15-.85-1.15zM638.86 302.33m-2 0 1.15-.85.85-1.15.85 1.15 1.15.85-1.15.85-.85 1.15-.85-1.15zM643.58 302.33m-2 0 1.15-.85.85-1.15.85 1.15 1.15.85-1.15.85-.85 1.15-.85-1.15zM648.31 302.33m-2 0 1.15-.85.85-1.15.85 1.15 1.15.85-1.15.85-.85 1.15-.85-1.15zM653.04 302.33m-2 0 1.15-.85.85-1.15.85 1.15 1.15.85-1.15.85-.85 1.15-.85-1.15zM657.77 302.33m-2 0 1.15-.85.85-1.15.85 1.15 1.15.85-1.15.85-.85 1.15-.85-1.15zM662.49 302.33m-2 0 1.15-.85.85-1.15.85 1.15 1.15.85-1.15.85-.85 1.15-.85-1.15zM667.22 302.33m-2 0 1.15-.85.85-1.15.85 1.15 1.15.85-1.15.85-.85 1.15-.85-1.15zM671.95 302.33m-2 0 1.15-.85.85-1.15.85 1.15 1.15.85-1.15.85-.85 1.15-.85-1.15zM681.40 302.33m-2 0 1.15-.85.85-1.15.85 1.15 1.15.85-1.15.85-.85 1.15-.85-1.15zM312.69 307.07m-2 0 1.15-.85.85-1.15.85 1.15 1.15.85-1.15.85-.85 1.15-.85-1.15zM317.42 307.07m-2 0 1.15-.85.85-1.15.85 1.15 1.15.85-1.15.85-.85 1.15-.85-1.15zM322.15 307.07m-2 0 1.15-.85.85-1.15.85 1.15 1.15.85-1.15.85-.85 1.15-.85-1.15zM336.33 307.07m-2 0 1.15-.85.85-1.15.85 1.15 1.15.85-1.15.85-.85 1.15-.85-1.15zM350.51 307.07m-2 0 1.15-.85.85-1.15.85 1.15 1.15.85-1.15.85-.85 1.15-.85-1.15zM355.24 307.07m-2 0 1.15-.85.85-1.15.85 1.15 1.15.85-1.15.85-.85 1.15-.85-1.15zM454.50 307.07m-2 0 1.15-.85.85-1.15.85 1.15 1.15.85-1.15.85-.85 1.15-.85-1.15zM459.23 307.07m-2 0 1.15-.85.85-1.15.85 1.15 1.15.85-1.15.85-.85 1.15-.85-1.15zM463.96 307.07m-2 0 1.15-.85.85-1.15.85 1.15 1.15.85-1.15.85-.85 1.15-.85-1.15zM468.69 307.07m-2 0 1.15-.85.85-1.15.85 1.15 1.15.85-1.15.85-.85 1.15-.85-1.15zM473.41 307.07m-2 0 1.15-.85.85-1.15.85 1.15 1.15.85-1.15.85-.85 1.15-.85-1.15zM478.14 307.07m-2 0 1.15-.85.85-1.15.85 1.15 1.15.85-1.15.85-.85 1.15-.85-1.15zM482.87 307.07m-2 0 1.15-.85.85-1.15.85 1.15 1.15.85-1.15.85-.85 1.15-.85-1.15zM487.59 307.07m-2 0 1.15-.85.85-1.15.85 1.15 1.15.85-1.15.85-.85 1.15-.85-1.15zM492.32 307.07m-2 0 1.15-.85.85-1.15.85 1.15 1.15.85-1.15.85-.85 1.15-.85-1.15zM497.05 307.07m-2 0 1.15-.85.85-1.15.85 1.15 1.15.85-1.15.85-.85 1.15-.85-1.15zM501.77 307.07m-2 0 1.15-.85.85-1.15.85 1.15 1.15.85-1.15.85-.85 1.15-.85-1.15zM506.50 307.07m-2 0 1.15-.85.85-1.15.85 1.15 1.15.85-1.15.85-.85 1.15-.85-1.15zM511.23 307.07m-2 0 1.15-.85.85-1.15.85 1.15 1.15.85-1.15.85-.85 1.15-.85-1.15zM515.95 307.07m-2 0 1.15-.85.85-1.15.85 1.15 1.15.85-1.15.85-.85 1.15-.85-1.15zM520.68 307.07m-2 0 1.15-.85.85-1.15.85 1.15 1.15.85-1.15.85-.85 1.15-.85-1.15zM525.41 307.07m-2 0 1.15-.85.85-1.15.85 1.15 1.15.85-1.15.85-.85 1.15-.85-1.15zM530.14 307.07m-2 0 1.15-.85.85-1.15.85 1.15 1.15.85-1.15.85-.85 1.15-.85-1.15zM534.86 307.07m-2 0 1.15-.85.85-1.15.85 1.15 1.15.85-1.15.85-.85 1.15-.85-1.15zM539.59 307.07m-2 0 1.15-.85.85-1.15.85 1.15 1.15.85-1.15.85-.85 1.15-.85-1.15zM549.04 307.07m-2 0 1.15-.85.85-1.15.85 1.15 1.15.85-1.15.85-.85 1.15-.85-1.15zM553.77 307.07m-2 0 1.15-.85.85-1.15.85 1.15 1.15.85-1.15.85-.85 1.15-.85-1.15zM558.50 307.07m-2 0 1.15-.85.85-1.15.85 1.15 1.15.85-1.15.85-.85 1.15-.85-1.15zM563.23 307.07m-2 0 1.15-.85.85-1.15.85 1.15 1.15.85-1.15.85-.85 1.15-.85-1.15zM567.95 307.07m-2 0 1.15-.85.85-1.15.85 1.15 1.15.85-1.15.85-.85 1.15-.85-1.15zM572.68 307.07m-2 0 1.15-.85.85-1.15.85 1.15 1.15.85-1.15.85-.85 1.15-.85-1.15zM577.41 307.07m-2 0 1.15-.85.85-1.15.85 1.15 1.15.85-1.15.85-.85 1.15-.85-1.15zM596.31 307.07m-2 0 1.15-.85.85-1.15.85 1.15 1.15.85-1.15.85-.85 1.15-.85-1.15zM605.77 307.07m-2 0 1.15-.85.85-1.15.85 1.15 1.15.85-1.15.85-.85 1.15-.85-1.15zM610.50 307.07m-2 0 1.15-.85.85-1.15.85 1.15 1.15.85-1.15.85-.85 1.15-.85-1.15zM615.22 307.07m-2 0 1.15-.85.85-1.15.85 1.15 1.15.85-1.15.85-.85 1.15-.85-1.15zM619.95 307.07m-2 0 1.15-.85.85-1.15.85 1.15 1.15.85-1.15.85-.85 1.15-.85-1.15zM624.68 307.07m-2 0 1.15-.85.85-1.15.85 1.15 1.15.85-1.15.85-.85 1.15-.85-1.15zM634.13 307.07m-2 0 1.15-.85.85-1.15.85 1.15 1.15.85-1.15.85-.85 1.15-.85-1.15zM638.86 307.07m-2 0 1.15-.85.85-1.15.85 1.15 1.15.85-1.15.85-.85 1.15-.85-1.15zM643.58 307.07m-2 0 1.15-.85.85-1.15.85 1.15 1.15.85-1.15.85-.85 1.15-.85-1.15zM648.31 307.07m-2 0 1.15-.85.85-1.15.85 1.15 1.15.85-1.15.85-.85 1.15-.85-1.15zM653.04 307.07m-2 0 1.15-.85.85-1.15.85 1.15 1.15.85-1.15.85-.85 1.15-.85-1.15zM662.49 307.07m-2 0 1.15-.85.85-1.15.85 1.15 1.15.85-1.15.85-.85 1.15-.85-1.15zM312.69 311.81m-2 0 1.15-.85.85-1.15.85 1.15 1.15.85-1.15.85-.85 1.15-.85-1.15zM317.42 311.81m-2 0 1.15-.85.85-1.15.85 1.15 1.15.85-1.15.85-.85 1.15-.85-1.15zM322.15 311.81m-2 0 1.15-.85.85-1.15.85 1.15 1.15.85-1.15.85-.85 1.15-.85-1.15zM326.88 311.81m-2 0 1.15-.85.85-1.15.85 1.15 1.15.85-1.15.85-.85 1.15-.85-1.15zM331.60 311.81m-2 0 1.15-.85.85-1.15.85 1.15 1.15.85-1.15.85-.85 1.15-.85-1.15zM336.33 311.81m-2 0 1.15-.85.85-1.15.85 1.15 1.15.85-1.15.85-.85 1.15-.85-1.15zM364.69 311.81m-2 0 1.15-.85.85-1.15.85 1.15 1.15.85-1.15.85-.85 1.15-.85-1.15zM369.42 311.81m-2 0 1.15-.85.85-1.15.85 1.15 1.15.85-1.15.85-.85 1.15-.85-1.15zM374.14 311.81m-2 0 1.15-.85.85-1.15.85 1.15 1.15.85-1.15.85-.85 1.15-.85-1.15zM459.23 311.81m-2 0 1.15-.85.85-1.15.85 1.15 1.15.85-1.15.85-.85 1.15-.85-1.15zM463.96 311.81m-2 0 1.15-.85.85-1.15.85 1.15 1.15.85-1.15.85-.85 1.15-.85-1.15zM468.69 311.81m-2 0 1.15-.85.85-1.15.85 1.15 1.15.85-1.15.85-.85 1.15-.85-1.15zM473.41 311.81m-2 0 1.15-.85.85-1.15.85 1.15 1.15.85-1.15.85-.85 1.15-.85-1.15zM478.14 311.81m-2 0 1.15-.85.85-1.15.85 1.15 1.15.85-1.15.85-.85 1.15-.85-1.15zM482.87 311.81m-2 0 1.15-.85.85-1.15.85 1.15 1.15.85-1.15.85-.85 1.15-.85-1.15zM487.59 311.81m-2 0 1.15-.85.85-1.15.85 1.15 1.15.85-1.15.85-.85 1.15-.85-1.15zM492.32 311.81m-2 0 1.15-.85.85-1.15.85 1.15 1.15.85-1.15.85-.85 1.15-.85-1.15zM497.05 311.81m-2 0 1.15-.85.85-1.15.85 1.15 1.15.85-1.15.85-.85 1.15-.85-1.15zM501.77 311.81m-2 0 1.15-.85.85-1.15.85 1.15 1.15.85-1.15.85-.85 1.15-.85-1.15zM506.50 311.81m-2 0 1.15-.85.85-1.15.85 1.15 1.15.85-1.15.85-.85 1.15-.85-1.15zM511.23 311.81m-2 0 1.15-.85.85-1.15.85 1.15 1.15.85-1.15.85-.85 1.15-.85-1.15zM515.95 311.81m-2 0 1.15-.85.85-1.15.85 1.15 1.15.85-1.15.85-.85 1.15-.85-1.15zM520.68 311.81m-2 0 1.15-.85.85-1.15.85 1.15 1.15.85-1.15.85-.85 1.15-.85-1.15zM525.41 311.81m-2 0 1.15-.85.85-1.15.85 1.15 1.15.85-1.15.85-.85 1.15-.85-1.15zM530.14 311.81m-2 0 1.15-.85.85-1.15.85 1.15 1.15.85-1.15.85-.85 1.15-.85-1.15zM534.86 311.81m-2 0 1.15-.85.85-1.15.85 1.15 1.15.85-1.15.85-.85 1.15-.85-1.15zM539.59 311.81m-2 0 1.15-.85.85-1.15.85 1.15 1.15.85-1.15.85-.85 1.15-.85-1.15zM544.32 311.81m-2 0 1.15-.85.85-1.15.85 1.15 1.15.85-1.15.85-.85 1.15-.85-1.15zM553.77 311.81m-2 0 1.15-.85.85-1.15.85 1.15 1.15.85-1.15.85-.85 1.15-.85-1.15zM558.50 311.81m-2 0 1.15-.85.85-1.15.85 1.15 1.15.85-1.15.85-.85 1.15-.85-1.15zM563.23 311.81m-2 0 1.15-.85.85-1.15.85 1.15 1.15.85-1.15.85-.85 1.15-.85-1.15zM567.95 311.81m-2 0 1.15-.85.85-1.15.85 1.15 1.15.85-1.15.85-.85 1.15-.85-1.15zM572.68 311.81m-2 0 1.15-.85.85-1.15.85 1.15 1.15.85-1.15.85-.85 1.15-.85-1.15zM605.77 311.81m-2 0 1.15-.85.85-1.15.85 1.15 1.15.85-1.15.85-.85 1.15-.85-1.15zM610.50 311.81m-2 0 1.15-.85.85-1.15.85 1.15 1.15.85-1.15.85-.85 1.15-.85-1.15zM615.22 311.81m-2 0 1.15-.85.85-1.15.85 1.15 1.15.85-1.15.85-.85 1.15-.85-1.15zM619.95 311.81m-2 0 1.15-.85.85-1.15.85 1.15 1.15.85-1.15.85-.85 1.15-.85-1.15zM638.86 311.81m-2 0 1.15-.85.85-1.15.85 1.15 1.15.85-1.15.85-.85 1.15-.85-1.15zM643.58 311.81m-2 0 1.15-.85.85-1.15.85 1.15 1.15.85-1.15.85-.85 1.15-.85-1.15zM648.31 311.81m-2 0 1.15-.85.85-1.15.85 1.15 1.15.85-1.15.85-.85 1.15-.85-1.15zM653.04 311.81m-2 0 1.15-.85.85-1.15.85 1.15 1.15.85-1.15.85-.85 1.15-.85-1.15zM662.49 311.81m-2 0 1.15-.85.85-1.15.85 1.15 1.15.85-1.15.85-.85 1.15-.85-1.15zM681.40 311.81m-2 0 1.15-.85.85-1.15.85 1.15 1.15.85-1.15.85-.85 1.15-.85-1.15zM326.88 316.55m-2 0 1.15-.85.85-1.15.85 1.15 1.15.85-1.15.85-.85 1.15-.85-1.15zM331.60 316.55m-2 0 1.15-.85.85-1.15.85 1.15 1.15.85-1.15.85-.85 1.15-.85-1.15zM336.33 316.55m-2 0 1.15-.85.85-1.15.85 1.15 1.15.85-1.15.85-.85 1.15-.85-1.15zM341.06 316.55m-2 0 1.15-.85.85-1.15.85 1.15 1.15.85-1.15.85-.85 1.15-.85-1.15zM454.50 316.55m-2 0 1.15-.85.85-1.15.85 1.15 1.15.85-1.15.85-.85 1.15-.85-1.15zM459.23 316.55m-2 0 1.15-.85.85-1.15.85 1.15 1.15.85-1.15.85-.85 1.15-.85-1.15zM463.96 316.55m-2 0 1.15-.85.85-1.15.85 1.15 1.15.85-1.15.85-.85 1.15-.85-1.15zM468.69 316.55m-2 0 1.15-.85.85-1.15.85 1.15 1.15.85-1.15.85-.85 1.15-.85-1.15zM473.41 316.55m-2 0 1.15-.85.85-1.15.85 1.15 1.15.85-1.15.85-.85 1.15-.85-1.15zM478.14 316.55m-2 0 1.15-.85.85-1.15.85 1.15 1.15.85-1.15.85-.85 1.15-.85-1.15zM482.87 316.55m-2 0 1.15-.85.85-1.15.85 1.15 1.15.85-1.15.85-.85 1.15-.85-1.15zM487.59 316.55m-2 0 1.15-.85.85-1.15.85 1.15 1.15.85-1.15.85-.85 1.15-.85-1.15zM492.32 316.55m-2 0 1.15-.85.85-1.15.85 1.15 1.15.85-1.15.85-.85 1.15-.85-1.15zM497.05 316.55m-2 0 1.15-.85.85-1.15.85 1.15 1.15.85-1.15.85-.85 1.15-.85-1.15zM501.77 316.55m-2 0 1.15-.85.85-1.15.85 1.15 1.15.85-1.15.85-.85 1.15-.85-1.15zM506.50 316.55m-2 0 1.15-.85.85-1.15.85 1.15 1.15.85-1.15.85-.85 1.15-.85-1.15zM511.23 316.55m-2 0 1.15-.85.85-1.15.85 1.15 1.15.85-1.15.85-.85 1.15-.85-1.15zM515.95 316.55m-2 0 1.15-.85.85-1.15.85 1.15 1.15.85-1.15.85-.85 1.15-.85-1.15zM520.68 316.55m-2 0 1.15-.85.85-1.15.85 1.15 1.15.85-1.15.85-.85 1.15-.85-1.15zM525.41 316.55m-2 0 1.15-.85.85-1.15.85 1.15 1.15.85-1.15.85-.85 1.15-.85-1.15zM530.14 316.55m-2 0 1.15-.85.85-1.15.85 1.15 1.15.85-1.15.85-.85 1.15-.85-1.15zM534.86 316.55m-2 0 1.15-.85.85-1.15.85 1.15 1.15.85-1.15.85-.85 1.15-.85-1.15zM539.59 316.55m-2 0 1.15-.85.85-1.15.85 1.15 1.15.85-1.15.85-.85 1.15-.85-1.15zM544.32 316.55m-2 0 1.15-.85.85-1.15.85 1.15 1.15.85-1.15.85-.85 1.15-.85-1.15zM553.77 316.55m-2 0 1.15-.85.85-1.15.85 1.15 1.15.85-1.15.85-.85 1.15-.85-1.15zM558.50 316.55m-2 0 1.15-.85.85-1.15.85 1.15 1.15.85-1.15.85-.85 1.15-.85-1.15zM563.23 316.55m-2 0 1.15-.85.85-1.15.85 1.15 1.15.85-1.15.85-.85 1.15-.85-1.15zM567.95 316.55m-2 0 1.15-.85.85-1.15.85 1.15 1.15.85-1.15.85-.85 1.15-.85-1.15zM605.77 316.55m-2 0 1.15-.85.85-1.15.85 1.15 1.15.85-1.15.85-.85 1.15-.85-1.15zM610.50 316.55m-2 0 1.15-.85.85-1.15.85 1.15 1.15.85-1.15.85-.85 1.15-.85-1.15zM615.22 316.55m-2 0 1.15-.85.85-1.15.85 1.15 1.15.85-1.15.85-.85 1.15-.85-1.15zM619.95 316.55m-2 0 1.15-.85.85-1.15.85 1.15 1.15.85-1.15.85-.85 1.15-.85-1.15zM638.86 316.55m-2 0 1.15-.85.85-1.15.85 1.15 1.15.85-1.15.85-.85 1.15-.85-1.15zM643.58 316.55m-2 0 1.15-.85.85-1.15.85 1.15 1.15.85-1.15.85-.85 1.15-.85-1.15zM648.31 316.55m-2 0 1.15-.85.85-1.15.85 1.15 1.15.85-1.15.85-.85 1.15-.85-1.15zM653.04 316.55m-2 0 1.15-.85.85-1.15.85 1.15 1.15.85-1.15.85-.85 1.15-.85-1.15zM657.77 316.55m-2 0 1.15-.85.85-1.15.85 1.15 1.15.85-1.15.85-.85 1.15-.85-1.15zM681.40 316.55m-2 0 1.15-.85.85-1.15.85 1.15 1.15.85-1.15.85-.85 1.15-.85-1.15zM341.06 321.29m-2 0 1.15-.85.85-1.15.85 1.15 1.15.85-1.15.85-.85 1.15-.85-1.15zM345.78 321.29m-2 0 1.15-.85.85-1.15.85 1.15 1.15.85-1.15.85-.85 1.15-.85-1.15zM364.69 321.29m-2 0 1.15-.85.85-1.15.85 1.15 1.15.85-1.15.85-.85 1.15-.85-1.15zM383.60 321.29m-2 0 1.15-.85.85-1.15.85 1.15 1.15.85-1.15.85-.85 1.15-.85-1.15zM459.23 321.29m-2 0 1.15-.85.85-1.15.85 1.15 1.15.85-1.15.85-.85 1.15-.85-1.15zM463.96 321.29m-2 0 1.15-.85.85-1.15.85 1.15 1.15.85-1.15.85-.85 1.15-.85-1.15zM468.69 321.29m-2 0 1.15-.85.85-1.15.85 1.15 1.15.85-1.15.85-.85 1.15-.85-1.15zM473.41 321.29m-2 0 1.15-.85.85-1.15.85 1.15 1.15.85-1.15.85-.85 1.15-.85-1.15zM478.14 321.29m-2 0 1.15-.85.85-1.15.85 1.15 1.15.85-1.15.85-.85 1.15-.85-1.15zM482.87 321.29m-2 0 1.15-.85.85-1.15.85 1.15 1.15.85-1.15.85-.85 1.15-.85-1.15zM487.59 321.29m-2 0 1.15-.85.85-1.15.85 1.15 1.15.85-1.15.85-.85 1.15-.85-1.15zM492.32 321.29m-2 0 1.15-.85.85-1.15.85 1.15 1.15.85-1.15.85-.85 1.15-.85-1.15zM497.05 321.29m-2 0 1.15-.85.85-1.15.85 1.15 1.15.85-1.15.85-.85 1.15-.85-1.15zM501.77 321.29m-2 0 1.15-.85.85-1.15.85 1.15 1.15.85-1.15.85-.85 1.15-.85-1.15zM506.50 321.29m-2 0 1.15-.85.85-1.15.85 1.15 1.15.85-1.15.85-.85 1.15-.85-1.15zM511.23 321.29m-2 0 1.15-.85.85-1.15.85 1.15 1.15.85-1.15.85-.85 1.15-.85-1.15zM515.95 321.29m-2 0 1.15-.85.85-1.15.85 1.15 1.15.85-1.15.85-.85 1.15-.85-1.15zM520.68 321.29m-2 0 1.15-.85.85-1.15.85 1.15 1.15.85-1.15.85-.85 1.15-.85-1.15zM525.41 321.29m-2 0 1.15-.85.85-1.15.85 1.15 1.15.85-1.15.85-.85 1.15-.85-1.15zM530.14 321.29m-2 0 1.15-.85.85-1.15.85 1.15 1.15.85-1.15.85-.85 1.15-.85-1.15zM534.86 321.29m-2 0 1.15-.85.85-1.15.85 1.15 1.15.85-1.15.85-.85 1.15-.85-1.15zM539.59 321.29m-2 0 1.15-.85.85-1.15.85 1.15 1.15.85-1.15.85-.85 1.15-.85-1.15zM544.32 321.29m-2 0 1.15-.85.85-1.15.85 1.15 1.15.85-1.15.85-.85 1.15-.85-1.15zM549.04 321.29m-2 0 1.15-.85.85-1.15.85 1.15 1.15.85-1.15.85-.85 1.15-.85-1.15zM605.77 321.29m-2 0 1.15-.85.85-1.15.85 1.15 1.15.85-1.15.85-.85 1.15-.85-1.15zM610.50 321.29m-2 0 1.15-.85.85-1.15.85 1.15 1.15.85-1.15.85-.85 1.15-.85-1.15zM643.58 321.29m-2 0 1.15-.85.85-1.15.85 1.15 1.15.85-1.15.85-.85 1.15-.85-1.15zM648.31 321.29m-2 0 1.15-.85.85-1.15.85 1.15 1.15.85-1.15.85-.85 1.15-.85-1.15zM653.04 321.29m-2 0 1.15-.85.85-1.15.85 1.15 1.15.85-1.15.85-.85 1.15-.85-1.15zM657.77 321.29m-2 0 1.15-.85.85-1.15.85 1.15 1.15.85-1.15.85-.85 1.15-.85-1.15zM681.40 321.29m-2 0 1.15-.85.85-1.15.85 1.15 1.15.85-1.15.85-.85 1.15-.85-1.15zM345.78 326.03m-2 0 1.15-.85.85-1.15.85 1.15 1.15.85-1.15.85-.85 1.15-.85-1.15zM359.96 326.03m-2 0 1.15-.85.85-1.15.85 1.15 1.15.85-1.15.85-.85 1.15-.85-1.15zM364.69 326.03m-2 0 1.15-.85.85-1.15.85 1.15 1.15.85-1.15.85-.85 1.15-.85-1.15zM369.42 326.03m-2 0 1.15-.85.85-1.15.85 1.15 1.15.85-1.15.85-.85 1.15-.85-1.15zM374.14 326.03m-2 0 1.15-.85.85-1.15.85 1.15 1.15.85-1.15.85-.85 1.15-.85-1.15zM378.87 326.03m-2 0 1.15-.85.85-1.15.85 1.15 1.15.85-1.15.85-.85 1.15-.85-1.15zM459.23 326.03m-2 0 1.15-.85.85-1.15.85 1.15 1.15.85-1.15.85-.85 1.15-.85-1.15zM463.96 326.03m-2 0 1.15-.85.85-1.15.85 1.15 1.15.85-1.15.85-.85 1.15-.85-1.15zM468.69 326.03m-2 0 1.15-.85.85-1.15.85 1.15 1.15.85-1.15.85-.85 1.15-.85-1.15zM473.41 326.03m-2 0 1.15-.85.85-1.15.85 1.15 1.15.85-1.15.85-.85 1.15-.85-1.15zM478.14 326.03m-2 0 1.15-.85.85-1.15.85 1.15 1.15.85-1.15.85-.85 1.15-.85-1.15zM482.87 326.03m-2 0 1.15-.85.85-1.15.85 1.15 1.15.85-1.15.85-.85 1.15-.85-1.15zM487.59 326.03m-2 0 1.15-.85.85-1.15.85 1.15 1.15.85-1.15.85-.85 1.15-.85-1.15zM492.32 326.03m-2 0 1.15-.85.85-1.15.85 1.15 1.15.85-1.15.85-.85 1.15-.85-1.15zM497.05 326.03m-2 0 1.15-.85.85-1.15.85 1.15 1.15.85-1.15.85-.85 1.15-.85-1.15zM501.77 326.03m-2 0 1.15-.85.85-1.15.85 1.15 1.15.85-1.15.85-.85 1.15-.85-1.15zM506.50 326.03m-2 0 1.15-.85.85-1.15.85 1.15 1.15.85-1.15.85-.85 1.15-.85-1.15zM511.23 326.03m-2 0 1.15-.85.85-1.15.85 1.15 1.15.85-1.15.85-.85 1.15-.85-1.15zM515.95 326.03m-2 0 1.15-.85.85-1.15.85 1.15 1.15.85-1.15.85-.85 1.15-.85-1.15zM520.68 326.03m-2 0 1.15-.85.85-1.15.85 1.15 1.15.85-1.15.85-.85 1.15-.85-1.15zM525.41 326.03m-2 0 1.15-.85.85-1.15.85 1.15 1.15.85-1.15.85-.85 1.15-.85-1.15zM530.14 326.03m-2 0 1.15-.85.85-1.15.85 1.15 1.15.85-1.15.85-.85 1.15-.85-1.15zM534.86 326.03m-2 0 1.15-.85.85-1.15.85 1.15 1.15.85-1.15.85-.85 1.15-.85-1.15zM539.59 326.03m-2 0 1.15-.85.85-1.15.85 1.15 1.15.85-1.15.85-.85 1.15-.85-1.15zM544.32 326.03m-2 0 1.15-.85.85-1.15.85 1.15 1.15.85-1.15.85-.85 1.15-.85-1.15zM549.04 326.03m-2 0 1.15-.85.85-1.15.85 1.15 1.15.85-1.15.85-.85 1.15-.85-1.15zM553.77 326.03m-2 0 1.15-.85.85-1.15.85 1.15 1.15.85-1.15.85-.85 1.15-.85-1.15zM558.50 326.03m-2 0 1.15-.85.85-1.15.85 1.15 1.15.85-1.15.85-.85 1.15-.85-1.15zM563.23 326.03m-2 0 1.15-.85.85-1.15.85 1.15 1.15.85-1.15.85-.85 1.15-.85-1.15zM610.50 326.03m-2 0 1.15-.85.85-1.15.85 1.15 1.15.85-1.15.85-.85 1.15-.85-1.15zM643.58 326.03m-2 0 1.15-.85.85-1.15.85 1.15 1.15.85-1.15.85-.85 1.15-.85-1.15zM657.77 326.03m-2 0 1.15-.85.85-1.15.85 1.15 1.15.85-1.15.85-.85 1.15-.85-1.15zM676.67 326.03m-2 0 1.15-.85.85-1.15.85 1.15 1.15.85-1.15.85-.85 1.15-.85-1.15zM350.51 330.77m-2 0 1.15-.85.85-1.15.85 1.15 1.15.85-1.15.85-.85 1.15-.85-1.15zM355.24 330.77m-2 0 1.15-.85.85-1.15.85 1.15 1.15.85-1.15.85-.85 1.15-.85-1.15zM359.96 330.77m-2 0 1.15-.85.85-1.15.85 1.15 1.15.85-1.15.85-.85 1.15-.85-1.15zM364.69 330.77m-2 0 1.15-.85.85-1.15.85 1.15 1.15.85-1.15.85-.85 1.15-.85-1.15zM369.42 330.77m-2 0 1.15-.85.85-1.15.85 1.15 1.15.85-1.15.85-.85 1.15-.85-1.15zM374.14 330.77m-2 0 1.15-.85.85-1.15.85 1.15 1.15.85-1.15.85-.85 1.15-.85-1.15zM378.87 330.77m-2 0 1.15-.85.85-1.15.85 1.15 1.15.85-1.15.85-.85 1.15-.85-1.15zM383.60 330.77m-2 0 1.15-.85.85-1.15.85 1.15 1.15.85-1.15.85-.85 1.15-.85-1.15zM463.96 330.77m-2 0 1.15-.85.85-1.15.85 1.15 1.15.85-1.15.85-.85 1.15-.85-1.15zM468.69 330.77m-2 0 1.15-.85.85-1.15.85 1.15 1.15.85-1.15.85-.85 1.15-.85-1.15zM473.41 330.77m-2 0 1.15-.85.85-1.15.85 1.15 1.15.85-1.15.85-.85 1.15-.85-1.15zM478.14 330.77m-2 0 1.15-.85.85-1.15.85 1.15 1.15.85-1.15.85-.85 1.15-.85-1.15zM482.87 330.77m-2 0 1.15-.85.85-1.15.85 1.15 1.15.85-1.15.85-.85 1.15-.85-1.15zM487.59 330.77m-2 0 1.15-.85.85-1.15.85 1.15 1.15.85-1.15.85-.85 1.15-.85-1.15zM492.32 330.77m-2 0 1.15-.85.85-1.15.85 1.15 1.15.85-1.15.85-.85 1.15-.85-1.15zM497.05 330.77m-2 0 1.15-.85.85-1.15.85 1.15 1.15.85-1.15.85-.85 1.15-.85-1.15zM501.77 330.77m-2 0 1.15-.85.85-1.15.85 1.15 1.15.85-1.15.85-.85 1.15-.85-1.15zM506.50 330.77m-2 0 1.15-.85.85-1.15.85 1.15 1.15.85-1.15.85-.85 1.15-.85-1.15zM511.23 330.77m-2 0 1.15-.85.85-1.15.85 1.15 1.15.85-1.15.85-.85 1.15-.85-1.15zM515.95 330.77m-2 0 1.15-.85.85-1.15.85 1.15 1.15.85-1.15.85-.85 1.15-.85-1.15zM520.68 330.77m-2 0 1.15-.85.85-1.15.85 1.15 1.15.85-1.15.85-.85 1.15-.85-1.15zM525.41 330.77m-2 0 1.15-.85.85-1.15.85 1.15 1.15.85-1.15.85-.85 1.15-.85-1.15zM530.14 330.77m-2 0 1.15-.85.85-1.15.85 1.15 1.15.85-1.15.85-.85 1.15-.85-1.15zM534.86 330.77m-2 0 1.15-.85.85-1.15.85 1.15 1.15.85-1.15.85-.85 1.15-.85-1.15zM539.59 330.77m-2 0 1.15-.85.85-1.15.85 1.15 1.15.85-1.15.85-.85 1.15-.85-1.15zM544.32 330.77m-2 0 1.15-.85.85-1.15.85 1.15 1.15.85-1.15.85-.85 1.15-.85-1.15zM549.04 330.77m-2 0 1.15-.85.85-1.15.85 1.15 1.15.85-1.15.85-.85 1.15-.85-1.15zM553.77 330.77m-2 0 1.15-.85.85-1.15.85 1.15 1.15.85-1.15.85-.85 1.15-.85-1.15zM558.50 330.77m-2 0 1.15-.85.85-1.15.85 1.15 1.15.85-1.15.85-.85 1.15-.85-1.15zM563.23 330.77m-2 0 1.15-.85.85-1.15.85 1.15 1.15.85-1.15.85-.85 1.15-.85-1.15zM615.22 330.77m-2 0 1.15-.85.85-1.15.85 1.15 1.15.85-1.15.85-.85 1.15-.85-1.15zM648.31 330.77m-2 0 1.15-.85.85-1.15.85 1.15 1.15.85-1.15.85-.85 1.15-.85-1.15zM681.40 330.77m-2 0 1.15-.85.85-1.15.85 1.15 1.15.85-1.15.85-.85 1.15-.85-1.15zM686.13 330.77m-2 0 1.15-.85.85-1.15.85 1.15 1.15.85-1.15.85-.85 1.15-.85-1.15zM359.96 335.51m-2 0 1.15-.85.85-1.15.85 1.15 1.15.85-1.15.85-.85 1.15-.85-1.15zM364.69 335.51m-2 0 1.15-.85.85-1.15.85 1.15 1.15.85-1.15.85-.85 1.15-.85-1.15zM369.42 335.51m-2 0 1.15-.85.85-1.15.85 1.15 1.15.85-1.15.85-.85 1.15-.85-1.15zM374.14 335.51m-2 0 1.15-.85.85-1.15.85 1.15 1.15.85-1.15.85-.85 1.15-.85-1.15zM378.87 335.51m-2 0 1.15-.85.85-1.15.85 1.15 1.15.85-1.15.85-.85 1.15-.85-1.15zM383.60 335.51m-2 0 1.15-.85.85-1.15.85 1.15 1.15.85-1.15.85-.85 1.15-.85-1.15zM388.33 335.51m-2 0 1.15-.85.85-1.15.85 1.15 1.15.85-1.15.85-.85 1.15-.85-1.15zM393.05 335.51m-2 0 1.15-.85.85-1.15.85 1.15 1.15.85-1.15.85-.85 1.15-.85-1.15zM397.78 335.51m-2 0 1.15-.85.85-1.15.85 1.15 1.15.85-1.15.85-.85 1.15-.85-1.15zM468.69 335.51m-2 0 1.15-.85.85-1.15.85 1.15 1.15.85-1.15.85-.85 1.15-.85-1.15zM478.14 335.51m-2 0 1.15-.85.85-1.15.85 1.15 1.15.85-1.15.85-.85 1.15-.85-1.15zM492.32 335.51m-2 0 1.15-.85.85-1.15.85 1.15 1.15.85-1.15.85-.85 1.15-.85-1.15zM501.77 335.51m-2 0 1.15-.85.85-1.15.85 1.15 1.15.85-1.15.85-.85 1.15-.85-1.15zM506.50 335.51m-2 0 1.15-.85.85-1.15.85 1.15 1.15.85-1.15.85-.85 1.15-.85-1.15zM511.23 335.51m-2 0 1.15-.85.85-1.15.85 1.15 1.15.85-1.15.85-.85 1.15-.85-1.15zM515.95 335.51m-2 0 1.15-.85.85-1.15.85 1.15 1.15.85-1.15.85-.85 1.15-.85-1.15zM520.68 335.51m-2 0 1.15-.85.85-1.15.85 1.15 1.15.85-1.15.85-.85 1.15-.85-1.15zM525.41 335.51m-2 0 1.15-.85.85-1.15.85 1.15 1.15.85-1.15.85-.85 1.15-.85-1.15zM530.14 335.51m-2 0 1.15-.85.85-1.15.85 1.15 1.15.85-1.15.85-.85 1.15-.85-1.15zM534.86 335.51m-2 0 1.15-.85.85-1.15.85 1.15 1.15.85-1.15.85-.85 1.15-.85-1.15zM539.59 335.51m-2 0 1.15-.85.85-1.15.85 1.15 1.15.85-1.15.85-.85 1.15-.85-1.15zM544.32 335.51m-2 0 1.15-.85.85-1.15.85 1.15 1.15.85-1.15.85-.85 1.15-.85-1.15zM549.04 335.51m-2 0 1.15-.85.85-1.15.85 1.15 1.15.85-1.15.85-.85 1.15-.85-1.15zM553.77 335.51m-2 0 1.15-.85.85-1.15.85 1.15 1.15.85-1.15.85-.85 1.15-.85-1.15zM558.50 335.51m-2 0 1.15-.85.85-1.15.85 1.15 1.15.85-1.15.85-.85 1.15-.85-1.15zM638.86 335.51m-2 0 1.15-.85.85-1.15.85 1.15 1.15.85-1.15.85-.85 1.15-.85-1.15zM643.58 335.51m-2 0 1.15-.85.85-1.15.85 1.15 1.15.85-1.15.85-.85 1.15-.85-1.15zM648.31 335.51m-2 0 1.15-.85.85-1.15.85 1.15 1.15.85-1.15.85-.85 1.15-.85-1.15zM355.24 340.26m-2 0 1.15-.85.85-1.15.85 1.15 1.15.85-1.15.85-.85 1.15-.85-1.15zM359.96 340.26m-2 0 1.15-.85.85-1.15.85 1.15 1.15.85-1.15.85-.85 1.15-.85-1.15zM364.69 340.26m-2 0 1.15-.85.85-1.15.85 1.15 1.15.85-1.15.85-.85 1.15-.85-1.15zM369.42 340.26m-2 0 1.15-.85.85-1.15.85 1.15 1.15.85-1.15.85-.85 1.15-.85-1.15zM374.14 340.26m-2 0 1.15-.85.85-1.15.85 1.15 1.15.85-1.15.85-.85 1.15-.85-1.15zM378.87 340.26m-2 0 1.15-.85.85-1.15.85 1.15 1.15.85-1.15.85-.85 1.15-.85-1.15zM383.60 340.26m-2 0 1.15-.85.85-1.15.85 1.15 1.15.85-1.15.85-.85 1.15-.85-1.15zM388.33 340.26m-2 0 1.15-.85.85-1.15.85 1.15 1.15.85-1.15.85-.85 1.15-.85-1.15zM393.05 340.26m-2 0 1.15-.85.85-1.15.85 1.15 1.15.85-1.15.85-.85 1.15-.85-1.15zM397.78 340.26m-2 0 1.15-.85.85-1.15.85 1.15 1.15.85-1.15.85-.85 1.15-.85-1.15zM501.77 340.26m-2 0 1.15-.85.85-1.15.85 1.15 1.15.85-1.15.85-.85 1.15-.85-1.15zM506.50 340.26m-2 0 1.15-.85.85-1.15.85 1.15 1.15.85-1.15.85-.85 1.15-.85-1.15zM511.23 340.26m-2 0 1.15-.85.85-1.15.85 1.15 1.15.85-1.15.85-.85 1.15-.85-1.15zM515.95 340.26m-2 0 1.15-.85.85-1.15.85 1.15 1.15.85-1.15.85-.85 1.15-.85-1.15zM520.68 340.26m-2 0 1.15-.85.85-1.15.85 1.15 1.15.85-1.15.85-.85 1.15-.85-1.15zM525.41 340.26m-2 0 1.15-.85.85-1.15.85 1.15 1.15.85-1.15.85-.85 1.15-.85-1.15zM530.14 340.26m-2 0 1.15-.85.85-1.15.85 1.15 1.15.85-1.15.85-.85 1.15-.85-1.15zM534.86 340.26m-2 0 1.15-.85.85-1.15.85 1.15 1.15.85-1.15.85-.85 1.15-.85-1.15zM539.59 340.26m-2 0 1.15-.85.85-1.15.85 1.15 1.15.85-1.15.85-.85 1.15-.85-1.15zM544.32 340.26m-2 0 1.15-.85.85-1.15.85 1.15 1.15.85-1.15.85-.85 1.15-.85-1.15zM549.04 340.26m-2 0 1.15-.85.85-1.15.85 1.15 1.15.85-1.15.85-.85 1.15-.85-1.15zM553.77 340.26m-2 0 1.15-.85.85-1.15.85 1.15 1.15.85-1.15.85-.85 1.15-.85-1.15zM662.49 340.26m-2 0 1.15-.85.85-1.15.85 1.15 1.15.85-1.15.85-.85 1.15-.85-1.15zM667.22 340.26m-2 0 1.15-.85.85-1.15.85 1.15 1.15.85-1.15.85-.85 1.15-.85-1.15zM671.95 340.26m-2 0 1.15-.85.85-1.15.85 1.15 1.15.85-1.15.85-.85 1.15-.85-1.15zM681.40 340.26m-2 0 1.15-.85.85-1.15.85 1.15 1.15.85-1.15.85-.85 1.15-.85-1.15zM686.13 340.26m-2 0 1.15-.85.85-1.15.85 1.15 1.15.85-1.15.85-.85 1.15-.85-1.15zM350.51 345m-2 0 1.15-.85.85-1.15.85 1.15 1.15.85-1.15.85-.85 1.15-.85-1.15zM355.24 345m-2 0 1.15-.85.85-1.15.85 1.15 1.15.85-1.15.85-.85 1.15-.85-1.15zM359.96 345m-2 0 1.15-.85.85-1.15.85 1.15 1.15.85-1.15.85-.85 1.15-.85-1.15zM364.69 345m-2 0 1.15-.85.85-1.15.85 1.15 1.15.85-1.15.85-.85 1.15-.85-1.15zM369.42 345m-2 0 1.15-.85.85-1.15.85 1.15 1.15.85-1.15.85-.85 1.15-.85-1.15zM374.14 345m-2 0 1.15-.85.85-1.15.85 1.15 1.15.85-1.15.85-.85 1.15-.85-1.15zM378.87 345m-2 0 1.15-.85.85-1.15.85 1.15 1.15.85-1.15.85-.85 1.15-.85-1.15zM383.60 345m-2 0 1.15-.85.85-1.15.85 1.15 1.15.85-1.15.85-.85 1.15-.85-1.15zM388.33 345m-2 0 1.15-.85.85-1.15.85 1.15 1.15.85-1.15.85-.85 1.15-.85-1.15zM393.05 345m-2 0 1.15-.85.85-1.15.85 1.15 1.15.85-1.15.85-.85 1.15-.85-1.15zM397.78 345m-2 0 1.15-.85.85-1.15.85 1.15 1.15.85-1.15.85-.85 1.15-.85-1.15zM402.51 345m-2 0 1.15-.85.85-1.15.85 1.15 1.15.85-1.15.85-.85 1.15-.85-1.15zM407.23 345m-2 0 1.15-.85.85-1.15.85 1.15 1.15.85-1.15.85-.85 1.15-.85-1.15zM497.05 345m-2 0 1.15-.85.85-1.15.85 1.15 1.15.85-1.15.85-.85 1.15-.85-1.15zM501.77 345m-2 0 1.15-.85.85-1.15.85 1.15 1.15.85-1.15.85-.85 1.15-.85-1.15zM506.50 345m-2 0 1.15-.85.85-1.15.85 1.15 1.15.85-1.15.85-.85 1.15-.85-1.15zM511.23 345m-2 0 1.15-.85.85-1.15.85 1.15 1.15.85-1.15.85-.85 1.15-.85-1.15zM515.95 345m-2 0 1.15-.85.85-1.15.85 1.15 1.15.85-1.15.85-.85 1.15-.85-1.15zM520.68 345m-2 0 1.15-.85.85-1.15.85 1.15 1.15.85-1.15.85-.85 1.15-.85-1.15zM525.41 345m-2 0 1.15-.85.85-1.15.85 1.15 1.15.85-1.15.85-.85 1.15-.85-1.15zM530.14 345m-2 0 1.15-.85.85-1.15.85 1.15 1.15.85-1.15.85-.85 1.15-.85-1.15zM534.86 345m-2 0 1.15-.85.85-1.15.85 1.15 1.15.85-1.15.85-.85 1.15-.85-1.15zM539.59 345m-2 0 1.15-.85.85-1.15.85 1.15 1.15.85-1.15.85-.85 1.15-.85-1.15zM544.32 345m-2 0 1.15-.85.85-1.15.85 1.15 1.15.85-1.15.85-.85 1.15-.85-1.15zM549.04 345m-2 0 1.15-.85.85-1.15.85 1.15 1.15.85-1.15.85-.85 1.15-.85-1.15zM662.49 345m-2 0 1.15-.85.85-1.15.85 1.15 1.15.85-1.15.85-.85 1.15-.85-1.15zM667.22 345m-2 0 1.15-.85.85-1.15.85 1.15 1.15.85-1.15.85-.85 1.15-.85-1.15zM671.95 345m-2 0 1.15-.85.85-1.15.85 1.15 1.15.85-1.15.85-.85 1.15-.85-1.15zM681.40 345m-2 0 1.15-.85.85-1.15.85 1.15 1.15.85-1.15.85-.85 1.15-.85-1.15zM700.31 345m-2 0 1.15-.85.85-1.15.85 1.15 1.15.85-1.15.85-.85 1.15-.85-1.15zM350.51 349.74m-2 0 1.15-.85.85-1.15.85 1.15 1.15.85-1.15.85-.85 1.15-.85-1.15zM355.24 349.74m-2 0 1.15-.85.85-1.15.85 1.15 1.15.85-1.15.85-.85 1.15-.85-1.15zM359.96 349.74m-2 0 1.15-.85.85-1.15.85 1.15 1.15.85-1.15.85-.85 1.15-.85-1.15zM364.69 349.74m-2 0 1.15-.85.85-1.15.85 1.15 1.15.85-1.15.85-.85 1.15-.85-1.15zM369.42 349.74m-2 0 1.15-.85.85-1.15.85 1.15 1.15.85-1.15.85-.85 1.15-.85-1.15zM374.14 349.74m-2 0 1.15-.85.85-1.15.85 1.15 1.15.85-1.15.85-.85 1.15-.85-1.15zM378.87 349.74m-2 0 1.15-.85.85-1.15.85 1.15 1.15.85-1.15.85-.85 1.15-.85-1.15zM383.60 349.74m-2 0 1.15-.85.85-1.15.85 1.15 1.15.85-1.15.85-.85 1.15-.85-1.15zM388.33 349.74m-2 0 1.15-.85.85-1.15.85 1.15 1.15.85-1.15.85-.85 1.15-.85-1.15zM393.05 349.74m-2 0 1.15-.85.85-1.15.85 1.15 1.15.85-1.15.85-.85 1.15-.85-1.15zM397.78 349.74m-2 0 1.15-.85.85-1.15.85 1.15 1.15.85-1.15.85-.85 1.15-.85-1.15zM402.51 349.74m-2 0 1.15-.85.85-1.15.85 1.15 1.15.85-1.15.85-.85 1.15-.85-1.15zM407.23 349.74m-2 0 1.15-.85.85-1.15.85 1.15 1.15.85-1.15.85-.85 1.15-.85-1.15zM411.96 349.74m-2 0 1.15-.85.85-1.15.85 1.15 1.15.85-1.15.85-.85 1.15-.85-1.15zM416.69 349.74m-2 0 1.15-.85.85-1.15.85 1.15 1.15.85-1.15.85-.85 1.15-.85-1.15zM501.77 349.74m-2 0 1.15-.85.85-1.15.85 1.15 1.15.85-1.15.85-.85 1.15-.85-1.15zM506.50 349.74m-2 0 1.15-.85.85-1.15.85 1.15 1.15.85-1.15.85-.85 1.15-.85-1.15zM511.23 349.74m-2 0 1.15-.85.85-1.15.85 1.15 1.15.85-1.15.85-.85 1.15-.85-1.15zM515.95 349.74m-2 0 1.15-.85.85-1.15.85 1.15 1.15.85-1.15.85-.85 1.15-.85-1.15zM520.68 349.74m-2 0 1.15-.85.85-1.15.85 1.15 1.15.85-1.15.85-.85 1.15-.85-1.15zM525.41 349.74m-2 0 1.15-.85.85-1.15.85 1.15 1.15.85-1.15.85-.85 1.15-.85-1.15zM530.14 349.74m-2 0 1.15-.85.85-1.15.85 1.15 1.15.85-1.15.85-.85 1.15-.85-1.15zM534.86 349.74m-2 0 1.15-.85.85-1.15.85 1.15 1.15.85-1.15.85-.85 1.15-.85-1.15zM539.59 349.74m-2 0 1.15-.85.85-1.15.85 1.15 1.15.85-1.15.85-.85 1.15-.85-1.15zM544.32 349.74m-2 0 1.15-.85.85-1.15.85 1.15 1.15.85-1.15.85-.85 1.15-.85-1.15zM681.40 349.74m-2 0 1.15-.85.85-1.15.85 1.15 1.15.85-1.15.85-.85 1.15-.85-1.15zM714.49 349.74m-2 0 1.15-.85.85-1.15.85 1.15 1.15.85-1.15.85-.85 1.15-.85-1.15zM719.22 349.74m-2 0 1.15-.85.85-1.15.85 1.15 1.15.85-1.15.85-.85 1.15-.85-1.15zM728.67 349.74m-2 0 1.15-.85.85-1.15.85 1.15 1.15.85-1.15.85-.85 1.15-.85-1.15zM355.24 354.48m-2 0 1.15-.85.85-1.15.85 1.15 1.15.85-1.15.85-.85 1.15-.85-1.15zM359.96 354.48m-2 0 1.15-.85.85-1.15.85 1.15 1.15.85-1.15.85-.85 1.15-.85-1.15zM364.69 354.48m-2 0 1.15-.85.85-1.15.85 1.15 1.15.85-1.15.85-.85 1.15-.85-1.15zM369.42 354.48m-2 0 1.15-.85.85-1.15.85 1.15 1.15.85-1.15.85-.85 1.15-.85-1.15zM374.14 354.48m-2 0 1.15-.85.85-1.15.85 1.15 1.15.85-1.15.85-.85 1.15-.85-1.15zM378.87 354.48m-2 0 1.15-.85.85-1.15.85 1.15 1.15.85-1.15.85-.85 1.15-.85-1.15zM383.60 354.48m-2 0 1.15-.85.85-1.15.85 1.15 1.15.85-1.15.85-.85 1.15-.85-1.15zM388.33 354.48m-2 0 1.15-.85.85-1.15.85 1.15 1.15.85-1.15.85-.85 1.15-.85-1.15zM393.05 354.48m-2 0 1.15-.85.85-1.15.85 1.15 1.15.85-1.15.85-.85 1.15-.85-1.15zM397.78 354.48m-2 0 1.15-.85.85-1.15.85 1.15 1.15.85-1.15.85-.85 1.15-.85-1.15zM402.51 354.48m-2 0 1.15-.85.85-1.15.85 1.15 1.15.85-1.15.85-.85 1.15-.85-1.15zM407.23 354.48m-2 0 1.15-.85.85-1.15.85 1.15 1.15.85-1.15.85-.85 1.15-.85-1.15zM411.96 354.48m-2 0 1.15-.85.85-1.15.85 1.15 1.15.85-1.15.85-.85 1.15-.85-1.15zM416.69 354.48m-2 0 1.15-.85.85-1.15.85 1.15 1.15.85-1.15.85-.85 1.15-.85-1.15zM421.41 354.48m-2 0 1.15-.85.85-1.15.85 1.15 1.15.85-1.15.85-.85 1.15-.85-1.15zM426.14 354.48m-2 0 1.15-.85.85-1.15.85 1.15 1.15.85-1.15.85-.85 1.15-.85-1.15zM506.50 354.48m-2 0 1.15-.85.85-1.15.85 1.15 1.15.85-1.15.85-.85 1.15-.85-1.15zM511.23 354.48m-2 0 1.15-.85.85-1.15.85 1.15 1.15.85-1.15.85-.85 1.15-.85-1.15zM515.95 354.48m-2 0 1.15-.85.85-1.15.85 1.15 1.15.85-1.15.85-.85 1.15-.85-1.15zM520.68 354.48m-2 0 1.15-.85.85-1.15.85 1.15 1.15.85-1.15.85-.85 1.15-.85-1.15zM525.41 354.48m-2 0 1.15-.85.85-1.15.85 1.15 1.15.85-1.15.85-.85 1.15-.85-1.15zM530.14 354.48m-2 0 1.15-.85.85-1.15.85 1.15 1.15.85-1.15.85-.85 1.15-.85-1.15zM534.86 354.48m-2 0 1.15-.85.85-1.15.85 1.15 1.15.85-1.15.85-.85 1.15-.85-1.15zM539.59 354.48m-2 0 1.15-.85.85-1.15.85 1.15 1.15.85-1.15.85-.85 1.15-.85-1.15zM544.32 354.48m-2 0 1.15-.85.85-1.15.85 1.15 1.15.85-1.15.85-.85 1.15-.85-1.15zM657.77 354.48m-2 0 1.15-.85.85-1.15.85 1.15 1.15.85-1.15.85-.85 1.15-.85-1.15zM662.49 354.48m-2 0 1.15-.85.85-1.15.85 1.15 1.15.85-1.15.85-.85 1.15-.85-1.15zM667.22 354.48m-2 0 1.15-.85.85-1.15.85 1.15 1.15.85-1.15.85-.85 1.15-.85-1.15zM714.49 354.48m-2 0 1.15-.85.85-1.15.85 1.15 1.15.85-1.15.85-.85 1.15-.85-1.15zM719.22 354.48m-2 0 1.15-.85.85-1.15.85 1.15 1.15.85-1.15.85-.85 1.15-.85-1.15zM355.24 359.22m-2 0 1.15-.85.85-1.15.85 1.15 1.15.85-1.15.85-.85 1.15-.85-1.15zM359.96 359.22m-2 0 1.15-.85.85-1.15.85 1.15 1.15.85-1.15.85-.85 1.15-.85-1.15zM364.69 359.22m-2 0 1.15-.85.85-1.15.85 1.15 1.15.85-1.15.85-.85 1.15-.85-1.15zM369.42 359.22m-2 0 1.15-.85.85-1.15.85 1.15 1.15.85-1.15.85-.85 1.15-.85-1.15zM374.14 359.22m-2 0 1.15-.85.85-1.15.85 1.15 1.15.85-1.15.85-.85 1.15-.85-1.15zM378.87 359.22m-2 0 1.15-.85.85-1.15.85 1.15 1.15.85-1.15.85-.85 1.15-.85-1.15zM383.60 359.22m-2 0 1.15-.85.85-1.15.85 1.15 1.15.85-1.15.85-.85 1.15-.85-1.15zM388.33 359.22m-2 0 1.15-.85.85-1.15.85 1.15 1.15.85-1.15.85-.85 1.15-.85-1.15zM393.05 359.22m-2 0 1.15-.85.85-1.15.85 1.15 1.15.85-1.15.85-.85 1.15-.85-1.15zM397.78 359.22m-2 0 1.15-.85.85-1.15.85 1.15 1.15.85-1.15.85-.85 1.15-.85-1.15zM402.51 359.22m-2 0 1.15-.85.85-1.15.85 1.15 1.15.85-1.15.85-.85 1.15-.85-1.15zM407.23 359.22m-2 0 1.15-.85.85-1.15.85 1.15 1.15.85-1.15.85-.85 1.15-.85-1.15zM411.96 359.22m-2 0 1.15-.85.85-1.15.85 1.15 1.15.85-1.15.85-.85 1.15-.85-1.15zM416.69 359.22m-2 0 1.15-.85.85-1.15.85 1.15 1.15.85-1.15.85-.85 1.15-.85-1.15zM421.41 359.22m-2 0 1.15-.85.85-1.15.85 1.15 1.15.85-1.15.85-.85 1.15-.85-1.15zM506.50 359.22m-2 0 1.15-.85.85-1.15.85 1.15 1.15.85-1.15.85-.85 1.15-.85-1.15zM511.23 359.22m-2 0 1.15-.85.85-1.15.85 1.15 1.15.85-1.15.85-.85 1.15-.85-1.15zM515.95 359.22m-2 0 1.15-.85.85-1.15.85 1.15 1.15.85-1.15.85-.85 1.15-.85-1.15zM520.68 359.22m-2 0 1.15-.85.85-1.15.85 1.15 1.15.85-1.15.85-.85 1.15-.85-1.15zM525.41 359.22m-2 0 1.15-.85.85-1.15.85 1.15 1.15.85-1.15.85-.85 1.15-.85-1.15zM530.14 359.22m-2 0 1.15-.85.85-1.15.85 1.15 1.15.85-1.15.85-.85 1.15-.85-1.15zM534.86 359.22m-2 0 1.15-.85.85-1.15.85 1.15 1.15.85-1.15.85-.85 1.15-.85-1.15zM539.59 359.22m-2 0 1.15-.85.85-1.15.85 1.15 1.15.85-1.15.85-.85 1.15-.85-1.15zM544.32 359.22m-2 0 1.15-.85.85-1.15.85 1.15 1.15.85-1.15.85-.85 1.15-.85-1.15zM549.04 359.22m-2 0 1.15-.85.85-1.15.85 1.15 1.15.85-1.15.85-.85 1.15-.85-1.15zM681.40 359.22m-2 0 1.15-.85.85-1.15.85 1.15 1.15.85-1.15.85-.85 1.15-.85-1.15zM686.13 359.22m-2 0 1.15-.85.85-1.15.85 1.15 1.15.85-1.15.85-.85 1.15-.85-1.15zM723.94 359.22m-2 0 1.15-.85.85-1.15.85 1.15 1.15.85-1.15.85-.85 1.15-.85-1.15zM728.67 359.22m-2 0 1.15-.85.85-1.15.85 1.15 1.15.85-1.15.85-.85 1.15-.85-1.15zM359.96 363.96m-2 0 1.15-.85.85-1.15.85 1.15 1.15.85-1.15.85-.85 1.15-.85-1.15zM364.69 363.96m-2 0 1.15-.85.85-1.15.85 1.15 1.15.85-1.15.85-.85 1.15-.85-1.15zM369.42 363.96m-2 0 1.15-.85.85-1.15.85 1.15 1.15.85-1.15.85-.85 1.15-.85-1.15zM374.14 363.96m-2 0 1.15-.85.85-1.15.85 1.15 1.15.85-1.15.85-.85 1.15-.85-1.15zM378.87 363.96m-2 0 1.15-.85.85-1.15.85 1.15 1.15.85-1.15.85-.85 1.15-.85-1.15zM383.60 363.96m-2 0 1.15-.85.85-1.15.85 1.15 1.15.85-1.15.85-.85 1.15-.85-1.15zM388.33 363.96m-2 0 1.15-.85.85-1.15.85 1.15 1.15.85-1.15.85-.85 1.15-.85-1.15zM393.05 363.96m-2 0 1.15-.85.85-1.15.85 1.15 1.15.85-1.15.85-.85 1.15-.85-1.15zM397.78 363.96m-2 0 1.15-.85.85-1.15.85 1.15 1.15.85-1.15.85-.85 1.15-.85-1.15zM402.51 363.96m-2 0 1.15-.85.85-1.15.85 1.15 1.15.85-1.15.85-.85 1.15-.85-1.15zM407.23 363.96m-2 0 1.15-.85.85-1.15.85 1.15 1.15.85-1.15.85-.85 1.15-.85-1.15zM411.96 363.96m-2 0 1.15-.85.85-1.15.85 1.15 1.15.85-1.15.85-.85 1.15-.85-1.15zM416.69 363.96m-2 0 1.15-.85.85-1.15.85 1.15 1.15.85-1.15.85-.85 1.15-.85-1.15zM506.50 363.96m-2 0 1.15-.85.85-1.15.85 1.15 1.15.85-1.15.85-.85 1.15-.85-1.15zM511.23 363.96m-2 0 1.15-.85.85-1.15.85 1.15 1.15.85-1.15.85-.85 1.15-.85-1.15zM515.95 363.96m-2 0 1.15-.85.85-1.15.85 1.15 1.15.85-1.15.85-.85 1.15-.85-1.15zM520.68 363.96m-2 0 1.15-.85.85-1.15.85 1.15 1.15.85-1.15.85-.85 1.15-.85-1.15zM525.41 363.96m-2 0 1.15-.85.85-1.15.85 1.15 1.15.85-1.15.85-.85 1.15-.85-1.15zM530.14 363.96m-2 0 1.15-.85.85-1.15.85 1.15 1.15.85-1.15.85-.85 1.15-.85-1.15zM534.86 363.96m-2 0 1.15-.85.85-1.15.85 1.15 1.15.85-1.15.85-.85 1.15-.85-1.15zM539.59 363.96m-2 0 1.15-.85.85-1.15.85 1.15 1.15.85-1.15.85-.85 1.15-.85-1.15zM544.32 363.96m-2 0 1.15-.85.85-1.15.85 1.15 1.15.85-1.15.85-.85 1.15-.85-1.15zM549.04 363.96m-2 0 1.15-.85.85-1.15.85 1.15 1.15.85-1.15.85-.85 1.15-.85-1.15zM563.23 363.96m-2 0 1.15-.85.85-1.15.85 1.15 1.15.85-1.15.85-.85 1.15-.85-1.15zM695.58 363.96m-2 0 1.15-.85.85-1.15.85 1.15 1.15.85-1.15.85-.85 1.15-.85-1.15zM700.31 363.96m-2 0 1.15-.85.85-1.15.85 1.15 1.15.85-1.15.85-.85 1.15-.85-1.15zM705.04 363.96m-2 0 1.15-.85.85-1.15.85 1.15 1.15.85-1.15.85-.85 1.15-.85-1.15zM714.49 363.96m-2 0 1.15-.85.85-1.15.85 1.15 1.15.85-1.15.85-.85 1.15-.85-1.15zM359.96 368.70m-2 0 1.15-.85.85-1.15.85 1.15 1.15.85-1.15.85-.85 1.15-.85-1.15zM364.69 368.70m-2 0 1.15-.85.85-1.15.85 1.15 1.15.85-1.15.85-.85 1.15-.85-1.15zM369.42 368.70m-2 0 1.15-.85.85-1.15.85 1.15 1.15.85-1.15.85-.85 1.15-.85-1.15zM374.14 368.70m-2 0 1.15-.85.85-1.15.85 1.15 1.15.85-1.15.85-.85 1.15-.85-1.15zM378.87 368.70m-2 0 1.15-.85.85-1.15.85 1.15 1.15.85-1.15.85-.85 1.15-.85-1.15zM383.60 368.70m-2 0 1.15-.85.85-1.15.85 1.15 1.15.85-1.15.85-.85 1.15-.85-1.15zM388.33 368.70m-2 0 1.15-.85.85-1.15.85 1.15 1.15.85-1.15.85-.85 1.15-.85-1.15zM393.05 368.70m-2 0 1.15-.85.85-1.15.85 1.15 1.15.85-1.15.85-.85 1.15-.85-1.15zM397.78 368.70m-2 0 1.15-.85.85-1.15.85 1.15 1.15.85-1.15.85-.85 1.15-.85-1.15zM402.51 368.70m-2 0 1.15-.85.85-1.15.85 1.15 1.15.85-1.15.85-.85 1.15-.85-1.15zM407.23 368.70m-2 0 1.15-.85.85-1.15.85 1.15 1.15.85-1.15.85-.85 1.15-.85-1.15zM411.96 368.70m-2 0 1.15-.85.85-1.15.85 1.15 1.15.85-1.15.85-.85 1.15-.85-1.15zM416.69 368.70m-2 0 1.15-.85.85-1.15.85 1.15 1.15.85-1.15.85-.85 1.15-.85-1.15zM501.77 368.70m-2 0 1.15-.85.85-1.15.85 1.15 1.15.85-1.15.85-.85 1.15-.85-1.15zM506.50 368.70m-2 0 1.15-.85.85-1.15.85 1.15 1.15.85-1.15.85-.85 1.15-.85-1.15zM511.23 368.70m-2 0 1.15-.85.85-1.15.85 1.15 1.15.85-1.15.85-.85 1.15-.85-1.15zM515.95 368.70m-2 0 1.15-.85.85-1.15.85 1.15 1.15.85-1.15.85-.85 1.15-.85-1.15zM520.68 368.70m-2 0 1.15-.85.85-1.15.85 1.15 1.15.85-1.15.85-.85 1.15-.85-1.15zM525.41 368.70m-2 0 1.15-.85.85-1.15.85 1.15 1.15.85-1.15.85-.85 1.15-.85-1.15zM530.14 368.70m-2 0 1.15-.85.85-1.15.85 1.15 1.15.85-1.15.85-.85 1.15-.85-1.15zM534.86 368.70m-2 0 1.15-.85.85-1.15.85 1.15 1.15.85-1.15.85-.85 1.15-.85-1.15zM539.59 368.70m-2 0 1.15-.85.85-1.15.85 1.15 1.15.85-1.15.85-.85 1.15-.85-1.15zM544.32 368.70m-2 0 1.15-.85.85-1.15.85 1.15 1.15.85-1.15.85-.85 1.15-.85-1.15zM549.04 368.70m-2 0 1.15-.85.85-1.15.85 1.15 1.15.85-1.15.85-.85 1.15-.85-1.15zM563.23 368.70m-2 0 1.15-.85.85-1.15.85 1.15 1.15.85-1.15.85-.85 1.15-.85-1.15zM686.13 368.70m-2 0 1.15-.85.85-1.15.85 1.15 1.15.85-1.15.85-.85 1.15-.85-1.15zM690.85 368.70m-2 0 1.15-.85.85-1.15.85 1.15 1.15.85-1.15.85-.85 1.15-.85-1.15zM695.58 368.70m-2 0 1.15-.85.85-1.15.85 1.15 1.15.85-1.15.85-.85 1.15-.85-1.15zM700.31 368.70m-2 0 1.15-.85.85-1.15.85 1.15 1.15.85-1.15.85-.85 1.15-.85-1.15zM705.04 368.70m-2 0 1.15-.85.85-1.15.85 1.15 1.15.85-1.15.85-.85 1.15-.85-1.15zM714.49 368.70m-2 0 1.15-.85.85-1.15.85 1.15 1.15.85-1.15.85-.85 1.15-.85-1.15zM719.22 368.70m-2 0 1.15-.85.85-1.15.85 1.15 1.15.85-1.15.85-.85 1.15-.85-1.15zM369.42 373.44m-2 0 1.15-.85.85-1.15.85 1.15 1.15.85-1.15.85-.85 1.15-.85-1.15zM374.14 373.44m-2 0 1.15-.85.85-1.15.85 1.15 1.15.85-1.15.85-.85 1.15-.85-1.15zM378.87 373.44m-2 0 1.15-.85.85-1.15.85 1.15 1.15.85-1.15.85-.85 1.15-.85-1.15zM383.60 373.44m-2 0 1.15-.85.85-1.15.85 1.15 1.15.85-1.15.85-.85 1.15-.85-1.15zM388.33 373.44m-2 0 1.15-.85.85-1.15.85 1.15 1.15.85-1.15.85-.85 1.15-.85-1.15zM393.05 373.44m-2 0 1.15-.85.85-1.15.85 1.15 1.15.85-1.15.85-.85 1.15-.85-1.15zM397.78 373.44m-2 0 1.15-.85.85-1.15.85 1.15 1.15.85-1.15.85-.85 1.15-.85-1.15zM402.51 373.44m-2 0 1.15-.85.85-1.15.85 1.15 1.15.85-1.15.85-.85 1.15-.85-1.15zM407.23 373.44m-2 0 1.15-.85.85-1.15.85 1.15 1.15.85-1.15.85-.85 1.15-.85-1.15zM411.96 373.44m-2 0 1.15-.85.85-1.15.85 1.15 1.15.85-1.15.85-.85 1.15-.85-1.15zM416.69 373.44m-2 0 1.15-.85.85-1.15.85 1.15 1.15.85-1.15.85-.85 1.15-.85-1.15zM506.50 373.44m-2 0 1.15-.85.85-1.15.85 1.15 1.15.85-1.15.85-.85 1.15-.85-1.15zM511.23 373.44m-2 0 1.15-.85.85-1.15.85 1.15 1.15.85-1.15.85-.85 1.15-.85-1.15zM515.95 373.44m-2 0 1.15-.85.85-1.15.85 1.15 1.15.85-1.15.85-.85 1.15-.85-1.15zM520.68 373.44m-2 0 1.15-.85.85-1.15.85 1.15 1.15.85-1.15.85-.85 1.15-.85-1.15zM525.41 373.44m-2 0 1.15-.85.85-1.15.85 1.15 1.15.85-1.15.85-.85 1.15-.85-1.15zM530.14 373.44m-2 0 1.15-.85.85-1.15.85 1.15 1.15.85-1.15.85-.85 1.15-.85-1.15zM534.86 373.44m-2 0 1.15-.85.85-1.15.85 1.15 1.15.85-1.15.85-.85 1.15-.85-1.15zM539.59 373.44m-2 0 1.15-.85.85-1.15.85 1.15 1.15.85-1.15.85-.85 1.15-.85-1.15zM558.50 373.44m-2 0 1.15-.85.85-1.15.85 1.15 1.15.85-1.15.85-.85 1.15-.85-1.15zM563.23 373.44m-2 0 1.15-.85.85-1.15.85 1.15 1.15.85-1.15.85-.85 1.15-.85-1.15zM681.40 373.44m-2 0 1.15-.85.85-1.15.85 1.15 1.15.85-1.15.85-.85 1.15-.85-1.15zM686.13 373.44m-2 0 1.15-.85.85-1.15.85 1.15 1.15.85-1.15.85-.85 1.15-.85-1.15zM690.85 373.44m-2 0 1.15-.85.85-1.15.85 1.15 1.15.85-1.15.85-.85 1.15-.85-1.15zM695.58 373.44m-2 0 1.15-.85.85-1.15.85 1.15 1.15.85-1.15.85-.85 1.15-.85-1.15zM700.31 373.44m-2 0 1.15-.85.85-1.15.85 1.15 1.15.85-1.15.85-.85 1.15-.85-1.15zM705.04 373.44m-2 0 1.15-.85.85-1.15.85 1.15 1.15.85-1.15.85-.85 1.15-.85-1.15zM709.76 373.44m-2 0 1.15-.85.85-1.15.85 1.15 1.15.85-1.15.85-.85 1.15-.85-1.15zM714.49 373.44m-2 0 1.15-.85.85-1.15.85 1.15 1.15.85-1.15.85-.85 1.15-.85-1.15zM719.22 373.44m-2 0 1.15-.85.85-1.15.85 1.15 1.15.85-1.15.85-.85 1.15-.85-1.15zM369.42 378.18m-2 0 1.15-.85.85-1.15.85 1.15 1.15.85-1.15.85-.85 1.15-.85-1.15zM374.14 378.18m-2 0 1.15-.85.85-1.15.85 1.15 1.15.85-1.15.85-.85 1.15-.85-1.15zM378.87 378.18m-2 0 1.15-.85.85-1.15.85 1.15 1.15.85-1.15.85-.85 1.15-.85-1.15zM383.60 378.18m-2 0 1.15-.85.85-1.15.85 1.15 1.15.85-1.15.85-.85 1.15-.85-1.15zM388.33 378.18m-2 0 1.15-.85.85-1.15.85 1.15 1.15.85-1.15.85-.85 1.15-.85-1.15zM393.05 378.18m-2 0 1.15-.85.85-1.15.85 1.15 1.15.85-1.15.85-.85 1.15-.85-1.15zM397.78 378.18m-2 0 1.15-.85.85-1.15.85 1.15 1.15.85-1.15.85-.85 1.15-.85-1.15zM402.51 378.18m-2 0 1.15-.85.85-1.15.85 1.15 1.15.85-1.15.85-.85 1.15-.85-1.15zM407.23 378.18m-2 0 1.15-.85.85-1.15.85 1.15 1.15.85-1.15.85-.85 1.15-.85-1.15zM411.96 378.18m-2 0 1.15-.85.85-1.15.85 1.15 1.15.85-1.15.85-.85 1.15-.85-1.15zM416.69 378.18m-2 0 1.15-.85.85-1.15.85 1.15 1.15.85-1.15.85-.85 1.15-.85-1.15zM506.50 378.18m-2 0 1.15-.85.85-1.15.85 1.15 1.15.85-1.15.85-.85 1.15-.85-1.15zM511.23 378.18m-2 0 1.15-.85.85-1.15.85 1.15 1.15.85-1.15.85-.85 1.15-.85-1.15zM515.95 378.18m-2 0 1.15-.85.85-1.15.85 1.15 1.15.85-1.15.85-.85 1.15-.85-1.15zM520.68 378.18m-2 0 1.15-.85.85-1.15.85 1.15 1.15.85-1.15.85-.85 1.15-.85-1.15zM525.41 378.18m-2 0 1.15-.85.85-1.15.85 1.15 1.15.85-1.15.85-.85 1.15-.85-1.15zM530.14 378.18m-2 0 1.15-.85.85-1.15.85 1.15 1.15.85-1.15.85-.85 1.15-.85-1.15zM534.86 378.18m-2 0 1.15-.85.85-1.15.85 1.15 1.15.85-1.15.85-.85 1.15-.85-1.15zM539.59 378.18m-2 0 1.15-.85.85-1.15.85 1.15 1.15.85-1.15.85-.85 1.15-.85-1.15zM558.50 378.18m-2 0 1.15-.85.85-1.15.85 1.15 1.15.85-1.15.85-.85 1.15-.85-1.15zM671.95 378.18m-2 0 1.15-.85.85-1.15.85 1.15 1.15.85-1.15.85-.85 1.15-.85-1.15zM676.67 378.18m-2 0 1.15-.85.85-1.15.85 1.15 1.15.85-1.15.85-.85 1.15-.85-1.15zM681.40 378.18m-2 0 1.15-.85.85-1.15.85 1.15 1.15.85-1.15.85-.85 1.15-.85-1.15zM686.13 378.18m-2 0 1.15-.85.85-1.15.85 1.15 1.15.85-1.15.85-.85 1.15-.85-1.15zM690.85 378.18m-2 0 1.15-.85.85-1.15.85 1.15 1.15.85-1.15.85-.85 1.15-.85-1.15zM695.58 378.18m-2 0 1.15-.85.85-1.15.85 1.15 1.15.85-1.15.85-.85 1.15-.85-1.15zM700.31 378.18m-2 0 1.15-.85.85-1.15.85 1.15 1.15.85-1.15.85-.85 1.15-.85-1.15zM705.04 378.18m-2 0 1.15-.85.85-1.15.85 1.15 1.15.85-1.15.85-.85 1.15-.85-1.15zM709.76 378.18m-2 0 1.15-.85.85-1.15.85 1.15 1.15.85-1.15.85-.85 1.15-.85-1.15zM714.49 378.18m-2 0 1.15-.85.85-1.15.85 1.15 1.15.85-1.15.85-.85 1.15-.85-1.15zM719.22 378.18m-2 0 1.15-.85.85-1.15.85 1.15 1.15.85-1.15.85-.85 1.15-.85-1.15zM723.94 378.18m-2 0 1.15-.85.85-1.15.85 1.15 1.15.85-1.15.85-.85 1.15-.85-1.15zM369.42 382.92m-2 0 1.15-.85.85-1.15.85 1.15 1.15.85-1.15.85-.85 1.15-.85-1.15zM374.14 382.92m-2 0 1.15-.85.85-1.15.85 1.15 1.15.85-1.15.85-.85 1.15-.85-1.15zM378.87 382.92m-2 0 1.15-.85.85-1.15.85 1.15 1.15.85-1.15.85-.85 1.15-.85-1.15zM383.60 382.92m-2 0 1.15-.85.85-1.15.85 1.15 1.15.85-1.15.85-.85 1.15-.85-1.15zM388.33 382.92m-2 0 1.15-.85.85-1.15.85 1.15 1.15.85-1.15.85-.85 1.15-.85-1.15zM393.05 382.92m-2 0 1.15-.85.85-1.15.85 1.15 1.15.85-1.15.85-.85 1.15-.85-1.15zM397.78 382.92m-2 0 1.15-.85.85-1.15.85 1.15 1.15.85-1.15.85-.85 1.15-.85-1.15zM402.51 382.92m-2 0 1.15-.85.85-1.15.85 1.15 1.15.85-1.15.85-.85 1.15-.85-1.15zM511.23 382.92m-2 0 1.15-.85.85-1.15.85 1.15 1.15.85-1.15.85-.85 1.15-.85-1.15zM515.95 382.92m-2 0 1.15-.85.85-1.15.85 1.15 1.15.85-1.15.85-.85 1.15-.85-1.15zM520.68 382.92m-2 0 1.15-.85.85-1.15.85 1.15 1.15.85-1.15.85-.85 1.15-.85-1.15zM525.41 382.92m-2 0 1.15-.85.85-1.15.85 1.15 1.15.85-1.15.85-.85 1.15-.85-1.15zM530.14 382.92m-2 0 1.15-.85.85-1.15.85 1.15 1.15.85-1.15.85-.85 1.15-.85-1.15zM534.86 382.92m-2 0 1.15-.85.85-1.15.85 1.15 1.15.85-1.15.85-.85 1.15-.85-1.15zM539.59 382.92m-2 0 1.15-.85.85-1.15.85 1.15 1.15.85-1.15.85-.85 1.15-.85-1.15zM558.50 382.92m-2 0 1.15-.85.85-1.15.85 1.15 1.15.85-1.15.85-.85 1.15-.85-1.15zM671.95 382.92m-2 0 1.15-.85.85-1.15.85 1.15 1.15.85-1.15.85-.85 1.15-.85-1.15zM676.67 382.92m-2 0 1.15-.85.85-1.15.85 1.15 1.15.85-1.15.85-.85 1.15-.85-1.15zM681.40 382.92m-2 0 1.15-.85.85-1.15.85 1.15 1.15.85-1.15.85-.85 1.15-.85-1.15zM686.13 382.92m-2 0 1.15-.85.85-1.15.85 1.15 1.15.85-1.15.85-.85 1.15-.85-1.15zM690.85 382.92m-2 0 1.15-.85.85-1.15.85 1.15 1.15.85-1.15.85-.85 1.15-.85-1.15zM695.58 382.92m-2 0 1.15-.85.85-1.15.85 1.15 1.15.85-1.15.85-.85 1.15-.85-1.15zM700.31 382.92m-2 0 1.15-.85.85-1.15.85 1.15 1.15.85-1.15.85-.85 1.15-.85-1.15zM705.04 382.92m-2 0 1.15-.85.85-1.15.85 1.15 1.15.85-1.15.85-.85 1.15-.85-1.15zM709.76 382.92m-2 0 1.15-.85.85-1.15.85 1.15 1.15.85-1.15.85-.85 1.15-.85-1.15zM714.49 382.92m-2 0 1.15-.85.85-1.15.85 1.15 1.15.85-1.15.85-.85 1.15-.85-1.15zM719.22 382.92m-2 0 1.15-.85.85-1.15.85 1.15 1.15.85-1.15.85-.85 1.15-.85-1.15zM723.94 382.92m-2 0 1.15-.85.85-1.15.85 1.15 1.15.85-1.15.85-.85 1.15-.85-1.15zM728.67 382.92m-2 0 1.15-.85.85-1.15.85 1.15 1.15.85-1.15.85-.85 1.15-.85-1.15zM369.42 387.67m-2 0 1.15-.85.85-1.15.85 1.15 1.15.85-1.15.85-.85 1.15-.85-1.15zM374.14 387.67m-2 0 1.15-.85.85-1.15.85 1.15 1.15.85-1.15.85-.85 1.15-.85-1.15zM378.87 387.67m-2 0 1.15-.85.85-1.15.85 1.15 1.15.85-1.15.85-.85 1.15-.85-1.15zM383.60 387.67m-2 0 1.15-.85.85-1.15.85 1.15 1.15.85-1.15.85-.85 1.15-.85-1.15zM388.33 387.67m-2 0 1.15-.85.85-1.15.85 1.15 1.15.85-1.15.85-.85 1.15-.85-1.15zM393.05 387.67m-2 0 1.15-.85.85-1.15.85 1.15 1.15.85-1.15.85-.85 1.15-.85-1.15zM397.78 387.67m-2 0 1.15-.85.85-1.15.85 1.15 1.15.85-1.15.85-.85 1.15-.85-1.15zM402.51 387.67m-2 0 1.15-.85.85-1.15.85 1.15 1.15.85-1.15.85-.85 1.15-.85-1.15zM511.23 387.67m-2 0 1.15-.85.85-1.15.85 1.15 1.15.85-1.15.85-.85 1.15-.85-1.15zM515.95 387.67m-2 0 1.15-.85.85-1.15.85 1.15 1.15.85-1.15.85-.85 1.15-.85-1.15zM520.68 387.67m-2 0 1.15-.85.85-1.15.85 1.15 1.15.85-1.15.85-.85 1.15-.85-1.15zM525.41 387.67m-2 0 1.15-.85.85-1.15.85 1.15 1.15.85-1.15.85-.85 1.15-.85-1.15zM530.14 387.67m-2 0 1.15-.85.85-1.15.85 1.15 1.15.85-1.15.85-.85 1.15-.85-1.15zM534.86 387.67m-2 0 1.15-.85.85-1.15.85 1.15 1.15.85-1.15.85-.85 1.15-.85-1.15zM667.22 387.67m-2 0 1.15-.85.85-1.15.85 1.15 1.15.85-1.15.85-.85 1.15-.85-1.15zM671.95 387.67m-2 0 1.15-.85.85-1.15.85 1.15 1.15.85-1.15.85-.85 1.15-.85-1.15zM676.67 387.67m-2 0 1.15-.85.85-1.15.85 1.15 1.15.85-1.15.85-.85 1.15-.85-1.15zM681.40 387.67m-2 0 1.15-.85.85-1.15.85 1.15 1.15.85-1.15.85-.85 1.15-.85-1.15zM686.13 387.67m-2 0 1.15-.85.85-1.15.85 1.15 1.15.85-1.15.85-.85 1.15-.85-1.15zM690.85 387.67m-2 0 1.15-.85.85-1.15.85 1.15 1.15.85-1.15.85-.85 1.15-.85-1.15zM695.58 387.67m-2 0 1.15-.85.85-1.15.85 1.15 1.15.85-1.15.85-.85 1.15-.85-1.15zM700.31 387.67m-2 0 1.15-.85.85-1.15.85 1.15 1.15.85-1.15.85-.85 1.15-.85-1.15zM705.04 387.67m-2 0 1.15-.85.85-1.15.85 1.15 1.15.85-1.15.85-.85 1.15-.85-1.15zM709.76 387.67m-2 0 1.15-.85.85-1.15.85 1.15 1.15.85-1.15.85-.85 1.15-.85-1.15zM714.49 387.67m-2 0 1.15-.85.85-1.15.85 1.15 1.15.85-1.15.85-.85 1.15-.85-1.15zM719.22 387.67m-2 0 1.15-.85.85-1.15.85 1.15 1.15.85-1.15.85-.85 1.15-.85-1.15zM723.94 387.67m-2 0 1.15-.85.85-1.15.85 1.15 1.15.85-1.15.85-.85 1.15-.85-1.15zM728.67 387.67m-2 0 1.15-.85.85-1.15.85 1.15 1.15.85-1.15.85-.85 1.15-.85-1.15zM369.42 392.41m-2 0 1.15-.85.85-1.15.85 1.15 1.15.85-1.15.85-.85 1.15-.85-1.15zM374.14 392.41m-2 0 1.15-.85.85-1.15.85 1.15 1.15.85-1.15.85-.85 1.15-.85-1.15zM378.87 392.41m-2 0 1.15-.85.85-1.15.85 1.15 1.15.85-1.15.85-.85 1.15-.85-1.15zM383.60 392.41m-2 0 1.15-.85.85-1.15.85 1.15 1.15.85-1.15.85-.85 1.15-.85-1.15zM388.33 392.41m-2 0 1.15-.85.85-1.15.85 1.15 1.15.85-1.15.85-.85 1.15-.85-1.15zM393.05 392.41m-2 0 1.15-.85.85-1.15.85 1.15 1.15.85-1.15.85-.85 1.15-.85-1.15zM397.78 392.41m-2 0 1.15-.85.85-1.15.85 1.15 1.15.85-1.15.85-.85 1.15-.85-1.15zM402.51 392.41m-2 0 1.15-.85.85-1.15.85 1.15 1.15.85-1.15.85-.85 1.15-.85-1.15zM515.95 392.41m-2 0 1.15-.85.85-1.15.85 1.15 1.15.85-1.15.85-.85 1.15-.85-1.15zM520.68 392.41m-2 0 1.15-.85.85-1.15.85 1.15 1.15.85-1.15.85-.85 1.15-.85-1.15zM525.41 392.41m-2 0 1.15-.85.85-1.15.85 1.15 1.15.85-1.15.85-.85 1.15-.85-1.15zM530.14 392.41m-2 0 1.15-.85.85-1.15.85 1.15 1.15.85-1.15.85-.85 1.15-.85-1.15zM534.86 392.41m-2 0 1.15-.85.85-1.15.85 1.15 1.15.85-1.15.85-.85 1.15-.85-1.15zM671.95 392.41m-2 0 1.15-.85.85-1.15.85 1.15 1.15.85-1.15.85-.85 1.15-.85-1.15zM676.67 392.41m-2 0 1.15-.85.85-1.15.85 1.15 1.15.85-1.15.85-.85 1.15-.85-1.15zM681.40 392.41m-2 0 1.15-.85.85-1.15.85 1.15 1.15.85-1.15.85-.85 1.15-.85-1.15zM686.13 392.41m-2 0 1.15-.85.85-1.15.85 1.15 1.15.85-1.15.85-.85 1.15-.85-1.15zM690.85 392.41m-2 0 1.15-.85.85-1.15.85 1.15 1.15.85-1.15.85-.85 1.15-.85-1.15zM695.58 392.41m-2 0 1.15-.85.85-1.15.85 1.15 1.15.85-1.15.85-.85 1.15-.85-1.15zM700.31 392.41m-2 0 1.15-.85.85-1.15.85 1.15 1.15.85-1.15.85-.85 1.15-.85-1.15zM705.04 392.41m-2 0 1.15-.85.85-1.15.85 1.15 1.15.85-1.15.85-.85 1.15-.85-1.15zM709.76 392.41m-2 0 1.15-.85.85-1.15.85 1.15 1.15.85-1.15.85-.85 1.15-.85-1.15zM714.49 392.41m-2 0 1.15-.85.85-1.15.85 1.15 1.15.85-1.15.85-.85 1.15-.85-1.15zM719.22 392.41m-2 0 1.15-.85.85-1.15.85 1.15 1.15.85-1.15.85-.85 1.15-.85-1.15zM723.94 392.41m-2 0 1.15-.85.85-1.15.85 1.15 1.15.85-1.15.85-.85 1.15-.85-1.15zM728.67 392.41m-2 0 1.15-.85.85-1.15.85 1.15 1.15.85-1.15.85-.85 1.15-.85-1.15zM364.69 397.15m-2 0 1.15-.85.85-1.15.85 1.15 1.15.85-1.15.85-.85 1.15-.85-1.15zM369.42 397.15m-2 0 1.15-.85.85-1.15.85 1.15 1.15.85-1.15.85-.85 1.15-.85-1.15zM374.14 397.15m-2 0 1.15-.85.85-1.15.85 1.15 1.15.85-1.15.85-.85 1.15-.85-1.15zM378.87 397.15m-2 0 1.15-.85.85-1.15.85 1.15 1.15.85-1.15.85-.85 1.15-.85-1.15zM383.60 397.15m-2 0 1.15-.85.85-1.15.85 1.15 1.15.85-1.15.85-.85 1.15-.85-1.15zM388.33 397.15m-2 0 1.15-.85.85-1.15.85 1.15 1.15.85-1.15.85-.85 1.15-.85-1.15zM393.05 397.15m-2 0 1.15-.85.85-1.15.85 1.15 1.15.85-1.15.85-.85 1.15-.85-1.15zM397.78 397.15m-2 0 1.15-.85.85-1.15.85 1.15 1.15.85-1.15.85-.85 1.15-.85-1.15zM515.95 397.15m-2 0 1.15-.85.85-1.15.85 1.15 1.15.85-1.15.85-.85 1.15-.85-1.15zM520.68 397.15m-2 0 1.15-.85.85-1.15.85 1.15 1.15.85-1.15.85-.85 1.15-.85-1.15zM525.41 397.15m-2 0 1.15-.85.85-1.15.85 1.15 1.15.85-1.15.85-.85 1.15-.85-1.15zM530.14 397.15m-2 0 1.15-.85.85-1.15.85 1.15 1.15.85-1.15.85-.85 1.15-.85-1.15zM676.67 397.15m-2 0 1.15-.85.85-1.15.85 1.15 1.15.85-1.15.85-.85 1.15-.85-1.15zM681.40 397.15m-2 0 1.15-.85.85-1.15.85 1.15 1.15.85-1.15.85-.85 1.15-.85-1.15zM686.13 397.15m-2 0 1.15-.85.85-1.15.85 1.15 1.15.85-1.15.85-.85 1.15-.85-1.15zM690.85 397.15m-2 0 1.15-.85.85-1.15.85 1.15 1.15.85-1.15.85-.85 1.15-.85-1.15zM700.31 397.15m-2 0 1.15-.85.85-1.15.85 1.15 1.15.85-1.15.85-.85 1.15-.85-1.15zM705.04 397.15m-2 0 1.15-.85.85-1.15.85 1.15 1.15.85-1.15.85-.85 1.15-.85-1.15zM709.76 397.15m-2 0 1.15-.85.85-1.15.85 1.15 1.15.85-1.15.85-.85 1.15-.85-1.15zM714.49 397.15m-2 0 1.15-.85.85-1.15.85 1.15 1.15.85-1.15.85-.85 1.15-.85-1.15zM719.22 397.15m-2 0 1.15-.85.85-1.15.85 1.15 1.15.85-1.15.85-.85 1.15-.85-1.15zM723.94 397.15m-2 0 1.15-.85.85-1.15.85 1.15 1.15.85-1.15.85-.85 1.15-.85-1.15zM728.67 397.15m-2 0 1.15-.85.85-1.15.85 1.15 1.15.85-1.15.85-.85 1.15-.85-1.15zM733.40 397.15m-2 0 1.15-.85.85-1.15.85 1.15 1.15.85-1.15.85-.85 1.15-.85-1.15zM369.42 401.89m-2 0 1.15-.85.85-1.15.85 1.15 1.15.85-1.15.85-.85 1.15-.85-1.15zM374.14 401.89m-2 0 1.15-.85.85-1.15.85 1.15 1.15.85-1.15.85-.85 1.15-.85-1.15zM378.87 401.89m-2 0 1.15-.85.85-1.15.85 1.15 1.15.85-1.15.85-.85 1.15-.85-1.15zM383.60 401.89m-2 0 1.15-.85.85-1.15.85 1.15 1.15.85-1.15.85-.85 1.15-.85-1.15zM388.33 401.89m-2 0 1.15-.85.85-1.15.85 1.15 1.15.85-1.15.85-.85 1.15-.85-1.15zM393.05 401.89m-2 0 1.15-.85.85-1.15.85 1.15 1.15.85-1.15.85-.85 1.15-.85-1.15zM515.95 401.89m-2 0 1.15-.85.85-1.15.85 1.15 1.15.85-1.15.85-.85 1.15-.85-1.15zM525.41 401.89m-2 0 1.15-.85.85-1.15.85 1.15 1.15.85-1.15.85-.85 1.15-.85-1.15zM671.95 401.89m-2 0 1.15-.85.85-1.15.85 1.15 1.15.85-1.15.85-.85 1.15-.85-1.15zM676.67 401.89m-2 0 1.15-.85.85-1.15.85 1.15 1.15.85-1.15.85-.85 1.15-.85-1.15zM686.13 401.89m-2 0 1.15-.85.85-1.15.85 1.15 1.15.85-1.15.85-.85 1.15-.85-1.15zM705.04 401.89m-2 0 1.15-.85.85-1.15.85 1.15 1.15.85-1.15.85-.85 1.15-.85-1.15zM709.76 401.89m-2 0 1.15-.85.85-1.15.85 1.15 1.15.85-1.15.85-.85 1.15-.85-1.15zM714.49 401.89m-2 0 1.15-.85.85-1.15.85 1.15 1.15.85-1.15.85-.85 1.15-.85-1.15zM719.22 401.89m-2 0 1.15-.85.85-1.15.85 1.15 1.15.85-1.15.85-.85 1.15-.85-1.15zM723.94 401.89m-2 0 1.15-.85.85-1.15.85 1.15 1.15.85-1.15.85-.85 1.15-.85-1.15zM728.67 401.89m-2 0 1.15-.85.85-1.15.85 1.15 1.15.85-1.15.85-.85 1.15-.85-1.15zM364.69 406.63m-2 0 1.15-.85.85-1.15.85 1.15 1.15.85-1.15.85-.85 1.15-.85-1.15zM369.42 406.63m-2 0 1.15-.85.85-1.15.85 1.15 1.15.85-1.15.85-.85 1.15-.85-1.15zM374.14 406.63m-2 0 1.15-.85.85-1.15.85 1.15 1.15.85-1.15.85-.85 1.15-.85-1.15zM378.87 406.63m-2 0 1.15-.85.85-1.15.85 1.15 1.15.85-1.15.85-.85 1.15-.85-1.15zM383.60 406.63m-2 0 1.15-.85.85-1.15.85 1.15 1.15.85-1.15.85-.85 1.15-.85-1.15zM388.33 406.63m-2 0 1.15-.85.85-1.15.85 1.15 1.15.85-1.15.85-.85 1.15-.85-1.15zM714.49 406.63m-2 0 1.15-.85.85-1.15.85 1.15 1.15.85-1.15.85-.85 1.15-.85-1.15zM719.22 406.63m-2 0 1.15-.85.85-1.15.85 1.15 1.15.85-1.15.85-.85 1.15-.85-1.15zM723.94 406.63m-2 0 1.15-.85.85-1.15.85 1.15 1.15.85-1.15.85-.85 1.15-.85-1.15zM728.67 406.63m-2 0 1.15-.85.85-1.15.85 1.15 1.15.85-1.15.85-.85 1.15-.85-1.15zM766.49 406.63m-2 0 1.15-.85.85-1.15.85 1.15 1.15.85-1.15.85-.85 1.15-.85-1.15zM364.69 411.37m-2 0 1.15-.85.85-1.15.85 1.15 1.15.85-1.15.85-.85 1.15-.85-1.15zM369.42 411.37m-2 0 1.15-.85.85-1.15.85 1.15 1.15.85-1.15.85-.85 1.15-.85-1.15zM374.14 411.37m-2 0 1.15-.85.85-1.15.85 1.15 1.15.85-1.15.85-.85 1.15-.85-1.15zM378.87 411.37m-2 0 1.15-.85.85-1.15.85 1.15 1.15.85-1.15.85-.85 1.15-.85-1.15zM383.60 411.37m-2 0 1.15-.85.85-1.15.85 1.15 1.15.85-1.15.85-.85 1.15-.85-1.15zM388.33 411.37m-2 0 1.15-.85.85-1.15.85 1.15 1.15.85-1.15.85-.85 1.15-.85-1.15zM714.49 411.37m-2 0 1.15-.85.85-1.15.85 1.15 1.15.85-1.15.85-.85 1.15-.85-1.15zM771.21 411.37m-2 0 1.15-.85.85-1.15.85 1.15 1.15.85-1.15.85-.85 1.15-.85-1.15zM364.69 416.11m-2 0 1.15-.85.85-1.15.85 1.15 1.15.85-1.15.85-.85 1.15-.85-1.15zM369.42 416.11m-2 0 1.15-.85.85-1.15.85 1.15 1.15.85-1.15.85-.85 1.15-.85-1.15zM374.14 416.11m-2 0 1.15-.85.85-1.15.85 1.15 1.15.85-1.15.85-.85 1.15-.85-1.15zM378.87 416.11m-2 0 1.15-.85.85-1.15.85 1.15 1.15.85-1.15.85-.85 1.15-.85-1.15zM719.22 416.11m-2 0 1.15-.85.85-1.15.85 1.15 1.15.85-1.15.85-.85 1.15-.85-1.15zM723.94 416.11m-2 0 1.15-.85.85-1.15.85 1.15 1.15.85-1.15.85-.85 1.15-.85-1.15zM771.21 416.11m-2 0 1.15-.85.85-1.15.85 1.15 1.15.85-1.15.85-.85 1.15-.85-1.15zM364.69 420.85m-2 0 1.15-.85.85-1.15.85 1.15 1.15.85-1.15.85-.85 1.15-.85-1.15zM369.42 420.85m-2 0 1.15-.85.85-1.15.85 1.15 1.15.85-1.15.85-.85 1.15-.85-1.15zM374.14 420.85m-2 0 1.15-.85.85-1.15.85 1.15 1.15.85-1.15.85-.85 1.15-.85-1.15zM723.94 420.85m-2 0 1.15-.85.85-1.15.85 1.15 1.15.85-1.15.85-.85 1.15-.85-1.15zM761.76 420.85m-2 0 1.15-.85.85-1.15.85 1.15 1.15.85-1.15.85-.85 1.15-.85-1.15zM364.69 425.59m-2 0 1.15-.85.85-1.15.85 1.15 1.15.85-1.15.85-.85 1.15-.85-1.15zM369.42 425.59m-2 0 1.15-.85.85-1.15.85 1.15 1.15.85-1.15.85-.85 1.15-.85-1.15zM757.03 425.59m-2 0 1.15-.85.85-1.15.85 1.15 1.15.85-1.15.85-.85 1.15-.85-1.15zM761.76 425.59m-2 0 1.15-.85.85-1.15.85 1.15 1.15.85-1.15.85-.85 1.15-.85-1.15zM359.96 430.33m-2 0 1.15-.85.85-1.15.85 1.15 1.15.85-1.15.85-.85 1.15-.85-1.15zM364.69 430.33m-2 0 1.15-.85.85-1.15.85 1.15 1.15.85-1.15.85-.85 1.15-.85-1.15zM369.42 430.33m-2 0 1.15-.85.85-1.15.85 1.15 1.15.85-1.15.85-.85 1.15-.85-1.15zM374.14 430.33m-2 0 1.15-.85.85-1.15.85 1.15 1.15.85-1.15.85-.85 1.15-.85-1.15zM364.69 435.08m-2 0 1.15-.85.85-1.15.85 1.15 1.15.85-1.15.85-.85 1.15-.85-1.15zM369.42 435.08m-2 0 1.15-.85.85-1.15.85 1.15 1.15.85-1.15.85-.85 1.15-.85-1.15zM364.69 439.82m-2 0 1.15-.85.85-1.15.85 1.15 1.15.85-1.15.85-.85 1.15-.85-1.15zM364.69 444.56m-2 0 1.15-.85.85-1.15.85 1.15 1.15.85-1.15.85-.85 1.15-.85-1.15zM369.42 444.56m-2 0 1.15-.85.85-1.15.85 1.15 1.15.85-1.15.85-.85 1.15-.85-1.15zM369.42 449.30m-2 0 1.15-.85.85-1.15.85 1.15 1.15.85-1.15.85-.85 1.15-.85-1.15z"/>
<polyline fill="none" stroke="#079de3" stroke-width="0.85" points="396,61.5 468,61.5"/><polyline fill="none" stroke="#079de3" stroke-width="1" points="468,62 575,62 575,131"/><polyline fill="none" stroke="#079de3" stroke-width="0.85" points="574.5,131 574.5,262.5"/><polyline fill="none" stroke="#079de3" stroke-width="0.9" points="574.25,262.5 574.25,298"/><polyline fill="none" stroke="#8cc63f" stroke-width="1" points="811,98.5 647.5,98.5 647.5,312"/><polyline fill="none" stroke="#8cc63f" stroke-width="1" points="811,98 865.1,98"/><polyline fill="none" stroke="#079de3" stroke-width="1.15" points="865.1,179 617,179 617,312"/><polyline fill="none" stroke="#8cc63f" stroke-width="1" points="94,211 590.5,211"/><polyline fill="none" stroke="#8cc63f" stroke-width="1" points="590.45,210.5 590.45,288"/><polyline fill="none" stroke="#8cc63f" stroke-width="1" points="865.1,264.5 691.45,264.5 691.45,324"/><polyline fill="none" stroke="#079de3" stroke-width="0.85" points="94,293 558,293"/><polyline fill="none" stroke="#079de3" stroke-width="1" points="865.1,342.5 653,342.5"/><polyline fill="none" stroke="#8cc63f" stroke-width="1" points="867,409 670.1,409 670.1,329"/><polyline fill="none" stroke="#079de3" stroke-width="1" points="865.1,475.5 705.7,475.5 705.7,353"/>
<circle cx="557.95" cy="293.35" r="7.4" fill="#079de3"/><circle cx="574.1" cy="299.1" r="7.4" fill="#079de3"/><circle cx="590.4" cy="287.6" r="7.4" fill="#8cc63f"/><circle cx="616.5" cy="312.6" r="7.4" fill="#079de3"/><circle cx="647.35" cy="312.65" r="7.4" fill="#8cc63f"/><circle cx="669.4" cy="329.3" r="7.4" fill="#8cc63f"/><circle cx="691.4" cy="324.5" r="7.4" fill="#8cc63f"/><circle cx="653.3" cy="343.05" r="7.4" fill="#079de3"/><circle cx="705.85" cy="353.7" r="7.4" fill="#079de3"/>
<g transform="translate(397.40 53.90)" fill="#1a9ce4" stroke="#1a9ce4" stroke-width="2.55" stroke-linejoin="round"><g transform="translate(0.00 0)"><path d="M4.7 -15.95L0 -4.7V-2.8H10.6V-4.9H2.75L7.2 -15.95Z" stroke="none"/><path d="M8.8 -9.4V0" fill="none"/></g><g transform="translate(12.30 0)"><ellipse cx="2.9" cy="-12.5" rx="1.75" ry="2.55" fill="none" stroke-width="2.0"/><ellipse cx="10.65" cy="-3.5" rx="1.75" ry="2.55" fill="none" stroke-width="2.0"/><path d="M12.0 -15.7L1.4 -0.3" fill="none" stroke-width="2.0"/></g></g><text x="430" y="53.9" font-size="14.3" fill="#414a53" stroke="#414a53" stroke-width="0.55" stroke-linejoin="round" textLength="144.0" lengthAdjust="spacingAndGlyphs">United Arab Emirates</text><g transform="translate(761.90 90.00)" fill="#7fc241" stroke="#7fc241" stroke-width="2.55" stroke-linejoin="round"><g transform="translate(0.00 0)"><path d="M8.95 -15.0H2.1L1.7 -8.5C3.6 -9.7 9.0 -10.1 9.0 -5.0C9.0 -0.4 3.4 -0.1 0.6 -2.5" fill="none"/></g><g transform="translate(12.30 0)"><ellipse cx="5.15" cy="-10.95" rx="4.1" ry="4.15" fill="none"/><path d="M9.25 -11C9.25 -4.2 6 -1.5 1.8 -0.85" fill="none"/></g><g transform="translate(24.60 0)"><ellipse cx="2.9" cy="-12.5" rx="1.75" ry="2.55" fill="none" stroke-width="2.0"/><ellipse cx="10.65" cy="-3.5" rx="1.75" ry="2.55" fill="none" stroke-width="2.0"/><path d="M12.0 -15.7L1.4 -0.3" fill="none" stroke-width="2.0"/></g></g><text x="806.3" y="90.0" font-size="14.3" fill="#414a53" stroke="#414a53" stroke-width="0.55" stroke-linejoin="round" textLength="58.8" lengthAdjust="spacingAndGlyphs">Thailand</text><g transform="translate(797.70 170.60)" fill="#1a9ce4" stroke="#1a9ce4" stroke-width="2.55" stroke-linejoin="round"><g transform="translate(0.00 0)"><path d="M4.7 -15.95L0 -4.7V-2.8H10.6V-4.9H2.75L7.2 -15.95Z" stroke="none"/><path d="M8.8 -9.4V0" fill="none"/></g><g transform="translate(12.30 0)"><ellipse cx="2.9" cy="-12.5" rx="1.75" ry="2.55" fill="none" stroke-width="2.0"/><ellipse cx="10.65" cy="-3.5" rx="1.75" ry="2.55" fill="none" stroke-width="2.0"/><path d="M12.0 -15.7L1.4 -0.3" fill="none" stroke-width="2.0"/></g></g><text x="830.5" y="170.6" font-size="14.3" fill="#414a53" stroke="#414a53" stroke-width="0.55" stroke-linejoin="round" textLength="34.6" lengthAdjust="spacingAndGlyphs">India</text><g transform="translate(94.60 201.90)" fill="#7fc241" stroke="#7fc241" stroke-width="2.55" stroke-linejoin="round"><g transform="translate(0.00 0)"><path d="M1.0 -13.1C2.4 -15.6 9.1 -16.1 9.1 -11.4C9.1 -8.4 5 -5.5 1.2 -1.05H10.3" fill="none"/></g><g transform="translate(12.30 0)"><ellipse cx="2.9" cy="-12.5" rx="1.75" ry="2.55" fill="none" stroke-width="2.0"/><ellipse cx="10.65" cy="-3.5" rx="1.75" ry="2.55" fill="none" stroke-width="2.0"/><path d="M12.0 -15.7L1.4 -0.3" fill="none" stroke-width="2.0"/></g></g><text x="127.6" y="201.9" font-size="14.3" fill="#414a53" stroke="#414a53" stroke-width="0.55" stroke-linejoin="round" textLength="55.6" lengthAdjust="spacingAndGlyphs">Pakistan</text><g transform="translate(760.80 255.60)" fill="#7fc241" stroke="#7fc241" stroke-width="2.55" stroke-linejoin="round"><g transform="translate(0.00 0)"><path d="M8.95 -15.0H2.1L1.7 -8.5C3.6 -9.7 9.0 -10.1 9.0 -5.0C9.0 -0.4 3.4 -0.1 0.6 -2.5" fill="none"/></g><g transform="translate(12.30 0)"><ellipse cx="2.9" cy="-12.5" rx="1.75" ry="2.55" fill="none" stroke-width="2.0"/><ellipse cx="10.65" cy="-3.5" rx="1.75" ry="2.55" fill="none" stroke-width="2.0"/><path d="M12.0 -15.7L1.4 -0.3" fill="none" stroke-width="2.0"/></g></g><text x="793.6" y="255.6" font-size="14.3" fill="#414a53" stroke="#414a53" stroke-width="0.55" stroke-linejoin="round" textLength="71.5" lengthAdjust="spacingAndGlyphs">Philippines</text><g transform="translate(95.00 285.00)" fill="#1a9ce4" stroke="#1a9ce4" stroke-width="2.55" stroke-linejoin="round"><g transform="translate(0.00 0)"><path d="M0.9 -14.9H8.1L4.0 -9.45C7 -9.8 8.7 -7.6 8.7 -5C8.7 -0.4 3 -0.1 0.5 -2.5" fill="none"/></g><g transform="translate(12.30 0)"><ellipse cx="2.9" cy="-12.5" rx="1.75" ry="2.55" fill="none" stroke-width="2.0"/><ellipse cx="10.65" cy="-3.5" rx="1.75" ry="2.55" fill="none" stroke-width="2.0"/><path d="M12.0 -15.7L1.4 -0.3" fill="none" stroke-width="2.0"/></g></g><text x="127.6" y="285.0" font-size="14.3" fill="#414a53" stroke="#414a53" stroke-width="0.55" stroke-linejoin="round" textLength="85.0" lengthAdjust="spacingAndGlyphs">Saudi Arabia</text><g transform="translate(765.30 332.80)" fill="#1a9ce4" stroke="#1a9ce4" stroke-width="2.55" stroke-linejoin="round"><g transform="translate(0.00 0)"><path d="M4.7 -15.95L0 -4.7V-2.8H10.6V-4.9H2.75L7.2 -15.95Z" stroke="none"/><path d="M8.8 -9.4V0" fill="none"/></g><g transform="translate(12.30 0)"><ellipse cx="2.9" cy="-12.5" rx="1.75" ry="2.55" fill="none" stroke-width="2.0"/><ellipse cx="10.65" cy="-3.5" rx="1.75" ry="2.55" fill="none" stroke-width="2.0"/><path d="M12.0 -15.7L1.4 -0.3" fill="none" stroke-width="2.0"/></g></g><text x="798.1" y="332.8" font-size="14.3" fill="#414a53" stroke="#414a53" stroke-width="0.55" stroke-linejoin="round" textLength="67.0" lengthAdjust="spacingAndGlyphs">Singapore</text><g transform="translate(772.50 400.80)" fill="#7fc241" stroke="#7fc241" stroke-width="2.55" stroke-linejoin="round"><g transform="translate(0.00 0)"><path d="M4.7 -15.95L0 -4.7V-2.8H10.6V-4.9H2.75L7.2 -15.95Z" stroke="none"/><path d="M8.8 -9.4V0" fill="none"/></g><g transform="translate(12.30 0)"><ellipse cx="2.9" cy="-12.5" rx="1.75" ry="2.55" fill="none" stroke-width="2.0"/><ellipse cx="10.65" cy="-3.5" rx="1.75" ry="2.55" fill="none" stroke-width="2.0"/><path d="M12.0 -15.7L1.4 -0.3" fill="none" stroke-width="2.0"/></g></g><text x="805.9" y="400.8" font-size="14.3" fill="#414a53" stroke="#414a53" stroke-width="0.55" stroke-linejoin="round" textLength="59.2" lengthAdjust="spacingAndGlyphs">Malaysia</text><g transform="translate(766.50 467.90)" fill="#1a9ce4" stroke="#1a9ce4" stroke-width="2.55" stroke-linejoin="round"><g transform="translate(0.00 0)"><path d="M1.0 -13.1C2.4 -15.6 9.1 -16.1 9.1 -11.4C9.1 -8.4 5 -5.5 1.2 -1.05H10.3" fill="none"/></g><g transform="translate(12.30 0)"><ellipse cx="2.9" cy="-12.5" rx="1.75" ry="2.55" fill="none" stroke-width="2.0"/><ellipse cx="10.65" cy="-3.5" rx="1.75" ry="2.55" fill="none" stroke-width="2.0"/><path d="M12.0 -15.7L1.4 -0.3" fill="none" stroke-width="2.0"/></g></g><text x="799.1" y="467.9" font-size="14.3" fill="#414a53" stroke="#414a53" stroke-width="0.55" stroke-linejoin="round" textLength="66.3" lengthAdjust="spacingAndGlyphs">Indonesia</text>
</svg>
</body></html>
